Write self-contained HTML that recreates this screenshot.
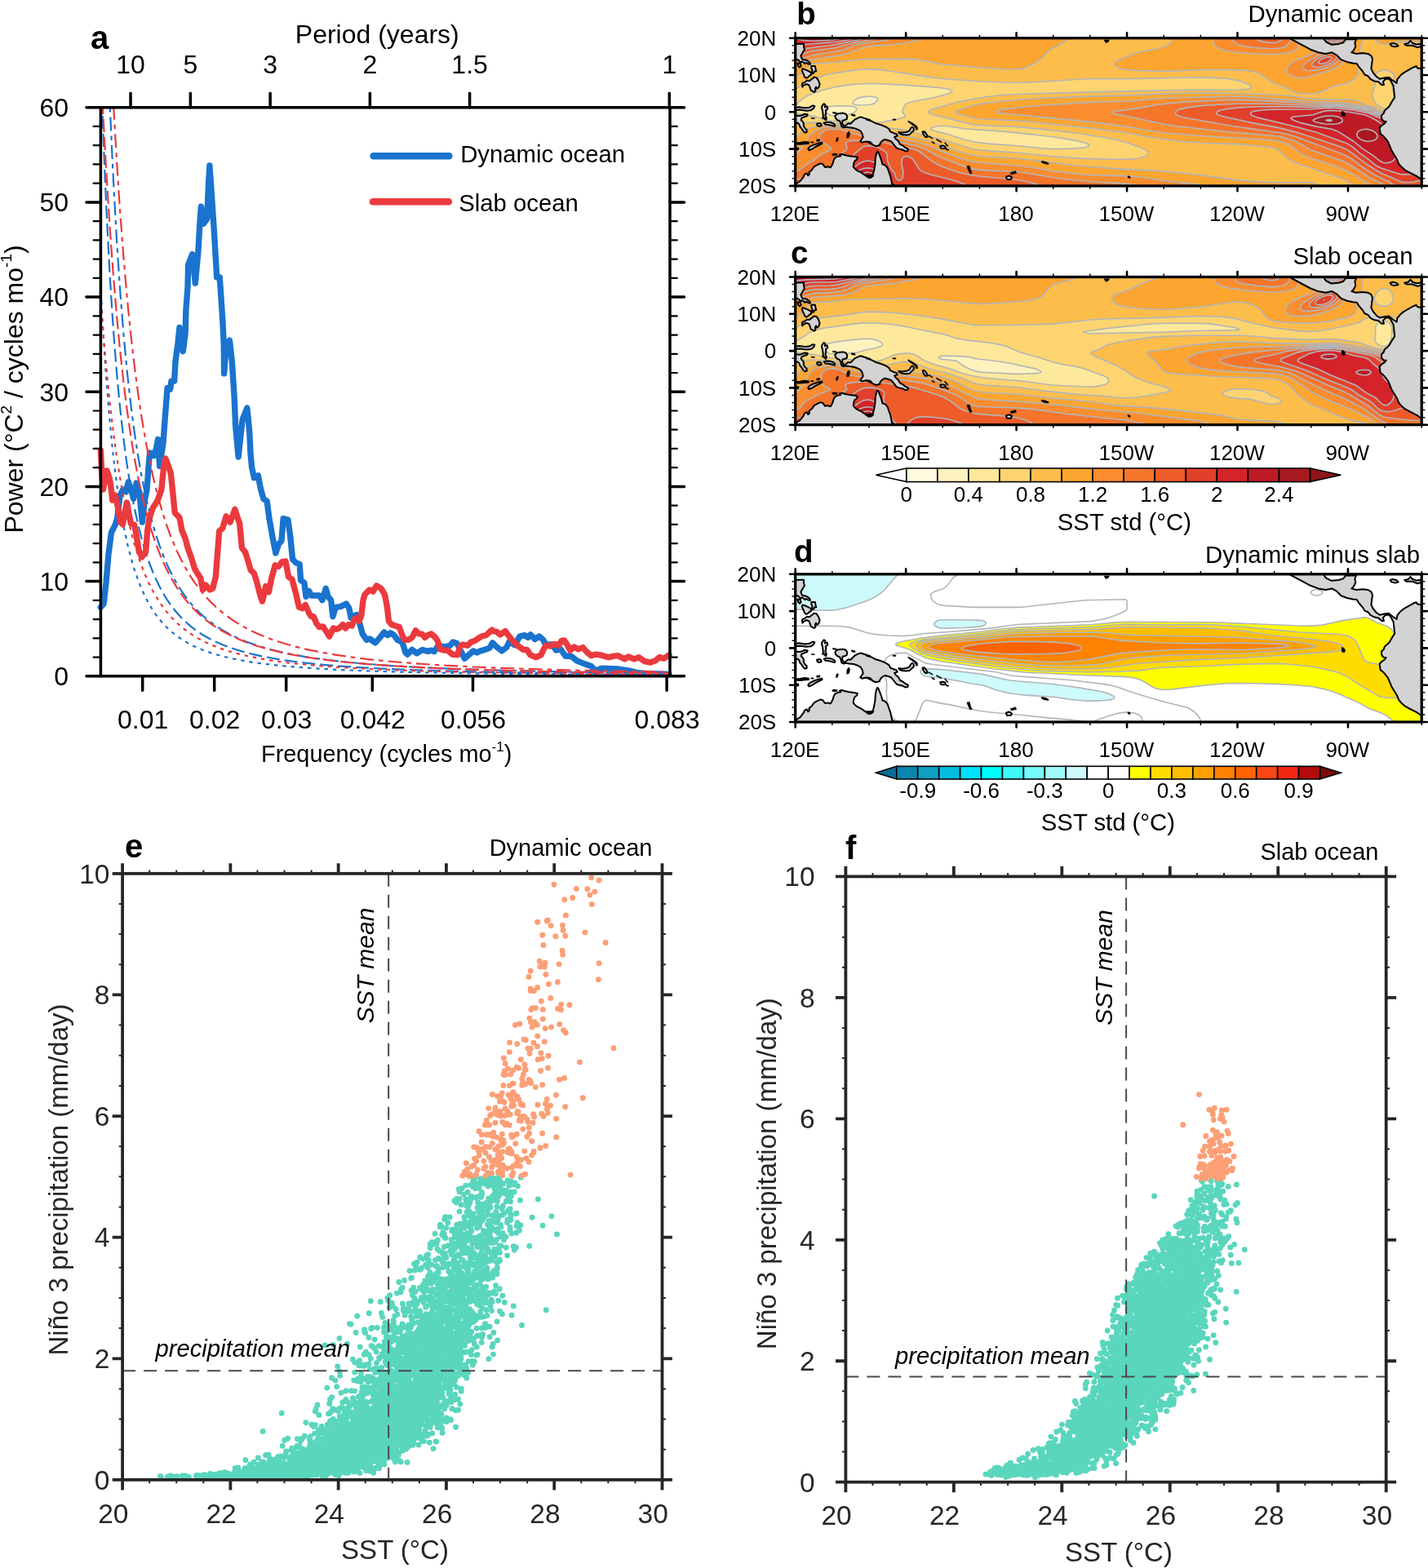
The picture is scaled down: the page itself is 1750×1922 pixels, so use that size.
<!DOCTYPE html>
<html lang="en"><head><meta charset="utf-8"><title>Figure</title>
<style>
html,body{margin:0;padding:0;background:#fff;overflow:hidden}
svg{display:block}
text{font-family:"Liberation Sans",sans-serif;white-space:pre}
</style></head><body>
<svg width="1750" height="1922" viewBox="0 0 1750 1922">
<rect width="1750" height="1922" fill="#fff"/>
<g id="pa">
<clipPath id="clipa"><rect x="123.4" y="131.7" width="697.6" height="700.1"/></clipPath>
<g clip-path="url(#clipa)" fill="none" stroke-width="2.2">
<path d="M113.1,81 114.9,139 116.6,191.5 118.4,239.2 120.1,282.4 121.9,321.6 123.7,357.1 125.4,389.4 127.2,418.8 128.9,445.6 130.7,470 132.5,492.3 134.2,512.7 136,531.5 137.7,548.7 139.5,564.5 141.3,579.1 143,592.6 144.8,605 146.5,616.5 148.3,627.2 150.1,637.2 151.8,646.4 153.6,655 155.3,663.1 157.1,670.6 158.9,677.6 160.6,684.2 162.4,690.3 164.1,696.1 165.9,701.6 167.7,706.7 169.4,711.5 171.2,716.1 172.9,720.4 174.7,724.4 176.5,728.3 178.2,731.9 180,735.4 181.7,738.6 183.5,741.7 185.3,744.7 187,747.5 188.8,750.1 190.5,752.7 192.3,755.1 194.1,757.4 195.8,759.6 197.6,761.7 199.3,763.7 201.1,765.6 202.9,767.5 204.6,769.2 206.4,770.9 208.1,772.5 209.9,774.1 211.7,775.6 213.4,777 215.2,778.4 216.9,779.7 218.7,781 220.5,782.2 222.2,783.4 224,784.5 225.7,785.6 227.5,786.6 229.3,787.6 231,788.6 232.8,789.6 234.5,790.5 236.3,791.4 238.1,792.2 239.8,793 241.6,793.8 243.3,794.6 245.1,795.3 246.9,796 248.6,796.7 250.4,797.4 252.1,798.1 253.9,798.7 255.7,799.3 257.4,799.9 259.2,800.5 260.9,801.1 262.7,801.6 264.5,802.1 273.3,804.6 282.1,806.7 290.9,808.5 299.7,810.1 308.5,811.6 317.3,812.9 326.1,814 334.9,815 343.7,815.9 352.5,816.8 361.3,817.5 370.1,818.2 378.9,818.8 387.7,819.4 396.5,819.9 405.3,820.4 414.1,820.9 422.9,821.3 431.7,821.6 440.5,822 449.3,822.3 458.1,822.6 466.9,822.9 475.7,823.2 484.5,823.4 493.3,823.6 502.1,823.9 510.9,824.1 519.7,824.3 528.5,824.4 537.3,824.6 546.1,824.8 554.9,824.9 563.7,825.1 572.5,825.2 581.3,825.3 590.1,825.4 598.9,825.5 607.7,825.7 616.5,825.8 625.3,825.9 634.1,826 642.9,826 651.7,826.1 660.5,826.2 669.3,826.3 678.1,826.4 686.9,826.4 695.7,826.5 704.5,826.6 713.3,826.6 722.1,826.7 730.9,826.7 739.7,826.8 748.5,826.9 757.3,826.9 766.1,826.9 774.9,827 783.7,827 792.5,827.1 801.3,827.1 810.1,827.2 818.9,827.2" stroke="#1a73ce" stroke-dasharray="4.5 5.8"/>
<path d="M120.1,-33.9 121.9,27.9 123.7,84 125.4,135 127.2,181.4 128.9,223.7 130.7,262.2 132.5,297.5 134.2,329.7 136,359.3 137.7,386.5 139.5,411.5 141.3,434.5 143,455.8 144.8,475.4 146.5,493.7 148.3,510.5 150.1,526.2 151.8,540.8 153.6,554.4 155.3,567.1 157.1,579 158.9,590.1 160.6,600.5 162.4,610.2 164.1,619.3 165.9,627.9 167.7,636 169.4,643.6 171.2,650.8 172.9,657.6 174.7,664 176.5,670.1 178.2,675.8 180,681.3 181.7,686.4 183.5,691.3 185.3,696 187,700.4 188.8,704.6 190.5,708.6 192.3,712.4 194.1,716.1 195.8,719.6 197.6,722.9 199.3,726 201.1,729.1 202.9,732 204.6,734.8 206.4,737.4 208.1,740 209.9,742.4 211.7,744.8 213.4,747 215.2,749.2 216.9,751.3 218.7,753.3 220.5,755.2 222.2,757.1 224,758.8 225.7,760.6 227.5,762.2 229.3,763.8 231,765.4 232.8,766.9 234.5,768.3 236.3,769.7 238.1,771 239.8,772.3 241.6,773.6 243.3,774.8 245.1,776 246.9,777.1 248.6,778.2 250.4,779.3 252.1,780.3 253.9,781.3 255.7,782.3 257.4,783.2 259.2,784.1 260.9,785 262.7,785.8 264.5,786.7 273.3,790.5 282.1,793.8 290.9,796.8 299.7,799.3 308.5,801.6 317.3,803.6 326.1,805.4 334.9,807 343.7,808.5 352.5,809.8 361.3,811 370.1,812.1 378.9,813.1 387.7,814 396.5,814.8 405.3,815.6 414.1,816.3 422.9,816.9 431.7,817.5 440.5,818.1 449.3,818.6 458.1,819 466.9,819.5 475.7,819.9 484.5,820.3 493.3,820.7 502.1,821 510.9,821.3 519.7,821.6 528.5,821.9 537.3,822.2 546.1,822.4 554.9,822.7 563.7,822.9 572.5,823.1 581.3,823.3 590.1,823.5 598.9,823.7 607.7,823.8 616.5,824 625.3,824.2 634.1,824.3 642.9,824.4 651.7,824.6 660.5,824.7 669.3,824.8 678.1,824.9 686.9,825.1 695.7,825.2 704.5,825.3 713.3,825.4 722.1,825.5 730.9,825.6 739.7,825.6 748.5,825.7 757.3,825.8 766.1,825.9 774.9,826 783.7,826 792.5,826.1 801.3,826.2 810.1,826.2 818.9,826.3" stroke="#1a73ce" stroke-dasharray="16 6"/>
<path d="M128.9,-28.9 130.7,24 132.5,72.6 134.2,117.2 136,158.3 137.7,196.1 139.5,231 141.3,263.3 143,293.2 144.8,320.8 146.5,346.5 148.3,370.4 150.1,392.6 151.8,413.3 153.6,432.6 155.3,450.7 157.1,467.6 158.9,483.4 160.6,498.2 162.4,512.1 164.1,525.2 165.9,537.5 167.7,549.1 169.4,560.1 171.2,570.4 172.9,580.2 174.7,589.4 176.5,598.1 178.2,606.4 180,614.2 181.7,621.7 183.5,628.7 185.3,635.5 187,641.8 188.8,647.9 190.5,653.7 192.3,659.3 194.1,664.5 195.8,669.6 197.6,674.4 199.3,679 201.1,683.4 202.9,687.6 204.6,691.6 206.4,695.5 208.1,699.2 209.9,702.7 211.7,706.1 213.4,709.4 215.2,712.6 216.9,715.6 218.7,718.5 220.5,721.3 222.2,724 224,726.6 225.7,729.1 227.5,731.5 229.3,733.9 231,736.1 232.8,738.3 234.5,740.4 236.3,742.4 238.1,744.3 239.8,746.2 241.6,748 243.3,749.8 245.1,751.5 246.9,753.2 248.6,754.8 250.4,756.3 252.1,757.8 253.9,759.3 255.7,760.7 257.4,762.1 259.2,763.4 260.9,764.7 262.7,766 264.5,767.2 273.3,772.8 282.1,777.6 290.9,781.9 299.7,785.7 308.5,789 317.3,791.9 326.1,794.6 334.9,796.9 343.7,799.1 352.5,801 361.3,802.7 370.1,804.3 378.9,805.8 387.7,807.1 396.5,808.3 405.3,809.4 414.1,810.4 422.9,811.4 431.7,812.2 440.5,813 449.3,813.8 458.1,814.5 466.9,815.2 475.7,815.8 484.5,816.3 493.3,816.9 502.1,817.4 510.9,817.8 519.7,818.3 528.5,818.7 537.3,819.1 546.1,819.4 554.9,819.8 563.7,820.1 572.5,820.4 581.3,820.7 590.1,821 598.9,821.3 607.7,821.5 616.5,821.8 625.3,822 634.1,822.2 642.9,822.4 651.7,822.6 660.5,822.8 669.3,823 678.1,823.1 686.9,823.3 695.7,823.5 704.5,823.6 713.3,823.8 722.1,823.9 730.9,824 739.7,824.2 748.5,824.3 757.3,824.4 766.1,824.5 774.9,824.6 783.7,824.7 792.5,824.8 801.3,824.9 810.1,825 818.9,825.1" stroke="#1a73ce" stroke-dasharray="17 6 5.5 6"/>
</g>
<path d="M123.4,744.3 127.1,740 130,714.3 132.9,680 136.4,652.9 141.4,642.9 143.6,635.7 147.1,607.1 150.7,600 154.3,602.9 157.4,590.7 160.7,600 163.6,611.4 167.1,592.1 170.7,602.9 174.3,640 177.1,614.3 180,600 182.1,571.4 183.6,555 188.6,558.6 191.4,550 193.6,538.6 195.7,571.4 200,542.9 202.1,514.3 204.3,485.7 205,475.7 208.6,477.1 210,467.1 213.6,467.1 215,442.9 217.9,421.4 220,401.4 224.3,430.7 227.1,408.6 227.9,380 230,351.4 230.7,324.3 235.7,311.7 239.3,347.1 242.9,308.6 245,271.4 246.4,253.1 249.3,274.3 253.6,268.6 255.7,222.9 256.9,202.9 259.3,237.1 262.6,287.1 265.7,340 269.3,340 272.9,394.3 274.3,422.9 274.6,457.9 277.1,425.7 281.4,417.1 284.3,442.9 287.1,485.7 288.6,521.4 292.1,560 297.1,514.3 302.9,500 305.7,528.6 307.1,557.1 308.6,572.9 311.4,585.7 316.4,582.9 319.3,598.6 322.9,611.4 327.1,614.3 330,635.7 334.3,660 337.9,677.9 341.4,667.1 345,662.9 347.1,635.7 352.9,637.1 355.7,657.1 358.6,685.7 362.9,690 367.1,691.4 368.6,711.4 372.9,714.3 375,731.4 378.6,724.3 381.4,730 391.4,730 395,735.7 399.3,721.4 402.1,731.4 405.7,735.7 407.9,755.7 411.4,744.3 417.1,743.6 424.3,740 427.9,745.7 430,757.1 437.1,753.6 440.7,764.3 444.3,777.1 449.3,784.3 452.9,782.9 460,787.9 465.7,781.4 470.7,775 475,778.6 478.6,775.7 482.9,778.6 487.1,784.3 492.9,787.1 497.1,800 499.3,802.1 505,796.4 510.7,800.7 517.9,796.4 524.3,798.6 528.6,797.1 532.1,798.6 537.1,791.4 545.7,792.9 551.4,791.4 555,787.1 560,788.6 565.7,800 569.3,807.1 574.3,802.9 580,797.9 584.3,800 588.6,797.9 594.3,796.4 600,794.3 603.6,787.9 607.1,791.4 608.6,792.9 615,797.9 620.7,793.6 624.3,786.4 630.7,790.7 637.1,780 642.9,778.6 647.1,781.4 650,777.9 655.7,783.6 660.7,780 665.7,784.3 668.6,790 677.1,790 681.4,797.1 687.1,795.7 692.9,804.3 700,804.3 707.1,810 714.3,812.9 724.3,816.4 730,822.1 737.1,819.3 757.1,820 771.4,822.1 782.9,825 800,825.7 820,826.4" stroke="#1a73ce" fill="none" stroke-width="7.4" stroke-linejoin="round" stroke-linecap="round"/>
<g clip-path="url(#clipa)" fill="none" stroke-width="2.2">
<path d="M113.1,215.4 114.9,244.3 116.6,272.3 118.4,299.2 120.1,325 121.9,349.5 123.7,372.9 125.4,395.1 127.2,416.1 128.9,436 130.7,454.7 132.5,472.5 134.2,489.2 136,505 137.7,519.9 139.5,533.9 141.3,547.1 143,559.6 144.8,571.3 146.5,582.4 148.3,592.9 150.1,602.7 151.8,612.1 153.6,620.9 155.3,629.2 157.1,637.1 158.9,644.6 160.6,651.6 162.4,658.3 164.1,664.7 165.9,670.7 167.7,676.4 169.4,681.8 171.2,687 172.9,691.9 174.7,696.6 176.5,701 178.2,705.3 180,709.3 181.7,713.2 183.5,716.9 185.3,720.4 187,723.7 188.8,726.9 190.5,730 192.3,732.9 194.1,735.8 195.8,738.5 197.6,741 199.3,743.5 201.1,745.9 202.9,748.2 204.6,750.4 206.4,752.5 208.1,754.5 209.9,756.5 211.7,758.3 213.4,760.1 215.2,761.9 216.9,763.6 218.7,765.2 220.5,766.7 222.2,768.2 224,769.7 225.7,771.1 227.5,772.4 229.3,773.7 231,775 232.8,776.2 234.5,777.4 236.3,778.5 238.1,779.6 239.8,780.7 241.6,781.7 243.3,782.7 245.1,783.7 246.9,784.6 248.6,785.5 250.4,786.4 252.1,787.3 253.9,788.1 255.7,788.9 257.4,789.7 259.2,790.5 260.9,791.2 262.7,791.9 264.5,792.6 273.3,795.9 282.1,798.7 290.9,801.1 299.7,803.3 308.5,805.2 317.3,807 326.1,808.5 334.9,809.9 343.7,811.1 352.5,812.3 361.3,813.3 370.1,814.2 378.9,815.1 387.7,815.9 396.5,816.6 405.3,817.2 414.1,817.8 422.9,818.4 431.7,818.9 440.5,819.4 449.3,819.8 458.1,820.3 466.9,820.7 475.7,821 484.5,821.4 493.3,821.7 502.1,822 510.9,822.2 519.7,822.5 528.5,822.8 537.3,823 546.1,823.2 554.9,823.4 563.7,823.6 572.5,823.8 581.3,824 590.1,824.1 598.9,824.3 607.7,824.4 616.5,824.6 625.3,824.7 634.1,824.9 642.9,825 651.7,825.1 660.5,825.2 669.3,825.3 678.1,825.4 686.9,825.5 695.7,825.6 704.5,825.7 713.3,825.8 722.1,825.9 730.9,825.9 739.7,826 748.5,826.1 757.3,826.2 766.1,826.2 774.9,826.3 783.7,826.4 792.5,826.4 801.3,826.5 810.1,826.5 818.9,826.6" stroke="#eb3a3e" stroke-dasharray="4.5 5.8"/>
<path d="M118.4,-29.8 120.1,10.9 121.9,49.8 123.7,86.8 125.4,122.1 127.2,155.6 128.9,187.4 130.7,217.5 132.5,245.9 134.2,272.8 136,298.2 137.7,322.2 139.5,344.8 141.3,366.2 143,386.4 144.8,405.4 146.5,423.4 148.3,440.4 150.1,456.5 151.8,471.7 153.6,486 155.3,499.6 157.1,512.5 158.9,524.7 160.6,536.2 162.4,547.2 164.1,557.6 165.9,567.5 167.7,576.8 169.4,585.8 171.2,594.2 172.9,602.3 174.7,610 176.5,617.3 178.2,624.3 180,630.9 181.7,637.3 183.5,643.3 185.3,649.1 187,654.6 188.8,659.9 190.5,665 192.3,669.9 194.1,674.5 195.8,678.9 197.6,683.2 199.3,687.3 201.1,691.2 202.9,695 204.6,698.6 206.4,702.1 208.1,705.5 209.9,708.7 211.7,711.8 213.4,714.8 215.2,717.7 216.9,720.4 218.7,723.1 220.5,725.7 222.2,728.2 224,730.6 225.7,732.9 227.5,735.1 229.3,737.3 231,739.4 232.8,741.4 234.5,743.3 236.3,745.2 238.1,747 239.8,748.8 241.6,750.5 243.3,752.2 245.1,753.8 246.9,755.4 248.6,756.9 250.4,758.3 252.1,759.8 253.9,761.1 255.7,762.5 257.4,763.8 259.2,765.1 260.9,766.3 262.7,767.5 264.5,768.6 273.3,774 282.1,778.6 290.9,782.7 299.7,786.4 308.5,789.6 317.3,792.5 326.1,795 334.9,797.3 343.7,799.4 352.5,801.3 361.3,803 370.1,804.5 378.9,806 387.7,807.3 396.5,808.4 405.3,809.5 414.1,810.6 422.9,811.5 431.7,812.3 440.5,813.1 449.3,813.9 458.1,814.6 466.9,815.2 475.7,815.8 484.5,816.4 493.3,816.9 502.1,817.4 510.9,817.9 519.7,818.3 528.5,818.7 537.3,819.1 546.1,819.5 554.9,819.8 563.7,820.1 572.5,820.5 581.3,820.8 590.1,821 598.9,821.3 607.7,821.5 616.5,821.8 625.3,822 634.1,822.2 642.9,822.4 651.7,822.6 660.5,822.8 669.3,823 678.1,823.2 686.9,823.3 695.7,823.5 704.5,823.6 713.3,823.8 722.1,823.9 730.9,824 739.7,824.2 748.5,824.3 757.3,824.4 766.1,824.5 774.9,824.6 783.7,824.7 792.5,824.8 801.3,824.9 810.1,825 818.9,825.1" stroke="#eb3a3e" stroke-dasharray="16 6"/>
<path d="M132.5,-8 134.2,31.3 136,68.3 137.7,103.2 139.5,136.2 141.3,167.2 143,196.5 144.8,224.1 146.5,250.1 148.3,274.7 150.1,297.9 151.8,319.8 153.6,340.5 155.3,360.1 157.1,378.6 158.9,396.1 160.6,412.7 162.4,428.4 164.1,443.3 165.9,457.5 167.7,470.9 169.4,483.7 171.2,495.8 172.9,507.3 174.7,518.3 176.5,528.8 178.2,538.7 180,548.2 181.7,557.3 183.5,565.9 185.3,574.2 187,582 188.8,589.6 190.5,596.8 192.3,603.7 194.1,610.3 195.8,616.6 197.6,622.7 199.3,628.5 201.1,634.1 202.9,639.5 204.6,644.6 206.4,649.6 208.1,654.3 209.9,658.9 211.7,663.3 213.4,667.5 215.2,671.6 216.9,675.6 218.7,679.4 220.5,683 222.2,686.5 224,689.9 225.7,693.2 227.5,696.4 229.3,699.4 231,702.4 232.8,705.3 234.5,708 236.3,710.7 238.1,713.3 239.8,715.8 241.6,718.2 243.3,720.6 245.1,722.9 246.9,725.1 248.6,727.2 250.4,729.3 252.1,731.3 253.9,733.3 255.7,735.2 257.4,737 259.2,738.8 260.9,740.5 262.7,742.2 264.5,743.9 273.3,751.4 282.1,758 290.9,763.8 299.7,768.9 308.5,773.5 317.3,777.5 326.1,781.1 334.9,784.4 343.7,787.3 352.5,790 361.3,792.4 370.1,794.6 378.9,796.6 387.7,798.4 396.5,800.1 405.3,801.6 414.1,803.1 422.9,804.4 431.7,805.6 440.5,806.7 449.3,807.8 458.1,808.8 466.9,809.7 475.7,810.5 484.5,811.3 493.3,812.1 502.1,812.7 510.9,813.4 519.7,814 528.5,814.6 537.3,815.1 546.1,815.7 554.9,816.1 563.7,816.6 572.5,817 581.3,817.5 590.1,817.8 598.9,818.2 607.7,818.6 616.5,818.9 625.3,819.2 634.1,819.5 642.9,819.8 651.7,820.1 660.5,820.4 669.3,820.6 678.1,820.9 686.9,821.1 695.7,821.3 704.5,821.5 713.3,821.7 722.1,821.9 730.9,822.1 739.7,822.3 748.5,822.4 757.3,822.6 766.1,822.8 774.9,822.9 783.7,823.1 792.5,823.2 801.3,823.4 810.1,823.5 818.9,823.6" stroke="#eb3a3e" stroke-dasharray="17 6 5.5 6"/>
</g>
<path d="M123.4,552 124.5,575 126.3,600 128.5,590 131,577 133.5,584 135.5,593 137.8,613 141,607 144.5,622 147.5,640 150.5,643 153,628 155.5,616 158,630 160.5,642 164.5,643 167,655 170,674 173.6,683 178.6,677 180.7,650 182.9,636 187.1,623 192.9,614 197.9,600 200.7,571.4 202.9,562.1 206.4,571.4 209.3,580 211.4,600 214.3,628.6 220,634.3 222.9,650 227.1,660 230,671.4 234.3,682.9 238.6,697.1 242.9,704.3 245.7,708.6 248.6,722.9 252.1,717.1 257.1,722.9 260.7,721.4 264.3,707.1 267.1,671.4 268.6,651.4 272.9,647.1 277.1,632.9 282.1,640 287.9,624.3 291.4,635.7 293.6,641.4 296.4,671.4 300.7,677.1 304.3,688.6 307.1,698.6 311.4,702.9 315,714.3 318.6,728.6 321.4,737.1 325.7,718.6 329.3,725.7 332.9,708.6 337.1,692.9 341.4,694.3 345.7,688.6 350,687.9 353.6,707.1 357.9,710 362.9,728.6 366.4,744.3 370.7,745.7 374.3,741.4 378.6,751.4 381.4,755.7 384.3,755.7 387.9,764.3 391.4,768.6 395.7,767.9 400,774.3 403.6,780 408.6,770 412.1,771.4 415.7,770 420,765.7 423.6,770 427.1,765.7 431.4,767.1 434.3,758.6 437.9,757.1 440,761.4 442.9,754.3 445,735.7 447.1,728.6 452.9,722.9 457.1,725 461.4,717.9 467.1,721.4 471.4,728.6 474.3,742.9 476.4,761.4 480,765.7 484.3,767.1 489.3,768.6 492.9,778.6 495.7,784.3 500.7,784.3 505,781.4 509.3,772.9 513.6,777.1 517.1,777.1 520.7,781.4 524.3,778.6 528.6,777.1 533.6,781.4 536.4,785.7 539.3,795.7 544.3,797.1 548.6,797.1 554.3,802.1 560.7,802.9 563.6,792.9 567.1,790 572.9,791.4 577.1,787.1 581.4,785.7 585.7,782.9 590,780 595.7,778.6 602.9,772.1 604.3,773.6 608.6,774.3 612.9,777.9 619.3,773.6 622.9,778.6 628.6,785.7 634.3,791.4 641.4,796.4 645.7,796.4 650,802.9 657.1,805.7 662.9,802.9 667.1,794.3 670,790.7 674.3,792.1 680,789.3 684.3,791.4 687.9,785.7 691.4,785 695,790 698.6,797.1 703.6,792.9 708.6,795.7 714.3,793.6 718.6,798.6 724.3,803.6 730,802.1 735.7,802.9 745.7,805.7 751.4,804.3 757.1,803.6 765.7,807.9 770,805 777.1,807.9 782.9,805.7 790,810.7 797.1,812.1 802.9,810 807.9,805.7 813.6,807.1 820,802.9" stroke="#eb3a3e" fill="none" stroke-width="7.4" stroke-linejoin="round" stroke-linecap="round"/>
<g stroke="#000" stroke-linecap="round" fill="none">
<rect x="123.4" y="131.7" width="697.6" height="697.1" stroke-width="3.5" stroke-linejoin="round"/>
<path d="M123.4 828.8H105.9 M821 828.8H838.5" stroke-width="3.5"/>
<path d="M123.4 805.56H114.6 M821 805.56H829.8" stroke-width="2.2"/>
<path d="M123.4 782.33H114.6 M821 782.33H829.8" stroke-width="2.2"/>
<path d="M123.4 759.09H114.6 M821 759.09H829.8" stroke-width="2.2"/>
<path d="M123.4 735.85H114.6 M821 735.85H829.8" stroke-width="2.2"/>
<path d="M123.4 712.62H105.9 M821 712.62H838.5" stroke-width="3.5"/>
<path d="M123.4 689.38H114.6 M821 689.38H829.8" stroke-width="2.2"/>
<path d="M123.4 666.14H114.6 M821 666.14H829.8" stroke-width="2.2"/>
<path d="M123.4 642.91H114.6 M821 642.91H829.8" stroke-width="2.2"/>
<path d="M123.4 619.67H114.6 M821 619.67H829.8" stroke-width="2.2"/>
<path d="M123.4 596.43H105.9 M821 596.43H838.5" stroke-width="3.5"/>
<path d="M123.4 573.2H114.6 M821 573.2H829.8" stroke-width="2.2"/>
<path d="M123.4 549.96H114.6 M821 549.96H829.8" stroke-width="2.2"/>
<path d="M123.4 526.72H114.6 M821 526.72H829.8" stroke-width="2.2"/>
<path d="M123.4 503.49H114.6 M821 503.49H829.8" stroke-width="2.2"/>
<path d="M123.4 480.25H105.9 M821 480.25H838.5" stroke-width="3.5"/>
<path d="M123.4 457.01H114.6 M821 457.01H829.8" stroke-width="2.2"/>
<path d="M123.4 433.78H114.6 M821 433.78H829.8" stroke-width="2.2"/>
<path d="M123.4 410.54H114.6 M821 410.54H829.8" stroke-width="2.2"/>
<path d="M123.4 387.3H114.6 M821 387.3H829.8" stroke-width="2.2"/>
<path d="M123.4 364.07H105.9 M821 364.07H838.5" stroke-width="3.5"/>
<path d="M123.4 340.83H114.6 M821 340.83H829.8" stroke-width="2.2"/>
<path d="M123.4 317.59H114.6 M821 317.59H829.8" stroke-width="2.2"/>
<path d="M123.4 294.36H114.6 M821 294.36H829.8" stroke-width="2.2"/>
<path d="M123.4 271.12H114.6 M821 271.12H829.8" stroke-width="2.2"/>
<path d="M123.4 247.88H105.9 M821 247.88H838.5" stroke-width="3.5"/>
<path d="M123.4 224.65H114.6 M821 224.65H829.8" stroke-width="2.2"/>
<path d="M123.4 201.41H114.6 M821 201.41H829.8" stroke-width="2.2"/>
<path d="M123.4 178.17H114.6 M821 178.17H829.8" stroke-width="2.2"/>
<path d="M123.4 154.94H114.6 M821 154.94H829.8" stroke-width="2.2"/>
<path d="M123.4 131.7H105.9 M821 131.7H838.5" stroke-width="3.5"/>
<path d="M174.7 828.8V846.3" stroke-width="3.5"/>
<path d="M262.7 828.8V846.3" stroke-width="3.5"/>
<path d="M350.7 828.8V846.3" stroke-width="3.5"/>
<path d="M456.3 828.8V846.3" stroke-width="3.5"/>
<path d="M579.5 828.8V846.3" stroke-width="3.5"/>
<path d="M817.1 828.8V846.3" stroke-width="3.5"/>
<path d="M160.03 131.7V114.2" stroke-width="3.5"/>
<path d="M233.37 131.7V114.2" stroke-width="3.5"/>
<path d="M331.14 131.7V114.2" stroke-width="3.5"/>
<path d="M453.37 131.7V114.2" stroke-width="3.5"/>
<path d="M575.59 131.7V114.2" stroke-width="3.5"/>
<path d="M820.3 131.7V114.2" stroke-width="3.5"/>
</g>
<text x="84" y="840.2" font-size="32" text-anchor="end" fill="#000">0</text>
<text x="84" y="724.02" font-size="32" text-anchor="end" fill="#000">10</text>
<text x="84" y="607.83" font-size="32" text-anchor="end" fill="#000">20</text>
<text x="84" y="491.65" font-size="32" text-anchor="end" fill="#000">30</text>
<text x="84" y="375.47" font-size="32" text-anchor="end" fill="#000">40</text>
<text x="84" y="259.28" font-size="32" text-anchor="end" fill="#000">50</text>
<text x="84" y="143.1" font-size="32" text-anchor="end" fill="#000">60</text>
<text x="175.2" y="892.8" font-size="32" text-anchor="middle" fill="#000">0.01</text>
<text x="263.2" y="892.8" font-size="32" text-anchor="middle" fill="#000">0.02</text>
<text x="351.2" y="892.8" font-size="32" text-anchor="middle" fill="#000">0.03</text>
<text x="456.8" y="892.8" font-size="32" text-anchor="middle" fill="#000">0.042</text>
<text x="580" y="892.8" font-size="32" text-anchor="middle" fill="#000">0.056</text>
<text x="817.6" y="892.8" font-size="32" text-anchor="middle" fill="#000">0.083</text>
<text x="160.03" y="89.5" font-size="32" text-anchor="middle" fill="#000">10</text>
<text x="233.37" y="89.5" font-size="32" text-anchor="middle" fill="#000">5</text>
<text x="331.14" y="89.5" font-size="32" text-anchor="middle" fill="#000">3</text>
<text x="453.37" y="89.5" font-size="32" text-anchor="middle" fill="#000">2</text>
<text x="575.59" y="89.5" font-size="32" text-anchor="middle" fill="#000">1.5</text>
<text x="820.5" y="89.5" font-size="32" text-anchor="middle" fill="#000">1</text>
<text x="462.3" y="53.3" font-size="32" text-anchor="middle" fill="#000">Period (years)</text>
<text x="320" y="934.3" font-size="28.9" text-anchor="start">Frequency (cycles mo<tspan font-size="17" dy="-13">-1</tspan><tspan dy="13">)</tspan></text>
<text transform="translate(27.7 477) rotate(-90)" font-size="32" text-anchor="middle">Power (°C<tspan font-size="19" dy="-13.5">2</tspan><tspan dy="13.5"> / cycles mo</tspan><tspan font-size="19" dy="-13.5">-1</tspan><tspan dy="13.5">)</tspan></text>
<text x="111" y="59.5" font-size="40" text-anchor="start" fill="#000" font-weight="bold">a</text>
<path d="M457.6 191.3H550.3" stroke="#1a73ce" stroke-width="8.6" stroke-linecap="round"/>
<path d="M457 247.3H549.8" stroke="#eb3a3e" stroke-width="8.6" stroke-linecap="round"/>
<text x="564.2" y="198.8" font-size="29.3" text-anchor="start" fill="#000">Dynamic ocean</text>
<text x="562.2" y="258.5" font-size="29.3" text-anchor="start" fill="#000">Slab ocean</text>
</g>
<g id="maps">
<defs><clipPath id="mclip"><rect x="0" y="0" width="767.55" height="181.2"/></clipPath>
<g id="land">
<path d="M-1,7.3 4.7,7 10.4,7 10.2,10.7 11.3,13.9 9.6,16.5 8.2,19.3 6.7,21.6 7.6,24.5 8.7,26.2 11.6,26.5 14.4,27.6 17.3,29.6 18.4,31.9 16.2,31.9 13.3,30.2 11.6,31.3 9.6,29.3 7.9,28.7 6.4,29.9 4.2,27.3 1.9,26.2 -1,25ZM2.7,30.7 5.9,31.3 7,34.2 5.3,35.9 3.6,34.2ZM19.6,34.2 24.2,34.2 24.7,37.6 25.6,40.5 23,41 22.4,43.3 20.2,42.7 20.7,39.3 19.6,37ZM8.7,37.6 12.2,38.7 16.2,40.5 19,42.2 19.6,45 17.3,46.2 15.6,47.9 13.3,49 11.6,47.9 10.4,45 9.3,42.7 8.2,39.9ZM8.7,55.3 11.6,54.2 14.4,51.9 17.3,52.5 23,47.9 25.9,48.5 28.2,51.9 29.9,56.5 28.7,60.5 26.4,62.2 25.3,59.9 24.2,62.2 24.7,65 23,66.2 19,63.9 17.9,60.5 16.7,57.6 14.4,56.5 12.2,57 9.9,58.2 8.7,59.9 8.2,57ZM-1,85.6 4.2,84.5 11.6,85.6 17.3,85 21.3,82.7 23.6,83.3 22.4,86.2 19,88.5 13.3,89 5.9,87.9 -1,88.5ZM-1,94.7 5.9,95.3 11.6,93 15,93.6 14.4,95.3 11,96.5 7.6,98.2 7,100.5 9.3,102.7 10.4,105.6 9.9,107.3 11.6,110.2 13.9,112.5 13.9,115.3 11.6,115.9 9.3,113.6 7.6,110.7 5.9,109 4.7,105.6 3,103.9 -1,104.5ZM32.7,83.3 35,80.5 36.7,81.6 36.2,84.5 39,83.9 39.6,86.7 37.3,88.5 37.6,91.9 36.7,94.7 38.2,98.2 37.3,100.5 34.4,97.6 33.3,89 32.2,85.6ZM26.4,105 29.3,104.2 31.6,105.3 31.9,107.3 29.3,108.2 27,107.3ZM35,103.9 38.4,103 43,103.3 47,105 48.7,106.7 48.2,108.2 44.7,107.3 40.7,106.2 36.7,105.9ZM15.6,135.9 17.9,133 23,130.7 28.2,129 32.7,127.9 32.7,129.3 24.7,133.3 20.2,136.2 16.7,137.6ZM-1,128.5 5.9,128.2 11.6,127.3 16.2,127.9 16.2,129.1 11.6,129.5 5.9,130.1 -1,129.8ZM-1,134.5 3.6,135 3.3,136.6 -1,136.3ZM48.7,95.3 51,93 54.4,92.2 58.4,91.9 61.9,93 63.6,95.9 63,99.3 60.2,100.5 57.9,101 57.3,103.9 58.7,107 60.4,108.2 64.7,104.5 67.6,105 72.7,99.9 77.3,97.6 80.2,96.7 84.7,98.2 91.6,100.5 87.3,99.9 93,101.6 98.7,104.5 104.4,106.2 110.2,108.5 114.7,111.3 116.4,114.7 120.4,116.5 123.9,117.6 125,119.9 121.6,121 122.7,123.3 126.2,126.2 128.4,130.2 131.9,131.9 134.7,134.2 138.2,135.9 137.6,138.2 134.7,138.7 131.9,137 127.3,135.9 123.9,134.7 120.4,130.2 117.6,126.7 113,125 109.6,124.2 106.2,126.2 103.9,129 103.3,131.3 98.7,132.5 94.7,130.7 90.7,127.3 87.3,127 94.4,130.2 91.6,127.3 86.4,126.7 81.9,127.9 79.6,126.7 83,121.6 81.9,117 79.6,113.6 76.2,111.9 71.6,110.2 65.9,109.6 61.9,109 59,109.6 56.7,108.5 55.6,104.5 54.4,101.6 51.6,100.5 49.3,98.2ZM-1,179.9 5.9,175.3 10.4,169.6 11,167.3 13.9,165.6 15.6,168.5 17.3,166.7 16.7,164.5 20.2,161.6 23,157.6 27,155.3 31,153.6 33.9,154.7 36.2,158.2 39.6,157.6 43,158.7 44.2,157 45.9,153.6 47,149.6 48.7,146.7 52.2,145 55.6,144.5 54.4,142.7 57.3,142.2 60.2,143.3 65.9,144.5 70.4,145 73.9,145.6 76.2,146.2 75.6,148.5 72.7,150.7 71.6,153.6 71,157.6 73.3,160.5 76.2,162.7 80.2,164.5 84.2,167.3 87.6,169.6 89.9,171.3 93.3,170.7 95.6,168.5 87.3,168.5 90.7,170.7 93.6,170.2 95.9,164.5 97.6,155.9 98.2,147.3 99.3,141.6 100.7,139 102.2,141 105.6,150.2 106.7,154.7 110.2,155.9 113,159.3 114.7,164.5 116.4,169 117.6,174.2 118.4,178.7 121.6,181 125,183.9 -1,183.9ZM126.7,115.3 130.7,115.9 135.9,115.3 139.9,113.6 141.6,110.2 143.3,109 145,110.2 145,113.6 142.2,115.9 139.9,118.2 135.9,118.7 130.7,118.2 127.3,116.7ZM155.9,114.7 158.2,114.5 161,118.2 161.9,121 159.3,121.3 157,118.2ZM177.6,132.2 181,131.9 183.9,133 183.9,135 180.4,135.6 177.9,134.5ZM258.2,170 262.1,168.7 265.3,170.7 264,173.3 259.5,173.3ZM600,-3 648,-3 648.1,1.6 650.5,4.8 656.9,8 665.7,7.2 671.3,5.6 674.5,1.6 687.3,1.6 685.7,5.6 686.5,10.4 684.1,15.2 681.7,17.6 687.3,19.2 695.3,18.4 701.7,19.2 705.7,21.6 707.3,25.6 706.5,31.2 705.7,37.6 708.1,42.4 712.1,47.2 716.1,50 721.7,48.8 727.3,48 732.1,52 736.9,55.2 737.7,50.4 741.7,45.6 745.7,42.4 756.9,36 760.9,34.4 762.5,36.8 767.3,37.6 768,36 768,172.5 766.2,172.7 761.6,169.3 752.4,164.7 747.3,161.9 742.7,157.9 739.3,153.9 737.6,149.3 730.7,137.9 728.4,132.2 726.2,127 722.7,122.5 719.9,119.6 717,117.3 715.9,109.9 718.7,107 722.2,104.7 723.9,102.2 721,101.9 718.7,99.6 718.2,95 721,92.2 722.2,88.7 725.6,85.9 727.9,83.6 731.3,77.6 734.5,72.8 732.9,58.4 728.9,51.2 725.7,49.6 722.5,50.8 720.1,53.6 721.3,57.2 718.5,57.2 714.5,53.6 709.7,52.8 704.9,50.4 701.7,46.4 697.7,44.8 695.3,40.8 690.5,35.2 688.1,31.2 683.3,30.8 676.1,29.2 668.9,26.4 663.3,20.8 657.7,17.6 649.7,19.2 640.9,17.6 631.3,14 607,1ZM728.9,7.2 732.1,6.2 736.9,7.4 738.9,9.6 734.5,10.6 730.5,9.6ZM746.5,7.2 751.3,6.2 753.7,3.2 756.1,6 760.9,7.8 767.3,7 767.3,10 762.5,11.4 756.1,9 748.9,9Z" fill="#d3d3d3" stroke="#000" stroke-width="2" stroke-linejoin="round"/>
<path d="M19.6,97.6 23.6,97.9 23.6,99 19.6,98.7ZM32.7,96.7 36.7,97.6 36.7,98.7 32.7,98.5ZM45.9,90.5 50.4,91.3 50.4,92.7 45.9,92.2ZM68.7,93 73.3,93.9 73.3,95.9 68.7,95ZM25.9,124.5 29.9,123.9 30.2,126.2 26.2,126.7ZM19,127 22.4,127.3 22.4,128.5 19,128.2ZM64.2,115.3 65.9,114.5 67,117 65.6,121.9 63,122.5 63,118.7ZM50.4,122.7 52.4,121.6 52.7,123.9 51.3,127 49.6,126.5ZM44.7,142.2 47.6,141.3 51.6,141.9 51,143.6 46.4,144.2ZM138.4,101.3 144.4,104.5 149.3,108.2 150.2,111.9 147.9,112.7 146.7,109 137.9,102.5ZM119.3,99.2 123.3,99.3 123.3,100.6 119.3,100.5ZM163.3,119.6 168.4,122.5 168.2,123.6 163,120.7ZM167.3,126.5 171,128.5 170.4,129.6 167,127.6ZM173,123.6 179.3,127 179,128.2 172.7,124.7ZM183.3,127.6 187.3,131.9 186.7,133 182.7,128.7ZM184.4,135.3 187.9,136.5 187.6,137.9 184.4,136.7ZM210.2,157.1 213.4,156.5 215.3,162.9 216.6,165.5 214,166.2 211.5,161ZM263.4,164.9 269.9,162.9 271.1,165.5 264.7,167.4ZM301.5,150.7 306,151.3 310.5,153.2 309.9,154.8 304.7,153.9 301.5,152.3ZM407.4,168.7 410.6,170 410,172.2 407.4,170.9ZM378.3,2.2 384.8,2.2 383.5,4.8 380.3,5.8ZM669.7,89.6 672.1,90.4 674.1,93.2 672.9,96 670.1,95.6 669.3,92.4Z" fill="#000" stroke="#000" stroke-width="0.5" stroke-linejoin="round"/>
</g>
<g id="mframe" stroke="#000" fill="none">
<rect x="0" y="0" width="767.55" height="181.2" stroke-width="3.3"/>
<path d="M0,0v-6.4M0,181.2v6.4M135.45,0v-6.4M135.45,181.2v6.4M270.9,0v-6.4M270.9,181.2v6.4M406.35,0v-6.4M406.35,181.2v6.4M541.8,0v-6.4M541.8,181.2v6.4M677.25,0v-6.4M677.25,181.2v6.4M0,181.2h-6.6M767.55,181.2h6.6M0,135.9h-6.6M767.55,135.9h6.6M0,90.6h-6.6M767.55,90.6h6.6M0,45.3h-6.6M767.55,45.3h6.6M0,0h-6.6M767.55,0h6.6" stroke-width="2.6" stroke-linecap="round"/>
<path d="M45.15,0v-3.4M45.15,181.2v3.4M90.3,0v-3.4M90.3,181.2v3.4M180.6,0v-3.4M180.6,181.2v3.4M225.75,0v-3.4M225.75,181.2v3.4M316.05,0v-3.4M316.05,181.2v3.4M361.2,0v-3.4M361.2,181.2v3.4M451.5,0v-3.4M451.5,181.2v3.4M496.65,0v-3.4M496.65,181.2v3.4M586.95,0v-3.4M586.95,181.2v3.4M632.1,0v-3.4M632.1,181.2v3.4M722.4,0v-3.4M722.4,181.2v3.4M767.55,0v-3.4M767.55,181.2v3.4M0,172.14h-3.6M767.55,172.14h3.6M0,163.08h-3.6M767.55,163.08h3.6M0,154.02h-3.6M767.55,154.02h3.6M0,144.96h-3.6M767.55,144.96h3.6M0,126.84h-3.6M767.55,126.84h3.6M0,117.78h-3.6M767.55,117.78h3.6M0,108.72h-3.6M767.55,108.72h3.6M0,99.66h-3.6M767.55,99.66h3.6M0,81.54h-3.6M767.55,81.54h3.6M0,72.48h-3.6M767.55,72.48h3.6M0,63.42h-3.6M767.55,63.42h3.6M0,54.36h-3.6M767.55,54.36h3.6M0,36.24h-3.6M767.55,36.24h3.6M0,27.18h-3.6M767.55,27.18h3.6M0,18.12h-3.6M767.55,18.12h3.6M0,9.06h-3.6M767.55,9.06h3.6" stroke-width="1.5" stroke-linecap="round"/>
</g>
</defs>
<g transform="translate(974.7 46.7)">
<g clip-path="url(#mclip)">
<rect x="0" y="0" width="767.55" height="181.2" fill="#ffffff"/>
<path d="M0,181.2 767.5,181.2 767.5,0 0,0 0,180.1Z" fill="#fff9df" fill-rule="evenodd"/>
<path d="M0,181.2 767.5,181.2 767.5,0 0,0 0,180.1Z" fill="#fef2bf" fill-rule="evenodd"/>
<path d="M0,181.2 767.5,181.2 767.5,0 0,0 0,180.1ZM42.9,94.6 38.3,92.9 35.6,90.6 34.6,88.3 34.7,87.2 35.4,86.1 37.1,84.9 40.6,83.9 47.4,83.3 63.2,83.2 70,83.7 73.9,84.9 74.9,86.1 75.1,87.2 74.1,89.5 71.2,91.7 67.7,93 61,94.3 51.9,95 45.1,94.9ZM74.5,81.8 72.2,81.3 70.5,80.4 70.4,79.3 71.9,77 74.7,74.7 77.1,73.6 81.3,72.4 88,71.4 92.6,71.5 98.6,72.5 100.6,73.6 101.1,74.7 100.8,75.9 99.3,77.8 97.1,79.6 94.8,80.8 90.3,81.8 76.8,82Z" fill="#fee89b" fill-rule="evenodd"/>
<path d="M0,181.2 767.5,181.2 767.5,0 0,0 0,84.1 1.3,81.5 3.1,79.3 8.2,74.7 13.5,71.3 22.6,67.2 31.6,64.3 47.4,60.3 58.7,58.2 72.2,56.6 85.8,55.8 99.3,55.8 140,57.9 169.3,60.2 182.9,61.6 190.2,63.4 192,64.6 192,65.7 190.5,66.8 187.7,68 176.3,71.3 166.5,73.6 144.5,77.6 138.5,79.3 136.3,80.4 135,81.5 132.9,84.9 131.6,88.3 131.4,90.6 134.6,95.1 133.9,96.3 131.6,97.4 124,99.7 106.1,103.2 97.1,104.1 88,104.3 42.9,101.4 36.1,100 24.8,96.4 5.5,92.9 0,91.4 0,180.1ZM300.2,134.9 273.2,132 237,129.4 221.2,127.5 207.3,124.6 185.1,117.4 167.9,113.2 166.1,112.1 165.9,111 167.3,109.9 173.8,108 180.6,107.5 187.4,108 203.2,110.6 212.2,111.6 256.1,114.4 318.3,121.3 344.5,125.7 356.7,129.1 359.1,130.2 360.2,131.4 359.5,132.5 356.5,133.6 349.9,134.6 338.6,135.4 322.8,135.8 311.5,135.7 302.5,135.1Z" fill="#fdd470" fill-rule="evenodd"/>
<path d="M0,181.2 767.5,181.2 767.5,0 0,0 0,62.4 9,57.7 21.6,52.1 30.4,47.6 36.5,45.3 45.1,43.5 70,39.7 81.3,38.5 90.3,38.1 99.3,38.4 108.4,39.3 169.3,48.4 180.6,49.8 225.7,53 259.6,54.6 285,54.4 358.9,49.8 408.6,49.9 489.9,48.1 510.2,48.4 528.8,49.8 543.2,52.1 548.6,53.8 555,56.6 558.2,58.9 558.8,60 558,61.2 555,62.3 543.7,63.4 476.3,63.7 361.2,66.2 277.7,68.5 257.4,69.5 234.8,71.8 205.4,76.9 195.4,79.3 169.3,86.8 165.3,88.3 163.7,89.5 163.3,90.6 164.2,91.7 169.3,94 216.7,105.8 228,106.9 270.9,108.7 298,111.2 345.7,116.6 381.5,122.3 395.1,125 405.6,128 421.4,133.6 428.7,137 431.6,139.3 432.3,140.4 432.4,141.6 431.8,142.7 428.3,145 422.2,146.8 413.1,148.2 392.8,148.5 352.2,147.7 311.5,144.6 273.2,140.6 230.3,137.7 221.2,136.5 214.5,135 178.3,123.5 152.5,117.8 133.2,112.6 126.4,111.4 115.1,110.4 88,109.1 67.7,106 58.7,105 24.8,103.4 11.3,103.8 0,105.8 0,180.1ZM722.4,86.6 720.1,86 712.6,81.5 710.9,79.3 708.5,74.7 707.6,72.5 707.3,70.2 707.7,66.8 710.8,56.6 709.2,48.7 709.8,45.3 711.5,43 715.6,40.5 720.1,39.3 722.4,39.2 726.9,40.1 731.4,42.5 733.7,45.1 734.3,47.6 734,49.8 731.4,56.6 731.6,60 733.2,68 733,72.5 731.4,77 728.1,83.8 726.9,85.4 724.7,86.5Z" fill="#fdbd4b" fill-rule="evenodd"/>
<path d="M0,181.2 640.7,181.2 638.9,179.6 636.6,178.3 632.1,177 625.3,176.8 584.7,177 541.8,174.2 498.9,168.2 469.6,165.1 435.7,162.2 395.1,160.2 374.7,158.8 340.9,155.8 273.2,147.5 234.8,145.6 223.5,144.6 214.5,143 205.4,140.5 169.7,128 152.9,123.4 119.6,117.1 85.8,112.6 63.2,107.9 54.2,106.9 45.1,106.5 36.1,106.8 29.3,107.6 20.3,109.5 13.5,111.6 10.1,113.2 5.8,116.6 3.8,118.9 0,124.5 0,180.1ZM683.1,180.1 684.4,181.2 767.5,181.2 767.5,78.8 751.7,79 745,79.8 742.7,80.6 740.5,82.1 736.7,86.1 733.6,88.3 729.2,89.7 722.4,90.1 717.9,89 710.1,84.9 699.1,81.5 690.8,77.9 686.3,76.6 679.5,75.6 654.7,75.6 637.1,74.7 625.1,73.6 605,70.5 564.4,68.5 503.4,67.3 474.1,67.6 444.7,68.4 406.3,70.3 358.5,71.3 329.4,72.5 291.2,74.3 269.4,75.9 237,79.3 221.2,81.6 212.2,84 199.8,88.3 197.7,89.5 196.8,90.6 197.5,91.7 199.5,92.9 206.4,95.1 216.7,97.6 223.5,98.7 234.8,99.6 277.7,101.5 358.8,109.9 402.8,115.5 428.9,120.4 467.3,125.9 498.9,128.5 548.1,130.2 582.4,133.7 587.5,134.8 591.5,136.8 604.5,148.4 610.2,151.8 616.3,154.2 630.1,158.6 642.4,163.1 667.8,171 675.2,174.4 681.8,179.1ZM619.5,68 632.1,68.2 636.6,67.8 641.1,66.9 647.7,64.6 659.2,58.9 677.8,54.4 681.8,52.6 686.3,49.6 688.5,47.1 689.7,44.2 689.8,41.9 688.6,31.7 688.7,26 689.4,22.7 691.8,15.9 693.1,9.1 695.9,0 463.9,0 462.8,2.9 460.5,5.5 457.1,7.9 452.7,10.2 445.4,12.5 426.7,16.1 417.6,18.3 397.3,26.5 392,29.4 391,30.6 390.7,31.7 391.1,32.8 392,34 395.1,35.9 401.8,38.1 413.1,39.3 433.4,40.3 451.5,40.6 492.1,38.8 539.5,38.8 548.6,39.2 557.6,40.3 564.4,42 568.9,43.8 573.4,46.4 584.6,54.4 599.9,60 609.5,65.7 614,67.2 618.6,67.9ZM0,46.4 0,47.5 4.5,45.3 7.1,43 13.5,36 18,32.8 20.9,31.7 27.1,30.8 47.4,29.8 76.8,26.6 90.3,25.8 128.7,25.4 142.2,25.7 153.5,27.1 177.5,31.7 213.2,35.1 257.4,38 268.6,38.3 275.4,37.9 279.9,36.9 284.4,35.3 293.9,30.6 300,26 311.6,14.7 315.1,12.5 329.6,4.7 333.1,2.3 335.4,0 0,0 0,45.3ZM718.7,6.8 722.4,7.4 724.7,7.4 738.9,4.5 745,3.9 756.3,3.9 767.5,4.4 767.5,0 708.6,0 711.9,3.4 715.6,5.7 717.9,6.6Z" fill="#fca530" fill-rule="evenodd"/>
<path d="M0,181.2 502.4,181.2 494.4,179.7 462.8,176 419.9,170 404.1,168.9 368,168.2 354.4,167.5 316,163 293.5,159 279.9,157.1 237,153.8 223.5,152.3 212.2,150.1 203.2,147.4 180.6,139.4 162.5,131.6 149,127.6 115.1,120.6 83.5,115.8 59.6,109.9 51.9,108.9 45.1,108.6 38.4,109.1 31.6,110.6 25.6,113.2 20.5,116.6 17.8,118.9 16,121.2 14.1,126.8 12.3,130.2 6.9,135.9 2.4,141.6 0,143.4 0,180.1ZM706.7,180.1 708.9,181.2 767.5,181.2 767.5,90.6 747.2,90.7 733.7,92.1 722.4,92 716.1,90.6 708.9,86.7 704.3,85.1 679.5,79.9 668.2,79.1 629.8,77.7 562.1,72.4 539.5,71.6 514.7,71.9 456,73.6 440.2,74.6 408.6,77.3 363.5,78.7 340.9,79.9 304.8,82.3 286.7,83.8 255.3,87.2 248.7,88.3 246.1,89.5 246.7,90.6 250.7,91.7 255.1,92.3 345.4,100.9 388.3,105.9 424.4,111.5 444.7,115.3 453.8,116.5 510.2,120.5 571.1,124 582.4,125 591.5,126.4 600.5,128.9 606.4,131.4 609.7,133.6 614,137.7 618.6,141.1 627.6,145.9 668.2,159.4 675,162.1 686.3,168.4 696.8,175.5 706.6,180ZM617.4,48.7 620.8,49 625.3,48.4 645.6,42.7 657.7,38.5 662.5,36.2 666,34.1 669,31.7 673.4,27.2 680.3,18.1 681.8,15.4 683.7,9.1 687.7,0 637.5,0 637.6,2.3 638.3,5.7 641.5,13.6 641.5,14.7 640.9,15.9 638.9,17.3 634.4,19.4 618.6,25.3 611.8,28.3 606.6,31.7 604.5,34 603.1,36.2 602.4,38.5 602.4,40.8 603.4,43 604.5,44.2 609.5,46.9 616.3,48.6ZM0,35.1 0,35.4 2.3,34.3 10.1,29.4 15.8,27.4 27.1,25 51.9,21.3 62.3,19.3 70,16.9 83.5,11.3 88,10.2 121.9,7.6 133.2,6.3 148.2,3.4 153.5,1.7 156.8,0 0,0 0,34ZM566,19.3 582.4,19.7 591.5,19.6 600.5,18.6 609.5,16.3 612.7,14.7 614.1,13.6 615.6,11.3 616.7,6.8 616.4,0 512.1,0 512.6,4.5 514.3,9.1 516.7,11.3 521.5,13.6 528.3,15.6 537.3,17.3 550.8,18.5 564.4,19.2Z" fill="#fa8d2e" fill-rule="evenodd"/>
<path d="M0,181.2 419,181.2 415.4,180 406.4,178.7 365.7,176.3 331.9,173.1 313.8,170.5 273.2,163.8 230.3,161.9 219,160.7 207.7,157.6 182.9,148.1 173,143.8 160.3,136.5 149,132.3 110.5,123.4 81.3,119.4 74.5,118 56.4,112.7 49.7,111.6 45.1,111.4 39.7,112.1 34.4,114.4 30.7,117.8 29.4,121.2 29.9,123.4 32.5,126.8 36.1,129.8 42.7,133.6 43.8,134.8 44,135.9 43,137 33.6,141.6 22.7,149.5 13.4,155.2 6.5,160.8 2.3,163 0,163.5 0,180.1ZM724.4,181.2 767.5,181.2 767.5,101.9 760.8,101.3 751.7,99.8 745,98.3 734.4,95.1 717.9,92.8 713.4,91.3 706.6,87.7 702.1,86.2 677.2,81.9 663.7,80.8 627.6,80 591.5,77.7 548.6,75.8 521.5,76.2 478.6,78.4 458.3,79.9 442.5,81.9 413.1,87.1 392.8,89.5 388.7,90.6 388.4,91.7 391.3,92.9 410.9,96.5 442.5,103.7 463.6,107.6 525.7,114.4 584.7,119.5 591.5,120.3 598.2,121.7 607.2,124.6 615.5,128 620,130.2 629.4,135.9 634.4,138.1 663.7,148.1 675,152.6 681.8,156.5 705.7,172.1 722.6,180.1ZM628,39.6 636.6,39.5 645.6,37.9 654.7,34.8 662.2,30.6 667.1,26 669.3,22.7 670,19.3 668.6,14.7 668.7,13.6 670.6,11.3 679.5,3.6 681.7,0 641.1,0 641.9,3.4 644.3,6.8 647.9,9.9 654.5,13.6 654.5,14.7 650.8,17 642.7,20.4 636,23.8 628.6,28.3 624.3,31.7 622.3,34 621.7,36.2 622.2,37.4 623.7,38.5 627.6,39.6ZM0,28.3 0,29.2 13.5,23.3 22.6,20.5 51.9,16 58.7,14.2 72.3,9.1 76.8,7.7 85.8,6 108.4,3.1 115.1,1.6 118.9,0 0,0 0,27.2ZM571.3,12.5 586.9,13 592.9,12.5 597.4,11.3 602.1,9.1 604.6,6.8 606.4,3.4 607.2,0 535.2,0 535.8,2.3 537.5,4.5 540.4,6.8 542.8,7.9 553.1,10.3 571.1,12.4Z" fill="#f5752b" fill-rule="evenodd"/>
<path d="M0,181.2 27.6,181.2 19.5,176.7 14.2,174.4 6.8,172.8 0,172.3 0,180.1ZM38.5,181.2 300.2,181.2 298,180.1 290.9,177.8 275.4,174.3 261.9,172.6 225.7,169.5 212.2,167.3 200.9,164.8 188.8,160.8 173.8,154.7 167.1,150.7 152.5,139.3 147.5,137 140,134.9 121.9,131.6 103.8,126.5 97.1,125.4 88,124.9 76.8,125.1 68.3,125.7 63.6,126.8 62.1,128 61.8,129.1 63.2,133.6 63,135.9 61.1,138.2 56.2,141.6 54.4,143.8 50.7,152.9 44.7,172.1 42.9,176.7 40.6,179.7 39.9,180.1ZM735.3,181.2 767.5,181.2 767.5,112.9 758.5,110.3 745,104.9 734.6,98.5 731.4,97.2 715.6,93.6 711.1,92 704.3,88.8 699.8,87.3 670.5,83 654.7,82 625.3,82.3 586.9,80.6 532.8,80.7 512.5,81.7 494.4,83.2 482,84.9 471.3,87.2 468.5,88.3 466.2,90.6 465.8,91.7 466,92.9 467,94 472.2,96.3 483.1,98.7 534.5,107.6 593.7,116 602.9,117.8 611,120 641.1,131.4 660.7,138.2 675,144 681.8,148 692.4,156.3 710,167.6 715.6,170.6 726.5,175.5 734,180.1ZM635.6,35.1 641.1,35.5 645.6,34.8 651.9,32.8 656.5,30.6 661.1,27.2 663.4,23.8 663.4,21.5 661.4,19.8 659.2,19.2 656.9,19.1 652.4,19.8 647.9,21.2 642.2,23.8 637,27.2 633.6,30.6 632.9,32.8 633.5,34 634.4,34.6ZM0,22.7 0,23.6 12.6,18.1 20.3,15.9 47.4,12.2 72,5.7 94.8,1.8 101.3,0 0,0 0,21.5ZM654.6,7.9 661.4,7.8 668.2,6.1 673.6,3.4 675.9,1.1 676.4,0 643.9,0 644.6,2.3 646.5,4.5 650.2,6.8 652.4,7.6ZM584.6,5.7 589.2,5.3 591.8,4.5 595.4,2.3 597,0 563.3,0 564.5,1.1 566.5,2.3 569.5,3.4 575.7,4.8 582.4,5.6Z" fill="#ee5c2a" fill-rule="evenodd"/>
<path d="M58.7,181.2 210.1,181.2 206.6,178.9 197.3,175.5 185.1,172 164.8,167.1 156.7,164.2 154.7,163.1 152,160.8 150.3,158.6 146.7,152.2 144.5,149.3 142.2,147.2 140,145.9 137.7,145 135.4,144.8 133.2,145.4 132.3,146.1 130.9,147.9 130.3,150.6 130.4,155.2 132.2,163.1 131.8,169.9 130.9,172.1 129.9,173.3 128.7,174.3 126.4,174.4 124.2,172.9 122.6,169.9 121.4,165.3 117.4,160.5 115.1,156.4 113,150.6 112.4,142.7 111.4,140.4 107,137 101.6,134.3 95.9,132.5 90.3,131.9 85.8,132.4 82.6,133.6 72.8,141.6 70,145 64.5,154 59.2,164.2 58.5,167.6 58.7,180.1ZM745.2,176.7 749.5,176.8 756.3,176.4 767.5,174 767.5,125.6 756.3,120 747.2,114.6 740.5,109.4 731.3,100.8 727.3,98.5 713.4,94.6 702.1,89.9 697.6,88.6 688.5,87 661.4,83.8 650.2,83.6 629.8,84.7 580.2,83.9 546.9,84.9 534.1,86.1 521.5,88.3 518.4,89.5 516.9,90.6 516.3,91.7 516.5,92.9 517.8,94 525.3,96.3 561.4,104.2 591.5,109.7 611.8,114.7 620.8,117.4 666.1,132.5 672.7,135.2 679.5,138.9 699.2,154 715.6,164.3 738.2,174.6 742.7,176.3 745,176.7ZM641.4,30.6 643.4,31.5 645.6,31.5 650.2,30.4 654.7,28.1 656.8,26 657.2,24.9 656.9,23.7 654.7,22.8 650.2,23.4 644.4,26 642.9,27.2 641.2,29.4ZM0,17 9,13.8 13.5,12.7 47.4,8.2 77.2,2.3 84.8,0 0,0 0,15.9ZM651.1,4.5 654.7,5.4 656.9,5.6 663.7,4.9 668.2,3.4 670.2,2.3 671.9,0 646.6,0 647.6,2.3 650.2,4.2Z" fill="#e2402a" fill-rule="evenodd"/>
<path d="M66,181.2 114.3,181.2 112.4,174.4 111.3,166.5 109.3,163.1 102.6,156.3 99.3,153.7 94.8,151.5 90.3,150.5 85.8,150.7 83.5,151.3 79,153.4 74.5,156.7 67.8,163.1 66.4,165.3 65.8,167.6 66,180.1ZM740,166.5 745,167.2 751.7,167.2 758.5,166.1 763,164.4 767.5,161.5 767.5,153.8 763,149.3 758.8,143.8 757.2,140.4 755.2,134.8 753.9,132.5 750.7,129.1 742.7,122.7 738.2,118.4 730.9,107.6 726.9,103.1 724.7,101.4 721.5,99.7 713.4,96.9 704.3,92.9 699.8,91.4 684,88.3 663.7,86 654.7,85.4 629.8,87.3 586.9,87.5 573.4,88.1 562.1,89.7 559.4,90.6 558.1,91.7 557.9,92.9 558.6,94 560.1,95.1 566.4,97.4 605,106.6 638.9,115.5 675,128.8 678,130.2 681.8,132.7 690.9,140.4 702.1,148.4 710.3,155.2 713.4,157.2 717.9,159.2 738.2,166ZM0,7.9 0,8.8 47.4,4.9 64.7,2.3 68.8,1.1 71.2,0 0,0 0,6.8ZM653.9,3.4 656.9,3.8 662,3.4 665.6,2.3 667.2,1.1 667.8,0 649.4,0 650.2,1.5 652.4,3Z" fill="#d4242a" fill-rule="evenodd"/>
<path d="M73,181.2 106.7,181.2 105.5,174.4 104.9,167.6 103.9,165.3 101.6,163.1 99.3,161.8 94.8,160.1 90.3,159.2 85.8,159.4 81.3,160.6 76.8,162.8 73.8,165.3 73.2,166.5 72.8,168.7 73,180.1ZM722,152.9 724.7,153.1 729.2,152.2 732.3,150.6 734.5,148.4 736.3,145 737,141.6 737.1,135.9 736.4,132.5 735.1,130.2 728.9,122.3 724,112.1 722.4,109.5 720.1,106.9 716.9,104.2 711.9,100.8 702.1,95.7 697.6,94 678,90.6 663.7,89.1 654.7,88.7 647.9,89.5 634.4,94 611.8,96.3 607.8,97.4 607.4,98.5 610.7,100.8 620.5,104.2 638.9,108.4 656.9,111.6 663.7,113.9 668.2,116.4 684.5,126.8 695.3,135.7 706.6,142.9 715.6,150 720.1,152.5ZM17.7,3.4 29.3,3.3 46.7,2.3 53.7,1.1 56.5,0 0,0 2.5,1.1 6.7,2.3 15.8,3.3ZM654.2,1.1 656.9,1.9 659.2,1.9 662,1.1 663.2,0 653.2,0Z" fill="#be1a25" fill-rule="evenodd"/>
<path d="M81.5,181.2 98,181.2 96.6,167.6 94.8,165.7 90.3,164.5 88,164.4 84.2,165.3 82.5,166.5 81.7,167.6 81.5,180.1ZM696.6,125.7 699.8,126.5 702.1,126.6 706.6,126.1 710.5,124.6 712.9,122.3 713.4,120 713.1,118.9 711.7,116.6 708.9,114.4 704.3,112.4 699.8,111.6 695.3,112.1 690.8,113.8 688.9,115.5 688.1,117.8 688.5,120 689.1,121.2 691.7,123.4 695.3,125.3ZM649.7,105.3 654.7,105.6 661.4,105.3 666,104.5 669.3,103.1 670.4,101.9 670.6,100.8 669.4,98.5 666,96.7 659.2,95.3 652.4,95.3 647.9,95.9 641.1,97.5 635.3,99.7 634.5,100.8 635.5,101.9 638,103.1 647.9,105.1Z" fill="#a8181f" fill-rule="evenodd"/>
<path d="M650.2,100.8 652.4,101.6 654.7,101.7 656.9,101.2 657.7,100.8 656.9,100.3 654.7,99.8 652.4,100Z" fill="#8e1519" fill-rule="evenodd"/>
<path d="M42.9,94.6 38.3,92.9 35.6,90.6 34.6,88.3 34.7,87.2 35.4,86.1 37.1,84.9 40.6,83.9 47.4,83.3 63.2,83.2 70,83.7 73.9,84.9 74.9,86.1 75.1,87.2 74.1,89.5 71.2,91.7 67.7,93 61,94.3 51.9,95 45.1,94.9ZM74.5,81.8 72.2,81.3 70.5,80.4 70.4,79.3 71.9,77 74.7,74.7 77.1,73.6 81.3,72.4 88,71.4 92.6,71.5 98.6,72.5 100.6,73.6 101.1,74.7 100.8,75.9 99.3,77.8 97.1,79.6 94.8,80.8 90.3,81.8 76.8,82ZM300.2,134.9 273.2,132 237,129.4 221.2,127.5 207.3,124.6 185.1,117.4 167.9,113.2 166.1,112.1 165.9,111 167.3,109.9 173.8,108 180.6,107.5 187.4,108 203.2,110.6 212.2,111.6 256.1,114.4 318.3,121.3 344.5,125.7 356.7,129.1 359.1,130.2 360.2,131.4 359.5,132.5 356.5,133.6 349.9,134.6 338.6,135.4 322.8,135.8 311.5,135.7 302.5,135.1ZM0,84.1 1.3,81.5 3.1,79.3 8.2,74.7 13.5,71.3 22.6,67.2 31.6,64.3 47.4,60.3 58.7,58.2 72.2,56.6 85.8,55.8 99.3,55.8 140,57.9 169.3,60.2 182.9,61.6 190.2,63.4 192,64.6 192,65.7 190.5,66.8 187.7,68 176.3,71.3 166.5,73.6 144.5,77.6 138.5,79.3 136.3,80.4 135,81.5 132.9,84.9 131.6,88.3 131.4,90.6 134.6,95.1 133.9,96.3 131.6,97.4 124,99.7 106.1,103.2 97.1,104.1 88,104.3 42.9,101.4 36.1,100 24.8,96.4 5.5,92.9 0,91.4M722.4,86.6 720.1,86 712.6,81.5 710.9,79.3 708.5,74.7 707.6,72.5 707.3,70.2 707.7,66.8 710.8,56.6 709.2,48.7 709.8,45.3 711.5,43 715.6,40.5 720.1,39.3 722.4,39.2 726.9,40.1 731.4,42.5 733.7,45.1 734.3,47.6 734,49.8 731.4,56.6 731.6,60 733.2,68 733,72.5 731.4,77 728.1,83.8 726.9,85.4 724.7,86.5ZM0,62.4 9,57.7 21.6,52.1 30.4,47.6 36.5,45.3 45.1,43.5 70,39.7 81.3,38.5 90.3,38.1 99.3,38.4 108.4,39.3 169.3,48.4 180.6,49.8 225.7,53 259.6,54.6 285,54.4 358.9,49.8 408.6,49.9 489.9,48.1 510.2,48.4 528.8,49.8 543.2,52.1 548.6,53.8 555,56.6 558.2,58.9 558.8,60 558,61.2 555,62.3 543.7,63.4 476.3,63.7 361.2,66.2 277.7,68.5 257.4,69.5 234.8,71.8 205.4,76.9 195.4,79.3 169.3,86.8 165.3,88.3 163.7,89.5 163.3,90.6 164.2,91.7 169.3,94 216.7,105.8 228,106.9 270.9,108.7 298,111.2 345.7,116.6 381.5,122.3 395.1,125 405.6,128 421.4,133.6 428.7,137 431.6,139.3 432.3,140.4 432.4,141.6 431.8,142.7 428.3,145 422.2,146.8 413.1,148.2 392.8,148.5 352.2,147.7 311.5,144.6 273.2,140.6 230.3,137.7 221.2,136.5 214.5,135 178.3,123.5 152.5,117.8 133.2,112.6 126.4,111.4 115.1,110.4 88,109.1 67.7,106 58.7,105 24.8,103.4 11.3,103.8 0,105.8M640.7,181.2 638.9,179.6 636.6,178.3 632.1,177 625.3,176.8 584.7,177 541.8,174.2 498.9,168.2 469.6,165.1 435.7,162.2 395.1,160.2 374.7,158.8 340.9,155.8 273.2,147.5 234.8,145.6 223.5,144.6 214.5,143 205.4,140.5 169.7,128 155.8,124.1 121.9,117.4 85.8,112.6 67.7,108.7 56.4,107.1 45.1,106.5 33.9,107 24.8,108.4 15.8,110.8 10.1,113.2 7,115.5 3.8,118.9 0,124.5M767.5,78.8 751.7,79 745,79.8 742.7,80.6 740.5,82.1 736.7,86.1 733.6,88.3 729.2,89.7 722.4,90.1 717.9,89 710.1,84.9 699.1,81.5 690.8,77.9 686.3,76.6 679.5,75.6 654.7,75.6 637.1,74.7 625.1,73.6 605,70.5 566.6,68.6 505.7,67.3 480.8,67.5 444.7,68.4 404.1,70.4 349.9,71.7 304.5,73.6 273.2,75.6 237.1,79.3 223.5,81.2 209.9,84.7 202.7,87.2 197.7,89.5 196.8,90.6 197.5,91.7 202.6,94 214.5,97.1 225.7,99 277.7,101.5 358.8,109.9 402.8,115.5 431.2,120.8 458.3,124.8 471.8,126.4 498.9,128.5 548.1,130.2 572.2,132.5 584.7,134.1 587.5,134.8 591.5,136.8 604.5,148.4 610.2,151.8 616.3,154.2 630.1,158.6 642.4,163.1 668.2,171.2 675.2,174.4 684.4,181.2M0,47.5 2.7,46.4 5.9,44.2 12.2,37.4 15.8,34.2 18.1,32.8 20.9,31.7 27.1,30.8 49.7,29.6 74.5,26.8 88,25.9 128.7,25.4 142.2,25.7 153.5,27.1 177.5,31.7 213.2,35.1 257.4,38 268.6,38.3 275.4,37.9 279.9,36.9 284.4,35.3 293.9,30.6 300,26 311.6,14.7 315.1,12.5 329.6,4.7 333.1,2.3 335.4,0M463.9,0 462.8,2.9 460.5,5.5 457.1,7.9 452.7,10.2 445.4,12.5 426.7,16.1 417.6,18.3 411.9,20.4 395.1,27.6 392,29.4 391,30.6 390.7,31.7 391.1,32.8 392,34 395.9,36.2 399.6,37.5 406.3,38.8 418.8,39.6 440.2,40.4 458.3,40.4 496.6,38.8 541.8,38.9 555.3,40 562.1,41.3 568.9,43.8 573.4,46.4 584.6,54.4 599.9,60 609.5,65.7 616.3,67.6 627.6,68.3 636.6,67.8 643.4,66.2 647.9,64.4 659.2,58.9 674.2,55.5 679.5,53.7 684,51.3 687.2,48.7 688.9,46.4 689.8,43 688.6,30.6 688.9,24.9 691.5,17 693.1,9.1 695.9,0M708.6,0 711.1,2.8 715.6,5.7 717.9,6.6 722.4,7.4 726.9,7.1 738.2,4.7 745,3.9 756.3,3.9 767.5,4.4M502.4,181.2 494.4,179.7 462.8,176 419.9,170 404.1,168.9 368,168.2 354.4,167.5 316,163 293.5,159 279.9,157.1 234.8,153.6 221.2,152 212.2,150.1 200.9,146.7 180.6,139.4 162.5,131.6 149,127.6 115.1,120.6 83.5,115.8 63.2,110.6 51.9,108.9 42.9,108.7 36.1,109.4 30.4,111 23.8,114.4 19.1,117.8 16.7,120 15.5,122.3 13.7,128 12.3,130.2 6.9,135.9 2.4,141.6 0,143.4M767.5,90.6 747.2,90.7 733.7,92.1 722.4,92 716.1,90.6 708.9,86.7 704.3,85.1 679.5,79.9 668.2,79.1 629.8,77.7 562.1,72.4 539.5,71.6 514.7,71.9 456,73.6 440.2,74.6 408.6,77.3 363.5,78.7 340.9,79.9 304.8,82.3 286.7,83.8 255.3,87.2 248.7,88.3 246.1,89.5 246.7,90.6 250.7,91.7 255.1,92.3 345.4,100.9 388.3,105.9 424.4,111.5 444.7,115.3 453.8,116.5 510.2,120.5 571.1,124 582.4,125 591.5,126.4 600.5,128.9 606.4,131.4 609.7,133.6 614,137.7 618.6,141.1 627.6,145.9 668.2,159.4 675,162.1 684,167 697.6,176 708.9,181.2M0,35.4 2.3,34.3 10.1,29.4 15.8,27.4 27.1,25 51.9,21.3 62.3,19.3 70,16.9 83.5,11.3 88,10.2 121.9,7.6 133.2,6.3 148.2,3.4 153.5,1.7 156.8,0M512.1,0 512.4,3.4 513.2,6.8 515.2,10.2 519.2,12.7 526,15 532.8,16.5 544.1,18 562.1,19.1 584.7,19.7 591.5,19.6 600.5,18.6 607.3,17.1 612.7,14.7 615,12.5 616.4,9.1 616.8,5.7 616.4,0M637.5,0 637.6,2.3 638.3,5.7 641.5,13.6 641.5,14.7 640.9,15.9 638.9,17.3 634.4,19.4 618.6,25.3 611.8,28.3 608,30.6 605.5,32.8 603.7,35.1 602.7,37.4 602.3,39.6 602.7,41.9 604.5,44.2 606.1,45.3 609.5,46.9 614,48.2 620.8,49 627.6,47.9 650.2,41.3 659.2,37.9 666.1,34 669,31.7 673.4,27.2 680.3,18.1 681.8,15.4 683.7,9.1 687.7,0M419,181.2 415.4,180 406.4,178.7 365.7,176.3 331.9,173.1 313.8,170.5 273.2,163.8 230.3,161.9 219,160.7 207.7,157.6 182.9,148.1 173,143.8 160.3,136.5 149,132.3 110.5,123.4 79,119 72.2,117.3 58.7,113.2 53.8,112.1 47.4,111.4 40.6,111.9 36.1,113.4 31.6,116.6 29.6,120 29.5,122.3 29.9,123.4 32.5,126.8 35.1,129.1 42.7,133.6 43.8,134.8 44,135.9 43,137 33.6,141.6 22.7,149.5 13.4,155.2 6.5,160.8 2.3,163 0,163.5M767.5,101.9 760.8,101.3 751.7,99.8 745,98.3 734.4,95.1 717.9,92.8 713.4,91.3 706.6,87.7 702.1,86.2 677.2,81.9 663.7,80.8 627.6,80 591.5,77.7 550.8,75.9 537.3,75.7 523.7,76.1 480.8,78.2 462.8,79.5 444.7,81.6 415.4,86.7 392.8,89.5 388.7,90.6 388.4,91.7 391.3,92.9 410.9,96.5 447,104.6 463.6,107.6 525.7,114.4 584.7,119.5 591.5,120.3 598.2,121.7 607.2,124.6 615.5,128 620,130.2 629.4,135.9 634.4,138.1 663.7,148.1 675,152.6 681.8,156.5 704.3,171.4 724.4,181.2M0,29.2 13.5,23.3 22.6,20.5 51.9,16 58.7,14.2 72.3,9.1 76.8,7.7 85.8,6 108.4,3.1 115.1,1.6 118.9,0M535.2,0 536.5,3.4 538.8,5.7 542.8,7.9 546.6,9.1 553.1,10.3 564.4,11.8 584.7,13 593.7,12.3 597.4,11.3 600.5,10 602.8,8.6 605,6.2 606.4,3.4 607.2,0M641.1,0 641.9,3.4 644.3,6.8 647.9,9.9 654.5,13.6 654.5,14.7 650.8,17 641.1,21.1 634,24.9 627.1,29.4 623.2,32.8 621.8,35.1 621.7,36.2 622.2,37.4 623.1,38.1 627.6,39.6 632.1,39.8 641.1,38.9 650.2,36.5 656.9,33.7 663.6,29.4 667.1,26 668.7,23.8 669.7,21.5 670,19.3 668.6,14.7 668.7,13.6 670.6,11.3 679.5,3.6 681.7,0M27.6,181.2 19.5,176.7 14.2,174.4 6.8,172.8 0,172.3M300.2,181.2 298,180.1 290.9,177.8 275.4,174.3 261.9,172.6 225.7,169.5 212.2,167.3 200.9,164.8 188.8,160.8 173.8,154.7 167.1,150.7 152.5,139.3 146.7,136.8 140,134.9 121.9,131.6 101.6,126.1 94.8,125.2 85.8,124.9 68.3,125.7 63.6,126.8 62.1,128 61.8,129.1 63.2,133.6 63,135.9 61.1,138.2 56.2,141.6 54.4,143.8 51.1,151.8 46.6,165.3 45.1,171.1 42.9,176.7 40.6,179.7 38.5,181.2M767.5,112.9 758.5,110.3 745,104.9 734.6,98.5 731.9,97.4 715.6,93.6 711.1,92 702.1,87.9 693,86.1 675,83.5 663.7,82.4 652.4,82 625.3,82.3 584.7,80.6 544.1,80.6 526,81 499.8,82.7 482,84.9 471.3,87.2 468.5,88.3 466.2,90.6 465.8,91.7 466,92.9 467,94 472.2,96.3 478.6,97.8 534.5,107.6 593.7,116 602.9,117.8 611,120 641.1,131.4 660.7,138.2 675,144 681.8,148 692.4,156.3 710,167.6 715.6,170.6 726.9,175.8 735.3,181.2M635.6,35.1 641.1,35.5 645.6,34.8 651.9,32.8 656.5,30.6 661.1,27.2 663.4,23.8 663.4,21.5 661.4,19.8 659.2,19.2 656.9,19.1 652.4,19.8 647.9,21.2 642.2,23.8 637,27.2 633.6,30.6 632.9,32.8 633.5,34 634.4,34.6ZM0,23.6 11.3,18.6 18.1,16.4 24.8,15.2 47.4,12.2 72,5.7 94.8,1.8 101.3,0M563.3,0 564.5,1.1 566.5,2.3 571.1,3.9 577.9,5.2 584.7,5.7 589.2,5.3 591.8,4.5 595.4,2.3 597,0M643.9,0 644.6,2.3 645.4,3.4 647.9,5.6 652.4,7.6 656.9,8.1 663.7,7.4 670.5,5.1 674.9,2.3 676.4,0M210.1,181.2 206.6,178.9 197.3,175.5 185.1,172 164.8,167.1 156.7,164.2 154.7,163.1 152,160.8 150.3,158.6 146.7,152.2 144.5,149.3 142.2,147.2 140,145.9 137.7,145 135.4,144.8 133.2,145.4 132.3,146.1 130.9,147.9 130.3,150.6 130.4,155.2 132.2,163.1 131.8,169.9 130.9,172.1 129.9,173.3 128.7,174.3 126.4,174.4 124.2,172.9 122.6,169.9 121.4,165.3 117.4,160.5 115.1,156.4 113,150.6 112.4,142.7 111.4,140.4 107,137 101.6,134.3 95.9,132.5 90.3,131.9 85.8,132.4 82.6,133.6 72.8,141.6 70,145 64.5,154 59.2,164.2 58.5,167.6 58.7,181.2M767.5,125.6 756.3,120 747.2,114.6 740.5,109.4 732.6,101.9 729.2,99.4 724.7,97.7 713.4,94.6 699.8,89.2 688.5,87 666,84.2 656.9,83.6 629.8,84.7 589.2,83.8 566.6,84.1 546.9,84.9 530.5,86.6 521.5,88.3 518.4,89.5 516.9,90.6 516.3,91.7 516.5,92.9 517.8,94 525.3,96.3 561.4,104.2 591.5,109.7 614,115.4 646.1,125.7 668.2,133.3 675,136.2 679.5,138.9 699.2,154 713.4,163 720,166.5 730.9,171 740.5,175.6 745,176.7 751.7,176.8 758.5,176 767.5,174M641.4,30.6 643.4,31.5 645.6,31.5 650.2,30.4 654.7,28.1 656.8,26 657.2,24.9 656.9,23.7 654.7,22.8 650.2,23.4 644.4,26 642.9,27.2 641.2,29.4ZM0,17.2 6.8,14.5 13.5,12.7 47.4,8.2 77.2,2.3 84.8,0M646.6,0 647.6,2.3 650.2,4.2 652.4,5 656.9,5.6 661.4,5.3 666,4.3 670.2,2.3 671.9,0M114.3,181.2 112.4,174.4 111.3,166.5 109.3,163.1 102.6,156.3 99.3,153.7 94.8,151.5 90.3,150.5 88,150.4 83.5,151.3 78.1,154 72.2,158.8 67,164.2 65.8,167.6 66,181.2M767.5,153.8 763,149.3 758.8,143.8 757.2,140.4 755.2,134.8 753.9,132.5 750.7,129.1 742.7,122.7 738.2,118.4 730.9,107.6 726.9,103.1 724.7,101.4 721.5,99.7 713.4,96.9 704.3,92.9 699.8,91.4 684,88.3 663.7,86 654.7,85.4 629.8,87.3 586.9,87.5 573.4,88.1 562.1,89.7 559.4,90.6 558.1,91.7 557.9,92.9 558.6,94 560.1,95.1 566.4,97.4 605,106.6 638.9,115.5 675,128.8 678,130.2 681.8,132.7 690.9,140.4 702.1,148.4 710.3,155.2 713.4,157.2 717.9,159.2 735.9,165.3 740.5,166.6 745,167.2 754,166.9 761,165.3 763.5,164.2 767.5,161.5M0,8.8 49.7,4.6 64.7,2.3 68.8,1.1 71.2,0M649.4,0 650.2,1.5 652.4,3 656.9,3.8 661.4,3.5 663.7,3 666,2.1 667.2,1.1 667.8,0M106.7,181.2 105.5,174.4 104.9,167.6 103.8,165.2 101.5,163.1 97.1,160.8 92.6,159.5 88,159.2 83.5,159.9 79,161.6 76.3,163.1 73.8,165.3 73.2,166.5 72.8,168.7 73,181.2M722,152.9 724.7,153.1 729.2,152.2 732.3,150.6 734.5,148.4 736.3,145 737,141.6 737.1,135.9 736.4,132.5 735.1,130.2 728.9,122.3 724,112.1 722.4,109.5 720.1,106.9 716.9,104.2 711.9,100.8 702.1,95.7 697.6,94 678,90.6 663.7,89.1 654.7,88.7 647.9,89.5 634.4,94 611.8,96.3 607.8,97.4 607.4,98.5 610.7,100.8 620.5,104.2 638.9,108.4 656.9,111.6 663.7,113.9 668.2,116.4 684.5,126.8 695.3,135.7 706.6,142.9 715.6,150 720.1,152.5ZM0,0.2 9,2.7 22.6,3.5 46.7,2.3 53.7,1.1 56.5,0M653.2,0 654.2,1.1 656.9,1.9 661.4,1.4 663.2,0M98,181.2 96.6,167.6 95.9,166.5 94.1,165.3 90.3,164.5 88,164.4 84.2,165.3 82.5,166.5 81.7,167.6 81.5,181.2M696.6,125.7 699.8,126.5 702.1,126.6 706.6,126.1 710.5,124.6 712.9,122.3 713.4,120 713.1,118.9 711.7,116.6 708.9,114.4 704.3,112.4 699.8,111.6 695.3,112.1 690.8,113.8 688.9,115.5 688.1,117.8 688.5,120 689.1,121.2 691.7,123.4 695.3,125.3ZM649.7,105.3 654.7,105.6 661.4,105.3 666,104.5 669.3,103.1 670.4,101.9 670.6,100.8 669.4,98.5 666,96.7 659.2,95.3 652.4,95.3 647.9,95.9 641.1,97.5 635.3,99.7 634.5,100.8 635.5,101.9 638,103.1 647.9,105.1ZM650.2,100.8 652.4,101.6 654.7,101.7 656.9,101.2 657.7,100.8 656.9,100.3 654.7,99.8 652.4,100Z" fill="none" stroke="#b2b5b9" stroke-width="1.6" stroke-linejoin="round"/>
<use href="#land"/>
</g>
<use href="#mframe"/>
</g>
<text x="951.2" y="56" font-size="26" text-anchor="end" fill="#000">20N</text>
<text x="951.2" y="101.3" font-size="26" text-anchor="end" fill="#000">10N</text>
<text x="951.2" y="146.6" font-size="26" text-anchor="end" fill="#000">0</text>
<text x="951.2" y="191.9" font-size="26" text-anchor="end" fill="#000">10S</text>
<text x="951.2" y="237.2" font-size="26" text-anchor="end" fill="#000">20S</text>
<text x="974.1" y="271.1" font-size="26" text-anchor="middle" fill="#000">120E</text>
<text x="1109.55" y="271.1" font-size="26" text-anchor="middle" fill="#000">150E</text>
<text x="1245" y="271.1" font-size="26" text-anchor="middle" fill="#000">180</text>
<text x="1380.45" y="271.1" font-size="26" text-anchor="middle" fill="#000">150W</text>
<text x="1515.9" y="271.1" font-size="26" text-anchor="middle" fill="#000">120W</text>
<text x="1651.35" y="271.1" font-size="26" text-anchor="middle" fill="#000">90W</text>
<text x="976.3" y="29.9" font-size="38.5" text-anchor="start" fill="#000" font-weight="bold">b</text>
<text x="1732" y="26.7" font-size="29.4" text-anchor="end" fill="#000">Dynamic ocean</text>
<g transform="translate(974.7 339.5)">
<g clip-path="url(#mclip)">
<rect x="0" y="0" width="767.55" height="181.2" fill="#ffffff"/>
<path d="M0,181.2 767.5,181.2 767.5,0 0,0 0,180.1Z" fill="#fff9df" fill-rule="evenodd"/>
<path d="M0,181.2 767.5,181.2 767.5,0 0,0 0,180.1Z" fill="#fef2bf" fill-rule="evenodd"/>
<path d="M0,181.2 767.5,181.2 767.5,0 0,0 0,180.1ZM42.9,94.1 38.4,93 36.1,92 34.3,90.6 33.8,89.5 33.8,87.2 35,84.9 37.9,82.7 40.6,81.5 47.4,79.9 70,77 83.5,75.9 92.6,75.9 99.3,77.3 103.8,79.2 105.5,80.4 106.5,81.5 106.8,82.7 106.3,83.8 104.6,84.9 99.3,86.7 86.6,89.5 74.2,92.9 63.2,94 45.1,94.3ZM268.6,118.9 228,116.7 221.2,115.6 214.5,113.3 209.6,111 203.9,107.6 198.7,103.6 196.4,102.6 180.6,101 176.2,99.7 175.7,98.5 177.5,97.4 180.6,96.9 187.4,96.7 203.2,97.1 212.2,98 221.2,100.2 241.6,102.5 260.2,105.3 292.4,112.1 299,114.4 300.8,115.5 301.1,116.6 300.2,117 297.7,117.8 291.2,118.4 270.9,119Z" fill="#fee89b" fill-rule="evenodd"/>
<path d="M0,181.2 767.5,181.2 767.5,0 0,0 0,79.7 15.8,69.4 20.3,66.9 26.6,64.6 33.9,62.9 67.7,58 83.5,56.4 99.3,56.5 117.4,58 131.5,60 153.5,64.7 177.1,69.1 182.9,70.5 196.4,74.9 203.2,76.5 212.2,77.9 239.3,80.8 252.8,83.4 259.6,85.6 271.3,90.6 277.7,92.9 300.2,99.3 316,104.5 324.4,106.5 345.4,110.2 356.4,113.2 377.9,121.2 381.8,123.4 383,124.6 384.1,126.8 384,128 383.4,129.1 380.2,131.4 374.7,133.1 368,134.1 361.2,134.5 349.9,134.3 313.8,132.5 277.7,127.5 234.8,124 225.7,122.8 214.5,120.7 205.4,118.3 189.6,112.5 173.8,108.2 164.8,105.3 157.2,101.9 149,96.3 146.6,95.1 142.2,94 135.4,93.5 126.4,94.2 119.6,96 108.6,100.8 103.8,102.4 97.1,103.7 90.3,104.2 85.8,103.9 67.7,101.4 40.6,98.9 24.8,95.5 5.8,92.9 0,91.3 0,180.1ZM720.1,85 715.9,83.8 713.9,82.7 712.5,81.5 710.7,79.3 710.1,77 711.1,69.1 710.6,62.3 711.9,58.9 714.1,56.6 717.9,54.7 722.4,54.2 724.7,54.5 726.9,55.5 729.3,57.8 730.9,61.2 731.3,66.8 730.8,72.5 729.2,79.3 726.9,82.7 724.7,84.4 722.4,85ZM358.9,69.2 353.1,68 355.1,66.8 358.9,66.2 379.3,63.4 433.4,57.7 451.5,56.7 501.2,56.9 514.7,58.3 538.9,62.3 543.3,63.4 544,64.6 539.5,65.1 492.1,66 453.8,67.6 361.2,69.3Z" fill="#fdd470" fill-rule="evenodd"/>
<path d="M0,181.2 767.5,181.2 767.5,0 0,0 0,62.6 18.1,53.6 22.6,51.8 27.1,50.5 58.7,46.9 83.5,43.1 92.6,42.6 115.1,43.5 149,46.7 180.6,51.6 214.5,58.2 221.2,59.1 228,59.3 277.7,58.7 313.8,57.6 322.8,56.9 358.9,52.7 379.3,51.5 456,49.6 492.1,48 512.5,48.3 528.3,49.4 539.5,51.1 566.6,58 586.9,62.3 616.3,66.1 629.8,67 638.9,66.5 654.7,64.3 684,57.7 688.5,56.4 693.1,54.7 699.8,50.2 702.1,49.5 708.9,48.8 724.7,48.6 733.7,49.4 738.2,50.6 740.7,52.1 741.8,53.2 743.9,57.8 745.6,63.4 746.1,66.8 745.8,69.1 745.2,70.2 740.5,76.1 734.2,84.9 733,86.1 730.9,87.2 724.7,88.4 717.9,88.2 712,87.2 703.8,84.9 693.1,81 688.5,79.9 666,76.6 654.7,76 632.1,76.8 616.3,76.4 584.7,74.9 560.9,72.5 546.3,71.8 489.9,71.8 449.2,72.9 439.8,73.6 406.3,78 392.8,80.5 384.8,82.7 379.3,84.6 369.9,89.5 363.7,91.7 362.1,92.9 362.4,94 363.7,95.1 369.8,98.5 388.3,106.3 395.6,109.9 403.5,114.4 413.3,121.2 419.9,124.5 435.7,130.3 456,135.7 458.7,137 459.4,138.2 458.9,139.3 457,140.4 451.5,142 424.4,146.8 410.9,148.3 401.8,148.3 374.7,145.8 343.1,143.6 307,139.9 273.2,135.3 237,132.9 225.7,131.7 219,130 203.3,123.4 189.6,118.9 182.9,117 167.1,113.5 146.7,106.1 137.7,104.1 133.2,104 128.7,104.5 106.1,109 97.1,109.8 90.3,109.9 83.5,109.1 65.5,104.8 56.4,103.5 24.8,101.7 18.1,101.8 13.5,102.2 0,105.7 0,180.1ZM580.2,155.5 573.1,154 557.6,149.9 539.5,148.4 532.8,147.4 528,146.1 525.5,145 524.1,143.8 523.6,142.7 524,141.6 525.4,140.4 530.5,138.6 535,137.8 548.6,137.4 557.6,137.8 566.6,138.8 573.4,140.1 577.4,141.6 579.2,142.7 582.9,146.1 591.5,148.8 594.6,150.6 595.3,151.8 595.1,152.9 594.1,154 591.8,155.2 586.9,156 582.4,155.8ZM717.9,35.5 713.4,33.8 710.9,31.7 709.5,28.3 710.1,23.8 712.3,19.3 715.6,16 717.9,14.9 720.1,14.3 724.7,14.5 727.5,15.9 729.2,17.2 730.6,19.3 732.4,23.8 732.6,28.3 731.4,31.2 728.7,34 724.7,35.6 720.1,35.9Z" fill="#fdbd4b" fill-rule="evenodd"/>
<path d="M0,181.2 601.8,181.2 596,178.9 586.9,176.9 544.1,174.6 539.5,173.8 529.3,171 521.5,169.4 471.8,163.6 438,160.4 395.1,157.6 361.2,152.7 309.3,147.9 273.2,143.8 237,141.8 225.8,140.8 219.2,139.3 214.5,137.6 196.4,128.2 190.4,125.7 182.9,123.4 172.9,121.2 160.3,119.2 133.2,116 92.6,114.6 85.8,114 79,112.6 70,109.7 61,107.5 51.9,106.1 45.2,105.8 38.4,106 31.6,106.7 13.5,110.7 9.4,112.1 7.4,113.3 5.2,115.5 3.7,117.8 0,124.4 0,180.1ZM702.1,181.2 767.5,181.2 767.5,83.8 756.3,84.1 747.2,84.9 745,85.5 739,88.3 735.2,89.5 729.2,90.4 722.4,90.6 713.4,89.5 679.5,82.7 663.7,81.1 652.4,80.8 632.1,81.7 609.5,81.6 580.2,80.9 548.6,79.4 535,79.4 517,80.4 478.6,84.2 456,88.4 435.7,91.2 433,91.7 430.8,92.9 430.8,94 431.8,95.1 440.8,103.1 450.4,114.4 453.8,116.4 458.3,117.6 469.6,118.9 512.5,121.7 582.4,124.4 589.2,125.2 593.7,126.4 598.2,128.3 603.2,131.4 607.1,134.8 615.4,143.8 627.6,153.4 632.2,156.3 637.1,158.6 649.4,163.1 661.4,168.4 679.5,175.2 684,176.4 697.6,178.9 700.5,180.1ZM598.5,55.5 609.5,56.3 623.1,56.6 634.4,56.3 643.4,55.6 654,54.4 661.4,53 675.6,49.8 681.8,47.5 684.6,45.3 686.7,41.9 689.6,27.2 693.6,15.9 694.8,4.5 696,0 448.9,0 438,2.8 432.6,4.5 413.1,14 397.3,19.5 392.5,21.5 389.1,23.8 388.2,24.9 387.5,27.2 387.9,28.3 389.6,30.6 395,34 399.6,35.6 406.3,37 428.9,39 447,39.7 462.8,39.3 501.2,36.1 532.8,31 541.8,30.5 550.8,31.4 559.7,34 566.6,37.6 571.1,41.5 577.5,49.8 580.8,52.1 586.9,53.9 598.2,55.5ZM0,49.8 0,50.4 1.1,49.8 4.5,47.5 7.4,44.2 11.3,38.5 15.8,33.9 20.3,31.4 24.8,30.6 42.9,30.6 45.2,30.4 47.9,29.4 57.9,28.3 81.2,27.2 128.7,26.3 144.5,26.4 159.5,27.2 189.6,29.8 214.5,32.4 223.5,33 241.6,32.4 284.4,29 294,27.2 298,25.8 301.7,23.8 305.4,20.4 311.5,12.7 316,9.5 320.3,7.9 338.6,3 343,1.1 344.4,0 0,0 0,48.7ZM715,1.1 720.1,1.8 726.9,1.8 734.1,1.1 740.7,0 712.1,0 713.4,0.6Z" fill="#fca530" fill-rule="evenodd"/>
<path d="M0,181.2 507.5,181.2 503.4,178.8 494.4,176.4 416.6,166.5 365.7,162.2 331.9,157.9 304.8,155.2 270.9,152.6 239.3,150.8 225.7,149.4 221.2,148.4 214.5,145.9 185.1,131.3 178.8,129.1 169.9,126.8 155.8,124.1 140,121.9 85.8,118.3 74.5,115.9 61.8,111 58.7,110.2 51.9,109.1 45.1,108.7 38.4,109.2 31.6,110.4 25.8,112.1 23,113.2 20.3,114.9 17.2,117.8 15.6,120 13.8,128 12.1,131.4 0,143.2 0,180.1ZM712.8,180.1 713.6,181.2 767.5,181.2 767.5,96.8 747.2,95.8 720.1,92.8 702.1,89.2 670.5,83.9 661.4,83 650.2,82.9 591.5,85.4 544.1,86.4 532.8,87.2 512,89.5 498.9,91.8 492.1,93.8 485.4,96.5 482.1,98.5 480.2,100.8 480,103.1 481.4,105.3 484.6,107.6 489.9,109.9 498.2,112.1 505.2,113.2 539.5,116.3 584.7,118.2 591.5,118.9 598.2,120.5 603.4,122.3 608,124.6 615.4,129.1 629.8,139.1 641.1,145.4 652.4,150.8 672.1,158.6 697.6,170 704.3,173.6 711.7,178.9ZM609,47.6 614,48.2 620.8,48.3 627.6,47.8 636.6,46.4 643.4,44.8 652.4,41.8 659.2,39.1 664.6,36.2 667.8,34 671.5,30.6 675.9,24.9 680.6,18.1 682.3,14.7 684.5,7.9 687.7,0 637.3,0 637.9,4.5 641.4,13.6 641.1,15 639,17 636.8,18.1 612,28.3 607.9,30.6 605,32.8 602.9,35.1 601.5,37.4 600.7,39.6 600.6,41.9 601.7,44.2 602.9,45.3 607.3,47.2ZM0,37.4 9.7,29.4 13.5,27.5 20.3,25.4 27.1,24.5 51.9,22.9 61,21.6 70,19.1 74.8,17 83.5,12.2 88,10.7 124.2,7.1 149,2.6 154.6,1.1 157.3,0 0,0 0,36.2ZM570.5,18.1 582.4,18.8 591.5,18.7 600.5,17.6 609.5,15.3 612.7,13.6 614,12.3 615.3,10.2 616.3,5.7 615.7,0 513.5,0 514.9,5.7 516.2,7.9 519.2,9.9 522.8,11.3 530.5,13.3 541.8,15.1 568.9,18Z" fill="#fa8d2e" fill-rule="evenodd"/>
<path d="M0,181.2 429,181.2 426,180.1 416.8,177.8 404.1,175.5 334.1,168 291.2,162.1 270.9,160.4 232.5,159.3 223.2,158.6 218.4,157.4 213.1,155.2 199.1,146.1 192.5,142.7 171,134.8 160.5,131.4 149,128.9 135.4,127 111.6,124.6 83.5,122.7 74.5,121.6 70,120.7 65.5,119.3 52.7,113.2 49.7,112.5 45.1,112.1 40.6,112.6 36.1,114.4 33.9,116.2 32.6,117.8 31.6,120 31.2,122.3 31.6,126.4 32.7,130.2 33.9,132.4 36.1,134 42.6,137 43.1,138.2 40.9,139.3 31.6,142.4 13.5,151.6 10.8,154 7.5,158.6 5.3,160.8 2.3,162.7 0,163.4 0,180.1ZM726.9,181.2 767.5,181.2 767.5,107.3 758.5,106.5 745,103.8 740.5,102.3 728.7,97.4 704.3,91.5 668.2,85.4 656.9,84.4 645.6,84.6 608.6,87.2 557.6,92.6 544.1,94.7 531.9,97.4 523.8,99.7 521.3,100.8 519.9,101.9 519.9,103.1 521.1,104.2 523.3,105.3 530.6,107.6 541.2,109.9 550.8,111.1 589.2,114 598.2,115.5 607.3,118.1 614.4,121.2 625.3,127.1 645.6,137.3 677.2,151 699.8,163.4 713.4,173.6 717.9,176.4 725.2,180.1ZM628.1,41.9 636.6,41.4 645.6,39.4 654.7,36.2 662.4,31.7 667.2,27.2 669.7,22.7 669.8,19.3 667.5,14.7 667.6,13.6 670,11.3 678.8,4.5 680.8,2.3 681.9,0 640.8,0 641.7,3.4 644.2,6.8 647.9,9.9 654.4,13.6 654.4,14.7 652.9,15.9 641.1,20.8 633.2,24.9 624.4,30.6 620.4,34 618.8,36.2 618.4,37.4 618.5,38.5 619.2,39.6 621.1,40.8 623.1,41.4 627.6,41.9ZM0,28.3 0,29.4 11.3,23.2 18.1,20.8 24.8,19.9 45.1,19 54.2,17.9 63.2,15.5 73.6,10.2 79,8.4 87.2,6.8 112.9,3.4 119.6,1.8 123.7,0 0,0 0,27.2ZM571.1,11.3 586.9,12.1 591.5,11.7 596,10.8 600.5,9 603.5,6.8 605,4.4 605.9,0 538.9,0 539.3,2.3 540.5,4.5 541.5,5.7 543.5,6.8 547.2,7.9 553.2,9.1 568.9,11.1Z" fill="#f5752b" fill-rule="evenodd"/>
<path d="M0,181.2 28.6,181.2 27.1,180.8 20.9,176.7 16.3,174.4 11.3,173.1 2.3,172.3 0,172.2 0,180.1ZM37.9,181.2 291.5,181.2 289.5,178.9 285.2,176.7 277.7,174 270.9,172.3 259.6,170.7 225.7,168.1 219,167 209.9,164.6 205.4,163 200.9,160.7 189.6,151.9 181.9,147.2 175.7,145 146.7,136.1 137.7,134.1 103.8,129.2 88,128.3 70.9,129.1 65.5,130.1 62,131.4 61.1,132.5 61.2,133.6 63,137 62.7,138.2 61.4,139.3 55.5,142.7 54.5,143.8 42.9,175.8 40.6,179.1 38.4,181.1ZM753.8,175.5 767.5,176 767.5,119 758.5,117.6 747.2,114.1 740.5,110.7 724.6,100.8 717,97.4 710.2,95.1 702.1,93 695.5,91.7 659.2,86 652.4,85.8 645.6,86.2 620.7,88.3 607.3,90.1 566.6,99.7 563.7,100.8 562.5,101.9 562.9,103.1 565.1,104.2 569,105.3 600.5,111.6 611.8,114.8 619.8,117.8 654.7,133.6 677.2,142.9 699.8,156.5 704.3,159.7 715.3,168.7 720.1,171.2 726.9,172.5 751.7,175.4ZM633.4,37.4 638.9,37.6 645.6,36.5 652.4,34.2 657.1,31.7 661.4,28.3 663.8,24.9 664.1,22.6 663.7,21.5 661.4,19.8 656.9,19.1 652.4,19.6 645.6,21.7 639.1,24.9 632.8,29.4 630.1,32.8 629.8,35.1 630.6,36.2 632.1,37ZM0,22.7 0,23.2 2.3,22.3 11.3,18 18.1,16.1 24.8,15.4 42.9,14.9 49.7,14.4 56.4,12.7 65.9,9.1 74.5,6.6 84.7,4.5 102.8,2.3 107.6,1.1 109.8,0 0,0 0,21.5ZM654.1,7.9 656.9,8.2 661.4,7.9 668.2,6.2 674.1,3.4 675.4,2.3 676.8,0 643.6,0 644.2,2.3 646.2,4.5 650.2,6.9 652.4,7.6ZM577.8,3.4 584.7,4.2 589.2,3.6 591.9,2.3 593.7,0 570.6,0 571.8,1.1 575.7,2.8Z" fill="#ee5c2a" fill-rule="evenodd"/>
<path d="M58.7,181.2 124.8,181.2 121.9,178.5 119.4,175.5 117.4,171.7 115.3,165.3 111.3,159.7 110.2,157.4 108.3,150.6 108.2,147.2 108.9,142.7 108,140.4 104.5,138.2 101.1,137 95,135.9 90.3,135.6 85.8,135.9 81.3,137.2 73.2,141.6 70.7,143.8 59.4,164.2 58.7,167.6 58.7,180.1ZM135.8,181.2 206.5,181.2 204.6,180.1 198.7,177.9 185.1,174 173.8,172.4 158,171.3 151.3,171.6 146.7,172.7 142.2,175.4 136.8,180.1ZM719.3,164.2 724.7,165.1 729.2,164.8 735.9,163.2 742.7,160.7 747.2,159.5 760.5,158.6 767.5,157.6 767.5,134.3 759,130.2 742.7,123.7 738.2,121.3 733.4,117.8 724.5,108.7 712.5,99.7 708.3,97.4 700.8,95.1 683.7,91.7 661.4,88.1 656.9,87.7 650.2,87.7 629.8,89.7 617.4,91.7 597,99.7 594.9,100.8 594.2,101.9 594.8,103.1 599.3,105.3 631.5,116.6 645.6,123.3 679.5,137 684,139.7 691,145 703.5,151.8 706.6,154.2 713.3,160.8 717.9,163.7ZM639.7,34 643.4,34.1 647.9,33.2 651.8,31.7 654.7,30.1 656.9,28.3 658.5,26 658.8,24.9 658.5,23.8 656.9,22.6 654.7,22.2 650.2,22.8 645.6,24.4 642.4,26 639.3,28.3 637.5,30.6 637.2,31.7 637.6,32.8 638.9,33.8ZM0,17 0,17.4 2.3,16.6 11.3,13 18.1,11.4 24.8,10.8 42.9,10.5 49.7,9.9 71.5,4.5 93.4,1.1 96.7,0 0,0 0,15.9ZM655.2,5.7 661.4,5.5 666.2,4.5 671.1,2.3 672.6,0 646.1,0 647,2.3 648.3,3.4 650.3,4.5 654.7,5.6Z" fill="#e2402a" fill-rule="evenodd"/>
<path d="M66,181.2 113.2,181.2 110.9,174.4 109.3,166.5 107.1,163.1 99.3,154.9 97.1,153.2 92.6,151 88,150.5 83.5,151.4 79,153.6 74.5,157 67.7,163.5 66.6,165.3 66,167.6 66,180.1ZM719.9,156.3 722.4,157.3 724.7,157.1 728.2,155.2 731.2,151.8 733,148.4 734.2,143.8 734.4,139.3 733.7,135.9 731.3,132.5 724,126.8 721.7,124.6 720.1,122.1 718.3,116.6 716.1,113.2 713.9,111 708,106.5 702.3,100.8 697.6,98.8 684,96.2 673.9,92.9 661.4,90.5 652.4,90 645.1,90.6 637.9,91.7 629.8,93.9 616.4,100.8 615.6,101.9 615.8,103.1 619.4,105.3 641.1,113.3 655.2,120 686.3,132.6 690,134.8 699.8,142.1 709.7,147.2 712.6,149.5 718.4,155.2ZM647.8,28.3 648.2,28.3 647.9,28.2ZM0,11.3 0,11.7 2.3,11 10.8,7.9 15.8,7 22.6,6.5 42.9,6.4 49.7,6 76.7,1.1 80.4,0 0,0 0,10.2ZM652.3,3.4 656.9,4.2 663.7,3.5 667,2.3 668.4,1.1 668.9,0 648.7,0 649.1,1.1 650.2,2.3Z" fill="#d4242a" fill-rule="evenodd"/>
<path d="M73,181.2 106.1,181.2 104.7,174.4 103.8,167.6 102.7,165.3 100.3,163.1 97.1,161.2 94.8,160.3 90.3,159.3 85.8,159.5 81.3,160.7 76.8,162.9 74,165.3 73.3,166.5 72.9,168.7 73,180.1ZM694.3,120 699.8,120.2 702.1,119.7 705.1,117.8 705.3,116.6 704.3,115.3 702.1,114.2 699.8,113.7 693.1,114 688.4,115.5 687.3,116.6 687.6,117.8 689.5,118.9 693.1,119.8ZM646.9,99.7 652.4,100.6 659.2,100 662.6,98.5 663.3,97.4 662.5,96.3 661.4,95.7 659.2,95 654.7,94.5 649,95.1 645.6,96.3 644.3,97.4 644.6,98.5 645.6,99.2ZM0,4.5 13.5,3.4 47.4,2.5 58.5,1.1 62.9,0 0,0 0,3.4ZM654.5,2.3 656.9,2.7 661.4,2.4 664.3,1.1 665.1,0 651.7,0 652.4,1.2Z" fill="#be1a25" fill-rule="evenodd"/>
<path d="M81.5,181.2 97.7,181.2 96.1,167.6 95.4,166.5 93.6,165.3 90.3,164.5 88,164.5 84.3,165.3 82.5,166.5 81.8,167.6 81.5,180.1Z" fill="#a8181f" fill-rule="evenodd"/>
<path d="M268.6,118.9 228,116.7 221.2,115.6 214.5,113.3 209.6,111 203.9,107.6 198.7,103.6 196.4,102.6 180.6,101 176.2,99.7 175.7,98.5 177.5,97.4 180.6,96.9 187.4,96.7 203.2,97.1 212.2,98 221.2,100.2 241.6,102.5 260.2,105.3 292.4,112.1 299,114.4 300.8,115.5 301.1,116.6 300.2,117 297.7,117.8 291.2,118.4 270.9,119ZM42.9,94.1 38.4,93 36.1,92 34.3,90.6 33.8,89.5 33.8,87.2 35,84.9 37.9,82.7 40.6,81.5 47.4,79.9 70,77 83.5,75.9 92.6,75.9 99.3,77.3 103.8,79.2 105.5,80.4 106.5,81.5 106.8,82.7 106.3,83.8 104.6,84.9 99.3,86.7 86.6,89.5 74.2,92.9 63.2,94 45.1,94.3ZM720.1,85 715.9,83.8 713.9,82.7 712.5,81.5 710.7,79.3 710.1,77 711.1,69.1 710.6,62.3 711.9,58.9 714.1,56.6 717.9,54.7 722.4,54.2 724.7,54.5 726.9,55.5 729.3,57.8 730.9,61.2 731.3,66.8 730.8,72.5 729.2,79.3 726.9,82.7 724.7,84.4 722.4,85ZM0,79.7 15.8,69.4 20.3,66.9 26.6,64.6 33.9,62.9 67.7,58 83.5,56.4 99.3,56.5 117.4,58 131.5,60 153.5,64.7 177.1,69.1 182.9,70.5 196.4,74.9 203.2,76.5 212.2,77.9 239.3,80.8 252.8,83.4 259.6,85.6 271.3,90.6 277.7,92.9 300.2,99.3 316,104.5 324.4,106.5 345.4,110.2 356.4,113.2 377.9,121.2 381.8,123.4 383,124.6 384.1,126.8 384,128 383.4,129.1 380.2,131.4 374.7,133.1 368,134.1 361.2,134.5 349.9,134.3 313.8,132.5 277.7,127.5 234.8,124 225.7,122.8 214.5,120.7 205.4,118.3 189.6,112.5 173.8,108.2 164.8,105.3 157.2,101.9 149,96.3 146.6,95.1 142.2,94 135.4,93.5 126.4,94.2 119.6,96 108.6,100.8 103.8,102.4 97.1,103.7 90.3,104.2 85.8,103.9 67.7,101.4 40.6,98.9 24.8,95.5 5.8,92.9 0,91.3M358.9,69.2 353.1,68 355.1,66.8 358.9,66.2 379.3,63.4 433.4,57.7 451.5,56.7 501.2,56.9 514.7,58.3 538.9,62.3 543.3,63.4 544,64.6 539.5,65.1 492.1,66 453.8,67.6 361.2,69.3ZM580.2,155.5 573.1,154 557.6,149.9 539.5,148.4 532.8,147.4 528,146.1 525.5,145 524.1,143.8 523.6,142.7 524,141.6 525.4,140.4 530.5,138.6 535,137.8 548.6,137.4 557.6,137.8 566.6,138.8 573.4,140.1 577.4,141.6 579.2,142.7 582.9,146.1 591.5,148.8 594.6,150.6 595.3,151.8 595.1,152.9 594.1,154 591.8,155.2 586.9,156 582.4,155.8ZM0,62.6 18.1,53.6 22.6,51.8 27.1,50.5 58.7,46.9 83.5,43.1 92.6,42.6 115.1,43.5 149,46.7 180.6,51.6 214.5,58.2 221.2,59.1 228,59.3 277.7,58.7 313.8,57.6 322.8,56.9 358.9,52.7 379.3,51.5 456,49.6 492.1,48 512.5,48.3 528.3,49.4 539.5,51.1 566.6,58 586.9,62.3 616.3,66.1 629.8,67 638.9,66.5 654.7,64.3 684,57.7 688.5,56.4 693.1,54.7 699.8,50.2 702.1,49.5 708.9,48.8 724.7,48.6 733.7,49.4 738.2,50.6 740.7,52.1 741.8,53.2 743.9,57.8 745.6,63.4 746.1,66.8 745.8,69.1 745.2,70.2 740.5,76.1 734.2,84.9 733,86.1 730.9,87.2 724.7,88.4 717.9,88.2 712,87.2 703.8,84.9 693.1,81 688.5,79.9 666,76.6 654.7,76 632.1,76.8 616.3,76.4 584.7,74.9 560.9,72.5 546.3,71.8 489.9,71.8 449.2,72.9 439.8,73.6 406.3,78 392.8,80.5 384.8,82.7 379.3,84.6 369.9,89.5 363.7,91.7 362.1,92.9 362.4,94 363.7,95.1 369.8,98.5 388.3,106.3 395.6,109.9 403.5,114.4 413.3,121.2 419.9,124.5 435.7,130.3 456,135.7 458.7,137 459.4,138.2 458.9,139.3 457,140.4 451.5,142 424.4,146.8 410.9,148.3 401.8,148.3 374.7,145.8 343.1,143.6 307,139.9 273.2,135.3 237,132.9 225.7,131.7 219,130 203.3,123.4 189.6,118.9 182.9,117 167.1,113.5 146.7,106.1 137.7,104.1 133.2,104 128.7,104.5 106.1,109 92.6,109.9 83.5,109.1 67.7,105.3 58.7,103.8 24.8,101.7 18.1,101.8 13.5,102.2 0,105.7M717.9,35.5 713.4,33.8 710.9,31.7 709.5,28.3 710.1,23.8 712.3,19.3 715.6,16 717.9,14.9 720.1,14.3 724.7,14.5 727.5,15.9 729.2,17.2 730.6,19.3 732.4,23.8 732.6,28.3 731.4,31.2 728.7,34 724.7,35.6 720.1,35.9ZM601.8,181.2 596,178.9 586.9,176.9 544.1,174.6 539.5,173.8 529.3,171 521.5,169.4 471.8,163.6 438,160.4 395.1,157.6 361.2,152.7 309.3,147.9 273.2,143.8 237,141.8 225.8,140.8 219.2,139.3 214.5,137.6 196.4,128.2 190.4,125.7 182.9,123.4 173.8,121.4 160.3,119.2 133.2,116 92.6,114.6 85.8,114 79,112.6 63.2,108 51.9,106.1 42.9,105.8 33.4,106.5 24.8,108 11.3,111.4 9,112.3 6.1,114.4 3.7,117.8 0,124.4M767.5,83.8 756.3,84.1 747.2,84.9 745,85.5 739,88.3 735.2,89.5 729.2,90.4 722.4,90.6 713.4,89.5 679.5,82.7 663.7,81.1 652.4,80.8 632.1,81.7 609.5,81.6 580.2,80.9 548.6,79.4 535,79.4 517,80.4 478.6,84.2 456,88.4 435.7,91.2 433,91.7 430.8,92.9 430.8,94 431.8,95.1 440.8,103.1 450.4,114.4 453.8,116.4 458.3,117.6 469.6,118.9 512.5,121.7 582.4,124.4 589.2,125.2 593.7,126.4 598.2,128.3 603.2,131.4 607.1,134.8 615.4,143.8 627.6,153.4 632.2,156.3 637.1,158.6 649.4,163.1 661.4,168.4 677.2,174.4 684,176.4 697.6,178.9 699.8,179.7 702.1,181.2M0,50.4 2.3,49.2 5.5,46.4 11.3,38.5 15.8,33.9 20.3,31.4 24.8,30.6 42.9,30.6 45.2,30.4 47.9,29.4 57.9,28.3 81.3,27.2 137.7,26.3 160.3,27.2 189.6,29.8 214.5,32.4 228,33 241.6,32.4 270.9,30.3 286.7,28.7 295.7,26.6 301.7,23.8 305.4,20.4 311.5,12.7 316,9.5 320.3,7.9 338.6,3 343,1.1 344.4,0M448.9,0 438,2.8 432.6,4.5 413.1,14 397.3,19.5 390.6,22.6 388.2,24.9 387.6,26 387.9,28.3 389.6,30.6 391,31.7 395,34 398,35.1 406.3,37 422,38.5 440.2,39.5 456,39.7 500.3,36.2 532.8,31 539.5,30.5 546.3,30.7 555.3,32.4 559.9,34 564.4,36.2 567.9,38.5 570.5,40.8 577.5,49.8 580.8,52.1 583.8,53.2 589.2,54.4 600.5,55.7 623.1,56.6 638.9,56 656.9,53.9 677.2,49.4 679.5,48.6 683.3,46.4 685.6,44.2 687,40.8 689.6,27.2 693.6,15.9 694.8,4.5 696,0M712.1,0 715.6,1.3 722.4,1.9 731.4,1.4 740.7,0M507.5,181.2 503.4,178.8 494.4,176.4 416.6,166.5 365.7,162.2 331.9,157.9 304.8,155.2 270.9,152.6 239.3,150.8 225.7,149.4 221.2,148.4 214.5,145.9 185.1,131.3 178.8,129.1 169.9,126.8 155.8,124.1 140,121.9 94.8,119.1 83.5,117.9 74.5,115.9 61,110.8 56.4,109.7 49.7,108.9 42.9,108.8 34.2,109.9 25.8,112.1 21,114.4 18.1,116.9 15.6,120 13.8,128 12.1,131.4 0,143.2M767.5,96.8 747.2,95.8 720.1,92.8 702.1,89.2 672.7,84.3 663.7,83.2 652.4,82.8 591.5,85.4 546.3,86.3 526,87.9 507.9,90.1 496.6,92.4 489.9,94.6 485.4,96.5 482.1,98.5 480.2,100.8 479.9,101.9 480.5,104.2 482.8,106.5 484.6,107.6 492.1,110.6 501.2,112.6 515.5,114.4 537.3,116.1 586.9,118.4 593.7,119.3 600.5,121.2 605,123 609.5,125.5 617.1,130.2 629.8,139.1 643.4,146.5 654.7,151.8 672.7,158.8 702.1,172.3 709,176.7 711.7,178.9 713.6,181.2M0,37.4 9.7,29.4 13.5,27.5 20.3,25.4 27.1,24.5 51.9,22.9 61,21.6 70,19.1 74.8,17 83.5,12.2 88,10.7 124.2,7.1 149,2.6 154.6,1.1 157.3,0M513.5,0 514.9,5.7 516.2,7.9 519.8,10.2 526,12.2 535,14.1 553.1,16.6 573.4,18.3 586.9,18.8 593.7,18.5 602.8,17.2 609.5,15.3 612.7,13.6 614.8,11.3 616.1,7.9 616.3,4.5 615.7,0M637.3,0 637.9,4.5 641.4,13.6 641.3,14.7 640.5,15.9 636.6,18.2 617.1,26 609.8,29.4 606.3,31.7 603.8,34 602.1,36.2 601,38.5 600.6,41.9 601.7,44.2 602.9,45.3 605,46.4 609,47.6 618.6,48.3 632.1,47.3 643.4,44.8 656.9,40.1 662.7,37.4 666.3,35.1 669.2,32.8 673.4,28.3 681.3,17 687.7,0M429,181.2 426,180.1 416.8,177.8 404.1,175.5 334.1,168 291.2,162.1 270.9,160.4 232.5,159.3 223.2,158.6 218.4,157.4 213.1,155.2 199.1,146.1 192.5,142.7 171,134.8 160.5,131.4 149,128.9 135.4,127 111.6,124.6 83.5,122.7 74.5,121.6 70,120.7 65.5,119.3 52.7,113.2 47.1,112.1 40.6,112.6 36.1,114.4 33.9,116.2 32.6,117.8 31.4,121.2 31.4,125.7 33.2,131.4 35.4,133.6 42.6,137 43.1,138.2 40.9,139.3 31.6,142.4 13.5,151.6 10.8,154 7.5,158.6 5.3,160.8 2.3,162.7 0,163.4M767.5,107.3 758.5,106.5 745,103.8 740.5,102.3 728.7,97.4 704.3,91.5 668.2,85.4 656.9,84.4 645.6,84.6 608.6,87.2 557.6,92.6 544.1,94.7 531.9,97.4 523.8,99.7 521.3,100.8 519.9,101.9 519.9,103.1 521.1,104.2 523.3,105.3 530.6,107.6 541.2,109.9 550.8,111.1 589.2,114 598.2,115.5 607.3,118.1 614.4,121.2 625.3,127.1 645.6,137.3 672.7,148.9 679.5,152.2 699.8,163.4 713.4,173.6 726.9,181.2M0,29.4 11.3,23.2 18.1,20.8 24.8,19.9 45.1,19 54.2,17.9 63.2,15.5 73.6,10.2 79,8.4 87.2,6.8 112.9,3.4 119.6,1.8 123.7,0M538.9,0 539.8,3.4 541.5,5.7 543.5,6.8 547.2,7.9 566.6,10.9 584.7,12.1 593.7,11.4 597.9,10.2 600.5,9 602.8,7.5 604.4,5.7 605.4,3.4 605.9,0M640.8,0 641.7,3.4 644.2,6.8 647.9,9.9 654.4,13.6 654.4,14.7 652.9,15.9 641.1,20.8 633.2,24.9 624.4,30.6 620.4,34 618.8,36.2 618.4,37.4 618.5,38.5 619.2,39.6 621.1,40.8 623.1,41.4 629.8,41.9 638.9,41 647.9,38.8 656.9,35.1 662.4,31.7 667.2,27.2 669.7,22.7 669.8,19.3 667.5,14.7 667.6,13.6 670,11.3 678.8,4.5 680.8,2.3 681.9,0M28.6,181.2 27.1,180.8 20.9,176.7 16.3,174.4 9,172.8 0,172.2M291.5,181.2 289.5,178.9 285.2,176.7 277.7,174 270.9,172.3 259.6,170.7 225.7,168.1 219,167 209.9,164.6 205.4,163 200.9,160.7 189.6,151.9 181.9,147.2 175.7,145 146.7,136.1 137.7,134.1 103.8,129.2 88,128.3 70.9,129.1 65.5,130.1 62,131.4 61.1,132.5 61.2,133.6 63,137 62.7,138.2 61.4,139.3 55.5,142.7 54.5,143.8 42.9,175.8 40.6,179.1 37.9,181.2M767.5,119 758.5,117.6 747.2,114.1 740.5,110.7 724.6,100.8 717,97.4 710.2,95.1 702.1,93 695.5,91.7 659.2,86 647.3,86.1 611,89.5 604.6,90.6 589.2,94.6 570.7,98.5 563.7,100.8 562.5,101.9 562.9,103.1 564.4,103.8 569,105.3 596,110.5 614,115.6 619.8,117.8 654.7,133.6 674.5,141.6 679.5,144.2 699.8,156.5 704.3,159.7 715.3,168.7 720.1,171.2 724.7,172.2 747.2,175 756.3,175.7 767.5,176M633.4,37.4 638.9,37.6 645.6,36.5 652.4,34.2 657.1,31.7 661.4,28.3 663.8,24.9 664.1,22.6 663.7,21.5 661.4,19.8 656.9,19.1 652.4,19.6 645.6,21.7 639.1,24.9 632.8,29.4 630.1,32.8 629.8,35.1 630.6,36.2 632.1,37ZM0,23.2 11.3,18 18.1,16.1 24.8,15.4 42.9,14.9 49.7,14.4 56.4,12.7 65.9,9.1 74.5,6.6 84.7,4.5 102.8,2.3 107.6,1.1 109.8,0M570.6,0 571.8,1.1 575.7,2.8 580.2,3.8 584.7,4.2 589.8,3.4 591.9,2.3 593.7,0M643.6,0 644.2,2.3 645,3.4 647.9,5.8 652.4,7.6 656.9,8.2 663.7,7.5 670.5,5.4 675,2.7 676.3,1.1 676.8,0M124.8,181.2 121.9,178.5 119.4,175.5 117.4,171.7 115.3,165.3 111.3,159.7 110.2,157.4 108.3,150.6 108.2,147.2 108.9,142.7 108,140.4 104.5,138.2 101.1,137 95,135.9 90.3,135.6 85.8,135.9 81.3,137.2 73.2,141.6 70.7,143.8 60.5,161.9 59.1,165.3 58.7,168.7 58.7,181.2M206.5,181.2 204.6,180.1 198.5,177.8 189.6,175.1 182.9,173.5 169.3,172 155.8,171.3 151.3,171.6 146.7,172.7 142.2,175.4 135.8,181.2M767.5,134.3 759,130.2 742.7,123.7 738.2,121.3 733.4,117.8 724.5,108.7 710.7,98.5 706.6,96.8 702.1,95.4 683.7,91.7 663.2,88.3 656.9,87.7 647.9,87.9 631.6,89.5 622.9,90.6 613.8,92.9 597,99.7 594.9,100.8 594.2,101.9 594.8,103.1 599.3,105.3 631.5,116.6 645.6,123.3 679.5,137 684,139.7 691,145 703.5,151.8 706.6,154.2 713.4,160.9 716.7,163.1 720.1,164.5 724.7,165.1 729.2,164.8 735.9,163.2 742.7,160.7 747.2,159.5 760.5,158.6 767.5,157.6M639.7,34 643.4,34.1 647.9,33.2 651.8,31.7 654.7,30.1 656.9,28.3 658.5,26 658.8,24.9 658.5,23.8 656.9,22.6 654.7,22.2 650.2,22.8 645.6,24.4 642.4,26 639.3,28.3 637.5,30.6 637.2,31.7 637.6,32.8 638.9,33.8ZM0,17.4 11.3,13 18.1,11.4 24.8,10.8 42.9,10.5 49.7,9.9 71.5,4.5 93.4,1.1 96.7,0M646.1,0 647,2.3 650.2,4.5 652.4,5.2 656.9,5.8 663.7,5.2 668.2,3.8 671.1,2.3 672.6,0M113.2,181.2 110.9,174.4 109.3,166.5 107.1,163.1 99.3,154.9 97.1,153.2 92.6,151 88,150.5 83.5,151.4 79,153.6 74.5,157 69.1,161.9 67.2,164.2 66,167.6 66,181.2M719.9,156.3 722.4,157.3 724.7,157.1 728.2,155.2 731.2,151.8 733,148.4 734.2,143.8 734.4,139.3 733.7,135.9 731.3,132.5 724,126.8 721.7,124.6 720.1,122.1 718.3,116.6 716.1,113.2 713.9,111 708,106.5 702.3,100.8 697.6,98.8 684,96.2 673.9,92.9 661.4,90.5 652.4,90 645.1,90.6 637.9,91.7 629.8,93.9 616.4,100.8 615.6,101.9 615.8,103.1 619.4,105.3 641.1,113.3 655.2,120 686.3,132.6 690,134.8 699.8,142.1 709.7,147.2 712.6,149.5 718.4,155.2ZM647.8,28.3 648.2,28.3 647.9,28.2ZM0,11.7 9,8.4 15.8,7 22.6,6.5 42.9,6.4 49.7,6 76.7,1.1 80.4,0M648.7,0 649.1,1.1 650.2,2.3 652.4,3.5 656.9,4.2 661.4,3.9 666,2.7 668.4,1.1 668.9,0M106.1,181.2 104.7,174.4 103.8,167.6 102.7,165.3 100.3,163.1 97.1,161.2 92.6,159.7 88,159.2 83.5,160 79,161.7 76.5,163.1 74,165.3 73.3,166.5 72.9,168.7 73,181.2M694.3,120 699.8,120.2 702.1,119.7 705.1,117.8 705.3,116.6 704.3,115.3 702.1,114.2 699.8,113.7 693.1,114 688.4,115.5 687.3,116.6 687.6,117.8 689.5,118.9 693.1,119.8ZM646.9,99.7 652.4,100.6 659.2,100 662.6,98.5 663.3,97.4 662.5,96.3 661.4,95.7 659.2,95 654.7,94.5 649,95.1 645.6,96.3 644.3,97.4 644.6,98.5 645.6,99.2ZM0,4.6 13.2,3.4 47.4,2.5 58.5,1.1 62.9,0M651.7,0 652.3,1.1 654.5,2.3 656.9,2.7 661.8,2.3 664.3,1.1 665.1,0M97.7,181.2 96.1,167.6 95.4,166.5 93.6,165.3 90.3,164.5 88,164.5 84.3,165.3 82.5,166.5 81.8,167.6 81.5,181.2" fill="none" stroke="#b2b5b9" stroke-width="1.6" stroke-linejoin="round"/>
<use href="#land"/>
</g>
<use href="#mframe"/>
</g>
<text x="951.2" y="348.8" font-size="26" text-anchor="end" fill="#000">20N</text>
<text x="951.2" y="394.1" font-size="26" text-anchor="end" fill="#000">10N</text>
<text x="951.2" y="439.4" font-size="26" text-anchor="end" fill="#000">0</text>
<text x="951.2" y="484.7" font-size="26" text-anchor="end" fill="#000">10S</text>
<text x="951.2" y="530" font-size="26" text-anchor="end" fill="#000">20S</text>
<text x="974.1" y="563.9" font-size="26" text-anchor="middle" fill="#000">120E</text>
<text x="1109.55" y="563.9" font-size="26" text-anchor="middle" fill="#000">150E</text>
<text x="1245" y="563.9" font-size="26" text-anchor="middle" fill="#000">180</text>
<text x="1380.45" y="563.9" font-size="26" text-anchor="middle" fill="#000">150W</text>
<text x="1515.9" y="563.9" font-size="26" text-anchor="middle" fill="#000">120W</text>
<text x="1651.35" y="563.9" font-size="26" text-anchor="middle" fill="#000">90W</text>
<text x="969" y="323.4" font-size="38.5" text-anchor="start" fill="#000" font-weight="bold">c</text>
<text x="1731.5" y="323.6" font-size="29.4" text-anchor="end" fill="#000">Slab ocean</text>
<g transform="translate(974.7 703.8)">
<g clip-path="url(#mclip)">
<rect x="0" y="0" width="767.55" height="181.2" fill="#fff"/>
<path d="M733.5,181.2 767.5,181.2 767.5,90.6 747.2,90.6 745,90.3 742.7,89.6 740.5,87.9 738.2,84.8 733.1,71.3 731.4,68.7 729.2,66.4 724.7,63.6 713.4,59.7 709.3,57.8 702.1,53.4 699.8,52.9 695.3,53.1 672.7,56.4 647.9,61.9 634.4,63.3 611.8,63 512.5,59 406.3,58.4 392.8,59.1 361.2,62 273.2,65.3 255.1,66.9 229.4,70.2 178.3,75.3 153.5,78.5 130.2,82.7 124.2,84.8 122.9,86.1 123.8,87.2 126.3,88.3 135.4,90.8 140,92.4 150.8,98.5 160.3,102.8 167.1,104.7 180.6,107.2 243.8,116.2 282.2,120.3 354.4,124 399.6,125.6 410.9,126.5 417.6,127.8 421.7,129.1 426.6,131.4 438,138.5 443,140.4 449.2,141.6 460.5,141.3 496.6,136.8 521.5,134.5 537.3,133.7 564.4,133.9 593.7,134.8 616.3,136.2 634.4,138 643.4,139.8 652.4,142.1 661.2,145 668.2,147.8 688.5,156.7 704.3,165.3 720.1,171.1 726.9,175.3 732.7,180.1Z" fill="#ffff00" fill-rule="evenodd"/>
<path d="M754,163.1 767.5,163.1 767.5,138.2 754,138.2 751.7,137.4 751.7,137 749.5,136.6 749.2,135.9 747.2,135.1 745,133.1 740.8,128 736.1,123.4 729.2,118 722.4,113.3 717.9,111.4 704.3,108.5 701,107.6 698.8,106.5 697.4,105.3 695.3,102.1 689.8,87.2 687.8,83.8 686,81.5 683.6,79.3 679.5,76.6 675,75.1 668.2,73.9 618.6,71.2 550.8,64.6 512.5,62.1 496.6,61.7 451.5,62.1 404.1,61.6 395.1,62 363.5,64.7 291.2,67 261.9,68.6 230.3,72.5 158,79.9 145.8,82.7 141,84.9 140.2,86.1 140.4,87.2 143.9,90.6 153.5,96.6 160.3,99 171.6,101.7 196.4,106.1 250.6,113.9 264.1,115.4 302.5,118.6 356.7,120 397.3,119.4 419.9,118.3 444.7,114.9 451.5,114.3 496.6,112.9 535,110.8 573.4,109.8 589.2,109.7 600.5,110 627.6,112.7 636.6,114 654.5,117.8 662.9,120 670.5,122.8 677.2,126.1 686.5,132.5 708.6,146.1 713.4,148.6 717.9,150.4 724.7,151.3 754,151.8 754,161.9Z" fill="#ffdc00" fill-rule="evenodd"/>
<path d="M300.3,115.5 318.3,116.2 358.9,116 372.5,115.6 388.3,114.2 417.6,110 435.7,108.4 487.6,105.1 550.8,102.4 654.7,95.3 665.3,94 668.8,92.9 670.5,91.7 671.2,90.6 671.4,89.5 671,88.3 668.2,86.3 665.1,84.9 656,82.7 625.3,79 582.4,74.7 548.6,69.5 510.2,66.4 492.7,65.7 406.3,64.9 368,67.3 275.4,70 261.9,71 228,75 162.5,81.2 155.8,82.3 151.2,83.8 149.3,84.9 148.1,86.1 147.7,87.2 148,88.3 149.8,90.6 154.1,94 156.1,95.1 160.3,96.5 182.1,100.8 219,106.5 264.1,112.5 300.2,115.5Z" fill="#ffbe00" fill-rule="evenodd"/>
<path d="M305.6,112.1 336.4,112.2 365.7,111.1 374.8,109.9 404.1,104 424.4,101.8 444.7,100.1 474.1,98.9 548.6,97.2 614,92.6 627.6,91.3 636.7,89.5 638.4,88.3 636.3,87.2 632.1,86.1 623.1,84.3 607.3,82.5 544.1,77.5 417.6,74.7 404.1,74.1 383.8,72 370.2,71.3 325.1,71.5 293.5,72.2 266.4,73.2 230.3,77.3 162.5,83.4 159.7,83.8 156.6,84.9 155,86.1 154.2,87.2 154,88.3 155.4,90.6 158,92.7 160.8,94 164.8,95.1 180.1,97.4 196.4,100.3 225.7,104.2 270.9,109.4 304.8,112.1Z" fill="#ffa000" fill-rule="evenodd"/>
<path d="M304.9,107.6 322.8,107.8 343.1,106.5 363.5,103.8 388.3,98.6 399.6,96.8 410.9,95.8 451.5,93.2 469.6,92.4 492.1,92 546.3,92.8 586.3,90.6 598.1,89.5 604,88.3 603.7,87.2 602.8,87 597.8,86.1 589.2,85.3 546.3,84.2 494.4,85.1 449.2,84.2 401.8,81.6 388.3,80 370.2,76.9 361.2,76.2 302.5,76.2 262.9,77 198.7,83 174,84.9 168.6,86.1 165.5,87.2 164.2,88.3 164.3,89.5 165.6,90.6 170.8,92.9 175.2,94 207,98.5 263,104.2 304.8,107.6Z" fill="#ff8200" fill-rule="evenodd"/>
<path d="M251.7,97.4 270.9,98.1 311.5,97.6 327.3,96.7 343.1,94.5 349.1,92.9 350.7,91.7 351.2,90.6 350.6,89.5 349,88.3 346.1,87.2 338.6,85.5 320.6,83.6 291.2,82.6 264.1,82.6 228,85.2 213.6,87.2 205.4,89.5 203.5,90.6 204.1,91.7 207.3,92.9 221.2,95.3 250.6,97.3Z" fill="#ff6400" fill-rule="evenodd"/>
<path d="M353.7,155.2 363.5,155.4 374.7,155 385,154 389.8,152.9 391.1,151.8 390.8,150.6 387.8,148.4 382.8,146.1 372.5,143.5 348.9,139.3 318.3,134.9 270.9,131 261.9,129.9 250.6,127.6 228,122.3 185.1,117.4 174.7,116.6 160.3,116.1 155.4,116.6 153.7,117.8 153.2,118.9 153.6,121.2 155.8,123.5 158,124.8 160.3,125.5 180.6,127.4 202.7,131.4 214.5,133.9 228.1,135.9 234.8,137.7 241.5,140.4 248.6,142.7 259.6,145.3 268.6,146.9 282.2,148.3 316,150.5 338.6,153.7 352.2,155.1ZM175.7,65.7 180.6,66.3 185.1,66.3 206.5,65.7 223.5,64.5 229.6,63.4 231.8,62.3 233,61.2 233.4,60 233.3,58.9 232.3,57.8 227.9,56.6 214.5,56.1 178.3,56.1 173.8,57.2 171.6,58.6 170.4,60 170,61.2 170.3,62.3 171.6,63.7 173.8,65ZM21.2,44.2 45.1,44.3 51.9,43.7 65.5,40.1 90.2,31.7 99.3,27 106.9,21.5 126.2,0 0,0 0,43.1 20.3,44.1Z" fill="#cdfafa" fill-rule="evenodd"/>
<path d="M354.4,155.2 338.6,153.7 316,150.5 282.2,148.3 268.6,146.9 259.6,145.3 248.6,142.7 241.5,140.4 234.8,137.7 228.1,135.9 214.5,133.9 202.7,131.4 180.6,127.4 160.3,125.5 158,124.8 155.8,123.5 153.6,121.2 153.2,118.9 153.7,117.8 155.4,116.6 160.3,116.1 174.7,116.6 185.1,117.4 228,122.3 250.6,127.6 261.9,129.9 270.9,131 318.3,134.9 348.9,139.3 372.5,143.5 379.3,145 385.6,147.2 389.6,149.5 390.8,150.6 391.1,151.8 390.5,152.3 389.8,152.9 386,153.8 379.3,154.7 368,155.3 356.7,155.3ZM176.1,65.8 171.6,63.7 170.3,62.3 170,61.2 170.4,60 171.6,58.6 173.8,57.2 176.1,56.5 182.9,55.9 203.2,55.9 228,56.6 232.3,57.8 233.3,58.9 233.4,60 233,61.2 231.8,62.3 229.6,63.4 228,63.8 223.2,64.6 206.5,65.7 185.1,66.3 178.3,66.1ZM126.2,0 120.8,5.7 109.2,19.3 105.5,22.7 100.9,26 95.1,29.4 84.2,34 61,41.5 49.7,44 42.9,44.3 22.6,44.2 0,43.1M126.3,181.2 125.2,180.1 121.9,178.4 117.8,174.4 115.8,171 113.9,165.3 112.6,157.4 111.6,146.1 112,133.6 110.1,124.6 110.6,113.3 108.7,107.6 109.8,105.3 111.5,103.1 114.2,100.8 117.4,99 124.2,97.1 133.2,96.3 135.4,96.6 137.7,97.5 143,100.8 149,103.6 158,108.6 167.1,110.5 245.6,120 261.9,123.7 268.6,124.7 338.6,130 374.7,134.3 388.3,136.6 395.1,138.4 409.7,143.8 433.4,151.2 453.8,156.9 476.3,162.4 482,164.2 488.8,168.7 493.4,173.3 496.1,177.8 496.7,181.2M358.7,181.2 338.6,178.6 309.3,176.1 279.9,172.9 246.1,170 230.3,168.2 219.3,166.5 189.6,160.1 176.1,157.8 162.5,154.7 160.3,154.5 158,155.4 155.8,158.6 149,175.8 146.7,179.3 145.3,180.1 144.5,181.1 143.8,181.2M425.8,181.2 425.6,178.9 424.4,175.9 422.2,173.3 420.5,172.1 417.6,170.9 413.7,169.9 406.4,169.3 399.6,169.8 392.8,171.1 382,174.4 363.5,180.9 361.4,181.2M634.4,25.3 632.2,23.8 631.5,22.7 632.8,20.4 636.6,18.9 638.9,18.6 641.1,18.9 644.8,20.4 646.1,22.7 645.5,23.8 644.1,24.9 641.1,25.9 636.6,25.9ZM202.3,0 198.7,0.9 194.1,3.7 191.9,6.1 186.4,13.6 182.9,16.7 180.3,18.1 170.2,21.5 166.7,23.8 166,24.9 165.9,27.2 166.5,29.4 167.8,31.7 171.6,35.3 176.1,37.5 182.9,38.6 219,40.6 273.2,40.6 282.2,39.9 354.4,32 404.1,31 405.8,31.7 406.3,32.8 406.4,41.9 406.3,43 405.5,44.2 401.6,46.4 385,53.2 375.8,55.5 361.6,57.8 275.4,61.5 264.1,62.7 241.6,66.1 189.6,70.6 155.8,73 144.3,74.7 133.2,75.8 112.9,75.2 97.1,73.6 88,71.9 70,66.1 63.2,64.8 56.4,64 45.1,63.5 0,63.5M767.5,90.6 747.2,90.6 745,90.3 742.7,89.6 740.5,87.9 738.2,84.8 733.1,71.3 731.4,68.7 729.2,66.4 724.7,63.6 711.1,58.7 702.1,53.4 697.6,52.9 670.5,56.8 645.8,62.3 634.4,63.3 611.8,63 512.5,59 406.3,58.4 392.8,59.1 361.2,62 273.2,65.3 255.1,66.9 229.4,70.2 178.3,75.3 153.5,78.5 130.2,82.7 124.2,84.8 122.9,86.1 123.8,87.2 126.3,88.3 135.4,90.8 140,92.4 150.8,98.5 160.3,102.8 167.1,104.7 180.6,107.2 243.8,116.2 282.2,120.3 354.4,124 399.6,125.6 410.9,126.5 417.6,127.8 421.7,129.1 426.6,131.4 438,138.5 443,140.4 449.2,141.6 460.5,141.3 496.6,136.8 521.5,134.5 537.3,133.7 564.4,133.9 593.7,134.8 616.3,136.2 634.4,138 645.6,140.3 656.9,143.5 666,146.8 684,154.6 692.3,158.6 702.1,164.2 717.3,169.9 722.1,172.1 730.2,177.8 733.5,181.2M767.5,138.2 754,138.2 751.7,137.4 751.7,137 749.5,136.6 749.2,135.9 747.2,135.1 745,133.1 740.8,128 736.1,123.4 729.2,118 722.4,113.3 716.6,111 704.3,108.5 699.8,107.1 697.6,105.5 695.8,103.1 689.8,87.2 687.8,83.8 684.9,80.4 681.8,77.9 677.2,75.7 670.5,74.2 663.7,73.5 618.6,71.2 550.8,64.6 512.5,62.1 496.6,61.7 451.5,62.1 404.1,61.6 395.1,62 363.5,64.7 291.2,67 261.9,68.6 230.3,72.5 158,79.9 145.8,82.7 141,84.9 140.2,86.1 140.4,87.2 143.9,90.6 153.5,96.6 160.3,99 171.6,101.7 196.4,106.1 250.6,113.9 264.1,115.4 302.5,118.6 356.7,120 397.3,119.4 419.9,118.3 444.7,114.9 451.5,114.3 496.6,112.9 535,110.8 573.4,109.8 589.2,109.7 600.5,110 627.6,112.7 636.6,114 654.5,117.8 662.9,120 670.5,122.8 677.2,126.1 686.5,132.5 708.6,146.1 713.4,148.6 717.9,150.4 724.7,151.3 754,151.8 754,163.1 767.5,163.1M300.3,115.5 318.3,116.2 358.9,116 372.5,115.6 388.3,114.2 417.6,110 435.7,108.4 487.6,105.1 550.8,102.4 654.7,95.3 665.3,94 668.8,92.9 670.5,91.7 671.2,90.6 671.4,89.5 671,88.3 668.2,86.3 665.1,84.9 656,82.7 625.3,79 582.4,74.7 548.6,69.5 510.2,66.4 492.7,65.7 406.3,64.9 368,67.3 275.4,70 261.9,71 228,75 162.5,81.2 155.8,82.3 151.2,83.8 149.3,84.9 148.1,86.1 147.7,87.2 148,88.3 149.8,90.6 154.1,94 156.1,95.1 160.3,96.5 182.1,100.8 219,106.5 264.1,112.5 300.2,115.5ZM305.6,112.1 336.4,112.2 365.7,111.1 374.8,109.9 404.1,104 424.4,101.8 444.7,100.1 474.1,98.9 548.6,97.2 614,92.6 627.6,91.3 636.7,89.5 638.4,88.3 636.3,87.2 632.1,86.1 623.1,84.3 607.3,82.5 544.1,77.5 417.6,74.7 404.1,74.1 383.8,72 370.2,71.3 325.1,71.5 293.5,72.2 266.4,73.2 230.3,77.3 162.5,83.4 159.7,83.8 156.6,84.9 155,86.1 154.2,87.2 154,88.3 155.4,90.6 158,92.7 160.8,94 164.8,95.1 180.1,97.4 196.4,100.3 225.7,104.2 270.9,109.4 304.8,112.1ZM304.9,107.6 322.8,107.8 343.1,106.5 363.5,103.8 388.3,98.6 399.6,96.8 410.9,95.8 451.5,93.2 469.6,92.4 492.1,92 546.3,92.8 586.3,90.6 598.1,89.5 604,88.3 603.7,87.2 602.8,87 597.8,86.1 589.2,85.3 546.3,84.2 494.4,85.1 449.2,84.2 401.8,81.6 388.3,80 370.2,76.9 361.2,76.2 302.5,76.2 262.9,77 198.7,83 174,84.9 168.6,86.1 165.5,87.2 164.2,88.3 164.3,89.5 165.6,90.6 170.8,92.9 175.2,94 207,98.5 263,104.2 304.8,107.6ZM251.7,97.4 270.9,98.1 311.5,97.6 327.3,96.7 343.1,94.5 349.1,92.9 350.7,91.7 351.2,90.6 350.6,89.5 349,88.3 346.1,87.2 338.6,85.5 320.6,83.6 291.2,82.6 264.1,82.6 228,85.2 213.6,87.2 205.4,89.5 203.5,90.6 204.1,91.7 207.3,92.9 221.2,95.3 250.6,97.3Z" fill="none" stroke="#b2b5b9" stroke-width="1.6" stroke-linejoin="round"/>
<use href="#land"/>
</g>
<use href="#mframe"/>
</g>
<text x="951.2" y="713.1" font-size="26" text-anchor="end" fill="#000">20N</text>
<text x="951.2" y="758.4" font-size="26" text-anchor="end" fill="#000">10N</text>
<text x="951.2" y="803.7" font-size="26" text-anchor="end" fill="#000">0</text>
<text x="951.2" y="849" font-size="26" text-anchor="end" fill="#000">10S</text>
<text x="951.2" y="894.3" font-size="26" text-anchor="end" fill="#000">20S</text>
<text x="974.1" y="928.2" font-size="26" text-anchor="middle" fill="#000">120E</text>
<text x="1109.55" y="928.2" font-size="26" text-anchor="middle" fill="#000">150E</text>
<text x="1245" y="928.2" font-size="26" text-anchor="middle" fill="#000">180</text>
<text x="1380.45" y="928.2" font-size="26" text-anchor="middle" fill="#000">150W</text>
<text x="1515.9" y="928.2" font-size="26" text-anchor="middle" fill="#000">120W</text>
<text x="1651.35" y="928.2" font-size="26" text-anchor="middle" fill="#000">90W</text>
<text x="973" y="688.7" font-size="38.5" text-anchor="start" fill="#000" font-weight="bold">d</text>
<text x="1740" y="689.6" font-size="29.4" text-anchor="end" fill="#000">Dynamic minus slab</text>
<g stroke="#000" stroke-width="1.6" stroke-linejoin="miter">
<path d="M1110.8,574L1073.5,582.3L1110.8,590.6Z" fill="#ffffff"/>
<path d="M1605.5,574L1643.2,582.3L1605.5,590.6Z" fill="#8e1519"/>
<rect x="1110.8" y="574" width="38.05" height="16.6" fill="#fff9df"/>
<rect x="1148.85" y="574" width="38.05" height="16.6" fill="#fef2bf"/>
<rect x="1186.91" y="574" width="38.05" height="16.6" fill="#fee89b"/>
<rect x="1224.96" y="574" width="38.05" height="16.6" fill="#fdd470"/>
<rect x="1263.02" y="574" width="38.05" height="16.6" fill="#fdbd4b"/>
<rect x="1301.07" y="574" width="38.05" height="16.6" fill="#fca530"/>
<rect x="1339.12" y="574" width="38.05" height="16.6" fill="#fa8d2e"/>
<rect x="1377.18" y="574" width="38.05" height="16.6" fill="#f5752b"/>
<rect x="1415.23" y="574" width="38.05" height="16.6" fill="#ee5c2a"/>
<rect x="1453.28" y="574" width="38.05" height="16.6" fill="#e2402a"/>
<rect x="1491.34" y="574" width="38.05" height="16.6" fill="#d4242a"/>
<rect x="1529.39" y="574" width="38.05" height="16.6" fill="#be1a25"/>
<rect x="1567.45" y="574" width="38.05" height="16.6" fill="#a8181f"/>
</g>
<text x="1110.8" y="614.6" font-size="26" text-anchor="middle" fill="#000">0</text>
<text x="1186.91" y="614.6" font-size="26" text-anchor="middle" fill="#000">0.4</text>
<text x="1263.02" y="614.6" font-size="26" text-anchor="middle" fill="#000">0.8</text>
<text x="1339.12" y="614.6" font-size="26" text-anchor="middle" fill="#000">1.2</text>
<text x="1415.23" y="614.6" font-size="26" text-anchor="middle" fill="#000">1.6</text>
<text x="1491.34" y="614.6" font-size="26" text-anchor="middle" fill="#000">2</text>
<text x="1567.45" y="614.6" font-size="26" text-anchor="middle" fill="#000">2.4</text>
<text x="1295.8" y="650.2" font-size="29.3" text-anchor="start" fill="#000">SST std (°C)</text>
<g stroke="#000" stroke-width="1.6" stroke-linejoin="miter">
<path d="M1098.8,939.3L1073.5,947.15L1098.8,955Z" fill="#0a6a94"/>
<path d="M1617.5,939.3L1643.2,947.15L1617.5,955Z" fill="#780a0a"/>
<rect x="1098.8" y="939.3" width="25.94" height="15.7" fill="#0a85ad"/>
<rect x="1124.73" y="939.3" width="25.94" height="15.7" fill="#0f9fc2"/>
<rect x="1150.67" y="939.3" width="25.94" height="15.7" fill="#05bdde"/>
<rect x="1176.61" y="939.3" width="25.94" height="15.7" fill="#00e0ff"/>
<rect x="1202.54" y="939.3" width="25.94" height="15.7" fill="#00ffff"/>
<rect x="1228.47" y="939.3" width="25.94" height="15.7" fill="#3dfafa"/>
<rect x="1254.41" y="939.3" width="25.94" height="15.7" fill="#74fafa"/>
<rect x="1280.35" y="939.3" width="25.94" height="15.7" fill="#a0fafa"/>
<rect x="1306.28" y="939.3" width="25.94" height="15.7" fill="#cdfafa"/>
<rect x="1332.21" y="939.3" width="25.94" height="15.7" fill="#ffffff"/>
<rect x="1358.15" y="939.3" width="25.94" height="15.7" fill="#ffffff"/>
<rect x="1384.09" y="939.3" width="25.94" height="15.7" fill="#ffff00"/>
<rect x="1410.02" y="939.3" width="25.94" height="15.7" fill="#ffdc00"/>
<rect x="1435.95" y="939.3" width="25.94" height="15.7" fill="#ffbe00"/>
<rect x="1461.89" y="939.3" width="25.94" height="15.7" fill="#ffa000"/>
<rect x="1487.83" y="939.3" width="25.94" height="15.7" fill="#ff8200"/>
<rect x="1513.76" y="939.3" width="25.94" height="15.7" fill="#ff6400"/>
<rect x="1539.69" y="939.3" width="25.94" height="15.7" fill="#fa4614"/>
<rect x="1565.63" y="939.3" width="25.94" height="15.7" fill="#f02814"/>
<rect x="1591.57" y="939.3" width="25.94" height="15.7" fill="#b40a0a"/>
</g>
<text x="1124.73" y="977.8" font-size="26" text-anchor="middle" fill="#000">-0.9</text>
<text x="1202.54" y="977.8" font-size="26" text-anchor="middle" fill="#000">-0.6</text>
<text x="1280.35" y="977.8" font-size="26" text-anchor="middle" fill="#000">-0.3</text>
<text x="1358.15" y="977.8" font-size="26" text-anchor="middle" fill="#000">0</text>
<text x="1435.95" y="977.8" font-size="26" text-anchor="middle" fill="#000">0.3</text>
<text x="1513.76" y="977.8" font-size="26" text-anchor="middle" fill="#000">0.6</text>
<text x="1591.57" y="977.8" font-size="26" text-anchor="middle" fill="#000">0.9</text>
<text x="1275.8" y="1017.6" font-size="29.3" text-anchor="start" fill="#000">SST std (°C)</text>
</g>
<g id="scatter">
<path d="M460.2,1691.4h0m-17.8,106.5h0m-215.7,13.1h0m257.7-19.1h0m-27.2-26.6h0m-19.5,9.2h0m74.1-53.1h0m8.7,3.3h0m-131.9,72.2h0m16.9-4.9h0m37.7,4.6h0m99.2-127.8h0m-10.4-71.6h0m-166.5,207.1h0m18-27.6h0m162.6-259.2h0m63.7-21.2h0m-127.4,216.1h0m-58.1,44.8h0m149.8-242.1h0m-116,239.1h0m87.1-99.5h0m62.8-156.2h0m-70.4,88.3h0m-46.2,205.1h0m54.4-116.1h0m-117.7,59.4h0m41.5,3.3h0m-35.3-2.7h0m33-15.3h0m-25,14.6h0m26.7-18.8h0m-17.2,20.4h0m40.9-11.8h0m-2.1-32h0m19.6-31.2h0m87.1-118.6h0m-255.5,256.9h0m247.5-254h0m-124.8,230.4h0m-91.9,19.6h0m97.5-20.5h0m22.9-137.8h0m79-89h0m-183,245.6h0m114.6-186.8h0m-8.4,74.9h0m-167.1,124.4h0m49-1h0m158-180.6h0m7.7-56.9h0m30.7,75.5h0m-43.7,62.6h0m-11.4,27.2h0m-22.8-23.9h0m87.2-115.3h0m-173.2,133.6h0m63.2,15.3h0m44.8-46.9h0m-178.8,110.1h0m251.6-275.6h0m-176.2,264h0m64.7-155.1h0m-68.1,154.2h0m27.6-36.1h0m170.5-222.4h0m-221.7,261.6h0m59.9-123h0m81.2,24.8h0m-4.9,2.5h0m11.2-43.4h0m-18.2-10h0m76.6-56h0m-25-59.1h0m-33.2,160.8h0m-110.4,66.9h0m-2.8,40.1h0m-116.2,2.1h0m236.8-162.1h0m-228.1,164.4h0m243.3-288.5h0m71.8,11.2h0m-240.2,278.4h0m35.2-31.9h0m19-6.6h0m110.3-201.1h0m-145.8,160.1h0m66.1,0.8h0m-34.9,15.1h0m24.3,7.5h0m125.8-273.5h0m-190.8,317.9h0m93-32.5h0m16.9-114.8h0m47.7-115h0m-186.3,267.7h0m206.1-229h0m-53.9,3.6h0m35.3,18h0m-65.8,146h0m-158.6,68.5h0m95-6.5h0m124.9-218h0m-64.2,152.1h0m-7.4-76h0m1,55.8h0m-185.3,91.6h0m-5.7,2.2h0m265.5-111.9h0m-94.1,62.1h0m71.1-22.7h0m-5-29.2h0m-51,51.6h0m64.3-244.6h0m-43.7,206.1h0m-154.7,88.7h0m160.4-65.4h0m-2.8,28.1h0m-118.3,26.7h0m104-86.4h0m-38.8,20h0m25.8,41.5h0m43.4-43.7h0m-72.8,31.2h0m54-17.7h0m50.3-106h0m-153.1,170.5h0m66.7-58.3h0m145.4-287.3h0m-51.9,227.9h0m-74.4,90.2h0m-38.1-33.3h0m28.7-124.6h0m-130.4,187.5h0m221-351.5h0m-48.5,260.9h0m-17-77.3h0m-130.6,155.4h0m55.1-24.1h0m106.8-50.9h0m-21.2-45.4h0m-65.7,67.9h0m86.1-154.9h0m34.6,68.4h0m-136.9,80.5h0m13.1-13h0m-31.1,59.8h0m-27.1-15.8h0m170.9-62.3h0m-23.1-51.3h0m-14.1,60.9h0m-135.3,71.5h0m12.1,8.4h0m88.8-64.4h0m-30.5,13.2h0m46.6-12.8h0m-72.5,72.9h0m116.6-210.1h0m68.3-109.8h0m-116.6,262.8h0m69.5-123.8h0m-108.6,149.2h0m108.5-87.4h0m-108.7-46.8h0m-9.9,54.5h0m-14.1,106.2h0m115.2-86.9h0m-34.6-33.4h0m-7.5,25h0m-119.5,93.3h0m115.7-34.3h0m-144.9,43.8h0m121.4-62.8h0m28-23.1h0m-25.7,30.6h0m-137.9,57h0m21-33.5h0m123.6-30.2h0m-98.8,51.7h0m38.4-2.8h0m58.7-16.4h0m-153.2,26.5h0m-1-1.8h0m122.2-58.8h0m32.2-33.8h0m-30.4,38.5h0m20.1-25h0m44.6,35h0m-177.9,45.9h0m114.5-37h0m127.1-127.1h0m-220.8,135.9h0m43.6,27.6h0m-35.7-4.4h0m-6.3,4.9h0m22-17.5h0m118.2-104.6h0m87.1-94h0m19.1-48.2h0m-120.3,160.2h0m-187.1,109.4h0m181.2-76.7h0m-24.8,3.1h0m59.5-34.4h0m-40.9,69.8h0m-157.2,23.7h0m203.1-90.1h0m-231,97.9h0m134.8-16.4h0m87.8-230.6h0m3.2,204.5h0m94.9-117.6h0m-351.6,164.5h0m255.8-53.9h0m28.5-180.7h0m-85.8,154.6h0m81.7-4.3h0m-153.1,57.9h0m154.6-79.6h0m-9.6-66.6h0m-133.5,174.8h0m29.3-43.8h0m42.7-40.4h0m-41.8,48h0m143.4-159h0m-70.2,122.9h0m90.7-273.6h0m-10.5,23.8h0m-89.9,204.4h0m-22,81.6h0m-68.4,4.9h0m13.2,18.6h0m0.4,1.3h0m101-50.1h0m-108.7,51h0m86-42h0m9.7-40.2h0m-60.1,53.3h0m27.5-3.9h0m131.5-254.8h0m12.1,33.8h0m-197.3,221.5h0m53,8.4h0m-15.7-1.8h0m8.6-81.2h0m81,64h0m44.5-170.7h0m-140.2,191.7h0m22.5-38.3h0m19.7-68.7h0m80.2-178.8h0m-91.6,204.1h0m61.6-92h0m40.9-156.4h0m-0.4,225.9h0m-56.7-40.3h0m-108,159.6h0m-73.5,4.9h0m235-250.6h0m-52.6,76.8h0m-122.8,142.6h0m39.9-5.2h0m5-10.9h0m-116.6,53.6h0m177.5-92.5h0m-91.7,92.8h0m44.6-18.2h0m86.9-190.8h0m-69.5,144.7h0m53.7-2.4h0m-9.9-55.6h0m-32.8,28h0m1.5-41.4h0m141-207.3h0m-160,289.8h0m-67.4,43.3h0m142.6-99.9h0m-45.8,59.4h0m-79.6,18h0m-192.8,37.4h0m384-342.8h0m-231.3,332.5h0m18.3-0.2h0m97.9-24.1h0m-6.2-116.9h0m18.7,86.7h0m-45.7,37.7h0m-116.5,19.9h0m209.9-226.8h0m-152.6,222.9h0m100.3-92.2h0m29-193.5h0m47.6,73.4h0m-114.5,137.2h0m-7.8,1.5h0m6.4-58.8h0m-153.3,142.1h0m106.2-24.5h0m-23.3,19.8h0m-13.9-12.4h0m118.9-93.8h0m-41.5,37h0m145.7-193.5h0m-295.6,263.8h0m187.6-234.5h0m-100.9,221h0m136.9-103.4h0m-33,63.2h0m62.8-101.6h0m-50,86h0m36.7-108.1h0m-89.1,110h0m-216.6,73.3h0m134.8-30.1h0m31.2-3.7h0m33.5-10.5h0m-48.2,10.8h0m220.4-249.3h0m-143.6,105.6h0m118.8-37.4h0m-133.8,184.6h0m-79.8,30.9h0m159.4-76.9h0m-172,66h0m159.2-257.6h0m-189.2,264.6h0m73.8-16.5h0m99-64.3h0m-36.9-31.8h0m-109.7,110.7h0m219.5-265.9h0m-89.2,104.8h0m99.5-192.6h0m-77,258.2h0m-131.9,92.6h0m62.5-7.4h0m153-217.3h0m-238,226h0m86.4-26.9h0m91.1-32.7h0m32.7-191.4h0m-14.6,75.7h0m-204.3,171.8h0m121.8-43.4h0m15.4-6.5h0m-1.4-77.1h0m-19.9,46.5h0m-67,82.4h0m58.6,0.1h0m134.8-325.9h0m-231.3,299.6h0m-109.5,32.1h0m279.4-187.2h0m-16.3,142.2h0m31.8-45.5h0m-124.9,72.4h0m79.7-73.3h0m27-186.6h0m57.3,29.8h0m-174.9,236.4h0m-51.1-12.1h0m102.8-28.6h0m-126.1,50.6h0m240-174.2h0m-124.7,148.3h0m3.4,16.6h0m-48.7-1.8h0m200.9-212.1h0m-96.6,18.1h0m-60.6,120.5h0m87.2-125.6h0m-58.4,154.9h0m56.9-58.1h0m56.4-208.7h0m-129,280.5h0m66-33.9h0m-2.8-92.6h0m51.9-167.9h0m-42.4,117.6h0m-46.8,85.3h0m-59.9,97.2h0m82.1-82.1h0m-119.7,92.1h0m149.1-187.3h0m-49.3,177h0m40.8-93.6h0m-91.8,116.6h0m-25.8,14.5h0m-10.4-35.9h0m172-156.6h0m-108.9,121.2h0m-1,36.2h0m-147.6,31.3h0m162.7-206.2h0m114,16.5h0m-130.1,115.5h0m22.8-14.5h0m-133.4,95h0m32.2-12.7h0m149.8-245.1h0m-68.5,216.9h0m54.2-93.1h0m19-38.7h0m-233.9,171.6h0m90-56.3h0m-14.4,32h0m21.4,11.3h0m-115.7,8.7h0m3,3.6h0m128.2-44.6h0m13.3,26.9h0m96.2-178.5h0m-71.6,77.3h0m141.9-243.2h0m-284.9,359.4h0m43.4-3h0m149.2-68.2h0m-45.1-76.8h0m-65.4,130.3h0m152.8-172.6h0m24.9,67.8h0m-123.5,42.5h0m34.3,16.5h0m20-27.3h0m-14.5,36h0m78.4-187h0m-126.6,224h0m74.6-73.9h0m-242.4,97.2h0m273.6-88.1h0m-64.8-97.8h0m86.9-122.9h0m-239.4,294.3h0m125.7-48h0m-113.7,56.1h0m169.8-120.9h0m16.8,27.3h0m-169.7,92.4h0m50-20.3h0m24.1-6.1h0m45.5-8.7h0m16.6-124h0m20.2,30.7h0m-5.2,78.8h0m-46-26.4h0m-101.3,77.3h0m61.7-40.7h0m189.4-259.9h0m-107.3,175.8h0m-54.3,95.3h0m-91.7,26.7h0m119.4-58.9h0m7.6,7.7h0m-60.7,10.8h0m131.3-126.9h0m-125.5,156h0m37.6-71.8h0m84-52.2h0m-50.3,75.7h0m72-104.2h0m-111.1,117.4h0m-18-65h0m77.3,26.2h0m-21-116.9h0m77.6-101.5h0m-61.7,224.1h0m-36.4-29.1h0m40-91.8h0m16.8,137.4h0m-156.3,45.6h0m89.4-67.4h0m-16.8,29h0m126.2-185.4h0m-139.7,212.9h0m129.3-169.6h0m-202.2,193.3h0m110.8-109.4h0m91.7-166.7h0m-109.6,106.6h0m116.1-11.7h0m-285.4,192.1h0m194.3-81.9h0m11.5-24.4h0m-24.7,24h0m-128.6,83.3h0m194.9-157.6h0m-279.1,157.9h0m301.4-151.6h0m-53-105.4h0m56,23.5h0m-102.8,199.6h0m-78.7,21.2h0m55.3-45.7h0m4.7,24h0m90.7-146.6h0m-77.1,141.8h0m62.2-118.6h0m5.7,48.5h0m72.9-251h0m-301.3,361.6h0m152.6-39.2h0m92.6-217.6h0m0.2,84.1h0m-106.6,121.4h0m26.6,2h0m15.1-32.5h0m19.3-17.6h0m-60.8,61.5h0m-7.1,27.3h0m-44.4,0.3h0m68.2-32.9h0m144.1-212.8h0m-196,248.4h0m164-97.5h0m-61.1-5.1h0m-29.1,10h0m143.3-113.8h0m-134.9,107.6h0m-106,88h0m139.6-58.1h0m117.1-235.3h0m-198,301h0m92.1-249.5h0m-129.5,240.1h0m10.5,13.2h0m117.3-137.5h0m-54,83.4h0m63.1-54.1h0m55-67.3h0m-208.7,118.4h0m46.1,31.6h0m64.8-49h0m-31.8,70.3h0m-13.9-13.4h0m79-96.3h0m-87.3,107.5h0m24.8-103.7h0m30.3,43.2h0m58.7-24.3h0m-174.9,89.7h0m-40.5,3.1h0m167.2-63.9h0m31.3-79.9h0m-255.9,147.2h0m157.9-8.4h0m132.1-180.8h0m-123.9,149.8h0m86.5-32.5h0m-25.4-8.2h0m39.1-65.5h0m-17.4-63.4h0m-14,119h0m77.6-129.5h0m-148.5,184.3h0m59.8-95h0m80.3-181.4h0m-139.6,273.2h0m17-54.8h0m-34.2,66.8h0m-17.1,5.4h0m122.9-169.5h0m21.1-85.3h0m-53.4,168.4h0m-30.8-14.4h0m46.5-41.6h0m-25.9,93.9h0m77.7-133.6h0m-151.4,80.9h0m91.7,26.7h0m24.2-37h0m-58.3,66.9h0m-0.1-40h0m65.4-61.4h0m0.8-3.7h0m-55.1,88.9h0m7.6-10.8h0m-47.5-14.1h0m94.5-10.6h0m-56.3,63.8h0m-133.6,50.2h0m116.8-106.2h0m77.3-78.6h0m-27.2,87.1h0m-102.7,39.1h0m138.9-227h0m-10.5,94.4h0m0.1,37.8h0m69.5-107.7h0m-148.9,217.2h0m78.4-132.9h0m-72.2,30.6h0m101.9-40.9h0m13.1-112.8h0m-52.7,203.1h0m20.3-14.6h0m-133.3,100.4h0m123.3-92.6h0m-159.3,102.2h0m199.9-335.9h0m-233.8,334.6h0m-117.5,8h0m361.5-270.7h0m-180.6,202.5h0m121.3-8.8h0m-163.9,60.3h0m124.2-35.8h0m-63.4-27.3h0m106.6-61h0m-79,72.3h0m146.9-108.5h0m-185.4,129.1h0m170-193.4h0m-104.2,208.1h0m44.8-136h0m-191.1,163.4h0m-16.2,3.1h0m248.9-129.8h0m-197.3,124.6h0m82.1-51h0m1.6,21.3h0m-53-41.9h0m98-11.5h0m-146.8,81.3h0m21.4-3.5h0m183.6-157.5h0m-147.4,150.9h0m133.1-222.3h0m-6.4,108.5h0m65.3-213h0m-82.2,242.2h0m-210,104.3h0m114.1-46.4h0m21.5,16.1h0m135.1-262.1h0m-70,91.9h0m-72.1,176.8h0m79.5-148.9h0m-67.9,112.6h0m77.1-38.6h0m-32.9-65h0m77-84.6h0m-61.7,122.3h0m53-51.9h0m-82.3,149.7h0m59.9-114h0m-72.1-46.5h0m66.7-21.6h0m-34.6,117.8h0m-29.7,50.9h0m-26.1,15.7h0m12.9-46.4h0m63.7-189.9h0m-259.4,259.1h0m319.7-313.5h0m-327.8,313.9h0m211.2-35h0m-12.3,12.1h0m90-164.8h0m-41.2,94.6h0m-23.7-5.5h0m10.9-36.9h0m70.3-132.6h0m-45.7,95.5h0m-227.1,169.3h0m158.5-147.2h0m72.1-67.8h0m-103.6,205.9h0m35.7-61h0m79.3-75.1h0m-19.4,59.7h0m-148.7,83h0m199-167.1h0m-198.2,146.8h0m97.4-72.7h0m129.6-128.6h0m-227.3,215h0m90.8-40.1h0m161.7-296h0m-154.3,252.6h0m-72.2,46.6h0m43.4,39.8h0m120.4-291h0m-214.4,297.5h0m89.3-6.7h0m-78.4-1.6h0m29.2-7.7h0m209-180.4h0m-110.9,106.5h0m-31.4,13.1h0m74.5-158.1h0m-99.5,205.1h0m-46.2,26.7h0m202.9-147h0m-20.8-140.8h0m-148.2,276.9h0m134.4-138.3h0m58-144.2h0m-75.2,260.1h0m0.7-174.3h0m-155.6,202.5h0m102-25.7h0m-164.7,32.4h0m266.9-232.2h0m-105.7,122.8h0m121.6-58.4h0m-175.9,165.1h0m141.6-231.6h0m-220,238.5h0m112-52.6h0m81.6-14.1h0m-15.7-160.6h0m-35.3,189.5h0m-149.1,20.5h0m261-225.1h0m-51.6,102.1h0m37.8-81.1h0m-1-5h0m-125.1,156.5h0m66.4-109.5h0m-108.9,115.7h0m110.2-25.9h0m-84.5,72.2h0m64.9-43.9h0m-109.9,51.3h0m40.8,0.3h0m-76.8,2.3h0m-89.8,10h0m-47.2-0.4h0m202.3-57.9h0m-38.3,37.9h0m116.7-39.7h0m-87.8,54.6h0m94.2-159.6h0m121-136.9h0m-248.8,294.2h0m-3.4-8.5h0m193.2-268.1h0m-160.7,278.1h0m-80.3-2.6h0m134-159.1h0m-10.3,128.6h0m95.6-80.7h0m-157.1,37h0m74.2,46.6h0m-4.3,13.9h0m-120.9,19h0m0.7-17.3h0m185.7-248.1h0m8.3,234.7h0m-118.5,21.9h0m197.8-286.6h0m-47.9,55.7h0m-38.2,176.4h0m12.1-11h0m-21.6-191.2h0m30.7,64.9h0m11.5-134h0m-66.2,266.9h0m-203.9,71.1h0m183.6-19.3h0m-61.7,12.5h0m-34.3-19.4h0m160.7-259.2h0m-220.6,286.8h0m239.6-84.5h0m-127.4,37.6h0m-56.5,38.5h0m34.6-24.8h0m198.9-212h0m-144.5,131.5h0m113.6-161.8h0m53.4-45.7h0m-221.7,271.8h0m54.3-35.9h0m102.3-52.7h0m-42.3,22h0m-67.8,90.7h0m164.2-304.1h0m-87.4,128.7h0m23.2,74.6h0m-24.7-48.9h0m-15.4,115.5h0m-40.7,29.8h0m25.5-53.4h0m62-44.4h0m-17.5,0.7h0m-23.6-49.2h0m-172.6,149.8h0m39.4,19.2h0m77.2-78.1h0m85.4-113.6h0m56-19.3h0m-354.8,218.2h0m223.8-40.5h0m-28.3,3.5h0m31.6-21.2h0m27.9-9.1h0m-96.7,54.2h0m-46.1-3.3h0m208.9-210.1h0m-20.9,57.3h0m-101.2,78.4h0m26.8,25.2h0m-52.4-5h0m-69.9,38.2h0m188.2-128.5h0m-116.1,111.5h0m-43.5,21.4h0m49.6-16.6h0m92.8-216.5h0m-17.6,31.3h0m-12.6,187.7h0m64.6-214.1h0m-10.5-63.4h0m-184.6,315.7h0m101-48.2h0m-37.7-27.9h0m77.7,9.6h0m-24.3,45.1h0m-188.5,22.2h0m289.2-271.5h0m-72.7,234.4h0m-189.2,39.2h0m261.1-267.9h0m-84.2,132.9h0m29.7,4.6h0m-38.1,19.8h0m11.4-12.5h0m-60,74h0m-113.7,45.3h0m102.8-159.4h0m71.8,26.3h0m-12.5,64.2h0m52-6.5h0m-64.2-15.4h0m-212.2,94.6h0m282.6-194.9h0m-136.7,176.4h0m-52.5,13.9h0m97.6-52.8h0m-100.2,54.3h0m159.7-59.2h0m-116.7,37.9h0m62.8-76h0m-28.3,92.2h0m-9.3-40.6h0m-151.8,49.6h0m131.2-16.8h0m10.5-30.8h0m39.8,21.8h0m-188.3,26.1h0m221.5-102.3h0m102.8-151.2h0m-144.7,228.9h0m34-56.8h0m41.7-30.9h0m-110.1,84.4h0m34-1.9h0m119.7-218h0m-63.1,119.2h0m-131.2,127.1h0m-56.2,0.3h0m210-136.4h0m-188.8,132.3h0m164.5-131.7h0m44.3,57.5h0m-47,23.4h0m-190.7,55.6h0m232-152.8h0m-68.2,118.7h0m75.4-126.5h0m-77.5,119.2h0m-9.8-18.5h0m104.6-162h0m-265.7,220.3h0m274.8-288.6h0m-49,208.8h0m30-114.2h0m12.5,4.6h0m49.5-165.2h0m-8.3,62.8h0m-42.8,145.7h0m-108.2,27.8h0m92.9-45.9h0m-100.9,92h0m-44.5,48.7h0m126.8-105.5h0m-8-33.9h0m67.2,4.6h0m-305,158.5h0m258.2-254.1h0m6.2,110h0m-46.7,61.9h0m110-204.4h0m-199.1,248.2h0m108.7-89.6h0m-61.9-52.9h0m31.9,91.5h0m-87.3,81h0m76.6-206.4h0m68.9-100.4h0m-46.2,223.4h0m19.2-10.2h0m-98.8,92h0m196.4-188.9h0m-189.9,116.8h0m64.7-63.3h0m47.9-28h0m-65.6,146.4h0m79.4-171.1h0m-46.6,43.3h0m118.7-202.9h0m-88.8,170.3h0m-12.7,79.3h0m-107,90.3h0m112.4-155h0m43.5-164.1h0m-47.5,234.5h0m-120.1,66.1h0m35.8-8.2h0m28.3-59.8h0m22,50.1h0m-130.5,46.5h0m119.8-47.6h0m18.5-36.8h0m-49.1,85h0m35.4-76.2h0m-82.8,64.4h0m39.9-15.5h0m-48.4-23.5h0m45.3-3.6h0m-7.4,41.7h0m15.8-18.3h0m-130.8,37.1h0m139.4-45.9h0m51.2-22.3h0m-62.9,33.2h0m8.2-40.2h0m101.7-81.1h0m-21.9-29.7h0m-53.5,111.4h0m-61.5,1.9h0m-69.7,61.7h0m273.4-338.4h0m-277.5,341.2h0m198.4-165.2h0m-71.3,79.6h0m-48.5,70.4h0m138.9-112.2h0m-139.5,76.6h0m168.5-252h0m-195.6,299h0m135.2-85h0m61.6-66h0m-190.8,142.8h0m158.4-96.3h0m-282.8,119h0m323.7-288.2h0m-134.4,126.9h0m6,85.9h0m48.3-105.1h0m-211.1,178.2h0m192.9-35.5h0m63.5-52.2h0m-125.6,60h0m-137.2,25.4h0m15.6-1.3h0m107.1-89.8h0m116-91h0m-20.5,113.2h0m-115.3,63.7h0m-20.7,3.2h0m38-5.2h0m-20.8-3.1h0m34.7-27.8h0m130-240.7h0m-102,236.2h0m-66.5-0.4h0m204.8-197.5h0m-86.2,83.3h0m-89.7,136.3h0m27.7-98.2h0m110.5-5.3h0m-108.5,61.5h0m54.2,8.9h0m51.4-204.6h0m8.5,20.2h0m-254.8,238.4h0m130.3-73.5h0m13.9,45.6h0m38.2-52.2h0m55.2-93.7h0m31-14.9h0m-134.5,168.2h0m-60.5,14.8h0m117.2-70.9h0m-69.3,32.6h0m189-275.5h0m-105.4,214.4h0m-25.5,42h0m76.6-193.4h0m-139.5,225.3h0m28.4-64.6h0m14.8,25.9h0m69.5-67.1h0m50.3-72.4h0m-39.3-32.4h0m-2.5,147.2h0m-82,67.2h0m51-166.7h0m-51.6,167h0m113.7-240.2h0m-149.2,221h0m49.4-126.8h0m26.6,32.6h0m44.3-39.6h0m-129.3,148.3h0m44.6-12.6h0m-53.5,20.8h0m-49.6,21.6h0m211.2-193.3h0m-49.7,46h0m-177.1,146.7h0m50.6-25.2h0m134.2-87h0m-100.2,48h0m-41.5,59.1h0m195.7-347.8h0m-143.3,289.5h0m10.1,29.7h0m79.4-104.8h0m-110.4,108.3h0m65-9.3h0m11.9-97.8h0m47.7,42.3h0m-127.6,54.7h0m153.9-295.7h0m-59.3,176.3h0m-10.1,103.3h0m-65.9,46.6h0m-0.2,3.1h0m-55.7,5h0m102.1-71.5h0m-5.3-15h0m78.9-165.4h0m-66.4,141.4h0m-82.9,112.9h0m159.2-147.4h0m-121.8,102.4h0m60.6-35.5h0m93.6-257.9h0m-13.9,126.3h0m-168.1,187.1h0m55.3-57.6h0m117.6-199.1h0m-27.2,69.4h0m-35.2,94.2h0m27.4-107.8h0m-279.6,227.6h0m180.4-51.8h0m-107.6,8.7h0m76.1,13.7h0m22.8-47.4h0m73.4,10.2h0m55.2-146.1h0m-30.5,42.6h0m-42.2,32.7h0m-54.9,95.9h0m53.3-120.5h0m-189.9,154.3h0m161-104.1h0m47.6-156.8h0m-130.1,248.5h0m106.3-145.2h0m102.3-45.3h0m-144.3,154.7h0m17.7-57h0m0.7,56.2h0m-85.4,54.9h0m46.3-111.6h0m-50.2,106.6h0m66.1-30.2h0m-47.4,2.1h0m152.5-258.1h0m-90,202.4h0m80.9-112.6h0m-188.1,188.7h0m115.2-189h0m50.5,81.7h0m9.7-142h0m-114.5,241h0m46.7-67.8h0m18.6-4.7h0m-40.1,58.4h0m-6.6-42.5h0m81.7-108.9h0m-154.3,175.9h0m-63,12.5h0m129-16.4h0m68.5-38.4h0m-247.1,59.5h0m332.8-274.1h0m-101.7,212.7h0m41-138.4h0m-125.5,160.9h0m72.8-125.3h0m148.3-193.7h0m3,58.8h0m-94.3,55.2h0m-77.4,176.8h0m15,7.6h0m117.3-226.8h0m-172.1,267.4h0m-20.9-4.9h0m73-28.6h0m87.7-105.7h0m-174.7,127.5h0m129.1-93.2h0m1.3,9.7h0m-20.6,50.9h0m-25.2-13.6h0m90.9-128.9h0m-28.7,48.1h0m-186.3,155.7h0m175.8-92.8h0m-12.2-150.1h0m-59.3,200h0m5.4,16.1h0m-223.3,26.7h0m228.2-50h0m70.8-108.5h0m1.7,60.7h0m-114.2,87.2h0m-170.6,10.2h0m126.8-15.9h0m77.1-21.4h0m133.2-235.8h0m-259.2,266.5h0m155.3-46.8h0m48.9-210.3h0m2.6,109.8h0m-61.1,129.8h0m-270.4,24.9h0m330.1-176.3h0m-40.2,30.1h0m35-87.1h0m-133.1,231.7h0m44-23.8h0m165.8-330.1h0m-130,252.9h0m7.7-12.3h0m-64.4,113.1h0m168.8-163.9h0m-259.4,164.8h0m109.4-12.3h0m84.2-183.3h0m-40.2,103h0m77.6-55.5h0m-37.3-82h0m81.2-69.1h0m-136.9,275.4h0m8.6-101.2h0m36,37h0m-193.8,86.5h0m87.1-19.7h0m177.3-162.2h0m23.6-142h0m-32.6,182h0m-66.6,86.1h0m-74.1,46h0m-149.2,7.7h0m254.4-71.4h0m-68.7-56.1h0m-4.9,28.1h0m79.4-24.4h0m-89.1,43.1h0m72.8,35.8h0m-67.7,15.7h0m16.1-166.3h0m-165.2,195.8h0m115.5-4.3h0m51.3-47.6h0m117.7-188.5h0m-80.8,119.2h0m-137.1,93h0m144.1-143.3h0m61.8-24.4h0m-175.1,171.5h0m13,25.3h0m-24.5-5.3h0m117.3-184.8h0m-168.4,183.3h0m64,0.6h0m-46.5-13.5h0m139.9-106.9h0m-96.6,75.9h0m197.1-158.6h0m-45.5,74.6h0m4.4-162.7h0m-89.3,287.9h0m39.6-43.2h0m52-110.7h0m-149.4,70h0m179.2-186.2h0m-108.5,212.4h0m110.2-260.1h0m22.7-33.3h0m-225.3,346.4h0m199.2-236h0m-127.7,209.9h0m-9.8-38.4h0m17,60.3h0m-88.3,15.2h0m130-68.9h0m-85.5,59.1h0m156.6-136.7h0m-64.2,42.5h0m-283.9,111.7h0m167.6-34.5h0m-4.7,11.4h0m30.4-10h0m2.4-0.5h0m77.7-118.9h0m-31.9,107.9h0m-86.7,18h0m138-30.8h0m38.5-251.8h0m-74.9,255.6h0m35.9-184.6h0m-86.9,119.4h0m15,59.8h0m35.6,6.5h0m44.8-27.8h0m-30.3-19h0m66.3-9.3h0m13.6-177.8h0m-187.2,267.2h0m-14.5-7.3h0m97.8-193.3h0m47.8,76.5h0m36.9-103h0m-21,31.3h0m-2.4-21.6h0m-136.7,214.4h0m116.7-123.2h0m-89.9,140.2h0m93.3-119.3h0m39.2-77.6h0m-134.8,158h0m39-73.2h0m-46.9,101.7h0m23.2-83.1h0m-55.2,86.5h0m-33.8-3.6h0m216.1-282.1h0m-143,274.2h0m5.2-2.8h0m-16.8,6.6h0m-206.5,19.5h0m341.5-268.9h0m-112.1,140.7h0m44.8,72.2h0m115.3-196.4h0m-123.4,207.3h0m23.6-3.7h0m4.1,30.9h0m88.9-267.1h0m-229.1,284.2h0m74.7-5.5h0m-159.4,5.7h0m212.3-65.9h0m51.8-68.6h0m-91.5,81.7h0m119.3-300.1h0m-66.1,260.8h0m-59.3-50h0m81.3,52.9h0m-24-11.2h0m-48,62.1h0m-22.8-18.4h0m119.5-124.4h0m-48.8,139.1h0m5.5-141.6h0m37.3,58.1h0m-94.5,105.4h0m60.8-120h0m9.4,53.9h0m-79.2,18.6h0m8.9-81.8h0m116.2-55.3h0m-68.5,155.3h0m-68.7-1.8h0m91.2-32.2h0m-219.6,84.3h0m133.1-44.6h0m-23.5,26h0m11.2,13h0m-137.3,3.1h0m228.6-208.3h0m-10.6,131.8h0m-85.9,68.5h0m66.2-80.6h0m83.2-33.3h0m-199.9,115h0m250.2-272.3h0m-289.3,278.7h0m87.5-9.7h0m39.7-45.9h0m158.6-286.7h0m-72.9,198.1h0m-1.6,10h0m75.5-201.1h0m-105.5,227.6h0m-59.3,72.6h0m157.9-248.7h0m-137.2,240.6h0m-98.2,43.6h0m-46.2-1.8h0m177.3-97.1h0m48.6-204h0m-58.1,246h0m-143.5,52.2h0m176-100.2h0m-84.6,36.3h0m159.3-192.2h0m-187.3,248.3h0m142.8-151.4h0m-49.6,59.5h0m-15.8,49.3h0m56.8-106.7h0m-69.6,134.2h0m127.2-236.9h0m-134,161.5h0m-191.6,104.3h0m326.2-309.9h0m-8.4,29.4h0m-65.1,217.4h0m69.6-232.3h0m-54.5,88.1h0m-133.3,173.4h0m-121.1,32.6h0m100.9-5.9h0m70.2-49.3h0m69.3-72.9h0m-176.5,125.9h0m50.1-46.3h0m203.9-301.7h0m-184.6,296h0m-3.1,37.4h0m-20.7-14.8h0m152.5-200.8h0m8.1-62h0m5.6,145.6h0m29.1-146.7h0m-77.3,164.5h0m41.1-25.4h0m-19.5-91.5h0m5.8,30.8h0m-166.1,218.6h0m88.5-76h0m-13.4,0.6h0m-26.1,49.2h0m54.6-99.7h0m81.6-122.2h0m-69.8,197.7h0m20.3-24.6h0m84.7-233.6h0m-225.2,300.3h0m144.7-120.4h0m98.9-191.4h0m-57.5,107.6h0m-28,76.9h0m-218,125.5h0m107.2-14.3h0m60.1-93.9h0m35.9,22.9h0m2.7-28.2h0m-256.6,121.5h0m173.6-72.3h0m71.5-113.3h0m-92.9,170.7h0m49.4-47h0m62.8-59.4h0m-17,66.2h0m-11.1-78.4h0m46.4-145.4h0m30.7,37.3h0m-117.8,85.8h0m-70.3,119.5h0m33.5-1.9h0m18.8-24.4h0m39.9,6.2h0m-136.5,57.2h0m71.9-22.7h0m46.4-44.8h0m131.7-201.8h0m-65.4,210.6h0m-57-86.6h0m86.2-122.2h0m-57.4,170.8h0m4.5-97.7h0m67.4,14.2h0m-58.6,125h0m-15.4,13.6h0m47-163.2h0m-108.4,138.1h0m52.6,10.8h0m-204.4,55.7h0m163.7-60.1h0m5.4,19.7h0m31.6-66h0m-37.1-28.9h0m-55.9,125.2h0m134.2-169h0m-42.9,100.7h0m90.9-176.8h0m-168.8,244.6h0m83.2-69.5h0m-33,14.7h0m-22.4,38.3h0m140.4-146.5h0m-153.5,109h0m1,59.4h0m58.3-71.1h0m-11.6,2.3h0m56.8,7.2h0m-129.8,46h0m120.7-63.8h0m-137.2,81.5h0m65.7-13.8h0m-8.9-86h0m159-221.9h0m-55.5,201.6h0m-113.6,104.2h0m105.2-151.6h0m-82.3,129.3h0m-18.1,7.1h0m153.1-193.6h0m17.8,46.1h0m-103.7,116h0m17.5,4.9h0m-3.7-77.4h0m2.6,41h0m2.4-6.5h0m-121.1,88.4h0m142.5-150.7h0m-112.3,142.5h0m-47.3,22.6h0m96.2-39.7h0m35.1-21h0m46.4-220.8h0m-37.3,87.4h0m-7.2,101.6h0m-84.1,4.1h0m92.8,11.1h0m-15.6-102.6h0m6.6,64.3h0m-91.3,89.1h0m129.1-131.2h0m-6.1,101.3h0m-48.5-18.2h0m-32.9,31.8h0m101.2-132.6h0m-198,170.4h0m80.9-75.6h0m15,10.9h0m73.3-41.9h0m-75,109.7h0m140.7-288.7h0m-278.4,280.7h0m289-318.3h0m-97.4,265.5h0m50.2-217.4h0m-122.6,267.1h0m16.8-22.3h0m50.3-7.4h0m-159.1,20.2h0m183-112.7h0m-35.1,24.8h0m-188.5,98.3h0m169-131.7h0m-19.1,86.1h0m95.8-83.2h0m-128.3,127.1h0m76.8-77.9h0m87.6-114.3h0m-182.7,149.9h0m225.5-300.9h0m-126,224.1h0m-40.8,82.3h0m-106.1,32.5h0m-41.1,16h0m245.6-150.4h0m-119.5,97.7h0m-14.6,0.2h0m142.5-185.9h0m-30.5,73.5h0m-45.9,122.3h0m-146.8,47.1h0m-49.1-0.2h0m263.1-174.4h0m-81.7,7.5h0m-18.9,147h0m-14.1-6.6h0m67.7-158.9h0m21,25.1h0m-100.2,147.6h0m-27-4.6h0m-37.4,6h0m182.7-224.4h0m59.5-125h0m-136.8,286.3h0m76.9-59.2h0m-62,57.9h0m107.6-284.1h0m-90.2,208.6h0m-85.8,100.7h0m93-41.4h0m-17.7-72.6h0m-67.4,137h0m34.1-36.9h0m-89.7,42.9h0m34.8,5.8h0m129.2-141h0m-227.9,147.8h0m197.8-93.8h0m-22.5,21.7h0m-53.5,32.2h0m165.2-291.3h0m-55.2,77.4h0m-110.4,241.1h0m70.2-70.5h0m58.1-133.4h0m-222,212.9h0m164.9-162.3h0m-40,94.4h0m55-145.3h0m-91.4,172.5h0m28-106h0m-79.8,153.9h0m128.4-179.9h0m33.3,73.5h0m-290.6,112.7h0m365.5-320h0m-388.4,320.7h0m120.9-9.1h0m180.7-97.1h0m-31.7,17.9h0m87.5-223.3h0m-119.9,238.7h0m129.2-249.1h0m-230,312.5h0m161.1-122.5h0m-72.9,28.4h0m-3.2,69.9h0m-124.7,24.8h0m130.5-73.5h0m146.1-197.9h0m-167.8,224.5h0m37.7-25.1h0m31.6-122.8h0m-98.7,180.3h0m110.1-95.1h0m24.5-45.7h0m-67.7,29.6h0m-154.2,128.8h0m179.7-102.2h0m-6.1,43.8h0m-16.5-119.4h0m-34,176.4h0m-102.8-10.5h0m151.1-31h0m17-136.8h0m68-0.8h0m-145.5,115.3h0m192.1-279.1h0m-119.7,232.5h0m41.5-78.1h0m-140.9,186.4h0m121.3-43.5h0m-113.9,40.8h0m140.8-194.3h0m-170.5,173.2h0m118-41.6h0m-40.3,42.2h0m67-136h0m-8.5,81.5h0m-7.7,22.2h0m-58-1.8h0m115.7-234.7h0m-23.3,183.2h0m-117.4,93.4h0m131.7-129.8h0m-118.8,129.2h0m64.8-80h0m-15.8-85.3h0m0.5,125.2h0m73.7-121.8h0m-234.3,187.5h0m271.2-319.6h0m-267.7,315.2h0m265.7-228.5h0m-52.6,114.5h0m-184.1,115.8h0m167.6-80.5h0m-57.4-5.2h0m-79.7,72.9h0m205.1-257.7h0m-6.7-43.3h0m-58.1,149h0m99.9-170.9h0m-118.7,264.3h0m-36.5-0.1h0m129.3-150.9h0m-170.8,192.3h0m131.7-155.9h0m24.6-94.1h0m-71.1,135.3h0m-9.6,59.9h0m31.7-60.8h0m-19.7-11.7h0m-82.5,140.4h0m16.8-50.8h0m-89.9,65.4h0m214.7-293h0m-119.5,244.9h0m60.3-167.6h0m41.9-25.1h0m21.3-14.3h0m-166.8,148.6h0m158.8-127.1h0m-21.8,48.5h0m-135.2,172.3h0m136.7-301.5h0m35.8-16.3h0m-116.5,307.1h0m17.2-99.3h0m-87.2,109.5h0m167.3-193.1h0m-18-41.4h0m3.2,68.8h0m-120.6,111.7h0m30.5,11.4h0m110.1-289.1h0m7.7,74.9h0m-92,156.8h0m-18.7,64.5h0m-23.6,41.7h0m153.2-351.4h0m-121.1,274.3h0m-36.1,24.7h0m-132.4,54h0m11.3,7.2h0m64.8-0.1h0m-92.7-0.6h0m158-60.9h0m8.9,6.6h0m-65.1,32.4h0m53.3-14.8h0m29.3-66.9h0m-159.7,105.3h0m226.7-192.3h0m-333.5,194.1h0m135.7-7h0m140.5-127.1h0m-34.5,84h0m64-15.6h0m-100.4,27.5h0m113.7-103.1h0m-193.2,130.2h0m211.4-97.7h0m-89,24.4h0m57.4-23.7h0m52.3-72.4h0m-194.6,166h0m56.7-28.6h0m-14.8,28.6h0m59.5-75.1h0m22.9-115.6h0m46.5,31.2h0m-42.1,4.6h0m-32.6,100h0m60-94.4h0m39,2.6h0m-4.8-10.5h0m-136.8,160.3h0m76.7-54.9h0m-144.7,60.7h0m62.7-10.1h0m114.4-152.6h0m50.3-127.3h0m-146.5,254.4h0m83.8-124.7h0m-32.7,78.8h0m36.3-74.5h0m-24.3,46.8h0m-61.2,79.6h0m-175,33.2h0m77.2,1.1h0m172.9-132.2h0m-40.3-89.9h0m11.7,168.7h0m71.7-197.8h0m-184.5,224.3h0m-20.9,18.4h0m147-143.7h0m17.2,62.1h0m-62.5,15.1h0m62.5-43.4h0m17.4-29h0m-13.7,36.5h0m-36.1,4.9h0m-98.5,18.2h0m-8.1,72.2h0m58.7-120.8h0m34.4,105.3h0m-110.1,27.6h0m248.5-199.1h0m-76.8,31.7h0m-97.1,146.3h0m110.5-118.3h0m-42.6-0.3h0m-1.7,7.6h0m65.3,5.7h0m-209.9,123.1h0m75.2-14.6h0m-18.7-35.1h0m132.9-142.5h0m-221.8,183.1h0m185.4-136.7h0m-70.2,67.1h0m17.7-16.7h0m-24.5-74.1h0m167.1-128.8h0m-195.3,278.2h0m-31.7,15.4h0m135.6-63.1h0m-77.8,52.2h0m94.4-99.5h0m-48,77.9h0m8.1-59.1h0m1.5,2.4h0m-163.5,85.2h0m-33.4,12.5h0m84.6-10.2h0m151-205.2h0m-146.2,187.8h0m94.6-48.4h0m-15.4,12.9h0m139.4-263.8h0m-134.2,270.1h0m-125.1,49.7h0m11.4,5.4h0m157.2-102.4h0m46.3-106.6h0m-203.3,209h0m121.1-46.6h0m-101.6,26.6h0m135.7-191.3h0m42.7,33.2h0m-239,182.6h0m243.2-146.6h0m-10.7-20.1h0m-82.2,86.4h0m-31.2,20.8h0m184.8-238.4h0m-144.4,231h0m-86.2,50.1h0m108.8-80h0m75.3-39.6h0m-27.5-159.1h0m-243.1,294.1h0m60.3-5.4h0m89.1-22.9h0m48.9-69.2h0m-0.1,51.7h0m-128.1,28.6h0m191-170h0m-35.8,16.8h0m-186.6,172.7h0m59.8-7.9h0m77.2-118.9h0m-131.6,121.2h0m143.9-93.3h0m12.2-7.3h0m-53.2,81.8h0m87.1-263.6h0m-107,242.6h0m98.8-109.6h0m-79.8,134.2h0m162.1-318.5h0m-20.9,13.4h0m-101.3,249.1h0m-54.7,38.8h0m119.6-166.6h0m-70.3,60.4h0m-106.9,135.2h0m21.4-20h0m76.8-91.3h0m103.3-21.4h0m22.1-123h0m-33.6,69.6h0m-178.2,177.8h0m151.8-157.5h0m1.6,35.6h0m-10.9-146.1h0m-6.3,126.5h0m-280.3,158h0m260.5-118.4h0m-140.6,103.9h0m203.4-208.3h0m-124.3,191h0m21.7-51.9h0m19.1-70.8h0m-189.6,151.9h0m179.2-33.4h0m-101.2,32.1h0m194.7-238.8h0m-125.5,218.5h0m-56.8,5.3h0m203.9-310.4h0m-126.3,216.4h0m-61.9,77.9h0m78.7-65h0m-8,5.5h0m37.1-97.2h0m-110.9,184.6h0m178.2-324.4h0m-59.8,190.3h0m101.3-167h0m-81.6,184.9h0m-135.6,104.5h0m66.3-44.4h0m31.4-19.4h0m-246.8,83.2h0m123.3-3.4h0m-49.9-3.8h0m192.9-171.3h0m1.1,77.1h0m71.6-94.2h0m-199.7,131.9h0m-63.8,59.3h0m189.2-64h0m-85.1,32.3h0m6.6,6.3h0m-28.4,10.9h0m181-240.9h0m-177.6,247.3h0m156.5-184.4h0m-27.4-7h0m-109.8,175.5h0m138.5-136.8h0m22.2-71.1h0m-71.7,102.8h0m-50.4,61.1h0m82.9-112.9h0m-129.3,93.9h0m108.2-48.6h0m80.3-181.1h0m-245.3,297.5h0m-45.9,18.1h0m229.8-153.2h0m-139.8,149.5h0m39.2-59.4h0m52.9-40.4h0m-67.8,60.6h0m65.6-19.2h0m-99.5,54.6h0m41.8-15.3h0m39.4-151.7h0m53.8-16.3h0m-82.9,138.4h0m65.5-45.9h0m21.7-60.8h0m-8.2,36.6h0m-52.1,53.6h0m114.8-240.1h0m-174,307h0m154.6-113.6h0m-4.1-40.5h0m-8,27.2h0m-118.4,100h0m124.1-143.6h0m-38.5,18.3h0m-141.9,149h0m74.8,0.3h0m-93.2,7.4h0m152.2-184.1h0m79.6-145.1h0m-35.7,200.1h0m-165.6,122.3h0m-0.5-10.7h0m74.1-133.9h0m3.3,97.2h0m74.5-112.5h0m-89.4,142.8h0m119.2-211.6h0m-137.6,188.6h0m131-181.8h0m-217.5,229.9h0m84.7-11.1h0m52.1-151.2h0m64.8-100.4h0m-24.2,180.3h0m-121.2,30.3h0m-41.3,44.5h0m116.8-121.7h0m-5.5,72.6h0m-26.6,20.3h0m32.3-91.6h0m-119.4,122.5h0m163.9-167.9h0m38.2-129.8h0m-160.3,299.1h0m3.4-41.9h0m174.9-306.3h0m-12,28.6h0m-157.4,307.9h0m10.4-3.7h0m-102.5,15.3h0m203.7-182.2h0m-24.1,56.6h0m-14.5,34.3h0m-18-15.5h0m5.6-24.2h0m31.7,10h0m-37.9-25.3h0m105.9-149.3h0m-103.8,193h0m25.2,54.7h0m160.1-286.4h0m-221.5,296.7h0m-57.6,26.6h0m122-60.1h0m-67.8,29.3h0m-1.6,25.9h0m74.6-60.7h0m51-59h0m-211,134.8h0m123.9-35.3h0m-180.6,43.2h0m272.4-326.4h0m-168.4,307.8h0m146.2-130.7h0m53.6-181.5h0m-72.5,178h0m-222.9,143.9h0m150.8-35.8h0m101.9-105.4h0m-110.1,128.2h0m23.4-111.9h0m-133.6,133.1h0m41.7-10h0m87-67.4h0m111.5-103.2h0m-328,180.5h0m343.2-344.1h0m-137.6,315.2h0m93.9-244.3h0m-14.8,177.6h0m46.5-142.6h0m21.1-50.1h0m-136.3,160h0m38.4,38.6h0m-26.9,26.8h0m33.1,14.9h0m-44.7,26.2h0m-19.6-21.9h0m-7.7-3h0m116.6-192.2h0m-185.4,231.5h0m131.1-108.8h0m101-166.6h0m-237.7,272.8h0m-36.8-8.4h0m220.6-129.8h0m-127.8,120.1h0m6.3,6.3h0m118.4-146.8h0m-27,26.1h0m-86.8,119.8h0m31.6-12.9h0m-107.9,29.4h0m85-40.9h0m44.9-161.6h0m52.9,97.5h0m3.2-80.2h0m87.4-153.9h0m-142.6,221.3h0m29.2,66.1h0m-111.9,47.5h0m115.8-95.7h0m2.8,24.7h0m26.4-85.3h0m-14.5-84.2h0m-30.2,192.6h0m-91.6,47h0m53.5-10.2h0m51.1-82.1h0m29.6-205.8h0m13.1,85.4h0m-36.6,86.1h0m22.5-38.4h0m-35.5,95.3h0m-64.9,19.2h0m-83.5,54.9h0m133.7-82.5h0m48.7-13.9h0m-84.6,20.6h0m150.5-230.5h0m-195.7,279.3h0m45.1-74h0m28.9,16.1h0m-110,86.5h0m195.6-203.7h0m-149.7,161h0m-41,16.2h0m-64.4,28.2h0m247.5-218.4h0m27.1-106.3h0m-195.1,318.8h0m-40.1,0.7h0m91.7-20.6h0m38.5-24.8h0m-46.6,11.4h0m88.1-146.9h0m-137.1,150.6h0m127.2-129.2h0m52.8-81.8h0m-118.4,224.4h0m114.7-150.1h0m-143.1,156.8h0m76.1-48.2h0m70.8-162h0m-46.8,44.5h0m-110.5,165h0m34.6-10.6h0m90.1-108.8h0m-20.7,32.7h0m-86.8,90.3h0m86.9-76.6h0m-240.7,92.2h0m218.9-119.7h0m72.3-63.2h0m-2-73.7h0m-114.5,221.9h0m59.2-57.2h0m-2,9.5h0m-29.8,59.9h0m-63-95.5h0m-60.7,89.5h0m77.2-0.1h0m-60.7,8.9h0m-91.3,18.1h0m298.9-241.6h0m-237.3,231h0m75.6-18.9h0m-1.5,17.3h0m-110.1,5.2h0m193.3-194.7h0m-193.5,199.7h0m304.8-362h0m-275.7,352.6h0m58,7.2h0m57.7-114h0m2.7,40.4h0m12,60.4h0m94.8-267.1h0m21.1-24.4h0m-203.6,289.6h0m199.3-271.4h0m-27.7,20.6h0m-81.6,155.9h0m-93.4,112.1h0m219.3-243.2h0m-264.6,242.7h0m207.2-80.9h0m-19-42.4h0m45.4,26.5h0m-119.6,13.3h0m42.1,13.3h0m89.8-130.3h0m-184.3,188.3h0m-20.9,3.8h0m-32.1,1.3h0m220.6-261h0m-159.4,226.5h0m64.8-1h0m-13.8,10.8h0m93.6-99.5h0m-19.4,29.9h0m-103.9,79.8h0m186-183.5h0m-76.5,50h0m-7,47h0m-68,45.9h0m8.4,6.4h0m7.4,7.3h0m23.9,3h0m34.4-0.4h0m0.2-134.5h0m-59,99.8h0m11.5-78.1h0m69.6-30.4h0m38.5-18.4h0m4.1-12.3h0m-103.6,174.1h0m-114.5,37.8h0m130.5-96h0m0.5-63.1h0m-7.3,129.6h0m36.3-45.9h0m-87.7-35h0m54.2-0.4h0m-233.7,121.1h0m363.6-359.9h0m-137.3,239.3h0m-30.9,100h0m71.8-207.3h0m-65.7,133.9h0m-43.7,68.9h0m134.5-201.9h0m-64,178.6h0m-66.2-26.1h0m118.4-143.7h0m-20.1,143.7h0m-5.5-190.7h0m-58.6,198.1h0m114.5-128.7h0m-169.7,186h0m151.1-180.5h0m51.8-32.1h0m-204.1,212.7h0m102.1-82.4h0m-189,86.1h0m172-154.5h0m-163.7,154.1h0m37.1-3.1h0m140.5-81.5h0m71.3-184.3h0m-46,139h0m-61.8,68.3h0m-51.5,42.9h0m72.1-46.3h0m112.6-71.1h0m-237.6,127.6h0m59.3,5.6h0m-69.5,8.5h0m180.6-145.2h0m-72.8,102.8h0m-118.3,20.7h0m128.4-4h0m-27.9,7.9h0m-53.9,9.1h0m65.7-13.7h0m103.4-195.3h0m-156.6,215.5h0m52.8-22.5h0m-100.9,20.6h0m96.1-169.7h0m147.2-6.1h0m-64.3-26.7h0m-110.1,164.9h0m10.3,19.1h0m156-190.1h0m-113.2,159.7h0m-33.9,17h0m139.5-232.6h0m-128.7,263.5h0m-28.4-70.6h0m99.9-26.7h0m-153.9,96.3h0m82-62.8h0m-31.5,17.9h0m82.8-101.8h0m-21.6,94.2h0m153.3-261.6h0m-85.4,82.7h0m-54.6,200h0m45.8-83.7h0m-66.5,47.1h0m41.4-91.7h0m27,27.3h0m-9.7-49.6h0m73.6-148.6h0m-65.6,171.8h0m-109.4,160.2h0m85.5-58.9h0m-125,30.6h0m-73.8,12.5h0m164.9-40.2h0m53-160.1h0m-126.4,200.5h0m46.3,1.4h0m120.8-313.4h0m-194.9,320.8h0m186.4-147.8h0m-95.8,98.1h0m-11.5-10.1h0m95.7-79.4h0m-31.4,32.5h0m-54.9,6.3h0m37.4,71.2h0m-30-16.6h0m31.9-19.4h0m-82.4,41.3h0m21.1-142.4h0m78.6,128.5h0m-134.1,39.8h0m32.4-20.9h0m-81.9,18.3h0m-72.2,12.1h0m203.4-120.8h0m157.6-154.4h0m-91.1-28.4h0m-22.5,162.8h0m-124.5,117.5h0m96.7-57.9h0m17.9,1.2h0m-95.2,62.1h0m140-190h0m40.3-19.4h0m-59.4,136.3h0m-21.3-119h0m-177.5,206.3h0m221.7-218.6h0m-169.2,144.8h0m2.3,65.5h0m44.9-37.2h0m-30,26.2h0m93-118.6h0m-80.6-25.4h0m87.9,86.9h0m-50.5,56.1h0m16.3-32.3h0m-84.7,46.3h0m123.1-240.4h0m7.2-0.9h0m-95.4,224.7h0m-81.5,23.4h0m159-128.4h0m-174.1,128.5h0m97.4-28.3h0m109.7-69.2h0m62.2-198.4h0m-126.3,227.5h0m52.9-44.2h0m75.4-152.7h0m-199.6,248.5h0m57.2,6.2h0m62.5-88.3h0m82-231.3h0m-215.2,306.6h0m-2.7,20.4h0m190.3-253.2h0m18.1,89h0m-153.8,146.5h0m61.1-118.4h0m73.8-200.8h0m-98.5,233.2h0m-162,109.1h0m198.4-100.1h0m60-174.2h0m-195,271.5h0m221.8-212.3h0m-133.6,102.2h0m-142.3,116.8h0m188.1-147.7h0m-160.8,146h0m252.9-365h0m-69.5,216h0m-199.1,143.5h0m169-27h0m105.5-125.2h0m-18.7-13.5h0m-44.3-52.8h0m-21.7,99.1h0m22.5-57.1h0m29.2-18.6h0m-250.2,202.8h0m73.7-27.8h0m40.9-22.7h0m69.4-46.9h0m15.6-133h0m-64.5,208.4h0m24.8-73.2h0m70.6-107.6h0m33.9,7.2h0m-170.2,152.9h0m48.8,3.5h0m28.2-188.1h0m-64.8,188.2h0m86-75.4h0m-22.2-25.6h0m-42,111.8h0m115.2-282.4h0m-84.8,227.1h0m-36.9,25.8h0m49.5-5.3h0m17-47.2h0m-80.5,55.7h0m-9.7,35.3h0m158.7-255.3h0m-145,253.4h0m128.8-266.4h0m-91.2,220.2h0m-63,55.1h0m-28.3-3.3h0m-57,7.3h0m218.4-233.5h0m-3.5,78.8h0m-92.6,117.8h0m-62.8,37.9h0m49.7-10.2h0m61.5-213.4h0m90.1-38.6h0m-162.6,229.8h0m-101.5,32.2h0m179-93.2h0m-52,1h0m-44.7,76.4h0m-103.1,19.8h0m228-170.8h0m66.2-33.1h0m-210.3,195.6h0m-47.5,9.1h0m91.2-4.3h0m22.3-171.7h0m71.8,26.2h0m-37.2-57.6h0m-172,198.1h0m186.6-82.3h0m1.4,32.1h0m-74.1-1.3h0m73.9-35.2h0m-154.6,89.6h0m96.9-130.6h0m-97.5,128.3h0m127.9-40h0m65.7-39.3h0m-255.6,87.3h0m193.4-53.3h0m59.8-67.7h0m-40.6,5.7h0m109.7-147.2h0m-136.3,199.8h0m15-3h0m-121.8,64.5h0m101.4-49.3h0m-48.8,22.6h0m161.8-217.4h0m32.4-31h0m6.4-4.3h0m-71.4,206.7h0m-76.5,19.6h0m-40.4,1.1h0m-52.1,23.7h0m162.3-88.8h0m-174.5,114.3h0m94.4-26.7h0m42.6-27.6h0m18.5-43.5h0m-168.9,98.6h0m14.5-9.9h0m7,10.4h0m181.2-278.3h0m-177.4,276.6h0m22-0.9h0m134.9-76.6h0m27.1-30.4h0m-78,16.2h0m79.6-42.3h0m-247.1,135.8h0m223.2-86h0m19.5-135.1h0m8.9-59h0m-122.5,251.6h0m45.4-109.6h0m4.2,51.5h0m-34.6,20.2h0m3.4-9.2h0m26.2-16.8h0m-118.6,88.9h0m-8.8,3.6h0m102.7-70.8h0m-22.8,62.1h0m126.2-186.4h0m-98.6,174.8h0m-69,2.7h0m-81.6,23.1h0m139.5-7.5h0m-68.7-8.2h0m-72.5,16.1h0m-13-2.5h0m317.3-220.3h0m-121.7,140.1h0m-48.9,40h0m96.6-100h0m-138.3,124.6h0m98.6-68.8h0m47.5-89.2h0m-180.3,158.9h0m240.4-246.9h0m-117,214.5h0m18.5-6.4h0m82.3-206.1h0m-237.6,250.5h0m14.3,2h0m141.3-153.9h0m7,16.5h0m-53.2,91.6h0m11.5,17.9h0m-12.3-13.7h0m-66-1.9h0m-34.3,5.9h0m54.6,9.8h0m77.3-72.4h0m26.4-122.2h0m-153.4,218.9h0m253.5-327.9h0m-119.8,177.6h0m-90.5,103.6h0m56.8-48.4h0m81.8-47.1h0m-74.5,61.8h0m-16.8,39.8h0m103.3-89.1h0m-38.3-7.5h0m-4.3,30h0m5.4,21.3h0m-117.6,27.5h0m54.7,3.3h0m-99.9,52.3h0m127.7-86.5h0m-22.4,27.4h0m20.6-164.5h0m31.1,105h0m13.3-4.5h0m-214.9,135h0m271.8-221.1h0m-97.8,186.7h0m-10.6-23.1h0m28-140.7h0m-94.4,175.1h0m-6.8-0.4h0m143.3-179.3h0m-59.8,151.9h0m6.7-28h0m-131,77.9h0m133.3-124.3h0m-74.4,89.3h0m-12.6,35.7h0m97.1-77h0m-49.5,26h0m106.9-70.1h0m65.9-231.7h0m-289.6,349.7h0m219.8-237.8h0m-56.1,40.5h0m-28.7,158.3h0m77.5-233.6h0m-110.8,199.7h0m143-216.4h0m-119.4,241.7h0m15.7-39.9h0m-121.2,72.3h0m125.6-119.6h0m46.9,45.2h0m-79.4,65.2h0m31.6-85.4h0m101.1-79.3h0m-116.8,124.4h0m-43.7,43.3h0m-7.6-34.9h0m-169.2,61.2h0m113.7-37.3h0m96.4-8.6h0m-89.3,21.2h0m6.3,1.9h0m61.3-18h0m28.2,5.6h0m-6.4,6.5h0m21.4-21.7h0m98.7-145.1h0m-40.8,76h0m-117.3,86.3h0m69.4-42.6h0m-105.1,58.7h0m95.1-125h0m-98.5,131.1h0m189.3-192.9h0m-9.2-21.1h0m-182.1,207.8h0m175.8-167.2h0m-83,124.4h0m25.1-34.5h0m-113.4,50.4h0m93.5,10.5h0m-3.9-59.2h0m-54.6,26.9h0m156.6-122.4h0m-30.1,31.3h0m34.2-85.6h0m-144.6,207.1h0m-12,22.6h0m-48.4-14.1h0m176.9-229.4h0m10.9-20.9h0m-82.9,173.1h0m-61.8,92.8h0m72.3-170.3h0m33.6,22.3h0m3.2,46.2h0m-67.1,104.4h0m114.4-230.2h0m13.3-6.2h0m-185.9,222.4h0m107.8-97.2h0m-20.1,32.8h0m-126.4,86.7h0m69.4-81.8h0m72.6,30.4h0m-86.3,10.9h0m30.1-4.4h0m15.5-62.4h0m-19.1,80.5h0m-96.5,24.6h0m203.6-139.7h0m-89.6,54.3h0m58.1-130.1h0m19.1,5.4h0m-96,173.5h0m-50.5,1.9h0m26.3-1.7h0m17.1,11.8h0m-29.6,18.5h0m47.8-44.7h0m-105.6,51.4h0m92.3-72.9h0m-13.5,45.8h0m75-188.3h0m21,111.5h0m100.4-101.5h0m-44.9-83.8h0m-39,61.5h0m-56.3,129.3h0m5.6,48.7h0m26-36.8h0m-50.7,60.9h0m23.2-68.4h0m-80,87.1h0m108.8-88.3h0m-113.5,89.3h0m40.1-12.8h0m-6.5-24.2h0m58.9-165.6h0m69.4-25.6h0m-193.5,226.4h0m162-202.4h0m-73.5,145.7h0m101.7-197h0m-110.4,225.4h0m-69.9,5.7h0m167.2-250.7h0m-59.3,224.7h0m-124.3,56.5h0m112.1-102.1h0m-76.8,94.6h0m142.9-196.7h0m-50.4,165.7h0m23.3-64.6h0m-115.8,79.6h0m192.8-309h0m-158.2,303.6h0m76.6-35.1h0m-46.2,17.4h0m27.5-75.7h0m-118.1,123.8h0m118.1-171.6h0m26.7,41.6h0m-150,65.7h0m200.7-175.8h0m-173.5,179.9h0m40.3,5.6h0m-7.1-19.2h0m150.1-186.2h0m-139.3,126.4h0m7.6,91.6h0m65.5-169.5h0m-14.9,125h0m79.9-135.3h0m-129.7,201.2h0m-16.8-8.6h0m-17.1-39.6h0m-0.3,60.2h0m129.7-250.6h0m-16.6,94.9h0m-72.2,99.8h0m17.9-50.5h0m-199.6,118h0m279.6-256.9h0m-30.4,150.9h0m-239.1,104.8h0m151.7-158.9h0m41.1,105.5h0m122.9-198.8h0m-92.6,162.8h0m78.5-137.6h0m-39.9,41h0m-145.6,173.4h0m-36.7-31.9h0m96.7,30.1h0m89.3-219.2h0m-27.3,92.4h0m-155.1,129.9h0m178.8-181.3h0m-140.4,167.1h0m46.7-52.4h0m116.5-253.9h0m-71.7,163.6h0m-57.4,119.3h0m-21.3,1.2h0m73.8,1.6h0m17.4-17h0m-36.1-93.7h0m-56,133.1h0m108.1-191.4h0m30.3,21.9h0m-171.1,136.2h0m155.3-120.9h0m-107.5,137.2h0m31.9-37.1h0m-89.9,71.1h0m101.4-57.8h0m143.7-241.3h0m-17,29.4h0m-165.2,210.6h0m-47.9,40.7h0m199.2-161.5h0m-80.9,17.4h0m2.9,67.2h0m-165.4,90.5h0m150.7-94.6h0m-150.3,102.9h0m118.2-45.4h0m148.4-274h0m-120.2,253.8h0m27.8-158.9h0m-66.5,97.3h0m-11.3,93.9h0m-85,35.4h0m89.5-12h0m126.4-216h0m-132.4,138.1h0m62.7-45.2h0m-148.5,118.5h0m73-13.5h0m-62.7,24.1h0m17.4-8.2h0m79.8-14.6h0m70.5-30.4h0m-1.5-125.9h0m-146.6,174.2h0m-1.5,7.4h0m-41.7-9.9h0m131.3-85.6h0m-78.6,93.7h0m68.1-54.4h0m-83.9,53.2h0m228.2-348.7h0m-151.1,301h0m88.6-127.2h0m-86.9,67.5h0m-106.1,111h0m178.7-135.2h0m67-76.3h0m-112.2,155.8h0m82.3-142.9h0m-81.9,24.2h0m3.2,51.7h0m139.5-180.4h0m-280.5,308.1h0m208.9-273.3h0m-107.1,242.3h0m7-109.1h0m84.5-34.6h0m-103.5,75.2h0m-3.7,67.3h0m107.4-127.9h0m-149.8,117.7h0m79.5-31.5h0m105.7-292.6h0m-158,338.1h0m171.3-187.3h0m-195.9,170.7h0m118.4-144.5h0m-14.3,116.3h0m-136.8,55.8h0m193.1-279.2h0m-196.5,292.4h0m242.9-357.3h0m-169,280.3h0m62.9-53.5h0m-22.7,14.9h0m-117.9,112.5h0m57.5-15h0m70-19.2h0m5-125.7h0m101.6-76.5h0m-142.7,228h0m-7.5-88.6h0m105.8-207.9h0m8.3,143.7h0m-85.2,66.8h0m39.4-162h0m-69.9,126.9h0m37.7,68h0m-189.4,67h0m36.6-4h0m237.6-231.8h0m-128.5,202.6h0m-43-2.8h0m142.9-212.4h0m42.6-94.2h0m-48.2,290.4h0m-34.7-81.9h0m137.4-146.1h0m-114.9,135h0m-49.5,121h0m39.8-84.4h0m35.5-119.9h0m-57.7,104h0m-31.9,94.9h0m-9.5-2.7h0m-82.1,15.4h0m110.9-54.7h0m46.6-101.7h0m-146.4,158.7h0m42.4-67.8h0m3.2-1.5h0m105.1-153.8h0m-133.9,231.8h0m-84.9,5.5h0m215.1-177.9h0m20.3,101.8h0m-32.7-133.7h0m-24.7,118.4h0m120.8-251.1h0m-143.5,261.1h0m-45.6,63.5h0m93.1-54.2h0m64.5-224.8h0m-57.7,210.4h0m56.1-252.3h0m38.3,91.9h0m-193.5,223.7h0m59-67.3h0m-11.7,32.1h0m71.9-114.4h0m-199.8,159.4h0m229.6-195.6h0m-207.9,189.2h0m160.5-149h0m-61.2,129.6h0m-11.4-48h0m86.2-196.1h0m-160.2,237.5h0m162.7-22h0m-78.3,33.8h0m-97.5,23.6h0m207.7-175.8h0m-194,153.8h0m163.4-105.3h0m-86.6,128.1h0m2.7,2h0m143.2-208.2h0m-85.3,100h0m-44.9,55.6h0m92.4-98.4h0m-113.5,88.8h0m166.7-185.4h0m-180.5,203.2h0m99.2-124.1h0m-95.1,136.5h0m108.8-59.4h0m-137.3,32.3h0m70.8-40.5h0m67.2-88.4h0m-179,183.2h0m102.3-1.1h0m50.7-181.3h0m-78.2,177.9h0m12.4-9.3h0m87.8-130.5h0m14,88.7h0m-217.9,58.1h0m65.6-23.7h0m-176.3,34.6h0m250.5-145.2h0m55,14.3h0m-130.8,95.8h0m-32.6,26.6h0m147.8-80.5h0m-84.1,59.4h0m206.9-271.8h0m-336.2,301.4h0m233.2-265.1h0m-1.7,143.4h0m4.3,15.5h0m-62.5,60h0m-133.1,39.6h0m145-99.9h0m-57-80.6h0m96.6,98.2h0m54.1-52.4h0m-199.1,130.3h0m95.7-51.7h0m-20.6-29.3h0m-61,30.8h0m38.8,31.4h0m-104.6,29.9h0m154.4-79.3h0m-93.6,66.2h0m92.9-99.1h0m21.1,68.6h0m-56.4-16h0m-42.4,43.6h0m133.2-60.5h0m-2,12.4h0m-111.1,26.6h0m130.5-130.9h0m-346,167.9h0m273.2-54.1h0m27.4-101.2h0m-42.9,83.8h0m-154.3,63.2h0m156.9-86h0m79.9-164.1h0m-53,61.1h0m-146.9,189.2h0m128.2-148.9h0m133.9-140.2h0m-34.3-4.9h0m17.9,12.7h0m-124.7,181.7h0m69.4-77.6h0m-64.5,23.9h0m-4.9,56.7h0m-89.6,96.2h0m99.9-92.7h0m82.8-56.8h0m-72.7,29.5h0m-184.8,118.6h0m222.8-59.2h0m-149.3,24.4h0m144.9-184h0m-116,221.8h0m196.6-335.5h0m-142.1,304.4h0m103.5-226.4h0m-216.8,258.8h0m115.2-28.4h0m27.2-31.2h0m-141.3,61.3h0m78.9-27.3h0m2.8-111.9h0m55.9,114.5h0m-2.7-151h0m-160.7,177.8h0m250.3-167.9h0m-42.7,31.4h0m-106.2,122.8h0m133.4-93.4h0m-100,30.4h0m-31.2-8h0m-71.6,77.5h0m-133.3,8.7h0m281.4-53.3h0m67.4-114h0m-39.7,93.2h0m-0.1-60.8h0m100.1-162.9h0m-288.2,293h0m196.5-151.3h0m96.9-151.2h0m-166.1,269h0m-13.9-36.2h0m-22.7,52.5h0m-129,23.5h0m228.7-214.2h0m20.7,89.1h0m-18.9-51.2h0m-29.1,102.6h0m42.4-73h0m-76.2,61.9h0m-143,62.2h0m183.4-100h0m22-121.8h0m-84.7,215.6h0m50-43.2h0m-175.4,64.2h0m-2.8-8.1h0m60.9,4h0m221-308.3h0m-105.3,279h0m-5.6-117h0m-52,131.4h0m65.8-20.4h0m51.5-176.3h0m-22.4,30.5h0m-55.7,86.7h0m21.6-6.6h0m17.5,31.3h0m24.9-79.9h0m-26,117.6h0m-56-8.1h0m-104.2,40.4h0m138.5-42.4h0m-9.6-128.7h0m-10.5,111.2h0m-29.2,47.9h0m-67.3,20.8h0m189.8-208.5h0m-145.5,183.9h0m52.4-70.3h0m-36.6,56.4h0m-76.4,21.5h0m174.4-192.8h0m-201.7,198.8h0m142.2-40.9h0m-36.1-40h0m38.3,65.8h0m-93,5.1h0m174.8-118h0m21.4-8.3h0m-46.3,38.4h0m-102,38.3h0m-79.7,40.4h0m281.2-334.3h0m-344.4,365.1h0m75-2.7h0m140.9-99.6h0m13.6-2.3h0m-150.7,91.2h0m147.3-69h0m-169.5,81.7h0m189.7-190.9h0m-24.7,95.2h0m-34.7,56.9h0m89.4-269.6h0m-59.7,133.8h0m-253,173.4h0m291.3-178.1h0m-41.6,12.4h0m56-2.2h0m-98.4,125.3h0m83.4-71.5h0m-92.3,8.6h0m66.8-55h0m37.7-52.5h0m-122,165.8h0m-7.3,43.8h0m60.7-114.5h0m61.1-106.5h0m-34,51.6h0m-16.8,80.5h0m42.7-197.4h0m-25,190.6h0m-123.7,76.7h0m199.5-302.6h0m-4.9,1.2h0m-16,155.5h0m-243.6,156.3h0m256.6-304.8h0m-197.2,304.6h0m97.9-10.9h0m-16.2-36.6h0m95.1-137.1h0m-79.9,68.9h0m40.6-105.1h0m-93,199.7h0m-43.4,29.6h0m150.8-100.3h0m9.3-77.2h0m-59.5,108.8h0m-40.1,43.6h0m61.2-27.3h0m19.6-27.2h0m-218,85.5h0m270.1-250.2h0m-12.3,2.9h0m-46.6,33.2h0m-34.2,120h0m-29.9,48.2h0m141.2-273.1h0m-162.7,283.9h0m87.8-55.4h0m-40.5,32h0m109.6-186.7h0m13.1-69.6h0m-104,244.3h0m-10.6-46.9h0m-110.1,105.2h0m14.9-16h0m122.6-152.9h0m6.1,15.1h0m-34.2,27.1h0m-111.2,122.3h0m22.2,0.4h0m-197.5,17.4h0m264.8-171.3h0m-232.7,169.9h0m60.4-0.2h0m89.7-11.4h0m167.7-239.8h0m-190.7,239.2h0m160.2-129.8h0m98.4-200.2h0m-92.4,162.5h0m-11.1,85.2h0m-159.1,58.8h0m79.9,11.5h0m-127.7,26.2h0m209.3-115.9h0m-6-31.3h0m68.6-165.8h0m-109.3,263.7h0m23.7-32.2h0m-105.7,53.7h0m113.9-68.6h0m63.9-229.9h0m-56.5,249.2h0m26.1-118.9h0m-58,26.2h0m33.1,43.2h0m-29,36.8h0m-87.3,77.4h0m71.1-89.1h0m68.7-35h0m-32.2,67.5h0m-38.8-15.5h0m-67.8,6.7h0m121.8-29.6h0m-89.8,21.6h0m28.4,39.8h0m71.2-92.4h0m34.1-140h0m-136.6,184.2h0m15,18.1h0m96.8-68.4h0m-86.6,113.6h0m104.5-176h0m-71.8,161.1h0m-105.5,7.7h0m166.1-72.5h0m-51.9-12.5h0m-154.7,115.5h0m57.9-50.9h0m64.2,15.2h0m70.6-179h0m-242.6,220.7h0m174.8-157.1h0m21.9,89.8h0m10,9.2h0m-4.3-39.5h0m-21.4,24h0m31.3-70.7h0m21.7,34.7h0m-69.6,78.9h0m59.7-186.3h0m-61.9,192.8h0m74-99.4h0m-119.2,96.4h0m65.7-45h0m-54.9,41.1h0m127.3-70.9h0m20.4-111.3h0m-52.5,113.6h0m-39.8,63.7h0m-4.3-133.1h0m22.8,83.5h0m75.5-160h0m-58,148.5h0m123.3-240.4h0m-178.7,206.4h0m157.2-166.3h0m-25.8,48.3h0m-110.1,171h0m-216.6,80.7h0m133.2-13.1h0m148.5-169.4h0m-235.4,176.4h0m279.8-309.7h0m-183.5,300.9h0m98.1-110.3h0m-81.1,102.8h0m21.7-26.3h0m54.9-18.2h0m-128.5,55.3h0m86.6-39.7h0m-25.9,9.5h0m109.6-62.3h0m-152.8,95.7h0m226.8-322.6h0m-247.1,305.7h0m-5,21.6h0m70.1-62.9h0m75.3-42.8h0m21.3-68.2h0m5.2-22h0m15,34.8h0m-75.2,18.9h0m-100.6,120.5h0m22.3,15.3h0m50.1-19.7h0m-36.5,14h0m33-47.1h0m138-101.1h0m-36.7,79.3h0m-136.6,57.8h0m-48.1,24.9h0m94.7-117.1h0m54.4,2.9h0m-55.8-16.8h0m117.8-2.6h0m-144.2,83.5h0m-0.8,15.8h0m80.5-66.6h0m44.2-26.9h0m-103.5,94.3h0m127.4-285.4h0m-48,170h0m-70.2,56.5h0m53.4-40.8h0m-93.1,113h0m-27.9-2.1h0m165.5-99h0m-16.5-6.3h0m-129.4,65.9h0m164.3-214.9h0m-85.5,229.6h0m11.7-91h0m64-210.6h0m26.7,91.6h0m31.8-53.8h0m-91.3,227.7h0m-51.2,46h0m-107.4,31.2h0m58.4-180.3h0m5.3,167.6h0m-1.5-13.4h0m46.3,6h0m6.2-36.5h0m39.6-27h0m29.6-170.1h0m-48.8,202.7h0m31.1-148.2h0m-154.9,203.6h0m131.6-128.8h0m-79.3,112.2h0m67.5-42h0m33.2-71.1h0m-37.6-15.3h0m107.4-191.5h0m-53.8,268.3h0m-110.5,32.9h0m66.5-39h0m-85.7,34.6h0m119.5-27h0m-101.7,53.3h0m4.5-12.1h0m-56.4-2.9h0m11.8,5.7h0m142.3-156.8h0m-297.7,181.4h0m289.1-107.6h0m18.8-108h0m-10.4,57.2h0m-63.7,112.9h0m-104.7,20.8h0m104.7-51.3h0m56.5-97.9h0m54.2-92.7h0m-99,168.7h0m-192.9,96.2h0m116.3-79.1h0m-34.2,55.7h0m151.6-92.4h0m-22.3,25.5h0m-21.4,18.5h0m-31.9,54.5h0m-152.2,20.5h0m145.5-61.5h0m110.3-151.1h0m-178.6,206.5h0m11.8-24.5h0m-48.9,25.4h0m88.8-21h0m66-48.4h0m-201.5,71.8h0m205.9-152.4h0m-123.8,148.3h0m61.3-10.8h0m63.5-67.8h0m-196.3,84.6h0m245.3-119.8h0m-71,67.1h0m-42.6,31.7h0m154.2-269.3h0m-127.4,233.8h0m-24.5,27h0m151.7-199.4h0m-156.7,166.6h0m93.8-140.2h0m-108.9,162.7h0m-42.2,24.1h0m223.3-259.3h0m-91.2,173.4h0m53.4-149.3h0m-6.3,14.8h0m-69.8,139.7h0m33.9-36.8h0m-82.7,80.4h0m-1.3-5.7h0m74.9,19.1h0m-228,36h0m189.8-84.6h0m-84.9,50h0m88.3-112.6h0m-97.7,100.8h0m203.3-99.5h0m-49.1,27.6h0m-114.8,111.2h0m116.1-104.3h0m-241.1,114.1h0m49.9-0.9h0m184-144.1h0m-51.1,107.7h0m67.8-90.9h0m-44.9-57.4h0m111.9-44.1h0m-175.5,164.4h0m-101.2,58.2h0m77.7-33.4h0m77.1-9.8h0m40.5-89.6h0m-106.3,107.3h0m149.7-264.6h0m-232.8,291.9h0m160.1-50.9h0m-111.6,38h0m55.4,3.2h0m-14-50.5h0m139.5-167.1h0m38.1,42.9h0m-336.7,190.6h0m178.4-104.1h0m58.8,21.2h0m-107.4,76.1h0m68.1-107.7h0m5,55.4h0m72.5-70h0m-135.2,112.2h0m135.7-76.2h0m-82.1,11h0m22.6-6.7h0m-62,65.9h0m48-102h0m17.8,31.3h0m72.6-118.3h0m-45.5,133.2h0m-21.8-73.5h0m-79.7,140.3h0m157.7-324.9h0m-195.7,322.3h0m41.5-60.6h0m135.8-121.2h0m-122.5,163.5h0m-33.7,11.2h0m-5.6-3h0m60.4-56.4h0m-92.2,73.1h0m135.8-115.9h0m71.6-46.8h0m20.8-83.7h0m-56.9,76h0m-47.3,91.8h0m96-199.6h0m-99.4,223.9h0m57.2-170.2h0m-178.7,227.9h0m175.3-273h0m-169.8,268.1h0m93.5-26.7h0m-137.7,30.6h0m53.5-6.7h0m232.2-354.8h0m-94.6,149.8h0m-112.6,198.3h0m185.5-228.4h0m-291.5,247.7h0m185.7-55.2h0m-108.4,38.2h0m164.1-68.5h0m21.4-98.8h0m-97.7,116.9h0m-7.2,37.1h0m-25.8-8.6h0m141.9-319h0m-61.7,193.6h0m7.8,54.5h0m-12.6,41h0m-105.6,51.9h0m-3.5-2.7h0m151.4-223.3h0m-82.3,144h0m110.1-91.2h0m-33.2-47.8h0m-102.4,213.5h0m15.6-27.4h0m123.2-241.4h0m-12.4,159.3h0m-1.6-156.6h0m-149.1,253h0m93.9-96.4h0m-85.7,99.8h0m43.2-20h0m27.3-104.6h0m-23.6,63.9h0m-53.4,88.5h0m121.7-132.5h0m-95.1,85.6h0m58.4-121h0m33.9,4.4h0m-40,60.8h0m-35.7,46.2h0m87.9-161.2h0m-54.1-8.8h0m-112.9,215.3h0m-106.1,11.8h0m99.9-12.3h0m118.3-80.8h0m93.9-122.9h0m-162.3,160h0m68.4-29.5h0m-109.6,74.6h0m163.6-211h0m73.8-110.9h0m-219.3,323.9h0m83.2-58.5h0m-42.4,1.3h0m-35,56.2h0m77.3-133.6h0m27.9,43.1h0m-48.3-13.9h0m16.4-46.5h0m95-3.8h0m-173.2,127.2h0m176.3-237.2h0m-147.8,238.4h0m131.9-138.6h0m24-87.1h0m-92.1,127h0m-49.9,112.1h0m-61.5,5.3h0m-26.6,19.4h0m186.7-296.4h0m-219.5,292.4h0m158.8-81.9h0m-35.3,53.6h0m116.8-259h0m-129,282h0m154-353.3h0m-117.7,249h0m-18.9-21.6h0m-4,45.9h0m-54.7,75h0m186.1-211.8h0m-133.9,198.4h0m118.3-176.6h0m-116.5,127.2h0m-90.5,75h0m223.2-194.9h0m-130.9,145h0m111.6-68.7h0m-255.9,111.8h0m241.8-150.9h0m-90.2,143h0m49.7-46.4h0m-44.1,39.6h0m36.2-16.6h0m-34.1-8h0m-24.6,24.9h0m34-31.7h0m27.5-19.3h0m54.2-98.2h0m-53.5,91.4h0m-73.3,67.5h0m40.1-79.2h0m-14.5,19.3h0m-84.5,66.4h0m130.8-195.8h0m-119.6,183.9h0m147.6-140.2h0m-94.5,123.1h0m51.8,13.3h0m-54.1,13.3h0m122.3-80.2h0m28.9-260.7h0m-47.4,254h0m17.7,7.8h0m-35.9-3.5h0m-129.2,91.8h0m119.9-43.7h0m-63.1-24.9h0m-97.1,54.7h0m-56.2,16.7h0m126.6-102.5h0m-16.9,65.6h0m176.5-207.6h0m-164.2,222.7h0m135.1-94.3h0m-26.7,54.7h0m-123.1,26.7h0m16.3,0.9h0m6,15.6h0m108.5-142.4h0m-193.9,155.4h0m138.9-41.5h0m-52.1,10.4h0m192.1-257.7h0m-248.5,281.7h0m144.4-153.7h0m-13.7,108.5h0m98.3-174.1h0m-31,25.9h0m-226.8,199.4h0m279.4-352.4h0m-169.8,337.8h0m74.9-136.2h0m-270.9,157.4h0m349.2-367.1h0m-110.4,215.7h0m1.2,27.8h0m-46.7,99.5h0m135.5-197.9h0m-382,222.9h0m266.3-29.5h0m-69.6,17.4h0m71.6-79.7h0m-76.3,76.6h0m70.7-31.6h0m-99.2,39.1h0m179.5-175.8h0m-71.5,69.7h0m103.8-114.5h0m49.2-135.6h0m-363,364.3h0m37.1-1.2h0m119.7-16h0m71.3-68.8h0m-84.3,79.2h0m128.4-100.9h0m-58.6-21.6h0m-123.7,124.3h0m126.5-62.6h0m-87.2,58.3h0m-28.8,6.4h0m99.2-24.8h0m-8.9-12.4h0m86.6-251.1h0m-198.9,282.9h0m-16.7,4h0m210.9-237.5h0m-78.5,217.1h0m12-24h0m-7.7-55.1h0m-127.3,94.1h0m32.2-7.5h0m142.3-66.9h0m-15.6,63.1h0m-29.7-22.9h0m87.3-106.4h0m53.1-156.6h0m-132.2,241.8h0m68.9-166.6h0m29.5,14.1h0m-92.3,132h0m-7.1,59.7h0m-87.8-10.9h0m191.6-203.5h0m-52.2,144.7h0m-25.2-11.1h0m-68.8,32.7h0m144.1-155.9h0m-235.9,207.4h0m208.6-285h0m34.2-0.3h0m-99.8,213h0m-86.7,77.7h0m-1.6,3.4h0m163.5-125.2h0m-81.5,54h0m74.9-91.4h0m-126.4,130.6h0m-46.1,22.2h0m25.6,11.5h0m150.5-180.3h0m27.3-49.2h0m-89.1,130.8h0m25.1-104.6h0m9.8,84.2h0m-32.5,49.6h0m49.8-70.2h0m-132.9,138.8h0m-18.6,7.6h0m120.6-66.5h0m-26.6-2.3h0m96.9-76.6h0m-8.5-134.6h0m-68.7,183.4h0m59.4-46.1h0m-75.7,105.4h0m113.1-183.7h0m-101.1,154.7h0m25.9-54.4h0m56-189.7h0m-143.6,222.4h0m-25,39.4h0m64.2,9.4h0m-50.4,17.2h0m18.1,14.3h0m132.5-204.7h0m-108.6,127.9h0m-43.3,46.3h0m-163.8,42.1h0m173.3-9.5h0m88.8-87.5h0m-63,47.7h0m-11.9-11.1h0m104.8-103.3h0m-93.8,124.5h0m88.4-164.1h0m-129.8,187.8h0m135.9-201.3h0m-69.5,172.4h0m121.2-229h0m-140.3,161.1h0m-81.9,86.6h0m93-69.7h0m7.2,37.4h0m87-220.4h0m-59.7,17.8h0m-71.7,219.1h0m23.2-73h0m34.6-10.2h0m42.7,64.7h0m-134.9,9.7h0m34.4,39.1h0m49.5-124.7h0m-77.5,125.9h0m172.2-278.1h0m-86.8,101.1h0m-102.4,166.1h0m26.3-49.5h0m163.7-202.5h0m-133.3,225.7h0m-44.4,34.2h0m141.4-148.8h0m32.8-109.3h0m-240.3,263.8h0m169.7-152.8h0m68-69.6h0m-31-27.1h0m-162.7,237.6h0m168.1-204.3h0m-104.8,187.7h0m15.7-48.4h0m86.9,12.3h0m-122.5,24.2h0m27.6-101.4h0m94.5-1.9h0m-211,144.8h0m84.8-36.1h0m-41.2,23.9h0m130.5-119.2h0m-122.2,97.3h0m87.5,7.7h0m15-102h0m37-53.1h0m-30.4,68.7h0m7.9,31.1h0m-22.4,15.6h0m-73.6-89.1h0m151.2,11.4h0m-69.7,37.3h0m-71.9,68.6h0m-52.1,40.6h0m129.4-107.6h0m71.5-73.9h0m-64.1,119.8h0m-133.3,38h0m74.8,6.8h0m-55.1-1.3h0m63.7-3.8h0m95.1-176.3h0m-53.1,132.6h0m-21.3,31.8h0m-41.5,24.2h0m10-69.7h0m48.2,24.4h0m-189.4,38.3h0m138.7-40.6h0m-148.2,61h0m267.9-336.1h0m-180.7,319.6h0m170.6-151h0m-217.5,165.8h0m277.3-289.3h0m-69.5,160.9h0m-43.6,88.2h0m-45.2-24.9h0m2.7-1.8h0m-3.1-0.8h0m103-180.7h0m-26.1,172.3h0m27.7-60.5h0m-116.3,112.5h0m17.4-33.7h0m-126.9,32.5h0m-28.9,16.5h0m192.2-118.3h0m-70.2,87.7h0m65.2-127.5h0m-23.9,143.6h0m-13.3-34.4h0m21.2-26h0m-185.4,85.2h0m164.6-109.2h0m48,67.7h0m-28.8,16.6h0m29.5-104.1h0m-223.5,123.8h0m260.5-171h0m-15.6-5.7h0m-0.8,56.5h0m-25.5-26.9h0m21.6-79.1h0m35.2-4.9h0m-110.2,232h0m27-36.5h0m51.4-86.7h0m-164.6,110.3h0m169.3-238.9h0m-112.9,244.4h0m21.3-84.4h0m-17.3,95h0m80.7-68h0m-128.6,70.4h0m210-271.3h0m-150.1,260.8h0m-20.3,2.9h0m188-180.9h0m-120.2,86.1h0m-144.1,97.4h0m152.8-49.9h0m61.6-123.8h0m11.8-102.1h0m-80.6,139.1h0m-4.4,98.4h0m-143,37.7h0m231.1-336.2h0m0.5,165.4h0m-72.7,106.6h0m33.1-69.9h0m-103.8,93.5h0m108.2-72.1h0m-106.4,64h0m-9.5,37.6h0m-59.9,13h0m134.4-101.5h0m51-51.3h0m-90.7,46h0m-118.6,83.1h0m70.6-4.2h0m72-119.6h0m-14.8,108.3h0m-22.8,23.9h0m-58.5,2.1h0m237.7-287.8h0m-123.7,220.7h0m23.6,2.4h0m-19-49.7h0m-111.3,101h0m204.7-257h0m-150.8,259.3h0m28.3-10.6h0m-37.7-67.6h0m-56.3,102.5h0m118.6-164.6h0m-86,151.4h0m77.9-21.1h0m28.5-130.8h0m-156.9,158h0m249.7-297h0m13.2-53.7h0m-172.7,327.2h0m60.2-73h0m72.6-187.6h0m-179.3,270.1h0m217.3-276.5h0m-261.3,289.9h0m180.9-90.3h0m-39-27h0m-85.9,86.3h0m10.9,6.6h0m62.4-85h0m-30.9,85.8h0m10.8-14.6h0m-13.7,25.2h0m96.2-107.5h0m-39,55.1h0m-9.2-44.7h0m17.2,39.4h0m1.2-14.2h0m73.8-209.7h0m-95.1,212.7h0m10.4,39.2h0m-70.3-0.1h0m-63.1,39.5h0m53.1-18.6h0m44.3-54h0m-98,68h0m203.8-169h0m-174.3,172.9h0m98-146.3h0m-70.9,125.2h0m76.1-97h0m45.6-35.6h0m43.1-141.7h0m-211.6,297.1h0m188.1-124.5h0m-136.6,87.7h0m167.7-285.3h0m-237.5,328.5h0m67.4-6.5h0m50.2-150.5h0m104.4-191.9h0m-91.5,262.5h0m79.9-181.5h0m-56,84.9h0m34.7,121.8h0m-76.2,19h0m-13.5,5h0m30.4-27.3h0m-6.5,35.1h0m-36.7,3h0m4.3-11h0m-142.1,37.6h0m25.8-0.7h0m71.2-16.8h0m27.7-4.5h0m-66.1,10.6h0m266.9-304.9h0m-245.1,300.7h0m122.3-51.9h0m39.2-97.6h0m-144.5,154.5h0m118.2-58.1h0m-52.9,11.9h0m-74.7,52.3h0m153.2-151.8h0m17.4-171.1h0m7.3-1.6h0m-183.9,331.3h0m183.8-272.4h0m-242,272.6h0m120.3-52.7h0m-204.7,56h0m297-236.6h0m-57.9,31.5h0m136.7-109.8h0m-64.4,141.6h0m-107.7,123.8h0m80.2-167.9h0m19.4,27.5h0m-139.2,172.6h0m13.2-65.9h0m63.3-57.3h0m-202.6,140h0m7-5.5h0m198.5-59.8h0m-27.9,28.3h0m-26.9-1.3h0m65.2-141.3h0m78.6-177.8h0m-71.7,126.1h0m-24.9,197.2h0m-39-34.1h0m-96.7,31.2h0m136.8-18.2h0m-45.1,26.5h0m105.3-125.1h0m-127,25.7h0m-1.3,107.5h0m73.1-75h0m-154.7,95.2h0m75.2-34.1h0m71.3-12.7h0m-23.1,23.7h0m-1.7-136.3h0m37.6,15.9h0m9.7,65.3h0m-27.6,21.1h0m-61.8,13.1h0m154.6-176.7h0m-49.3,40.9h0m-49.5-14.8h0m137.9-78.7h0m-282.5,268.4h0m190.4-81.3h0m-62.3,45h0m61.2-33.8h0m-1-23.6h0m1.2,29.1h0m32.5-75.6h0m-122,141h0m12.9-72.6h0m126-192.4h0m-76.7,162.6h0m-32.4,63.2h0m-55.1,24.1h0m85.9-28.1h0m-103.8,40.9h0m223.6-142.5h0m-65.9-29.1h0m-115.9,161.3h0m149-213.9h0m-221.1,226.2h0m190.6-118.6h0m-63.8,38h0m89-144.9h0m-123.6,206.9h0m64.7-105.9h0m68.6-84.6h0m-103.5,26.2h0m-8.7,120.1h0m18.4-104.1h0m-19.6,120h0m29.5,3h0m-57.9,5.8h0m-18.1,37.6h0m177.3-223.5h0m-73.2,11.6h0m-124.8,193.6h0m49.5-17.2h0m45.9-63.2h0m73.6-63.8h0m-21.4-8.8h0m-15.3,4.4h0m-140.7,149.2h0m57.8-31.4h0m52.9-105.3h0m-37.2,130.2h0m47.7-18.5h0m31.8-25.1h0m-62.2-38.6h0m-19.4,3.5h0m46.2-3.6h0m27.3-23h0m19.7-0.5h0m-2.8-83.9h0m8-45.9h0m-259.9,264.4h0m201.6-81.8h0m25.7-53.5h0m40.9-81.5h0m-127.7,186.4h0m-67.6,25.8h0m-25.1-0.2h0m63.3-14.6h0m-65.2,20h0m131.8-143.3h0m91.7-97.1h0m-174.8,233.4h0m28.1-5.5h0m8.3-2.1h0m-43-23.6h0m187.1-285.7h0m-184,312.1h0m164.6-181.8h0m-103.2,176.6h0m-94.3,9.5h0m91.7-101.7h0m-5.6,33.4h0m-91,73.4h0m56.3-30.3h0m131.8-142.1h0m-60.4,114.8h0m-270.2,60h0m333.4-274.6h0m-19.9,130.6h0m-10.9,75.2h0m-205,67.8h0m190.3-133.4h0m48.1-138.7h0m-250,272.4h0m247-178.9h0m-88.4,97.7h0m-78.8,77h0m162.8-183.2h0m-152,183.8h0m93.1-131h0m-124.5,129.9h0m6.3,3.8h0m137.8-76.1h0m-46.8-44.1h0m151.5-143.2h0m-92.7,123.1h0m4.3,16.7h0m36.4-41.5h0m-73.2,91h0m82,15.6h0m66.7-288h0m-356,344.4h0m231.1-67.3h0m60.8-118.3h0m-43.7,28h0m79.5-35.6h0m-109.7,113.9h0m84.8-170.6h0m-184.9,239.2h0m-6.2,5.5h0m-49.1,4.3h0m207.9-197h0m-11,65.9h0m77.9-219.6h0m-99.1,240.7h0m24.4-28h0m-99,115.5h0m165.6-236.4h0m-83.5,153.2h0m-8.2,1.7h0m-132.5,98.3h0m142.9-95.2h0m-23.9,74.2h0m33.9-45.6h0m-4.4-95h0m28,11.8h0m-203,137.3h0m139.7-153.7h0m-80.7,164.1h0m79.9-85.1h0m-131.8,92.3h0m177.5-68.1h0m-15.6-117.7h0m93.8-24h0m-289,205.8h0m55.1-22h0m85.3-53.6h0m6.8-35.7h0m-162.1,120h0m66.6-48.6h0m57.3,23.7h0m95.8-91.5h0m-13.3-63.2h0m-40.4,76.8h0m112.8-161.3h0m-50.7,222.4h0m-32.2-2.8h0m49.1-146.8h0m-52.9,30.9h0m-130.1,153.2h0m96.4-82.4h0m9,14.4h0m33.9-25.7h0m-84.4,88.3h0m-106.2,8.8h0m146.8-22.1h0m139.5-222.2h0m-164.2,214.1h0m94.5-139.8h0m8.4,86.4h0m-42.1,33h0m-51.7-13h0m28.2-24h0m128.9-179.8h0m-83.1,103.4h0m-17.6,103.9h0m-36.9,4.7h0m29.7-5.7h0m94.5-183h0m-5.3-17.2h0m-75.3,129.6h0m-0.1,10.2h0m94.5-192.1h0m-69.2,143.8h0m-113.9,159.6h0m-156.3,13.3h0m106.9-5.9h0m98.4-53.3h0m42.9,10.4h0m-52.6-35h0m-38.3,11.9h0m145.4-239.4h0m-94.9,213.8h0m-57,73h0m-31.9,5.9h0m157.2-240.7h0m-98.8,197.2h0m77.8-57.6h0m-10.7,10.7h0m-10.7-22.4h0m-13.4,13.7h0m34.9-6.4h0m-144.1,96.5h0m149.4-118h0m-78.5,138h0m-10.1-58.8h0m43.4,34.5h0m-29.4,7.2h0m41.1-54.1h0m-60.3,62.2h0m215.2-264.3h0m-305.9,278.5h0m151.9-71.2h0m-65.5,64.9h0m-69.9,10.7h0m146.1-42.3h0m86.2-288.3h0m-155.9,288.1h0m152.7-248.7h0m-239.7,246.6h0m141.4-4.6h0m-99.2-26.5h0m-35.8,57h0m51.2,4.7h0m-3.6-0.8h0m100.4-117.7h0m105.2-130.5h0m-63.1,119.1h0m62-157.9h0m-142.4,248.6h0m-39.1,32.6h0m172.2-276.9h0m2,84.8h0m-188.3,205.8h0m62.7-67.4h0m66.9-129h0m-55,181.8h0m-101.2,14.1h0m139.4-165.5h0m-198.1,167.3h0m198.9-232.7h0m-139.5,197.2h0m187.6-151.3h0m21.4-166.8h0m-6.6,65.3h0m-85.4,186.3h0m-132.3,102h0m39.7,2.3h0m217-194.6h0m-163.4,176.6h0m-50.9-6.8h0m34.6-0.4h0m-114.9,29.3h0m110.3-38.4h0m59.9-101.2h0m-74.4,131.8h0m191.7-286.9h0m-223.6,276.1h0m181.5-272.3h0m-53.3,167.3h0m88.8-229.7h0m-99.9,200.7h0m-207.7,149.5h0m64.2-6.3h0m128.7-98.5h0m-95.1,102.7h0m-75.8,1.7h0m217.5-271h0m-95.5,171.7h0m72.2,23.7h0m33.4-208.1h0m-263,279.3h0m134.3-14.6h0m91.5-68.7h0m-27.9,40.7h0m-134.5,35.5h0m78.5-58.1h0m37.8-68.3h0m-27.6,87.9h0m85.9-120.1h0m78.9-81.5h0m-81,118.1h0m-164.4,127.8h0m30.7-4.3h0m144-207.5h0m25.8,47.9h0m-144,122.3h0m12.7-3.1h0m-166.5,50.6h0m316.2-258.7h0m-105.3,76.3h0m-40.4,154.5h0m104.3-78h0m-21.6-9.8h0m72-244.7h0m-189.6,315.8h0m97-30.7h0m-110.1,58.3h0m94.1-117.8h0m-45.4,110.5h0m-87.4,22.8h0m42.6-13.5h0m135.7-164.3h0m-114,101.1h0m62.8-26.4h0m-218.1,105.5h0m252.1-126h0m-270.3,125.9h0m197.3-35.3h0m56.5-119.7h0m10,100.3h0m-104,27.6h0m37.8-91.6h0m71.3,32.6h0m6-29.2h0m-63,41.2h0m103.2-82.8h0m-18,61.8h0m-124.9,33.4h0m86.1-7.5h0m28.7-64h0m-161.8,128.5h0m36.1-70.8h0m99.1-74.6h0m-40.6,62.1h0m87.9-151.5h0m-14.7,138.6h0m-93.3,36.4h0m126.4-96.8h0m-78,64.4h0m56.4-128.4h0m-124.8,217.1h0m-85.2-4.5h0m224.9-228.7h0m-132.2,156.7h0m-3.4,49.1h0m146.8-187.3h0m-121.2,176.8h0m-191.5,47h0m330.4-213h0m-132,167.6h0m-53.2,6.6h0m105.8-15h0m-18-58.1h0m-81.8,107h0m140.8-136.5h0m-180.9,127.4h0m132.4-128.2h0m-53,101.2h0m83.9-68.1h0m-7.6-15.6h0m-121.6,83h0m28.1,21.1h0m119.4-196.2h0m1.3,86.5h0m10.8-119.7h0m-54.6,150.4h0m-163.4,99.3h0m100.3-33.6h0m18.6,6.7h0m27.7-99.6h0m-212.9,124.7h0m146.1-60.9h0m120.2-64.4h0m-275.5,127.6h0m243.6-55.8h0m-106.8,43.7h0m170.7-189.9h0m-163.5,180.1h0m168.6-270.3h0m-1,77.5h0m-198.1,209.6h0m11.4-13.8h0m22.7,0.4h0m62-60.5h0m26.1,32.5h0m-110.4,12.8h0m46.7-87.8h0m29,73.3h0m57.8-178h0m-124.2,174.1h0m102.1-50.4h0m17-72h0m38.2-122.1h0m-143.1,278.6h0m165.5-210.1h0m15.6-107.2h0m-85.8,152.8h0m-26.7,105.5h0m42.4-149.9h0m-80.3,201.2h0m31.4-88.4h0m81.4-138.9h0m-101.4,219h0m4.9-179.7h0m8.6,31.3h0m25.6,76.2h0m68.8-184.5h0m-2.8,117.2h0m-198.9,150.3h0m122.2-44.3h0m-10.4-18.6h0m76-80.2h0m20.9-128.6h0m-119.4,176.5h0m-7,27.9h0m-146.9,87h0m232.5-144.6h0m-10.4,7.8h0m-41.1-56.1h0m-113.5,165.6h0m107.5-136.3h0m-29.4,92.5h0m-31.8,22.1h0m51.2,4.2h0m-128.6,46.1h0m74.9-6.5h0m-201.1,9.6h0m288.4-125.4h0m-190.3,107.2h0m210.4-190h0m-45.8,36.6h0m-38.4,113.6h0m111.6-86.9h0m-194.9,134.2h0m152.8-30.8h0m-72.2-99h0m27.9,86.3h0m-143,46.9h0m141.8-53.4h0m58-35.9h0m-38.1,0.8h0m-176.9,96.3h0m261.3-307.8h0m-56.7,197.6h0m-4.3-45.9h0m35.2-18.8h0m-110,122.9h0m133.4-157.9h0m-52.7,118.5h0m-59.6,66.4h0m23.1-51.6h0m77.8-66.2h0m-120.9,122.8h0m-222.1,18.1h0m297.5-164.1h0m-104.7,151h0m53.5-52.1h0m-20.3,11.8h0m87.8-216.7h0m-34.2,220.5h0m-84.3-2.3h0m43.9,37.4h0m-39.7-32.5h0m45.2-26.2h0m10.1-11.1h0m84.8-26.1h0m-199.8,101.6h0m231.6-158.9h0m-197.9,141.5h0m139.4-138.2h0m-51.8,5.6h0m119-63.5h0m-81.4,67h0m-66.1,59.8h0m149-74.3h0m-240.3,160.8h0m186.3-178.1h0m-71.5,131h0m88.3-188.8h0m6.1,82.1h0m-31.6,9.1h0m-45.9-36.8h0m92.8,5.8h0m-201.4,179.8h0m192.9-162.8h0m17.5-101.8h0m-143.8,249.5h0m66.5-28h0m23.7-17.2h0m65.9-138.1h0m-90.3-9.1h0m-34.6,198.5h0m-12.7-45.9h0m-52.7,46.6h0m-83.1,8h0m263.1-330h0m-25.8,98.2h0m-102.7,217h0m117.1-229.3h0m26.1,24.9h0m-112.8,150h0m40.8-92.9h0m-153,158.3h0m139.9-144.2h0m65.8-119.7h0m-7.1,19.7h0m-32,126.3h0m-96,65.2h0m-50,54.6h0m29.7-10.3h0m55.6-64.8h0m-18.6-18.6h0m87.7-16.9h0m-184,102.9h0m177.8-123.5h0m-189,121.9h0m122.4-109.8h0m-5.3,83.3h0m89.3-37.8h0m-103.4,37.2h0m14.1-61h0m38.1-91h0m-79,150.3h0m149.9-94.9h0m-123.8,133.7h0m28.3-55.3h0m86.2-211.6h0m-68.3,31.1h0m-32.2,140.1h0m97.3-202.7h0m-26.1,91.9h0m-80.4,189.3h0m149-335.9h0m-169,234.3h0m161.3-99h0m-25.9,47.7h0m-78.8,37.5h0m-33.2,26.2h0m81.5-35.7h0m-241.7,147.2h0m55.5-14.1h0m231.6-245.4h0m-162.3,235.1h0m106.6-101.1h0m19.6-132.7h0m-144.4,216.3h0m163.5-143.4h0m-213.2,173.7h0m118.7-42.1h0m-9.5-100h0m-182.5,153.5h0m56.1-6.6h0m30.9,4.6h0m173.4-183.2h0m-181.6,183.5h0m129.8-37.8h0m-63.5,26.9h0m-1.9-34.5h0m-39-4.2h0m47.1-36.8h0m38.8,3.6h0m30.9-84.3h0m-102.3,156.2h0m150.4-170.6h0m-84.1,49h0m62,28.4h0m-112,92.8h0m-62.4,5.1h0m62.3-47.2h0m176.3-191.4h0m-60.2,37.8h0m-61.1,81.3h0m-37.8,81.4h0m2.8,36.2h0m132.9-345.1h0m-153.7,334.3h0m108.1-223.7h0m-76.9,192.7h0m0.7-53.2h0m-13.2,74.8h0m-64.5,25.5h0m171-132.9h0m16.9-45h0m-30.9,9.7h0m-128.4,152.5h0m20.6-32.8h0m-12.9-79.6h0m135.2-102.8h0m-105.2,200.1h0m-10.5-4.2h0m70.3-11.7h0m2-86.7h0m-16.7,13.2h0m51.9-109.9h0m-139.9,128.2h0m33.2,82.1h0m-36.9,2.4h0m184.8-209.1h0m-192.2,203.9h0m93.1-27.1h0m-88.1,43h0m202.2-287.2h0m-74.2,215.6h0m70.8-213.2h0m-118.2,248.9h0m-114.5,45.7h0m265.1-310.5h0m-146.6,287.6h0m33.5-170.7h0m-58.7,114.7h0m-123.1,82h0m106-26.5h0m-76.3,23.4h0m126.7-82h0m-11.2,50.2h0m70.8-99.2h0m4.1-52.7h0m-91.7,87.4h0m-37.6,84.1h0m-207.3,16.3h0m78.9,0h0m7.6,1.3h0m-22.3-4.8h0m196.6-46.7h0m119.5-240.4h0m-120.4,262.1h0m-186.2,17.9h0m198.2-214.5h0m-17.8,177.4h0m46.6-122h0m-104.1,150.5h0m28.4-6.5h0m121-146.3h0m-80.5,94.4h0m-71.8,64.6h0m106.6-130.6h0m27.3-36h0m32.5,9h0m21.6-104.5h0m-248.3,272.8h0m152.7-153h0m-151.4,149.3h0m137.2-35.7h0m19.1-53.8h0m-4.2,39.5h0m-92.5,48.1h0m38.6-37.2h0m81-49h0m22.7-149.8h0m-37.2,125.6h0m-187.1,109.4h0m227-202.7h0m-231.2,202.2h0m253.8-259.1h0m-87.3,166.8h0m-93.9,101.7h0m73.9-24.8h0m-60.1,12.8h0m103.5-150h0m-187.7,161.8h0m226.8-276.4h0m-11.4,61h0m-80.6,130h0m29.6-7.3h0m83.5-187.5h0m-58.6,201.7h0m7.6-110.8h0m-217.4,190.2h0m95.8-23.2h0m89.8-43.1h0m-48.5,45.4h0m-71.1,9.5h0m108.9-39.5h0m121-121.3h0m-15.1-188.1h0m-290.5,358h0m205.4-170.2h0m-89.1,147h0m144.1-140h0m-104.3,126.8h0m40.3-34.4h0m19.3-41.6h0m-79.9,77.2h0m-86.3,36.6h0m-25.3-3.2h0m213.3-173.3h0m-113.4,152.7h0m33.6-176.4h0m91.3,31.4h0m-44.8,103.4h0m73.2-213.3h0m-186.1,243.2h0m216.6-278.7h0m-85.7,58.1h0m28,76.9h0m-2.9,76.6h0m-60.2,51.1h0m46.2-67.1h0m-14-16.6h0m20.9-39.7h0m-73.1,96.2h0m84.2-87.7h0m58.2,3.9h0m-200.6,147.5h0m148.7-234h0m-77.3,135h0m76.4-124.2h0m-89.1,176.4h0m145.3-172.5h0m-82.9-11.6h0m-73.5,129.9h0m6.9,94.5h0m37.1-67.3h0m72.5-153h0m-28.3,51.5h0m-72.1,123.6h0m16.9-23.3h0m53.6-36h0m-36.9,1.6h0m79.2-165.2h0m18.9-24h0m-250.2,301.8h0m112.7-34.5h0m56.2-123h0m-29.6,75.4h0m67.1-34.7h0m-9.6-39.2h0m-157,147.4h0m14.6,6.5h0m17.8-45.7h0m-128.5,54.7h0m186.8-70.8h0m-36.6,7.2h0m-111.5,64.3h0m93.4-24.6h0m31.3-54.4h0m-26,53.6h0m148.5-231.8h0m-102,176.3h0m-228.1,83.5h0m297.2-112.7h0m32-109h0m32.4-95.4h0m-77.6,79.6h0m-38.9,27.1h0m43.1,72.7h0m-64.6-40.6h0m64.2-99h0m-124.7,269.6h0m103.9-166.4h0m-168,167.3h0m141.6-38.4h0m163.4-271h0m-237.8,301.6h0m25.1-19.8h0m22.7-91.9h0m61.9-100.6h0m-166.5,193.8h0m41.1,20.8h0m42-77.6h0m-13.3,76.4h0m-83.6,6.8h0m215.5-206h0m-3.6-57.7h0m56.1-8.7h0m-101.9,226.9h0m-120.1,14.3h0m-18.3,9.6h0m43.3,5.8h0m-92.2,22.1h0m100.9-15.3h0m103.5-226.2h0m-47.9,160.9h0m-24,46h0m-36.3-18.3h0m176.7-165.5h0m-103,139.2h0m51.3-48.2h0m-113.4,24.1h0m155.1-91.2h0m-28.3-25.2h0m-120.1,173.4h0m61-18.7h0m-52.4,9.8h0m-15.7,41.6h0m155.8-219.4h0m-133.4,200.1h0m-163.8,35h0m313-357.2h0m-82.1,130.9h0m-105.5,145.5h0m34.4,70.4h0m83.4-163.7h0m-82.6,109.6h0m54.8-7.6h0m80.1-109.8h0m-91.1-5.3h0m37.4,102.7h0m-14.8-0.4h0m-15.8-16.9h0m-92.3,92.8h0m14.1-8.5h0m71.9-105.5h0m-156.5,116.2h0m139.4-119.6h0m33.8,13.8h0m-99.6,93h0m14.1-53.8h0m200.5-254.9h0m-58.1,62.9h0m-141.7,200.8h0m137.3-218.2h0m-73,160.7h0m68.5,40.7h0m-121.1,51.5h0m88.5-79.8h0m8.4-76.2h0m-54.7,131.3h0m-35.7,39.6h0m17.1-32.8h0m3.4-61h0m-38.1,92.1h0m90.5-87.3h0m-188.4,94.3h0m113.6-127.5h0m84.8-57.7h0m-194,188.1h0m82.5-1.5h0m62.6-19.7h0m42.6-41.9h0m69-262h0m-18.5,136.6h0m-78,114.9h0m-197.8,78.3h0m213.7-131.5h0m-12.4,40.7h0m-31,18.9h0m40.8,17.4h0m-120.6,30.8h0m173.2-277h0m-64.2,95.9h0m-133.1,176.1h0m117.4-25.2h0m61.2-114.5h0m-54,22.2h0m-17.6,32.3h0m95.6-57.6h0m-72.7,36.7h0m-24.4,14.8h0m24.8,38.6h0m-22.4,19.2h0m-35.3,45.1h0m12.9-43.5h0m94.2-46.9h0m-1.1,45.2h0m-48.3-37.3h0m-124,86.6h0m122.5-77.6h0m55.5-49.2h0m12.5-20.2h0m-177.4,160.1h0m161.2-231h0m-2.3,36.9h0m0.7-69.8h0m-117,227.2h0m-17.3-2.5h0m213.1-306.1h0m-127.8,262.4h0m102.3-138h0m-119.1,160.5h0m23.9-51.4h0m-47,7.7h0m112.5-196.2h0m-128.5,263.3h0m60.3-52.6h0m59.6-130.1h0m-90,154.1h0m-119.4,59.1h0m-1.1-2.5h0m73.6-13.3h0m9.1,16.6h0m94.4-148.7h0m48.6-124.8h0m-132.6,263.9h0m76.5-83.4h0m-84.7,38.2h0m108-35.4h0m7.2-48.9h0m-163.5,103.9h0m120.8-65.8h0m-57.5,20.8h0m96.6-123.7h0m33.3-7h0m-87.4,158h0m-84.6,33.2h0m1.9-67.3h0m176.2-198h0m-29.4,187.1h0m-20.8-21.9h0m-51.7,70.4h0m-36.5,36h0m99.6-88.5h0m16.9-79.5h0m5.1,32.5h0m-63.9,106.6h0m-208.3,38.9h0m161.2-34.7h0m128.4-313h0m-87.7,204.9h0m-12.4,10.1h0m53,100.7h0m-51.1-9.4h0m-43,24.1h0m-23.3-19.7h0m-15.6-15.8h0m43.3,37.6h0m-104.7,22.7h0m171-112.2h0m49.1-19.7h0m-88.6,79.2h0m-70.9,50.7h0m59.8-60.2h0m41.4-98.3h0m-120.4,144.4h0m106.5-112.6h0m-7.7,12h0m-34.5,71.8h0m-39-72.6h0m183-221.6h0m-141.3,279.2h0m44.8,16.2h0m-25.3-12.7h0m76.5-237.8h0m-7.3,119.7h0m-92.9,126.8h0m-39.9,32.4h0m83.9-98.8h0m-31.7,39.4h0m22.6,3.8h0m-84.7,18.9h0m113.7-48.7h0m21.4-183h0m-76,270.8h0m3.5-54.4h0m-61.7,45.9h0m-10.6-36.5h0m34.7,14.2h0m153.3-145.7h0m-83.1,34.6h0m13.9,21.2h0m101.5-202.3h0m-30.5,28.1h0m-42.6,191.9h0m28-25.6h0m-113.8,81.6h0m2.5,16.2h0m174.2-278.5h0m-62.9,148.3h0m-58.1,88.6h0m4-123.6h0m-22.8,163.9h0m-129.6,24.9h0m1.1,20h0m128.7-43.5h0m-100,13.5h0m63.6,8.3h0m170.9-264.6h0m-124.5,229.1h0m-47.2,12.9h0m90.1-136.3h0m-35.5,77.2h0m-60.3,44.9h0m-81.7,51.4h0m186.5-111.1h0m-61,12.7h0m-56.2,91.1h0m-70.7,4.2h0m122.6-35.2h0m-62.9,21h0m-11.1,21.8h0m114.9-121.9h0m-86.3,65.3h0m104.8-165.2h0m27.1-52.4h0m-121.7,172.2h0m30.1,56.2h0m-1.4-124.4h0m-24.6,110.7h0m65.3-65.5h0m-80.7,71.3h0m-9.3-18h0m-50.7,76.3h0m122.7-42.4h0m30.5-93.7h0m27.8-148.2h0m-91,216.9h0m-18.8-21.9h0m-103.8,75.7h0m152.4-16.5h0m44.8-72.4h0m-21,21.6h0m-29.9-52.2h0m125.6-139.9h0m-139.5,200h0m-87.6,62.3h0m60.1-24h0m76.6-163h0m-34.2,107.9h0m-7.6,5.9h0m57.6-13.3h0m-116,77.7h0m-36.2-31.8h0m165.7-168h0m0.7,80.3h0m-231.1,133.6h0m207.6-234.1h0m7.7,118.6h0m-48.6-34.7h0m-56,116.1h0m29.6-24.9h0m80.5-92.6h0m-162.1,135h0m139.9-78.5h0m-42.2-26.3h0m-44.4,39.2h0m-57,73.2h0m94.6-81.1h0m95.3-56.2h0m-31.9-4h0m42.1-39.8h0m-252.9,179.1h0m200.4-143.5h0m-86.7,140.6h0m126.2-269.5h0m-65.5,172h0m-74.5,98h0m76.5-114.7h0m-289.9,134h0m180.9-14.1h0m8.6,2.7h0m114.2-167h0m110-182.6h0m-187.7,338.3h0m137.4-207.5h0m-182.6,221.8h0m200.7-255.8h0m-73.3,221.8h0m48.9-107.7h0m-22.8-68.3h0m-66.6,157.1h0m-18.6,26.4h0m96.6-84.9h0m0.6-23.9h0m34.5-203.8h0m-47.7,146.3h0m-58,129.9h0m20.7-150.2h0m-40.9,193.6h0m4.2-66.5h0m63.4,10.2h0m16.1-172.2h0m-39.4,141.1h0m-49.3,26.4h0m72.5,8h0m-163.9,69.1h0m181-186.1h0m-9.4,62.9h0m-115,109.9h0m34.1-131.1h0m115.6-89.3h0m-5.2-37.9h0m-87.4,175.3h0m48.3-97.1h0m-280.7,204.2h0m314.9-169.6h0m-142.7,151.9h0m-153.6,17.1h0m232.8-98.9h0m78.5-218.8h0m-125,237.8h0m138.6-166.8h0m-54.6,97.3h0m-45.8,12.7h0m53.6-59.4h0m37.1-44.6h0m-74.8,94.4h0m-134.3,137.8h0m-32.5-9h0m-31.4,20.1h0m37.5-12h0m241.5-248.3h0m-33.1,114.6h0m-170.9,121h0m191.8-278.2h0m-187.6,278.3h0m129.9-85.4h0m-14.5,50.6h0m-77.6,34.7h0m36.7,8.2h0m-42.9,1.5h0m51-168.2h0m87.7,31h0m-160.4,151.2h0m134-205.7h0m-152.2,187.5h0m235.2-312.7h0m-235.1,326.5h0m-24.4-1.2h0m95.9-32.8h0m-0.8,12.2h0m4.2-3.6h0m45.9-221.3h0m-165.2,250.6h0m265.8-288.2h0m-184.2,227.6h0m29.1,21.7h0m-30.5,26.5h0m36.6-18.4h0m123.3-275.2h0m-102.4,241.2h0m49.9-27.3h0m57.1-157.8h0m-47.8-6.7h0m-173.6,241.3h0m192.4-260.7h0m12.8,143.5h0m-82.4,112.7h0m-147.6,1h0m128.9,5.6h0m-56.8-19.9h0m172.8-283.8h0m-59.5,206.9h0m-11.7-93.4h0m-98.2,182h0m10-18.8h0m131.2-64.7h0m3.9-64.8h0m44.9-165.4h0m-91.8,109.9h0m-23.3,184.1h0m52.7-64.4h0m-139.6,69.5h0m68.5-5.6h0m-32.2-11.9h0m122.9-108.8h0m-191.6,146.8h0m60.3-66.7h0m53.7-83.9h0m40.1,81.2h0m-50.6,48.6h0m40.8-224.7h0m-52.7,238.4h0m-80.7,9h0m110.6-93h0m100-105.7h0m-110.6,67.3h0m1.7,46.4h0m24.2,8.8h0m16.7-98h0m-30.8,151.7h0m-145.8,24.3h0m220.5-215.2h0m57.9-42.5h0m-210.8,229.8h0m23.1,6.9h0m78.7-65.2h0m-56.2,37.1h0m-164.7,61.8h0m111.9-88.8h0m192.1-199.3h0m-140.8,271.6h0m-14.7-25.1h0m-75.5,30.9h0m114-117.4h0m24.3-27.2h0m94.9-165.3h0m-106.4,259.2h0m-16.5-25.1h0m17.3-42.8h0m-75,117.9h0m127.6-97h0m35.9-117.3h0m-89.9,71h0m30.2-23.4h0m-20.7,69.5h0m-58.3,70.8h0m-37.9-7.7h0m146.6-171.7h0m9.3,41.4h0m-163.3,140.5h0m155.3-75.5h0m-207.7,105h0m217-88.5h0m-222.5,78.9h0m248-302.1h0m-84.9,149.2h0m-188.2,165.6h0m52.9,1.4h0m41.5-5.5h0m15.7-22.4h0m-1,12.5h0m18.2-11.2h0m43.7-126.4h0m-108.4,139.3h0m76.2-43.2h0m24.2,29.6h0m25.8-52h0m-100.6,73h0m104.8-98.3h0m56.2-233.7h0m-105.6,306.6h0m105.6-146h0m-224.7,175.3h0m172.8-143.6h0m46.3-147.2h0m-117.6,248.4h0m168.7-231.5h0m-130.9,131.4h0m14.6,71.6h0m-103,48.2h0m94.8-13.2h0m18-39.6h0m12.5-123.1h0m-108.5,154.7h0m75-35.4h0m-5.9-32h0m53.7,15.5h0m-72.8-82.4h0m-9.7,125.2h0m167.8-290.1h0m-219.9,323.2h0m188.7-199.6h0m-170.2,207.1h0m84.3-69h0m-6.8,4.5h0m-14.6-6h0m2.5,55.4h0m-19.6-9.6h0m73.7-30.1h0m54.3-138.9h0m25.9-152.9h0m-399.9,364.6h0m407.6-282h0m-168.6,237.4h0m-120.9,38h0m143.8-147.9h0m190.5-154.4h0m-66.6,65.6h0m-176.7,229h0m207.4-344.8h0m-5.9,18.3h0m-40.4,104.9h0m-118.2,89h0m-42.7,63.6h0m3.6,58.2h0m65-45.5h0m1.9,9.8h0m-23.6,30.2h0m-35.9,7.9h0m-119.5,18.9h0m132.9-50.8h0m-36,3.3h0m128.4-192.7h0m49-63.9h0m-65.4,114h0m27.4-1.5h0m-31-41.3h0m-31.9,36.8h0m-91.2,189.7h0m18.6,0.2h0m69.1-93.8h0m-116,88.4h0m195.7-196.6h0m-91.8,45.4h0m25.1-35.2h0m-35.2,145.3h0m-46.5,40.6h0m33.1-2.3h0m89.7-199.7h0m0.9-5.4h0m-68.2,175.1h0m-20.9-19.1h0m44.7-98.7h0m-115.4,146.3h0m83.5-99.6h0m-95.8,81.9h0m57.5,16.7h0m134-75h0m-56.2,20.3h0m-121.4,58.6h0m33.9-12.3h0m81.8-64.9h0m-123.6,88.8h0m111.5-67.4h0m18,2.6h0m73.9-173.6h0m-90.8,122h0m117.8-83h0m-111.9,150.1h0m-6.2,12.1h0m94.3-195.7h0m-142.3,212.3h0m17.8-120h0m-12.4,92.1h0m54.5-27.2h0m-39.5,11.7h0m219-251.3h0m6.6,22.2h0m-13.2,92.9h0m-29.8,18.6h0m-185.2-29.7h0m-16.5,18.6h0m-39.7,35.6h0m-52.9,83.3h0m-23.1,22.3h0" fill="none" stroke="#5ad6bd" stroke-width="6.9" stroke-linecap="round"/>
<path d="M622.4,1309.9h0m28.1,17.9h0m-25.2,38.5h0m28.3-0.6h0m-18.4,55.5h0m-7-93h0m-12.3,47.3h0m10-28.5h0m-13.5,2.9h0m-9.7,80.9h0m1.1-37.7h0m3.1-32.2h0m4.6,62.3h0m7.6-105.6h0m-12.1,40.4h0m17.3-27.4h0m-10.6,65.8h0m-2.3,8.4h0m4.2,31.8h0m-4.9-17.1h0m35.1-26.1h0m-25-27.1h0m-52,73.6h0m18.6-28.2h0m2.9-20.8h0m24.1,21.7h0m53.7-232.4h0m-31.2,74.8h0m28.5-17.6h0m-1.2,60.1h0m-13.4-59.9h0m5.7-2h0m-8.2,146.6h0m-9.8-28.1h0m16.2,14.9h0m8.1-78.2h0m60.1-193.7h0m-39.3,139.4h0m-60.4,105.8h0m41.5-12.6h0m-0.1,59.5h0m4.1,15.4h0m16.8-81.2h0m-69.7,79.9h0m18-38.5h0m24.8-154.4h0m-31.8,201.1h0m8.4-48.7h0m2.7-10.4h0m-28.4-8.8h0m39.6-52.2h0m-13,82.1h0m-58.4,56.4h0m78.6-97.3h0m-35.4,44.6h0m8-37.8h0m-41.7,77.2h0m20,5h0m-12.4,19.9h0m24.2-62.7h0m-8.9,47h0m48.5-143h0m-77.8,123.2h0m90.5-41.8h0m-30.4,19.9h0m-2.4-10.1h0m-9.8-35.1h0m-9.5-35.1h0m-24.3,109.2h0m75.4-65.5h0m-15.2-94.9h0m-41.8,184.2h0m18.4-35h0m-48.1,21.4h0m30.3-25.7h0m2.2,30.8h0m10.9,12.4h0m-1.3-123.9h0m-18.7,59.4h0m68.2-241.6h0m-45.6,220.6h0m-12.1,46.1h0m1.6-42.4h0m-49.9,78h0m64.7-8.1h0m16.6-175.9h0m-67,186.8h0m65.1-50.2h0m-45.2-48h0m6.8,74.1h0m7.9-64.4h0m43.1-173h0m-9.5,237.7h0m-7.8-87.1h0m-30.3,14.4h0m36.7-57.9h0m-12,13.5h0m9.7,125.4h0m-0.9-138.9h0m-28.8,27.3h0m51.9-183.7h0m-28.8,239.2h0m-0.5-13.4h0m8-106.5h0m-22,107.7h0m25.3-96.8h0m-56,131.7h0m9.2,32.7h0m-34,2.3h0m23.8-20.1h0m-20.3,36.2h0m84.4-143.1h0m-31.9,95h0m5.9-3.5h0m-20-22.4h0m68.4,26h0m-114.8,47.3h0m32.9-62.5h0m42.3-104.7h0m-27.4,145.6h0m38.5-43.4h0m19.2-170h0m-60.2,158.2h0m56.3-11.5h0m-20.3-29.5h0m-4.6,115.8h0m-10.4-21.3h0m30.6-52.6h0m34.1-133.5h0m-70.6,109.4h0m1.7-2.4h0m46.5-79.7h0m-33,70h0m-14.6,23.7h0m-30.3,84.7h0m15.5-75.1h0m20.1,63.3h0m77.2-123.8h0m-45.6-155.7h0m-31.5,162.1h0m25.1-52.1h0m61.5-166.4h0m-91.2,222.2h0m-37.5,96.1h0m9.1-17.4h0m21.6-28.5h0m-46.2,76.9h0m149.7-330.6h0m-75.2,81.8h0m37.4,40.8h0m-102.8,175.7h0m96.6-64.6h0m-65.7,98.3h0m-45.4-4.9h0m65.4-88.1h0m-42.9,75.7h0m55.2-225.8h0m-8.7,243.5h0m22.7-34.1h0m-75.1-20h0m28.8-37.2h0m37-114.1h0m-14.7,133.9h0m-65.1,63.7h0m22-3h0m22.2-112.9h0m17.2,45.3h0m57.3-41h0m-74.8,8.9h0m-4.4,97.3h0m16.9-99.6h0m-11.9,102h0m32.7-218.1h0m-24.8,201.6h0m3.3-20.3h0m-26.6,29.5h0m37.8-100.6h0m22.2-137.1h0m-24.6,244.3h0m-10.1,1.9h0m44.7-137h0m-30.6,22.8h0m-23,50.4h0m17.2-58.3h0m-28.8,99.9h0m-0.5,13.7h0m33.5-92.5h0m-22.5-33.3h0m25.6,71.9h0m-29.5,48.3h0m61.1-62.1h0m13.1-117.3h0m-6.8-90h0m-40.1,179.5h0m25.3,40.9h0m-23.1-63.3h0m0.1,6.3h0m-48.7,67.8h0m35-29.5h0m-18.9,87.6h0m-14.2-63.9h0m93.9-232.7h0m-62.5,300.7h0m-0.9-50.1h0m63.9-128.3h0m2.7,3.2h0m-54.7,155.7h0m20.4-67.4h0m-36.2,54.7h0m1.4-1h0m29.8,4.7h0m-20.3-69.1h0m-43.6,56.4h0m78.8-205.6h0m-38.9,147.4h0m-37.1,90.4h0m69.1-24.9h0m-53.8,1h0m75.2-204.6h0m-29.5,74.4h0m17.6,30.9h0m10.2,62.3h0m-79.1-5.5h0m8.3,70.4h0m33.4-161.4h0m-57.9,135.9h0m106.3-53.9h0m-88,33h0m60.6-207.2h0m-20.4,237.1h0m-15.7,9.6h0m-17.4-16.6h0m11.4-2.2h0m-23.7,7.4h0m65.8-168.8h0m-84.6,179.3h0m69.6-214h0m43.1-92.5h0m-76.5,275.7h0m-14.3,40.4h0m18.8-5.7h0m32.7-21.1h0m16.3-51.9h0m-69.7,8.2h0m21.1,44.8h0m-36.4,21.7h0m81.9-157.1h0m-62.5,111.2h0m-1.5,13.3h0m21.1-111.8h0m-26.2,89.5h0m10.8,44.2h0m80.4-289h0m-30.7,135.7h0m-50.1,124.1h0m59.6-133.5h0m-58.8,105.8h0m75.6-184.5h0m-85,224.1h0m124.7-330.2h0m-143.1,344.5h0m52.2-140.7h0m-52.7,161.8h0m34.5-29.6h0m8.8-32.6h0m30-164.6h0m8.1,97.9h0m-31.1-56h0m20.2,142.3h0m-1.9-73.9h0m-2.8,50.3h0m-0.9-3.1h0m-47.3-13.5h0m76-135.2h0m-45.8,214.2h0m-13.5-47.5h0m47.9-162.8h0m-50.8,210.1h0m14.6-23.3h0m17.2-102.8h0m-29.1,28.6h0m70.5-84.4h0m-42.9,155.6h0m-29.3,21.1h0m79.3-284.9h0m-93.7,243.4h0m90.5-220.5h0m-80.9,257.4h0m15.9-149.7h0m-21.8,152h0m76.1-345.7h0m12.9,18.6h0m9.9-2.3h0m4.6-11.1h0m22.5,3.7h0m5.3-14.1h0m-62.8,49h0m-12.6,2.2h0m58.2,12.7h0m25.2,12.6h0m-53,9.7h0m-23.1-6.7h0m68.1,22.3h0m-66.8,4.4h0m66.2,15.6h0m18.5,84h0m-37.7,60.9h0m-15.2,94.4h0" fill="none" stroke="#fc9f76" stroke-width="6.9" stroke-linecap="round"/>
<path d="M476.17,1070.8V1813.9" stroke="#4a4a4a" stroke-width="2" stroke-dasharray="16 10" fill="none"/>
<path d="M150.1,1680.14H811.5" stroke="#4a4a4a" stroke-width="2" stroke-dasharray="16 10" fill="none"/>
<g stroke="#262626" fill="none">
<rect x="150.1" y="1070.8" width="661.4" height="743.1" stroke-width="3.8"/>
<path d="M150.1,1070.8v-12.6M150.1,1813.9v12.6M282.38,1070.8v-12.6M282.38,1813.9v12.6M414.66,1070.8v-12.6M414.66,1813.9v12.6M546.94,1070.8v-12.6M546.94,1813.9v12.6M679.22,1070.8v-12.6M679.22,1813.9v12.6M811.5,1070.8v-12.6M811.5,1813.9v12.6M150.1,1813.9h-12.4M811.5,1813.9h12.4M150.1,1665.28h-12.4M811.5,1665.28h12.4M150.1,1516.66h-12.4M811.5,1516.66h12.4M150.1,1368.04h-12.4M811.5,1368.04h12.4M150.1,1219.42h-12.4M811.5,1219.42h12.4M150.1,1070.8h-12.4M811.5,1070.8h12.4" stroke-width="3.8"/>
<path d="M183.17,1070.8v-4.4M183.17,1813.9v4.4M216.24,1070.8v-4.4M216.24,1813.9v4.4M249.31,1070.8v-4.4M249.31,1813.9v4.4M315.45,1070.8v-4.4M315.45,1813.9v4.4M348.52,1070.8v-4.4M348.52,1813.9v4.4M381.59,1070.8v-4.4M381.59,1813.9v4.4M447.73,1070.8v-4.4M447.73,1813.9v4.4M480.8,1070.8v-4.4M480.8,1813.9v4.4M513.87,1070.8v-4.4M513.87,1813.9v4.4M580.01,1070.8v-4.4M580.01,1813.9v4.4M613.08,1070.8v-4.4M613.08,1813.9v4.4M646.15,1070.8v-4.4M646.15,1813.9v4.4M712.29,1070.8v-4.4M712.29,1813.9v4.4M745.36,1070.8v-4.4M745.36,1813.9v4.4M778.43,1070.8v-4.4M778.43,1813.9v4.4M150.1,1776.75h-4.4M811.5,1776.75h4.4M150.1,1739.59h-4.4M811.5,1739.59h4.4M150.1,1702.44h-4.4M811.5,1702.44h4.4M150.1,1628.12h-4.4M811.5,1628.12h4.4M150.1,1590.97h-4.4M811.5,1590.97h4.4M150.1,1553.82h-4.4M811.5,1553.82h4.4M150.1,1479.51h-4.4M811.5,1479.51h4.4M150.1,1442.35h-4.4M811.5,1442.35h4.4M150.1,1405.2h-4.4M811.5,1405.2h4.4M150.1,1330.88h-4.4M811.5,1330.88h4.4M150.1,1293.73h-4.4M811.5,1293.73h4.4M150.1,1256.58h-4.4M811.5,1256.58h4.4M150.1,1182.26h-4.4M811.5,1182.26h4.4M150.1,1145.11h-4.4M811.5,1145.11h4.4M150.1,1107.95h-4.4M811.5,1107.95h4.4" stroke-width="2"/>
</g>
<text x="138.8" y="1866.5" font-size="33.5" text-anchor="middle" fill="#262626">20</text>
<text x="271.08" y="1866.5" font-size="33.5" text-anchor="middle" fill="#262626">22</text>
<text x="403.36" y="1866.5" font-size="33.5" text-anchor="middle" fill="#262626">24</text>
<text x="535.64" y="1866.5" font-size="33.5" text-anchor="middle" fill="#262626">26</text>
<text x="667.92" y="1866.5" font-size="33.5" text-anchor="middle" fill="#262626">28</text>
<text x="800.2" y="1866.5" font-size="33.5" text-anchor="middle" fill="#262626">30</text>
<text x="134.5" y="1825.7" font-size="33.5" text-anchor="end" fill="#262626">0</text>
<text x="134.5" y="1677.08" font-size="33.5" text-anchor="end" fill="#262626">2</text>
<text x="134.5" y="1528.46" font-size="33.5" text-anchor="end" fill="#262626">4</text>
<text x="134.5" y="1379.84" font-size="33.5" text-anchor="end" fill="#262626">6</text>
<text x="134.5" y="1231.22" font-size="33.5" text-anchor="end" fill="#262626">8</text>
<text x="134.5" y="1082.6" font-size="33.5" text-anchor="end" fill="#262626">10</text>
<text x="484" y="1911.2" font-size="33" text-anchor="middle" fill="#262626">SST (°C)</text>
<text transform="translate(83 1446) rotate(-90)" font-size="33" text-anchor="middle" fill="#262626">Niño 3 precipitation (mm/day)</text>
<text x="153" y="1051.3" font-size="40" text-anchor="start" fill="#000" font-weight="bold">e</text>
<text x="799.5" y="1049.3" font-size="29" text-anchor="end" fill="#000">Dynamic ocean</text>
<text transform="translate(457.5 1183.5) rotate(-90)" font-size="30" font-style="italic" text-anchor="middle">SST mean</text>
<text x="190.6" y="1663" font-size="29.2" text-anchor="start" fill="#000" font-style="italic">precipitation mean</text>
<path d="M1438.7,1715.8h0m-33.1-113.3h0m-49.4,144.2h0m95.2-235.1h0m-11.1,45.1h0m-102.8,201.7h0m45-96.9h0m-51.2,118.9h0m-13.4-28.7h0m164.8-198h0m-99,160.9h0m55.1-27.6h0m-17.3-18.3h0m-14,86.1h0m-69.5,24.8h0m2.4-12.4h0m87.3-78h0m31.4-160.9h0m-181.3,248.2h0m67.5-37.4h0m47.2-85.8h0m63.1,34.5h0m-23.2-33.9h0m13,28.3h0m-28.1-76.7h0m-72.9,146.3h0m51.9-38.4h0m68.3-239.6h0m-50.9,110.1h0m-88.6,192.7h0m145.2-310.8h0m-41.8,157.6h0m13.1-54.3h0m-70.4,74.8h0m-8.5,100.2h0m-142.1,56.5h0m191.6-180.8h0m23.6,10.8h0m-33,70.6h0m2.1-100.2h0m46,17.5h0m-24.3,61.6h0m-0.5-80h0m-26-27.1h0m1.4,72.3h0m53.9-117.7h0m-56.6,188.3h0m-19.6-69h0m-8.2,97.3h0m26.2-31.7h0m17.4-73.6h0m16.6-5.4h0m-19.8,24.6h0m-26.7-46.6h0m-90.5,179.5h0m142.2-159.1h0m-94.8,103.8h0m53.3-45.6h0m66.7-138.9h0m-43.8,61.5h0m-64,94.6h0m86.6-117.1h0m-51.9,90.6h0m-13.1-17.5h0m88.3-16.2h0m-24.6-107.5h0m75.8-45.4h0m-179.5,189h0m69.3-52.3h0m22.8-41.8h0m39.4,95.8h0m-77.4-14.6h0m87.1-115.4h0m-63.1,65.2h0m-52.7,72.3h0m35.7-92.4h0m6.6,84.2h0m-4.8,32.7h0m-28.1,54.3h0m23.6-127.7h0m60.3-86.6h0m-3.9,62.5h0m37.5-79.2h0m-132.6,161.4h0m-14.8,48.6h0m153.6-204.2h0m-67.1,87.9h0m0.8,50.9h0m-74,59.2h0m73.9-98.1h0m-17.8,24.2h0m-1.9,15.8h0m55.1-146.2h0m-106.1,120.2h0m57.9-76.1h0m-127.7,218.1h0m141.6-145.5h0m-93.6,115.1h0m149.3-184h0m-167.2,142.1h0m161.1-130.1h0m-125,83.2h0m-56.3,116.4h0m119.6-86.5h0m0.4-52h0m-72.2,111.3h0m-22.4-3h0m-91.3,39.4h0m153.6-108.3h0m38.1,22.6h0m-160.5,84.7h0m149.2-131.8h0m65.6-83h0m-193.2,213.3h0m150-114h0m-0.8,6h0m-66.1-47h0m54.7-88.7h0m-87.8,158.8h0m94.3-79.9h0m49.4,43.2h0m-93.5-96.3h0m-17.6,130.4h0m-103.1,84.6h0m222.5-316.3h0m0.1,47.6h0m-111.7,222.9h0m34.9-142.6h0m-10.3,65.1h0m69.4-134.5h0m-169.1,256.4h0m140-201.3h0m-196.4,207.7h0m195.3-277.2h0m-79.6,171.2h0m107.7-192.4h0m-33.1,85.3h0m-65.9,56.1h0m-8.1,102.1h0m-31.8,14.2h0m152.5-210.4h0m-23.3-69h0m-88.9,218.5h0m-50.5,87.4h0m113.4-200.7h0m-25.5-30.5h0m-29.7,178.9h0m35.3-21.1h0m28.1-71.2h0m-36,9.7h0m34-83.5h0m-32.7-7.7h0m15,53.5h0m-47.3,54.1h0m72.9-149.3h0m-31.8,58.1h0m-26.4,138.7h0m28.3-89.8h0m-23.9,111.8h0m2.4-62.5h0m38.7-144.2h0m16.3-37h0m-153.8,283.3h0m98.9-96.8h0m15.4-65.8h0m-76,131.4h0m94.8-80h0m-37.1,68.2h0m-18.4,21.3h0m-88.5,44.2h0m25.3-59.8h0m100.6-167.8h0m74-104.6h0m-103.8,279.8h0m-123.2,47.5h0m207.2-243.8h0m-49.9,84.4h0m47.2-67.9h0m-94.7,154.1h0m81.6-63.7h0m-24.7-24.2h0m-99.7,133.6h0m60.1-54.8h0m27.6-56.4h0m-61.5,94.8h0m112.2-201.3h0m-81.2,98.2h0m68.2-27.6h0m-58.5,97.8h0m47.7-102.9h0m-4-3.1h0m-161.4,156.6h0m117.5-109h0m51.9-39.6h0m-57.4-28.5h0m89.7,35.4h0m-8-49.5h0m-109.4,93.4h0m57.7-117.9h0m19.6-21.3h0m-69.6,200.7h0m115.5-245.9h0m-34.2,144.4h0m-35.6,17.7h0m-52.8,86.6h0m-5,27.4h0m7.5-61.8h0m85.4-104h0m-93.5,45.3h0m98.3-79h0m-132.4,216.9h0m48.8-92.2h0m92.9-50.2h0m-38.9,56.8h0m-69.2,75.2h0m50.2-73.9h0m1.2-79.3h0m40.1-14.2h0m-92.1,157.8h0m38.4-105.9h0m7.8-71.7h0m27,84.3h0m-32,14.2h0m-84.8,92.7h0m12-2.4h0m144.1-196h0m-87.2,133.1h0m34.6-18.6h0m-4.3-16.8h0m18.7-82.7h0m43.8-31.5h0m-61.7,79.3h0m38.3-26.8h0m-13.3-33.5h0m-12.8,110.6h0m-84.6,41h0m43.9-69.7h0m72.8-81.5h0m-64.6,65.9h0m-2.2,64.3h0m4.2,14h0m-61.3,18.8h0m26.5-75.6h0m61.7,22.5h0m-65.8,66.9h0m-27.6-5.6h0m119.3-149.3h0m4.5-15.2h0m-45.2,0.4h0m-59.3,192.6h0m111.8-140.9h0m-26.4,60.8h0m-127.9,67.2h0m45.6-26.8h0m-36.4,38.8h0m-49.5,24.5h0m205.5-267.2h0m5.9,68.9h0m-217.8,192.7h0m178.8-121.4h0m-38.8-20.7h0m23.4,58.5h0m27.3-173.5h0m1.1,45.8h0m-43.6-3.9h0m-34.5,170.2h0m67.5-82.4h0m46.7-123.3h0m-164.8,215.8h0m37.4-16.3h0m36.2-8.9h0m-43.8,13.9h0m30.2-42.5h0m70.3-92.7h0m-25.2,51.7h0m-31,5.1h0m8.6-18.8h0m-45.5,29h0m86-35.4h0m-70.7,81.8h0m-40,29.7h0m37.6-3.5h0m32.6-55.8h0m70.9-156.2h0m-73.1,58.8h0m-23.3,72.3h0m117.8-147.3h0m-93.7,135.2h0m65.5-68.1h0m-37.9-14.1h0m9.2,1h0m-108,170.6h0m92.7-132.1h0m-49.5,57.9h0m-43.9,110h0m93.1-114.1h0m-31.3-45.8h0m16.1-24.5h0m44.4-109.4h0m-213.1,296.8h0m177.6-123.2h0m-124.1,112.6h0m-11.4,6.3h0m116.5-192.9h0m-29.2,139.1h0m-139,65.6h0m161.3-44.7h0m16-69.3h0m52.1-114.5h0m-9.2,93.4h0m-55.9-18.1h0m-103.3,134.4h0m94.4-84.8h0m36.3-34h0m12.7,28.1h0m13.1-142.4h0m-39.3,149.1h0m13.9-39.8h0m-53.8,82.2h0m11.9-51.8h0m50.3,6.6h0m18.3-118.1h0m-125.3,185.9h0m51-110.2h0m15.1-66.5h0m47.7,29.5h0m-33.1,25.6h0m100.1-184h0m-90.1,227.6h0m-52.3,41.9h0m32.4-112.8h0m-20,134.7h0m23.7-17.8h0m24.8-161.4h0m52-84.2h0m-3,175h0m-35.8-119.7h0m-96,206.3h0m91.7-118.6h0m-74.3,127h0m42.6-89.7h0m31-63.2h0m-27.1,84.2h0m91.4-43.8h0m-87.7-4.1h0m-21.7,11.5h0m6.1,62.6h0m61.2-52.7h0m-157.1,128h0m80.9-49.3h0m-44.5,8.5h0m54.4-129.3h0m-104.3,174.7h0m102.1-138.4h0m63.4-113.4h0m-94.2,148.8h0m101.6-143.4h0m-98.1,138.2h0m32.9,72.8h0m-66.1,42.5h0m105.7-129.1h0m-2.9-56h0m-17.6,8.8h0m39,50.5h0m-75.9,90.3h0m111.6-261h0m-72.8,69.9h0m-59.9,182.3h0m33.3-55.4h0m14.2-140.9h0m-74.7,158.4h0m9.4,74.2h0m144.6-268.9h0m-48,145.4h0m23.5-89.2h0m48.2-95.2h0m-60.4,203.2h0m-83.9,75.9h0m92-170.7h0m-86,143.2h0m100.3-145.3h0m-22.6,45.1h0m22.7-64.7h0m-107.7,170.9h0m-67.1,40.1h0m136.8-121.9h0m21.1-2.3h0m-35.2,27.9h0m-25.7,72.2h0m1.2-56.1h0m-3.8-34.9h0m54.8,51.8h0m-122.1,43.4h0m75.1-142.6h0m48,81.9h0m-32.7,1.5h0m-29.4-19.8h0m4.6-29.5h0m47.4,2h0m16.2-13.8h0m-140.3,156.3h0m192.6-292.6h0m-71.3,147.1h0m-22.3-30.6h0m-68.7,132h0m23.6-77.9h0m85.6-16.7h0m-17.2-21.8h0m-152.1,159.1h0m70.1-55.7h0m47-153.6h0m-52.4,164.7h0m145.9-169.5h0m-26.3-13h0m-84.2,136.8h0m-78.8,65.7h0m112.8-89h0m-30.2,39.7h0m-4.8,15.8h0m-48.7-9.3h0m112.1-52.6h0m-38.3-98.5h0m59.4-2.9h0m-14.5,9.2h0m-67.8,167.6h0m33-94.7h0m-48.7,89.1h0m47.7-39.5h0m-69.6,55.2h0m98.2-186.1h0m-186.6,222.3h0m170.2-180.2h0m-20.6,2.9h0m40.5,26.7h0m-98.7,121.3h0m69.5-95.6h0m24.1-58.9h0m-38.2,25.9h0m13.4-49.6h0m-10-11.8h0m-23.3,145.2h0m-4.1-48h0m-67.9,109.5h0m110.5-99.7h0m-11.5-3.9h0m71.8-155.8h0m-122.7,251.6h0m123.1-310.8h0m-17.6,78h0m-216.4,261.2h0m158.5-116.6h0m66.8-152.8h0m-64.7,189.4h0m39.1-73.1h0m11.2-46.4h0m-94,130.2h0m68.7-90.4h0m-30.3-42.3h0m67.8-74.7h0m-235.1,267.8h0m153-168.9h0m-50.2,151.4h0m62.4-91.4h0m30.7-108.3h0m-8,90.2h0m-18.2-37.2h0m48.7-131.9h0m-91.8,230.7h0m92.7-200.9h0m-40.2,168.1h0m-84.6,99h0m92.7-151.4h0m6.2-11.9h0m-12.9-42.3h0m-83.4,195.9h0m77-158.8h0m88.8-147.9h0m-4.7,18.6h0m-139.8,242h0m45.4-41.7h0m-20.8,39.8h0m-64.3,26.6h0m-2.9,13.1h0m90.2-162.5h0m67.2-55.5h0m-13.2,80.4h0m13.8-72.7h0m25-124.9h0m-126,233h0m27.1-86.6h0m-92.1,198.4h0m84.9-163.4h0m39.7-49.3h0m36.1,38.8h0m-129.8,159h0m32.3-33.2h0m28.1-136.9h0m-2.6,44.9h0m-93.5,134.4h0m137.7-163.5h0m-52.7,69h0m-0.2,48h0m-19.4,35.4h0m32.9-68.6h0m-28.1,13.5h0m28.4-56.5h0m70-135.5h0m-64.7,130.9h0m26.8-25.6h0m-20.9,36.9h0m-97.5,114.3h0m-32.8,11.1h0m157.5-208.8h0m-75.2,88.3h0m33.4-22.3h0m-30.6,15.3h0m-41.5,124.2h0m150.8-171.3h0m1.1-18h0m-146.7,171.8h0m53.6-15.4h0m45.7-177.1h0m-92.3,221.1h0m61.9-133.9h0m28.6-17.1h0m66.7-197.8h0m-190.4,345.3h0m112.7-144.1h0m-79.7,111.5h0m-88.8,40.4h0m197.6-150.1h0m-167.8,136h0m113-67h0m60.6-132.6h0m-30.4-12.9h0m-27.2,144h0m71.3-81.6h0m-81.3,80.2h0m-13.6,48.5h0m105.6-150.9h0m-56.7-69.9h0m-54.9,208.6h0m-28.3-7.7h0m45.4-11.2h0m84.9-128.2h0m-85.6,109.9h0m40.1-34.9h0m60.9-49.2h0m-0.6-137h0m-157.9,268.4h0m150.3-194.1h0m-246.6,227.8h0m218.1-225.5h0m-121.3,210.9h0m45.7,1.6h0m10.4-51.2h0m-8.2-41.9h0m40-53.9h0m-25.4,4.4h0m108.3-192.6h0m-96.9,191.1h0m-50.9,126.6h0m75.1-198.2h0m-52.8,186.5h0m43.3-212.1h0m-29,168.2h0m31.7-4.5h0m17.2-2.6h0m26.1-78.6h0m19.6-135h0m-27.7,73.4h0m-43,46.7h0m-28.3,26.3h0m-36.6,120.8h0m139.5-179.3h0m-94.8,89h0m5.1,33.3h0m31.1-171.7h0m31.5,16.2h0m31.1-105.7h0m-43.1,211.4h0m-108.4,84h0m108-83.6h0m-41.3,2.1h0m-23.7-41.9h0m87-4.2h0m-60.5,115h0m7.5-49.7h0m42.7-7.1h0m-15.1-52h0m4.5-49.7h0m-15.5,145.7h0m-48.6-28.8h0m1.7,14.6h0m25-58.4h0m8-54h0m47.2,2.2h0m-137.2,207.7h0m95.9-250.9h0m-185.9,257.5h0m238.5-280.5h0m-19.6,176h0m-77.8,65.5h0m8.5-47.4h0m21.9,24.2h0m-48.5-39.6h0m64.8-79.2h0m33.3,41.1h0m-114.2,112.6h0m72.7-122.5h0m-58.6,82.6h0m-49.9,46.6h0m76.8-40h0m44.3-198.5h0m-7.3,139.6h0m-43.8,40.8h0m61-147.9h0m-47.3,194.7h0m58.5-157.8h0m-120.1,150.9h0m54.3-90.7h0m88.1-70.8h0m13.7-23.3h0m1.8,2h0m-130.1,166.6h0m68.7-172.6h0m87.4-90.2h0m-61.8,145.9h0m-105.3,139.6h0m101.5-152h0m-40.5,55.1h0m35-29.7h0m-55.8,106.1h0m46.5-186.9h0m-1.4,169.2h0m-63.9-0.6h0m76.9-95.9h0m-66.4,64.7h0m1,45.8h0m-37.9-22.3h0m103.9-49.1h0m-41.9-7h0m-103.7,121.7h0m55.2-84.2h0m77.8-107.3h0m-13.2,105h0m4-70.9h0m-45.1,77.6h0m43.5-76.3h0m-1.7,9.7h0m40.7-36h0m-47.1,95.7h0m77.9-95.1h0m-85.6,45.2h0m44.2-94.1h0m42.9,30.5h0m-157.4,153.6h0m64.8-162.1h0m82.7-51h0m-75.9,181.6h0m-10.9,30.9h0m101.4-265.3h0m-9.8,67.7h0m-48.1,25.6h0m-46.1,97.2h0m65.9-68.1h0m-69.9,118.5h0m106-198h0m-143.5,231h0m-2.2,6.4h0m-32.7,28.5h0m92.3-190.1h0m67.1-121.6h0m-62.8,167h0m59.2-109.9h0m-32.3,165.4h0m-1.3-39.8h0m2,11.7h0m-19.6-57.8h0m-32.2,101.4h0m67.4-94.9h0m-2.4,15.4h0m18.5,28.5h0m-40.8,2.9h0m25.7-3.8h0m-65.2-3.1h0m62.7-108.8h0m-106.4,198.6h0m-23.9,32.7h0m138.1-212.2h0m-57.4,53.4h0m27.8,29.4h0m-11.6,65.1h0m7.8-53.8h0m-161.2,121.7h0m125.5-113h0m27.8,18.9h0m-44.9,37.6h0m45.2-93.8h0m-42.5,54.7h0m38.7,56.9h0m19.2-20.3h0m-46.3,30.4h0m-100.2,26.9h0m150.5-215.3h0m-8.2,114.6h0m-29.2,31.3h0m7.2,3.5h0m-62.5,36.8h0m87.1-217.5h0m-4,5.4h0m19.4,18.9h0m-42.6,70.3h0m-108,136.2h0m29-34.4h0m74.1-59.1h0m93.3-112.4h0m-102,132.1h0m57.4-91.4h0m-40.4,72.5h0m26.6-28.9h0m-7.9-49.8h0m-74.6,111.2h0m69.5-50.4h0m58.4-69.9h0m-145.9,200.9h0m68.8-124.6h0m26.3,42.7h0m-8.4-117.2h0m17,53.9h0m-86,124.7h0m151.1-211.4h0m-47.4,105.3h0m5.9-16.4h0m13.1-18.4h0m-85.7-32.6h0m65-24.5h0m-66.8,125.2h0m24,17.3h0m40.8-96.1h0m18.1-51.9h0m-50.5,102.9h0m-29.1,27.5h0m13-17.7h0m81.9-132.8h0m-63.5,166.8h0m-156.4,95.3h0m203.7-232.8h0m-10.1,1.4h0m-110,185.8h0m-26,16.9h0m57-64.8h0m67.9-128.3h0m-72.1,139.1h0m-84.8,75.8h0m172.8-157.8h0m36.7-125.3h0m-133.9,245.4h0m58.3-88.9h0m-24.4-6.1h0m4.4-79.6h0m-36.4,164.6h0m45.6-142.9h0m47,70.2h0m-27.4-14.9h0m-176.4,141.5h0m66.3-33.1h0m56-36.6h0m57.5-101.7h0m14.8-6.5h0m35.9-149.3h0m-17.2,58.9h0m-194.2,260.9h0m101.6-25.1h0m78.2-235.4h0m-5.1,85.1h0m-87.8,148.7h0m84.2-78.8h0m-0.4-27.5h0m-52.7-80.2h0m-29.8,67.6h0m98.3-132.8h0m-117.5,256.9h0m56.7-125.7h0m75.6-86h0m-77.6,99.3h0m-104,128.7h0m112.4-116h0m-67.8,69.8h0m40.2-5.5h0m7.1-27.8h0m55.5-45.8h0m27.2-117.8h0m-122.4,222.9h0m-5.2,10.3h0m51.2-26.5h0m98.2-216h0m-34.8,103.8h0m-134.5,137.9h0m79.9-66.7h0m-18.3-75.9h0m33.9,20.5h0m3.7,29.7h0m4.4-37.7h0m21.7-39.3h0m65.2-120.4h0m-153.9,254.1h0m-17.3,24.9h0m102.8-186.9h0m-63.7,195.4h0m70.5-105.5h0m-118.9,123h0m2.8-57.3h0m27.3-26.6h0m-24.2,79.7h0m36.6-41.9h0m80.2-112.5h0m-119.5,124.1h0m29.6,23.2h0m88.6-226.9h0m-64.9,112.3h0m25.8-17.3h0m30.3-77.9h0m4.7,25.4h0m-41.4,39.5h0m-28.2-51.7h0m-94.1,215.5h0m134.3-180.8h0m28.4-45.5h0m-4.8,100.5h0m-157.5,113.1h0m128.4-170.1h0m15.7,19.6h0m-25.6,38.7h0m-117.6,115.1h0m51.2-17.1h0m-41-11.5h0m156.4-143h0m27.1-75.5h0m-96.9,120.4h0m-91.9,136.9h0m65.3-66h0m93.7-61h0m-41.6-76.1h0m53.6-21.1h0m-146.7,208.7h0m125.5-97.2h0m-63.2,48.3h0m43.8-76.3h0m37-52.2h0m-33-29.3h0m72.4-5.6h0m-82.6,145.6h0m0.9-1h0m-108.3,70.1h0m118.5-169.7h0m-110.2,178.3h0m130.3-135.4h0m-68.7,79.5h0m65.6-102.7h0m-34.9-9h0m-23.6,108.1h0m-26.8-11.2h0m39-79.2h0m99.2-173.7h0m-76.2,107.4h0m27.7-41.9h0m44.7,16.8h0m0-23.5h0m-73.9,152.5h0m-78.8,11h0m-49.1,98.8h0m185.4-190.7h0m-110.4,149.5h0m97.5-179.1h0m15.6-6h0m-25.7,75.6h0m53.4-150.7h0m-32.4,162h0m-100.8,88.6h0m21.2-70.9h0m-8.9-1.2h0m-111.9,128.5h0m182.9-131.5h0m-38-57.8h0m31.8-2.3h0m-73.9,59.9h0m4.4,33.9h0m-30.3,85h0m72.6-147.2h0m-79.8,79.9h0m96.6-69.7h0m38.1-42.1h0m-35.4-11.4h0m-62.7,57.6h0m37.5,15.6h0m-31.9,56.6h0m21.8-44.7h0m67.1-93.7h0m-77.2,114.8h0m-66.8,50.2h0m-2.7,27.2h0m134.5-169.6h0m-57.8,53.5h0m20.5-75.4h0m-82.1,161.5h0m32.5-77.6h0m-63.8,101.2h0m145.5-165.1h0m-94.8,161.7h0m117.3-144.1h0m-90,34.2h0m64.6-56.1h0m-58.6,113.9h0m-35.5,32.3h0m79.6-132.3h0m-27.6,71h0m-43.2,24.6h0m76.3-83.8h0m-2.4-82.5h0m-86.4,209.5h0m133.7-201.2h0m-64.1,82.6h0m-145.7,160.5h0m184.6-206.9h0m-50.2,74.9h0m-61.1,115.5h0m5.5-114.9h0m89.8-94.2h0m11.6-16.6h0m-134.8,178.8h0m74-80.5h0m-58.3,87.2h0m132.1-245.2h0m-146.4,268.6h0m13-7.8h0m78.9-69h0m51.6-158.6h0m-49.1,144.5h0m25-54h0m-43.9,9.5h0m-9.3,96h0m44.2-84.8h0m-36.5,96.2h0m27.1-94.3h0m-80.1,116.4h0m82.7-181.9h0m3.3,27.4h0m2.1-45.8h0m-23.7,119.9h0m-101.4,107.3h0m91.3-103h0m-34.1-4.5h0m41.5,29.2h0m10-97.7h0m-20.5,101.6h0m68.6-126h0m1.9-37.2h0m-70.9,110h0m14.6,71.9h0m-171.6,61.8h0m193.1-127.8h0m-54,70.3h0m-20-8.6h0m38.3-64.8h0m-42.6,98.3h0m1.2-6.7h0m110.5-150.6h0m-64.6,2.7h0m-19.5,145.5h0m33.5-136.9h0m48,66.1h0m-4.3-102.9h0m-192.2,198.6h0m161.8-258.5h0m-45.7,145.4h0m70.6-87.4h0m-53.3,97.4h0m29.1-34.1h0m-57.7,80.9h0m81.8-81.5h0m-152,128.4h0m140.4-174.8h0m-103.1,193.2h0m16.3-62.8h0m91.2-63.8h0m-134.6,115.8h0m45-68.9h0m6.3,16.7h0m19.6,20.7h0m75-149.7h0m54.7-144.8h0m-97.9,240.7h0m68-102.9h0m-169,202.7h0m86.4-185.3h0m-72.4,176.6h0m45.8-26.8h0m-24.6,5.3h0m115.8-181.6h0m31-53.7h0m-74.5,24.6h0m44.3,47.9h0m-63.6,71.4h0m11.9-92.1h0m55.4,44.3h0m-174.8,171.7h0m215.7-176.1h0m-99,61.8h0m-135.6,112.7h0m143.4-97.4h0m-46.6,12.4h0m-4.5-27h0m-11.7,57h0m32.3-35.4h0m-24.6-0.2h0m15.9-54.4h0m-16.8,41.1h0m-113.7,105.4h0m181.3-193.1h0m3-22.9h0m-60.8,132.3h0m-37,70.9h0m-22.7-4.5h0m144.1-156.5h0m-84,80.6h0m91.2-200.1h0m-22.6,71.8h0m-17.5,55.7h0m-45,16.3h0m-28.4,39.7h0m-88.6,108.3h0m144.7-161.3h0m-66.8,126.7h0m56.4-58.8h0m11.4,26h0m-132,69.9h0m118.2-43.6h0m29.8-101.9h0m-131.7,154.4h0m127.3-164.4h0m-28.8,36.6h0m-28.8,99.2h0m35-38.2h0m42.7-220.6h0m33.7,86.6h0m-173.3,186.7h0m133.4-256.3h0m82.4-53h0m-33.4,22.1h0m-49,61.7h0m-117.8,223.8h0m131-132h0m-40.7,53.1h0m-44.6,57.1h0m143.9-318.3h0m-72,137h0m-13.1,87.1h0m51.8-194.5h0m-123.2,318.8h0m21.7-144.9h0m38.5-18.9h0m45.4-34.5h0m-13.8,100.3h0m-152.7,91.9h0m114.1-142.2h0m28.3-64.3h0m-153.1,210h0m110.1-181.4h0m37.2-51h0m4,25.9h0m-132.7,208.8h0m23.5-14.8h0m95.1-219.1h0m-48.3,147.1h0m25.8-128.8h0m68.3,27.3h0m35-70.6h0m10.4-14.3h0m-138.8,210.7h0m-16.3,23.9h0m29.1-8.2h0m96.5-121.3h0m-181.7,170.3h0m68.3-82.9h0m18.4-3.3h0m-31.5,37.5h0m34.2-13.6h0m80.9-178h0m-25.6,93.2h0m-76.6,115.7h0m-121.6,37.6h0m182.5-213h0m-45.3,179.8h0m86.4-198.9h0m-24-36.4h0m-54.6,203.2h0m-126.1,64.9h0m151.9-256.7h0m19.1,79.4h0m-108.8,151.3h0m155.4-196.9h0m-106.1,79.4h0m-87.2,127.4h0m-54.4,7.8h0m253-353.3h0m-159.9,298.1h0m123.3-175.3h0m-161.6,239h0m190-339.1h0m14.1,131.1h0m-174.7,187.8h0m-10.6,11.9h0m138.3-106.7h0m-66.2,71h0m18.9-38h0m-96.8,70.7h0m101.1-139.5h0m-72.3,127.6h0m129.2-203.8h0m-153.5,227.6h0m45.7-62.9h0m123.1-175.8h0m-80.9,65.9h0m-43.3,120.7h0m49.9-99.7h0m-4.5,37.3h0m-1.3-85h0m62.4-15.5h0m-12.7,29.5h0m-39,116.8h0m-38.1,5.6h0m137.1-148.9h0m-52.2-72.7h0m-24.9,38.6h0m-13.8,53.7h0m19.6,23.7h0m-1.5-3.3h0m12.2,40.5h0m-8.2-11.8h0m-9.7-8.3h0m19.7-106.1h0m-39.9,177.6h0m4.4-109h0m38.1,36.2h0m-23,58.7h0m-52.8,36.9h0m92.3-173.7h0m-15.9,8.1h0m-72.5,174.4h0m53.7-65.8h0m9.1,5.2h0m-40,0.2h0m51.8-150.6h0m-222.6,257.1h0m162.1-59.5h0m-69.6,53.1h0m-14.4-44.2h0m148.5-82.6h0m64.3-187.4h0m-190.8,307.1h0m79.1-87.4h0m55.5-57.7h0m-193.9,151.2h0m163.5-218.8h0m32.4,51.6h0m-226.2,174.2h0m219.9-236.2h0m5.6,58.4h0m-37.7,32.5h0m-32.9,41.5h0m30.4-60h0m26.8-122.9h0m-16.8,22.6h0m24.3,82.6h0m-79.8,111.5h0m-3.7,33.4h0m-26.3-33.8h0m89.3-108.7h0m32.3,6h0m37-51.1h0m-8.3-33.9h0m-181,230.5h0m121.5-144.9h0m-95.4,158.7h0m122.1-137.5h0m-126,120.7h0m90.3-69.2h0m26.7-96.5h0m31.8-52.7h0m-56.5,71.2h0m-43.6,25.8h0m-104.2,141.1h0m28.5-48.2h0m161.8-81h0m-47.2-91.1h0m-13.1,16.4h0m36.3-37.6h0m13.2,11.7h0m50.9-46.1h0m-91.7,78.9h0m46.5,13.9h0m-29.6-72.3h0m-16.5,11.4h0m-80.6,178.7h0m91.6-74.8h0m-90,102.6h0m-12.3,30h0m141.4-183.2h0m-128.7,129.3h0m-42.5,73.5h0m56-27.2h0m33.9-202.2h0m-61.2,204.5h0m122.7-278h0m-14.9,96.3h0m3.3-1.7h0m14.6,41.2h0m-93.9,110.7h0m91.9-128.1h0m-67.3,13.7h0m-25.8,103.1h0m-42.4,32h0m74.8-108.2h0m-54.3,113.4h0m109.2-135.5h0m-8.5,48h0m-112.2,59.8h0m-7.2,21h0m113.9-105.5h0m-64.3,17.8h0m55.1-147.2h0m2.8,4.9h0m4.1,76.7h0m-18.3,79.7h0m-6.8-100.3h0m-5.7,122.7h0m-15.2-45.3h0m7.1-8.6h0m-22,75.6h0m37.7-1.4h0m66-222.9h0m-24.8,65.9h0m-112.4,187.8h0m56.6-127.9h0m14.1,44h0m-135.7,107.4h0m61.3-17.6h0m115.8-225.6h0m-42.8,66.6h0m80.9-82.1h0m-115.7,166h0m93.4-157.8h0m-66,207.1h0m-69.5,32.1h0m86-126h0m41.8-52.3h0m-36.6,87h0m-17.2-62.6h0m38.7-53.9h0m-103.3,193.5h0m47-33.4h0m-16.4-56.2h0m77.6-159.3h0m-122.8,261.4h0m100.5-131.9h0m-65.2,62.3h0m49.8-47.2h0m-73.4,131.9h0m72.1-187.5h0m32.1-77.9h0m37.1,79h0m-122.7,143.9h0m58.7-41.9h0m85.9-212.1h0m-39.7,24.9h0m-60.2,192h0m67.9-111.4h0m19.2-26.7h0m-25.7,11.7h0m-85.2,161.8h0m81.2-86h0m-36.1,0.8h0m-9.4-36.9h0m35.4,29.9h0m-8.5-68.4h0m-17.9-43.9h0m25.6,126h0m16.2-25.4h0m-134.7,108.1h0m22.6-50.5h0m128.1-67.6h0m-0.2-80.7h0m-41.3,166.3h0m-116.9,21.2h0m144.5-158.4h0m-42.5,119.9h0m31.3-100.7h0m-27.6-24.7h0m-34.8,0.5h0m96-76.4h0m-70,153.7h0m40.2,10.9h0m-146.1,118.4h0m115.6-250.4h0m71.2,100.6h0m-61.4-13.2h0m24.1-32.3h0m14.1-26.4h0m16.8,2.8h0m-66.6,67.3h0m-57.9,96.4h0m99.3-150.4h0m-113.1,204.4h0m11.2-84.7h0m123.8-74.7h0m-124.8,137.9h0m19.7-34.6h0m53.6-96.9h0m-115.9,161.2h0m47.1-67.8h0m69.6-54.9h0m-92.7,89h0m-23.3,26.1h0m28.5-5.1h0m109.1-242.4h0m-54.8,142.2h0m30.9-69.3h0m-4.3,3.4h0m-12.1,68h0m-22.8-81.5h0m18.8,47.9h0m-62.9,82.1h0m102.5-125.9h0m-9.7-30.7h0m-130.7,187.7h0m9.2,21.9h0m87.3-66h0m19.4-12.9h0m-67.2,67.9h0m41-43.8h0m44.8-118.1h0m29.3-79.8h0m-106.1,154h0m48.3-19.5h0m-58.1-20.5h0m48.1-2.3h0m-24.9-26.3h0m92.2-57.3h0m-98.4,75.2h0m7.9,72.5h0m-23.9,61h0m70.6-192.9h0m-25.6,135.9h0m-24.2,15.7h0m87-110.9h0m-62.1,40.3h0m98.3-206.3h0m-114.4,306.9h0m38.1-70.5h0m-11.7-116.6h0m-31.4,128.2h0m22.8-76.9h0m-7.7-26.4h0m1.9,27h0m28.1-10.5h0m0,29.4h0m-47.5,99.4h0m41.2-143h0m23.4-4.7h0m51.9-90.6h0m-39.7,57.5h0m-232.3,241h0m238.1-202.5h0m-51.7,84.5h0m-11.9-31.5h0m-64.5,123.5h0m-97,29.2h0m215.1-155.8h0m-21.7,3.5h0m27.4-60.4h0m-82,160.3h0m36.5-83.9h0m-30.1,53.8h0m-7.7-14.9h0m146.6-207.3h0m-148.5,169.6h0m64.6-1.6h0m-12.1,35.5h0m-92.2,59.2h0m45.9-20.1h0m63.4-176.9h0m-68.4,134.7h0m55.6-43.9h0m10.2,26.7h0m-10.4-33.3h0m-5.3-29.4h0m-9.1,101.6h0m-24.1,44.7h0m-64,33.2h0m110.7-123.6h0m23.9-32.5h0m-52.7-19.4h0m-1.9,32.5h0m18.3-114.6h0m-31.9,170.6h0m-126.8,95.1h0m73.4-63.6h0m-29.2,42.5h0m122.7-192.9h0m47.2-50.9h0m-74.4,135h0m82.4-90.7h0m-77.1,22.9h0m4.2-43h0m-19.4,114.6h0m-57.4,91.3h0m77.9-136.5h0m21.5-72h0m-41.3,2h0m-46.8,215.1h0m62-184.8h0m-52.3,165.6h0m22.8-72.2h0m-30.4,51.7h0m-24.9,22.2h0m39.9-64.9h0m24-73.4h0m-7.6,71.9h0m10.7-16.2h0m24.4,23.4h0m-156.2,83.9h0m200.5-131.4h0m-64.9-35h0m-155.9,186.3h0m110.3-55.2h0m-7.5-44.7h0m119.1-153.2h0m-7.2-56.1h0m-61.2,210.8h0m-53.9,46.3h0m18.4,7.9h0m-81.4,13.9h0m86.6-78.2h0m93.2-18.1h0m5-135.5h0m-89.6,170.5h0m60.3-197.8h0m-24.4,150.8h0m-8.4-10.5h0m-92.2,111.8h0m100.1-88.6h0m-88,114.8h0m55.3-45.5h0m112.3-170.1h0m-84.4,166.1h0m50-88.3h0m14.7-85.5h0m-96.9,149.1h0m38.1-22.4h0m1.3,27.5h0m60.2-261.5h0m-31.3,133.1h0m-19.6,152.7h0m42-185.9h0m-66.1,122.6h0m34.5-51.3h0m81.4-108.3h0m-141.3,143.5h0m40.5,36h0m43.4-79h0m12-37.9h0m-17.1-6.2h0m23.3,46.1h0m-42.2-108.6h0m-1.2,13.7h0m-3.6,58.6h0m-50.6,100.7h0m28.9-64.5h0m-39.5,70.7h0m58.6-49.3h0m-113.3,115.2h0m54.9-24.9h0m76.3-49.9h0m-28.8-41.7h0m55,21.8h0m7.1-101.6h0m-116.2,153.6h0m102.2-158.1h0m-131.7,173.4h0m45.1-101.3h0m91,4.8h0m-88.6,103.5h0m2.4-49.5h0m90.3-124.3h0m-36.7,71.6h0m-101.4,107.1h0m122.1-156.7h0m-12.7,66.6h0m35.3-90.7h0m-135.5,162.4h0m89.9-63.1h0m-43.6,19.1h0m53.7,2.8h0m-81.2,51.1h0m24.8-69.9h0m28.9,29.2h0m18-76.3h0m-35.4,86.3h0m89.1-245.7h0m-106.5,191h0m35,41.4h0m39-120.8h0m-36.9,167.4h0m-9.4-46.9h0m-90.1,69.3h0m151.8-214.1h0m-155.5,211.8h0m116.3-227.4h0m-63.8,153h0m-41.3,75.3h0m78.8-166.8h0m-17.6,16.1h0m-8.2,59.1h0m39.1-14.9h0m-57-13.8h0m24.7-5.2h0m64.2-5.6h0m19.7-116.4h0m-106.9,161.7h0m71.4-68.1h0m-2.8-4.7h0m-50.8,12.7h0m64-8.3h0m19.3-4.5h0m15.3-150.5h0m-96.1,220.9h0m65.4-142.4h0m-174.2,263h0m202.6-198.8h0m-78.3,50.5h0m-47.3,131.4h0m57.2-86.7h0m20.4-75h0m-38.5-41.4h0m70.9,112.1h0m-126.8,56.1h0m-15.1-4.5h0m-15.7,32.6h0m123.9-198.9h0m5.6,57.5h0m25.6-35.5h0m43.7-86.3h0m-29,75.8h0m-48.3,77.3h0m16.4-26.3h0m15.7-47.3h0m-118.1,173.2h0m98-36h0m-17.3-3.2h0m-5.5-135.4h0m23.7-27.1h0m-62.7,129.1h0m53.1-91.6h0m20.3-31.8h0m-55.3,176.2h0m-95.2,44h0m41.7-25.1h0m50.2-56.2h0m96-168.5h0m-21.7-9.1h0m-68,184.3h0m40.3-124.4h0m-76.2,127h0m93.4-79.9h0m-40.1,48.6h0m-44.4,22h0m70.1-149.6h0m-60.2,132.9h0m80.7-117.9h0m9.4,54.6h0m6.3-70.5h0m-98.5,99.1h0m-28,75.5h0m41.2-52.4h0m-43.9,61.3h0m129.5-188.3h0m-141.4,201.9h0m-110.4,47.7h0m131.2-76.8h0m-23.1,51.2h0m70.3-69.1h0m20.7-19.8h0m-16.6-53.4h0m-16.3,27.4h0m66.1-65.6h0m-53.9,68.6h0m68.5-22.1h0m-56.9-37.9h0m-58.7,124.5h0m121.7-132.7h0m-110.5,142h0m49.4-45.5h0m94.4-217.8h0m-99.9,166.8h0m-28.8,20.2h0m10.5,61.6h0m22.1-100.3h0m-30.9,44.8h0m-43.1,89.5h0m48.4-124.8h0m64.9-45h0m-30.4,25.2h0m6.2-13.9h0m63.9-20.3h0m-130.4,154.1h0m84.3-154.5h0m13.6,72.4h0m-35.4,11.4h0m-23.9,51.4h0m53.7-60.2h0m9.8-154.9h0m-106.7,166.3h0m92,13.4h0m37.8-140.8h0m-30.1,98.8h0m-14.3-40.9h0m-40.3-40.1h0m25,57.9h0m6.9,82.8h0m-80.3,67.9h0m115.5-99.5h0m-81.4,11.5h0m23.6-23h0m18.1-3.5h0m-70.5,87.6h0m20.9-48.5h0m97.5-95.9h0m-35.5,69.2h0m-110,84.9h0m21.4,21.6h0m57.1-182.4h0m-132.3,210.3h0m147-226.5h0m6.4,80.4h0m-60.7,68.3h0m35.7-40.9h0m-55.5,8.4h0m16.2,47.6h0m69.4-40.4h0m-63-28.3h0m-29.2,103.3h0m79.4-138h0m26.6-110h0m-72.6,194h0m28.4-52.3h0m52.4-114.6h0m-3.4,152.5h0m-16.1-96.2h0m40.2-156h0m-17.7,47.5h0m-62.9,97.9h0m74.2-25.6h0m-166,205.4h0m114.7-127.1h0m-11.3,44h0m35.8-71.8h0m-180,186.4h0m112.7-100h0m-4.9-105.6h0m72.6,25h0m-47.3,85.8h0m11.8-85.4h0m-23.3,27.8h0m30.3-4.4h0m46.4-52.8h0m-64.1,1h0m-25,60h0m-2.8,104.5h0m68.8-150.8h0m18.5,76.4h0m-77.7-49.9h0m40-70.2h0m-91.7,218.2h0m114.5-148.8h0m-13.3,68.3h0m-124.6,74.4h0m82-46.3h0m33-127.6h0m-104.8,180.6h0m167.4-212.7h0m-60.1,127.6h0m-119.9,100.3h0m-47.4-4.2h0m152.1-172.8h0m-25.5,81.4h0m31.1-47.2h0m-31.7-12.7h0m-108,159.5h0m177-221.6h0m3.9,71.7h0m49.7-178h0m-65.5,100h0m30.2,1.9h0m6.1-6.4h0m-51.9,79.5h0m-24.7,79.5h0m-16-60.5h0m59.2-103.8h0m-49.6,122h0m56-32.9h0m1.2-64.2h0m-29.8,87.4h0m22.3-108.2h0m-90.2,188.8h0m88.3-133.7h0m-57.3,111h0m38-184.4h0m-60.8,183h0m95.9-112.7h0m-53.3-4.3h0m61.2,20.9h0m-132.6,99.8h0m-2.9,43.6h0m52.6-137.6h0m-39.6,116.1h0m96.4-127.2h0m-66.2,121.2h0m-9.9,11.6h0m67.1-105.1h0m18.7-137.4h0m41.2-65.3h0m-112.2,264h0m-7.6-97.1h0m53.9,50.6h0m-55.8,96h0m86.9-249.8h0m-0.2,130.6h0m-6.9-27.7h0m-93,150.4h0m36.6-49.5h0m3.6-50.5h0m49-9.9h0m-44.9-13.7h0m0.7-57.5h0m28.6,62h0m-26.4,11.2h0m-12.8,18.4h0m78.2,0.3h0m-84.2,12h0m18.2-134.8h0m-2.6,77.7h0m88.8-126.2h0m-189,262.7h0m130.8-76.9h0m-3.9-5h0m-43.6-12.6h0m22.3-93.8h0m-3.8,86.9h0m48.3-1.5h0m-127.9,122.3h0m70.7-144h0m-143.6,151.3h0m66.2-3h0m145.3-196h0m18.8-49.9h0m-142.1,238.7h0m-61.8,16.1h0m54-25.1h0m73.3-180.2h0m92.7-99.6h0m-129.1,176.9h0m39.5-32.3h0m32.6-12.5h0m-5.3-3.6h0m-37.1,71.7h0m17.7,42.8h0m74.4-230.6h0m-69.6,80.1h0m-2.3,40.4h0m-33.1,57.7h0m23.2-27.6h0m-23.5,101.1h0m32.3-109.7h0m22.2,17.9h0m41.5-112.8h0m-96.1,125.4h0m100.6-134.7h0m-30.9,100.9h0m-89.6,59.2h0m39-5.1h0m-113.3,90.4h0m209.8-266h0m-191.7,217.4h0m110.8-163.7h0m35.7-32.3h0m9.2-1.5h0m-6.3,83.3h0m-19-55.4h0m-129.9,193.1h0m133-131.3h0m36.3-4.4h0m-13.5-110.5h0m5.7-9.8h0m-110.5,189.2h0m-83.7,78.3h0m61.9-19.1h0m-3.6-24.8h0m-34.6,50.2h0m95.6-99.2h0m48.6-27.2h0m7.1-116.2h0m-4.9,24.5h0m38.4-121.4h0m-195.9,339.7h0m181-151.9h0m-1.8-4h0m-172.5,162.1h0m152.6-125.7h0m-27.2-8.7h0m-82.9,108.3h0m122.3-206.6h0m-20.7-26.4h0m34.7,119.5h0m-83.4,16.6h0m74.1-97.3h0m-195.2,212.3h0m206-331.1h0m-92.6,156.3h0m79.3-116.4h0m-108.3,264.9h0m120.6-186.6h0m-64.6,97.3h0m-66.6,90.9h0m20.1-38.8h0m63.6-28.2h0m-112.6,80.6h0m21-57.6h0m28.8,48.8h0m5.9-40.7h0m33.6-81.3h0m-19.4,77.7h0m97.2-115.3h0m-68.4-31.7h0m-97.4,223.8h0m83-140.3h0m86.5-45.8h0m-23.3-54.8h0m-58.5,120.2h0m16.1-1.3h0m-144,110.8h0m93.2-75.5h0m-28.8,67.2h0m17.3-56.6h0m111.7-162.4h0m-8.2,79h0m-129.4,154.1h0m39.4-121.9h0m51.5,0.2h0m-11,15h0m-59.2,62.9h0m103.5-110.7h0m1.1-63.3h0m-43.9,76.5h0m-65.5,140.8h0m54.5-91.2h0m30.6-46.9h0m-148.9,119.7h0m162.6-190.7h0m-8.7,44.7h0m-53.1-8.6h0m88.5-49.4h0m-103.8,90.1h0m10.7,22.2h0m2.3,31.9h0m-14.1,38.2h0m98.6-167.5h0m2.5-82.3h0m30.5,64.6h0m-20.2-81.6h0m-83,183.5h0m77.1-56h0m18.9-117.6h0m-95.5,97.7h0m8.9,76.7h0m-24.8-3.6h0m60-40.7h0m34.6-139.1h0m5.4,49.5h0m-93.3,154.6h0m57.5-87.7h0m-20.9,75.8h0m-51.3,34.6h0m-39.1,41h0m90.2-174.5h0m-110.6,198.7h0m38.6-9.5h0m89.4-197.4h0m15.2,36.2h0m-38.2,51.1h0m41-80.5h0m-33.2-1.3h0m37.3-1h0m-81.9,120.1h0m-82.6,73.8h0m204.6-258.7h0m-39.9-4.6h0m54,34.8h0m-83.2,145.6h0m30.7-210.1h0m-31.9,142.4h0m14.3-56.6h0m-131,212.7h0m116.4-254.7h0m58.1,55.8h0m-125,146.7h0m90.2-77.1h0m-104,32.8h0m97.3-93.5h0m-60.3,67.4h0m-80.4,113.8h0m178.7-250.3h0m-123.4,152.3h0m44.2,40.3h0m-64.6,1.2h0m158.1-153.6h0m-76.2,67.8h0m-14.6,44.3h0m1.9-2.9h0m22-24.5h0m17.6,14.7h0m-43.3-26.5h0m8.4,89.3h0m-141.3,71.6h0m166.9-180.6h0m-105.4,98.4h0m29.9-9.3h0m0,43.3h0m63-150.3h0m-0.2,53.3h0m-141,140.3h0m212.9-294.1h0m-190.4,295h0m101.8-231.8h0m-13.5,88.6h0m-132.1,153.4h0m194.5-233.3h0m-64.7,106.8h0m-61.2,108.6h0m90.8-72.7h0m-40.4-120.1h0m27,23.6h0m6.8,8.4h0m40.6-5.5h0m-19.5,52.7h0m-166.7,128h0m153.6-163.1h0m-74.5,142.5h0m10-46.5h0m99.2-93.8h0m-0.7-72.4h0m25.3,5.6h0m-61,56.3h0m65.3-163.5h0m-100.3,160.9h0m45.3,65.8h0m-13.6-35.8h0m-25.9,7.9h0m-93.1,140h0m44.7-27.6h0m72.9-203.1h0m53.8,36.9h0m-107.5,176.8h0m14.9-47.2h0m29.6-74.5h0m8.6,11.4h0m-3.7,53.1h0m43.5-81h0m-129.8,142.1h0m136.5-159.4h0m-59.5,0.9h0m33,18.3h0m-100.6,66.9h0m82.3-64.7h0m28.6-62h0m-105.5,202.8h0m141.9-226.4h0m-114.8,163.7h0m62.5-106h0m-55.8,43.1h0m61,47.6h0m35.7-105.1h0m-180.7,160.2h0m65.2-27.9h0m90.6-206.7h0m-44.4,138.1h0m4.7,42.2h0m46.6-190.4h0m7.3,35.9h0m-29.1,82.7h0m-56.3,93.9h0m90.7-97.2h0m32.2-118.5h0m-105.8,78.3h0m7.6,70.5h0m64.7-58.8h0m-80.6,122.1h0m5.1-20.2h0m-48-29.9h0m35.2,6.5h0m61.1-49.3h0m-10.3-40.5h0m-17.7,26.3h0m20.8,69.5h0m-12.4-31.7h0m-38.7,46.3h0m82.6-79.1h0m-80,98.1h0m57.9-161.3h0m-95.8,169.8h0m23.2-22.3h0m25.7,4.1h0m-4.1-74.1h0m87.8-82.1h0m8.6,101.4h0m-167.9,101.4h0m110.2-182.4h0m56.3-77.8h0m-120.2,225.9h0m4.9-1.2h0m-48.2,66.3h0m184.5-194.4h0m-109,18.3h0m18.8,109.7h0m-67.4,5.8h0m43.9-95.7h0m-32.6,69.1h0m43,23.7h0m-60.4,43h0m30.9-77.6h0m45.9,14h0m-10.8-142.9h0m-17.3,184.9h0m51-237.1h0m-86,259.5h0m49.5-87.3h0m65.6-122.2h0m-86.9,158.8h0m50-117.2h0m10.4,53.3h0m-23.4-51.3h0m15.7-78.2h0m-29.3,118.7h0m-37.4,42.2h0m35.4-117.9h0m-4.2,141.7h0m115.1-194.2h0m-86.6,107.9h0m-104.1,119h0m0.9,44.5h0m-6.6-10.3h0m-15.8-3.8h0m85-110.5h0m26.4-46.8h0m-75.5,127.7h0m-22.4,32.2h0m81.2-181.4h0m104.1-86.1h0m-102.7,87.7h0m104.8-84.9h0m-92.7,65.5h0m3.8,22.1h0m-19.3,73.7h0m-22.3-50.8h0m52.9,78h0m-85.3,53.1h0m-27.7-0.6h0m110.8-175.8h0m-138.2,188h0m4.2,5.7h0m197.2-310.7h0m-125.8,291.7h0m-120.9,32.8h0m156.4-221.1h0m-83,228.7h0m82.9-99.8h0m-1.2-11h0m-74,81.1h0m-17.6,29.3h0m146.6-208h0m36.3-45h0m-107.2,159.7h0m-74.8,91.9h0m-9.4-6.9h0m166.1-309.3h0m-45.9,189.6h0m37.4-91.7h0m33.6-93.5h0m-57.3,233.2h0m4.8-56.8h0m-33-87h0m15.4,126.4h0m-32.1,51h0m53.4-166.4h0m42.4-116.5h0m-145.2,308.9h0m115.6-167.4h0m-68.9,61.2h0m-35.4,98.3h0m75.6-117.5h0m-68.9,12h0m50.9,0.3h0m43.4,0.2h0m-78.3,66.7h0m70.4-152.6h0m-136.3,209.5h0m151.6-293.3h0m-77.1,237.1h0m125.6-212.5h0m-40.4,122.6h0m-82.1,72h0m58.7-175.1h0m-16.3,64.2h0m-41-17.6h0m86.4,49.4h0m-66.7-80.9h0m-35.9,91.7h0m20.4,98.4h0m84.8-201.4h0m-166.7,248.6h0m16.9-21h0m102.2-87.7h0m-19.2-136.3h0m32.4,0.4h0m-102.2,208.9h0m99.4-110h0m-48.5-53h0m-34.5,117.9h0m90.4-49h0m-104.2,121.5h0m108.8-143.2h0m-61.2,30.3h0m38.8,18.8h0m-130.3,91.1h0m139.7-201.2h0m-36-24.5h0m-50.2,108.8h0m98.8,10.1h0m-141,114.3h0m2.4-16.5h0m70.2-57h0m-6.3-1.3h0m-29.2,10.1h0m71.5-59.6h0m20.1-17.2h0m-66.1,29.1h0m-127.7,125.4h0m211.6-199.8h0m-53,35.8h0m-46.3,116.6h0m73.1-104.6h0m-126.9,145.3h0m108.2-106.3h0m36.8-147.7h0m-54.3,157.4h0m38.6-103.3h0m-93.2,97.6h0m57.6-26.9h0m52.9-61.2h0m-46.9,28.1h0m-20.6,87.2h0m30.1-65.1h0m25.4,39.7h0m63.6-158.6h0m-70,20.6h0m-120.9,216h0m140.9-192.9h0m-107.4,184h0m-111,35.1h0m218-175.4h0m42.7-134h0m-128.7,255.1h0m44.7-50.9h0m-31.8,6.9h0m92.1-75h0m-78.7,70.1h0m-57.2,19.9h0m65.1-21.8h0m54.5-154.1h0m-62,173.2h0m-27,3.6h0m9.7,38.9h0m92.8-130.7h0m-78.8,33.6h0m60.3,23.9h0m-21.9-19.5h0m27.4-30.4h0m-10.8-92h0m-66.5,159.6h0m66.4-164.8h0m-99.1,223.4h0m82.7-59.8h0m36.2-153.5h0m-21.3,117.9h0m-138.8,128.1h0m104.1-142.1h0m4.7-99.8h0m52.2,43.5h0m-70.4,57.2h0m75.8-112.2h0m-60.8,35.4h0m62.6,61.4h0m-109.9,122.2h0m96.2-192.1h0m-215.8,239.7h0m260.4-304.8h0m-177.2,216.5h0m81.3-165.1h0m32.2,97.9h0m-58.7,88.7h0m-56.5,40.5h0m178.7-315.6h0m-60.9,204.2h0m-36.3-4h0m34.3,17.5h0m-16-58.6h0m-31.8,19.2h0m11-30.6h0m20.1-9.3h0m7.1,28.4h0m-30.1,45.6h0m56-127.4h0m4.4,30.8h0m-26.6,57.6h0m-9.1-46.3h0m31.6-47.1h0m-155.6,244.5h0m87.9-46h0m-39.1,13.8h0m21.4-9.7h0m-88.1,50h0m118.3-97.4h0m-18.8,53.4h0m28.8-139h0m111.2-136.3h0m-95.8,119.1h0m-11.5,87h0m2.8-56.5h0m-9.9-20.8h0m47.2-26.7h0m-23.2,76.6h0m-7.6,38.6h0m-23.8-50.2h0m72.7-113.4h0m-140.9,234.7h0m102.7-99.2h0m62-139.6h0m-55,101.5h0m-144.2,141.6h0m143.4-189.2h0m6.3,25.4h0m-74.6,118.2h0m105.9-196.9h0m-185.1,251.2h0m117.1-61.5h0m-31-2.1h0m93.2-156.4h0m-47,76.4h0m-179.1,158.9h0m203.4-137.5h0m2.9-74.2h0m2.8,96h0m-159.5,99.1h0m171.7-159.6h0m-46.6,31.2h0m-110.5,107.4h0m105.8-59.8h0m13.2-48.2h0m11.2-82.5h0m-46.7,86.3h0m49.2-42.2h0m-46.3,81.5h0m28.3-91.7h0m56.7-53.2h0m-142,235.7h0m-18.5-16.6h0m123.1-136.5h0m-46.1,105.3h0m-3.8-4.4h0m20.3-78.6h0m-11.4-31.4h0m66.9,84.6h0m-124.3,43.1h0m127.2-116.8h0m-69.7-6.7h0m-25.7,134h0m23-70.4h0m19.2-64h0m-178.9,178.5h0m136.4-77.5h0m89.5-216.3h0m4.5,123.2h0m-39.5,31h0m-15.2,4.6h0m-98.6,124.3h0m25.4-6.1h0m98.5-193.1h0m5.6-23h0m-29.1,41.1h0m-24.4,89.4h0m-97.4,100.1h0m46.2-43h0m111.6-170h0m-71.7,156.2h0m79.4-254.4h0m-85.7,275.5h0m79.5-120.8h0m-52.7-11.9h0m-9.3,105.2h0m-11.1-28.7h0m82.5-121.5h0m-202.5,211.1h0m101.8-166.6h0m28.6,74.8h0m-51.4,23h0m99.1-103.6h0m-122.2,163.1h0m29.4-17.7h0m-38.9,29.7h0m102.8-196.9h0m-76.4,128.1h0m22.4-0.4h0m-32,46.7h0m141.3-155.8h0m-68,120.6h0m80.3-171.5h0m-19.5,13h0m-8,57.3h0m-59.6-60.6h0m99.6-26.1h0m-72.2,120.4h0m36.4-42.6h0m-93.1,110.5h0m6.1-50.6h0m40.9-14.6h0m-38.9-35.8h0m87.6-106.1h0m4.1,17h0m-17.8,111.8h0m-35-33.9h0m0.8,108.8h0m14-93.9h0m-122.7,154.7h0m194.6-317h0m-35.4,29.5h0m-58.1,181h0m46.5-47.2h0m-3.4-127.7h0m-75.1,200.3h0m13.1-83.6h0m114.3-188.4h0m-55.4,249.5h0m-14.4-18.5h0m-24.1-34.3h0m-124.5,160.2h0m195.5-135.8h0m-61.2,22.5h0m-13.6-73.6h0m51.3-105.6h0m43.8,55.9h0m-5.9-35.2h0m-66.5,23.4h0m-112.3,216h0m-2.3,22.2h0m68.3-78h0m4.8,11.5h0m47.9-165.3h0m46-2.2h0m-57.5,65.6h0m-105.1,173.9h0m147.8-201.8h0m-178.3,203.9h0m130.8-173h0m8.8,20.8h0m-82.3,122.4h0m-50.7,24.2h0m183-191h0m-54.3-3h0m11.3-56.4h0m-39.6,112.3h0m67.5-81.9h0m1.5,20.9h0m-18.9,13.7h0m-82.8,98.2h0m-66.2,96h0m97.7-163.5h0m74.3,28.3h0m-49.5,15h0m16.9-45.5h0m-106.9,153.2h0m137.8-185.1h0m-9.1,53h0m26.2-114.3h0m-1.3-6.9h0m-62.3,36.7h0m-5.2-10.8h0m-72.6,190.5h0m163-305.2h0m-65.4,194.2h0m34.1-63.2h0m-8.9,45.8h0m7.9-42.9h0m-76.8,65.9h0m-56,90.2h0m86.3-3.4h0m-72.3,28.9h0m74.4-155.8h0m-21.4,90h0m-37,47.4h0m-4.5,2.5h0m-134.2,52.4h0m208-237.2h0m-19.2,124.6h0m10.1-149.1h0m-78.3,176h0m91.1-61.1h0m-77.6,65.7h0m74.9-135.7h0m-2.1,50.4h0m-22.4,83.6h0m-73,83.5h0m-1-73.5h0m90.9-175h0m2.2,73.3h0m-25.5,27.6h0m-102.3,127h0m77.8-94.5h0m-1.3,5.3h0m18.1-75.9h0m31,65.4h0m35.8-129.9h0m-31.7,43.6h0m-4.6,4.4h0m-94.3,173.9h0m55.7-68.6h0m-26,64.4h0m71-144.9h0m-65.9,105.3h0m90.9-111.9h0m-50.1,2h0m-27.6,144.5h0m43.1-95.6h0m-13.5,80.7h0m45.5-148.1h0m-113.2,182.8h0m-47.7,18.6h0m30.8-33.2h0m128.4-205.5h0m-28.3,37.3h0m-70,156h0m84.9-148.8h0m-43.9,126.9h0m63.4-199.2h0m-169.8,267.7h0m129.6-139.7h0m-151.1,136.4h0m18.7-9h0m124.7-114.2h0m-11-2.6h0m-31,54.2h0m16.4,15.2h0m25.6-203.7h0m55.1,76.1h0m-71.5,96.7h0m89.9-219h0m-63.4,133.3h0m-83.9,173.8h0m29.2-54.9h0m16.7-52.5h0m23.1-20.6h0m-91.1,107.3h0m25.5-16.8h0m20.9-77.5h0m78.9-108.1h0m29.4-39.8h0m-128.9,190h0m89.3-101.1h0m-70.6,64.7h0m62.3,17.1h0m-88.7,29.8h0m96-31.9h0m-143.3,84h0m99.9-92.8h0m26.1-51.7h0m-9.7-89.7h0m51.5,34.9h0m-157,205.1h0m153.8-178.9h0m-167.9,169.6h0m151.6-95.8h0m-83.5,34.8h0m22.5,35.7h0m99.8-241h0m-32.6,131.3h0m-13.9,8.4h0m5.7-90.3h0m-96.7,196.1h0m79.1-136.9h0m-18.8,74.3h0m75.8-176.7h0m-43.1,53.6h0m-52.4,185.3h0m7.3-145.4h0m23,93.7h0m-87.2,72.4h0m46.7-7.9h0m18.4-132.4h0m-39,64.2h0m44.8,21.9h0m67.7-69.2h0m-58.4-67.7h0m-11,151.6h0m-46.8-6.3h0m68.5-27h0m4.9-125.6h0m-10.9,43.7h0m43.8,75.5h0m30-242.1h0m-24.4,164.4h0m-120.1,122.9h0m136.5-154.7h0m-207.8,196h0m174.9-181.5h0m-63,169.3h0m-52.6-3.7h0m28.8-24.6h0m14.1-108.4h0m157.9-172.1h0m-101.4,256.4h0m-28-72.7h0m21.6-3.1h0m-8-31.7h0m56.7-27.8h0m-68.5,84.5h0m66.5-38.8h0m-104.1,138.5h0m65.5-134.2h0m5-33.3h0m-30.1,7.1h0m-22.9,68.7h0m48.8-78.8h0m21.2-82.2h0m41.1,1.2h0m-86.8,139.2h0m95.7-76.2h0m0.5-126.6h0m-42.1,85h0m-22.9,90.5h0m-96.7,145.2h0m51.9-155.5h0m-8.6,139.8h0m7.6-48.8h0m51.7-103.6h0m-35.8,46.9h0m13.5,42.6h0m-21.2-28.4h0m85.8-61.1h0m28.2-146.1h0m-45.4,85.6h0m-55.6-2.7h0m41.6,129.5h0m-91.6,84.7h0m49.4-111.1h0m37.9-85.8h0m-159.5,210.4h0m93.6-32.4h0m-61.6,50.8h0m156-291.2h0m-5.6,64.2h0m-130.4,229.2h0m8.5-90.2h0m54.3,2.6h0m79-127.1h0m14-28.6h0m-133.5,152.3h0m59-73.1h0m-39,58.3h0m34-120.6h0m-31.7,163.6h0m76.8-162h0m-75.1,165.8h0m-0.5-43.6h0m38.9-90.9h0m32.1,31.2h0m-153,152.6h0m81.7-44.3h0m3.3-23.8h0m-15.9-85.6h0m57.2,61.9h0m1.2-45.1h0m12.8-122.9h0m-16.5,30.8h0m-11.4,45.3h0m19.9,4.3h0m25.2-75.5h0m-132,239.3h0m143.5-269.3h0m-38.7,141.7h0m-83,121.5h0m8.6-27.2h0m-30.5,20.8h0m103.1-150.9h0m57.2-57.7h0m-132.4,161h0m-96.7,84h0m152.1-160.1h0m113.5-188.9h0m-239.4,352.2h0m150.6-261.4h0m-137.5,257.6h0m115.4-123.8h0m-36.1-47.7h0m94.3-87.8h0m-119.9,217.5h0m18.2-45.4h0m58.2-33.9h0m-19.3-63h0m-20-22.9h0m46.1-16.5h0m-65.5,127.1h0m66.9-29.5h0m-31.7-97.9h0m58.7,52.9h0m-118.9,150.9h0m48.8-141h0m80.9-60.2h0m-48.5,16h0m-70.1,180.9h0m16.2-8h0m-8-109h0m143.2-156.1h0m-151.6,177.4h0m-3.8,55.8h0m-58.2,65.8h0m113.4-114.2h0m43.7-169.4h0m-41.8,218.9h0m-116.4,55.5h0m133.7-203.7h0m-135.1,212.2h0m151.3-210.3h0m-119.2,187.4h0m3.1-23.7h0m94.4-43.4h0m-17.5,13.5h0m44.4-99.8h0m-29.3-6.4h0m52.6,0.8h0m-32.9,31.9h0m38.6-141.8h0m4.1,62.6h0m-230.6,228.8h0m32.4,7.4h0m84.8-68.2h0m47.2-79.9h0m-13.8,36.5h0m-23.6,0.2h0m48.6-53.6h0m-68.3,58.1h0m17.3-95.2h0m54.3,40h0m14.9,41.7h0m-9.3-54.8h0m-7.2-78.1h0m-92.1,185h0m9.4-27.6h0m81.4-116.6h0m-42.2,101.5h0m-157.3,107.1h0m204.1-191.2h0m39.3-31.3h0m-26.7,27.9h0m-82.3,126.2h0m104.9-109.7h0m-143.6,143.3h0m129-211.9h0m-67.5,131.8h0m-41,66.1h0m-32.4,28.6h0m149.5-278.1h0m-110.8,263.2h0m87.1-98.9h0m-62.2-7.1h0m-31,79.1h0m85.1-126.9h0m-88.6,81.2h0m81.7-71h0m15.3,77.7h0m-31.5-137.6h0m-70.8,219.1h0m-15.5,16.5h0m154.2-210.8h0m-47.9,82.7h0m-4.6,33.5h0m-22.2,34.6h0m16.9-83.2h0m-56.9,90.4h0m37-80.8h0m-8.3,105h0m-22.9-29.8h0m20-88.5h0m-61.1,100.3h0m48.8-44.1h0m24.1-88h0m95.8-84.5h0m-141.4,155.5h0m127.1-161.4h0m-60.4,97.9h0m49.4-109.8h0m-93.6,91.3h0m21.4,139.4h0m49.2-132h0m-111.9,142.8h0m118.4-126.7h0m-21.6,53h0m-3.5-54.9h0m-86.6,99.5h0m129.2-108.9h0m-31.3-3.4h0m-105.6,155.8h0m109.9-97.1h0m3.5-124.2h0m-88.1,223.4h0m86.3-106.1h0m-103.2,85.3h0m102.9-124.5h0m7.6-21.8h0m-19.5,14.2h0m18.1-56.8h0m-171,227.4h0m90.7-101.9h0m-71.2,111h0m72.4-94.2h0m-13.2,67h0m-23-46.1h0m87.6-98.6h0m18.1,61.5h0m-7.5-45.2h0m-66.5,19.1h0m115.4-71.2h0m2.1,24.3h0m-21-7.3h0m-168.3,191.9h0m147.8-194.8h0m-21.1-26.8h0m-8.6,96.4h0m16.6-70.1h0m-169,178.4h0m63.2,1.4h0m160.8-193.7h0m-151.2,181.9h0m117.4-168.3h0m-75.3,103.7h0m-61.1,79.3h0m149.9-273.1h0m-94.8,242.5h0m-35.1-25.5h0m40.3,12.3h0m-69.8,38.7h0m140.5-197.3h0m-75.3,174.4h0m55-142.4h0m-22.5,130.7h0m38.3-130.6h0m-51.9,49.1h0m45.3,35.4h0m23.5-93h0m-103.1,128.9h0m116.9-88.8h0m-212.3,151.9h0m247.8-339.3h0m-75.7,149.3h0m-205.1,191.1h0m236.4-150.1h0m45.4-110.1h0m-139.3,185.7h0m129.1-223.3h0m-136.4,222.5h0m123.7-166.6h0m-12.4-68.2h0m-45.1,118.5h0m-80.6,143.8h0m-42.8,38.5h0m148-162.3h0m-7.3-69.1h0m-58.4,102.5h0m40.4,48.4h0m-107.9,55.4h0m83.1-173.1h0m7,112h0m-71.7,69.7h0m152-273.7h0m-86.1,197h0m-179.2,102h0m158.6-109.8h0m32.9-57.1h0m-6-20.9h0m-87.1,156.9h0m39.6-70.6h0m66.5-35.6h0m-35.3-57.9h0m-25.9,142.3h0m-65.5,27.4h0m169.6-167.4h0m-100.3,124.6h0m110.1-221.3h0m-54.3,108.7h0m11.6,33.9h0m-43.3-70.3h0m20.5,99.3h0m73.6-169.1h0m-142.3,221h0m95.5-104.2h0m-33.5,43.6h0m35.5-71.3h0m-112.8,189.1h0m68.5-101.8h0m34,21.3h0m55-174.5h0m-210.4,251h0m168.5-170.5h0m-60.8,65.4h0m-5.6-74.6h0m42.8-11.6h0m-56.6,142.6h0m77.1-212.5h0m-29.8,77.5h0m95-113.7h0m-153.9,260.4h0m130.6-264.8h0m-37.8,80.6h0m-10.5,86.7h0m-146.4,126.1h0m109.4-214.5h0m54.4-41.9h0m-36.4,171.9h0m-14.8-22.8h0m-46.1,102.7h0m108-175.2h0m-227,196.4h0m174.5-74.9h0m68.4-144.4h0m-43,15.5h0m-55.8,147.1h0m-6,21.8h0m78.3-204.3h0m15.2-10.7h0m-72.9,71h0m85.6-79.7h0m-116.1,229.9h0m38.1-136.3h0m-6.1,65.6h0m94.8-246.3h0m-21.8,147.1h0m-44.6,84.2h0m6.3-19h0m-73.8-10.7h0m-74.3,132.3h0m164.4-178.2h0m57.2-143.1h0m-114,239.9h0m-39,52.1h0m131.4-244.9h0m-14.5,111.5h0m-11.7,38.8h0m-92.3,80.9h0m111.6-172.7h0m-10.1-67h0m3.7-4.1h0m-30.3,157.2h0m-61.7,49.9h0m90.4-137.7h0m-87.7,179.7h0m38.1-180.2h0m-15.2,80.3h0m-11.2,58.1h0m2.8,32.4h0m106.2-286.9h0m-97.2,198.5h0m35.5-38.9h0m-40.3-22.3h0m39,43.5h0m46.8-30.6h0m-25.4,28.8h0m-30.3,66.9h0m-24.8-12.4h0m-0.2,27.7h0m-18.1-53.6h0m16.2-102.5h0m-156.2,237.1h0m72.8-17.3h0m133.4-259.4h0m-91,216.4h0m-2.1,44.3h0m41.4-92.3h0m8.9,15h0m-174.4,99.5h0m115.1-63.9h0m34.6-102.3h0m-43.3,135.1h0m64-112.3h0m-6.8,35h0m-68.9,83.7h0m94.1-132.7h0m-2,21.8h0m-128.9,126.3h0m98.4-155h0m36.5-6.1h0m74.3-173.7h0m-112.9,170.4h0m-72.5,164.7h0m146.2-134.8h0m-63.1-87.1h0m39.3,115.4h0m-51.8-34h0m43.7,14.9h0m12.3-140.5h0m5.8,23h0m-130.8,230.6h0m88.8-97.5h0m59.1-53.8h0m-13.7-102.7h0m11.6,116.5h0m18.1-94.5h0m0.5-69h0m-61.7,99h0m-53.7,88.2h0m57.1,12.3h0m-101.6,103h0m166-144.7h0m-184.6,154.5h0m95.3-97.6h0m-2.2,17.5h0m34.8-41.9h0m-97.5,58.5h0m94.9-67.4h0m-196.3,141.9h0m125.6-48.7h0m96.1-85.1h0m-44.6-20.6h0m-110.8,140.5h0m120.2-104.1h0m-111.1,95.7h0m46.8-84.6h0m58.9,3.7h0m-58.8,75h0m-15.9-6.1h0m47.3-78.7h0m-13.8,67.2h0m25.9-99.4h0m8.7,49.7h0m60.7-213.3h0m-130.9,294.8h0m123.3-189.1h0m-111.6,139.3h0m18-32.8h0m76-156.7h0m-94.9,213.5h0m91-62.3h0m16.1-183.6h0m-106.3,180.1h0m28.2-87.1h0m3.6,91.7h0m35.4-55.4h0m-88,130h0m-36.9,19.2h0m150.2-169.2h0m-75.1,117.8h0m75-158h0m-14.3,84.1h0m-8.1,66.1h0m-10.6-104h0m-28.7,88.2h0m131.4-232.1h0m-89.5,151.3h0m-23.8,78.9h0m57.9-99.8h0m-22.8,6h0m28-103.4h0m-4.5,101.7h0m-33.8-24.8h0m73.8,14.6h0m-106.4,95.9h0m11.8-70.6h0m-94.5,153.3h0m18.1-0.1h0m147.2-308.8h0m-86.8,192.4h0m98.4-216h0m-55.3,225.4h0m-150.9,119.5h0m197.1-234.4h0m-108,161.7h0m28.2-96.9h0m-103.9,152.5h0m57.9-25h0m-37.1,14.9h0m108.2-117.9h0m29-57.8h0m-14.3-2.5h0m24.9-15.7h0m-3.3-60.9h0m21.2,129.1h0m-18.1-100.9h0m1.3,39.2h0m-64.6,120.5h0m15.2-77.1h0m-111.9,131.9h0m81.7-76.1h0m-18.8,60.8h0m107.3-208.7h0m-27.8-25.5h0m-18.1,160h0m-122.7,98.6h0m184.8-126.6h0m-22-41.1h0m-40.5-22.1h0m10,95.5h0m54-160.8h0m-83.4,179.8h0m-9.1-33.2h0m24.2-108h0m7,130.9h0m-48.4,78.3h0m61.1-206.3h0m84.5,19.5h0m-222.6,213.2h0m90.3-180.1h0m22.8,99.6h0m0.5-43.9h0m5.3-48h0m18.2-9.7h0m-99.9,162.2h0m56.7-30.8h0m13.7-68h0m-75.9,67.6h0m96.9-132.2h0m-24.5,30.3h0m66.9-29h0m-126.1,98.3h0m5.6,7.2h0m-33,48.2h0m162.9-217.2h0m-135.9,214.7h0m23.7-24.6h0m38-147.4h0m64.7,5.1h0m-74.3,68h0m-107.4,132.8h0m-1.3-8.6h0m163.1-109.1h0m0.7-106.6h0m-66.9,148.9h0m-31.3,55.6h0m116.6-210.1h0m-37.6,63.2h0m-5.4,36.5h0m-44.1,62.6h0m-73.6,50.1h0m153.8-255.2h0m0.6,119.9h0m-196.7,146.6h0m166.2-89.7h0m-43-65.3h0m-38.8,117h0m72.2-95.2h0m-3-17.6h0m-55.6,88.7h0m-31.9,31.6h0m61.9-90.8h0m-80.3,99.9h0m140.4-179.8h0m-31.2,54.5h0m-5.4-19.1h0m26.3,6.4h0m29.6-173.9h0m-3.6,80h0m-9.2,89h0m-22.7-58.7h0m-158.6,223.4h0m115.7-125.3h0m26.4,3.2h0m66.2-119.7h0m-61.4,68.4h0m20.4,39.3h0m8.6-79.6h0m-124.5,208.7h0m12.4-30.4h0m129.7-276h0m-71.9,228.5h0m-2.9-40.9h0m-42.6,50.9h0m80.8-73h0m-136.5,116.4h0m82.4-176.1h0m6.5,78h0m87.8-80.3h0m-113.7,109.8h0m-130.5,112.3h0m186.6-204.9h0m-76.1,125.2h0m46.5-118.4h0m70.8-20.9h0m-142.4,212.8h0m127-282.2h0m34.4,57.2h0m-53.5,100.1h0m-26.6,19.6h0m61.4-130.5h0m-72,38.1h0m-20.2,52.3h0m47.4,43.9h0m28.5-102h0m12.2-88.4h0m-16.3,58.5h0m-75.8,157.2h0m-63.3,74.3h0m134.6-132.2h0m-28.8,0.3h0m-17.4,79.1h0m-8.2,4.4h0m-42.3,12.7h0m147.6-215.9h0m-227.7,255.6h0m78.1-45.4h0m41.3-109.8h0m-2.8,112.3h0m-55.2-17.9h0m-3.8,58.8h0m6.8-64.8h0m129.7-146.9h0m-11.5,25.4h0m-50.2,135.5h0m61.4-156.7h0m-83.5,123.5h0m91.7-214h0m-106.6,248.7h0m-5.7,15.3h0m107.2-240.9h0m-132.7,238.5h0m10,26.4h0m-15.9,9.6h0m-42.6-5.3h0m113.2-99.1h0m-67.8,99h0m115.2-121.4h0m-47.5,41.7h0m99.5-245h0m-40.1,180.9h0m-34.9-16.2h0m11.4-33.4h0m-125.3,196.8h0m141.8-230.1h0m-94.7,212.3h0m3.4-25.2h0m42.7-134.7h0m-71.2,167.7h0m133-121.1h0m23.2-79.3h0m-176.7,192.4h0m133.7-135.8h0m-58,86.7h0m55-138.1h0m0.9-34.4h0m40.3,1.2h0m-40.3-41.2h0m-68.3,238.1h0m9.2-51.1h0m32.1-25.1h0m55.3-174.3h0m-9.3,125.7h0m-54.9,61.2h0m24.7-58.2h0m-11.2-68.9h0m-57.4,108.6h0m-11.7,125h0m118.7-147.1h0m-193,144.5h0m134.7-117.4h0m66.1,5.2h0m-183.6,100.9h0m111.6-68.3h0m60.2-126.4h0m-39.7,89.9h0m-23,63.3h0m-29.5,28.8h0m60.6-99.1h0m-3.3,14.8h0m-69.7,33.1h0m48.8-42h0m-98.9,117.8h0m17.2-13.8h0m104.6-109.1h0m-65.8,32.3h0m70.1-55.4h0m-34.7,23.8h0m27.3-22.2h0m45.8-80.7h0m-66.2,23.7h0m-50.5,168.1h0m24.9-65h0m-45.9,84.9h0m130.3-250.8h0m4.7,61.1h0m-54.2-37.3h0m-10,125.6h0m63.4-58.5h0m-83.8,122.5h0m-39.6,2.6h0m73.8-75.4h0m20.2-144.6h0m-12.5,146.3h0m51.3-170.2h0m-33.9,214.8h0m-60.5-77.2h0m44-13.2h0m-67.6,152.5h0m59.2-219.2h0m-51.6,232.4h0m86.5-151.2h0m-2.1-35.2h0m-43.9,30.3h0m68.4-108.1h0m-35.8,44.7h0m-59.6,127.5h0m84.9-162.3h0m-34.2,53.4h0m32.3,81.3h0m-2.9-165.7h0m47.8-60h0m-94.6,228.3h0m59.8-76.9h0m-124,163.5h0m18.8-15.5h0m66.1-85.1h0m-74.2,70.1h0m83.5-44.7h0m-109.9,95.5h0m-37.1,14.1h0m127.7-174.8h0m10.8,8.9h0m69.4-120.4h0m-102,70h0m-14.8,89.2h0m44.1-129.2h0m5.1,94h0m10.8-2.4h0m-130.4,157.6h0m46.5-87.9h0m-0.4,18.7h0m20,27h0m68.5-32.2h0m42.4-162.7h0m-37.9,24.8h0m-23.1,70.8h0m-0.4-48.3h0m-77.3,131.1h0m-2.4-30.3h0m71.9-55h0m-28.9-24.8h0m-13.8,8.9h0m-50.6,147.4h0m125.1-256.9h0m-94.1,171.1h0m85.9-84h0m30.7-55.8h0m21.4,23.7h0m-180.9,208.2h0m67.4-48.6h0m84.5-53.1h0m-87.6-60.3h0m-42.1,156h0m108.7-124.8h0m-23.3-62.1h0m-29.7,62.5h0m-75.7,136.6h0m-65.4,9.6h0m182.2-192.1h0m-92.9,113.2h0m99.1-52.2h0m-36.8,65.1h0m24.6-76.1h0m2.1-39.9h0m-53.7,56.9h0m-41.5,92.7h0m124.9-164.5h0m-51.1,1.5h0m67.8-63.9h0m-49.3,128.9h0m42.9-55.6h0m-48.5,104.8h0m84.4-222h0m-32.4,120.8h0m-92.1,5.4h0m54.4,6.6h0m-87.6,132.5h0m82-190.4h0m-0.1,125.2h0m-70.2,80.9h0m34.7-87h0m23.2-65.9h0m56.3-130h0m-92.8,226.5h0m78.8-191.3h0m-108.1,190.4h0m54.4-162.4h0m45.8-25.7h0m-112,239.3h0m91.5-173.9h0m-111.2,176.3h0m45.2-71.1h0m9.9-7.4h0m31.3-121.3h0m19.3,35h0m-17,85.3h0m-5.6,53.6h0m-82.4,35.1h0m114.5-237.8h0m-57,182h0m95.9-147.1h0m-24.7,16.2h0m-41.1-17.4h0m95.1-52.6h0m-73.2,158.8h0m-5.3-23.1h0m3.1,28.8h0m-22.6-113.4h0m-25.7,77.7h0m-70.9,143.5h0m172.6-227.9h0m-157.6,226.2h0m111-215.3h0m54.2-117.8h0m-145,271.2h0m-1.3,29.2h0m21-27.9h0m68.8-68.6h0m28.8-113.3h0m-66.8,98.5h0m33.6-5.6h0m8.8-34.7h0m-20.6,121.9h0m23.7-122.8h0m-78.1,137.6h0m102.9-241.4h0m-56.9,137.9h0m31.2,39.4h0m-8-50.6h0m-17,0.7h0m-45.4,80.6h0m83.5-157.6h0m11.8,35.6h0m-171.4,204.5h0m100.9-192.3h0m5.7,122h0m1.9-78.5h0m21.5,34.2h0m5.9-44.5h0m19.9-80.9h0m-9.6,22.4h0m-65.7,117.1h0m-40.1,68.5h0m-10,11.3h0m125.8-175.5h0m-61,18.5h0m52.2-36.3h0m-70.5,77.6h0m51.8-33.8h0m-16.3,35.9h0m40-24.3h0m-72.2,60.9h0m39.3-6.5h0m-9.3-38.6h0m6-33h0m39.1,78.6h0m-84.1,25.2h0m71.2-76h0m8.8-24.4h0m-46.5,51h0m51.5,1.8h0m-134,83.2h0m95.7-58.7h0m9.8,17.8h0m23.5-110.9h0m-5.5,9.9h0m-83.3,89h0m58.8-39.1h0m26.8,10.2h0m-13.5-139h0m38.9,35.2h0m-43.5-21.8h0m17.6-45.7h0m-48.6,147.9h0m75.8-189.8h0m-48.6,170.4h0m54.4-51.1h0m-54.3,17.9h0m0.7,40h0m22.8-34.6h0m-9.2,50.8h0m-47.5,5.9h0m-5,84.4h0m62.7-52.1h0m-77.6,17h0m64.2-126.6h0m-27.1,6.5h0m7,77.8h0m29.2-80.7h0m36.7,46.9h0m-87.5,73.5h0m-135.6,80.4h0m208.6-161.2h0m-154.6,152.9h0m86.8-61.3h0m18.7-117h0m27,59.2h0m-58.7-29.9h0m-7.6,121.2h0m-135.8,43.7h0m203.4-210.3h0m-16.3,16.7h0m-105.3,145.6h0m69.7-112.8h0m9.5-16.6h0m-40.1,125.9h0m79.7-154.5h0m-52.7,26.4h0m-69.6,169.7h0m159.8-288.6h0m-25.8,101.4h0m-123.7,170.4h0m107.7-122.8h0m-60.7,39.5h0m-37.5,86.2h0m12.2-2.3h0m123.8-179.3h0m-0.5-38.3h0m-32.7-12.3h0m-37.9,148.7h0m-3.4,2.8h0m-148.5,105.5h0m228.2-209.9h0m-109.1,118.6h0m29.7-90.9h0m-29.4,92h0m-42.1,61.2h0m69.8-77.5h0m-9-9.3h0m-80.3,97.2h0m123.4-138.7h0m-42.6,104.6h0m-64.6,25.1h0m123.9-56.9h0m-88.7,36.1h0m139.1-279.8h0m-44.2,163.8h0m-174.4,155.2h0m214.1-341.9h0m-38.2,196h0m42.4-151.9h0m-70.5,114.3h0m-75.5,142.8h0m97.1-128.1h0m13.6-10.8h0m-136.2,169.4h0m141.6-146.8h0m-149.7,142.7h0m130-119.3h0m-42.1-46.3h0m66.5,12.5h0m-71.1,46.6h0m28.5-20.2h0m36.9-134.8h0m-137.4,228.9h0m31.6,14h0m11-54.4h0m32.3,27.6h0m-3.4-74.5h0m-25.6,63.7h0m-37.5-6.4h0m134-161.3h0m-125.9,215.4h0m56.8-19.1h0m-69.9,29.8h0m87.2-155.5h0m43.4-70.1h0m5.9-3.1h0m-141.7,219h0m79.4-120.4h0m-60,98.1h0m102.3-117.2h0m-37.4,92h0m-13.2-75.3h0m-67.3,152.5h0m163.6-240.6h0m-172.6,221h0m133.3-142h0m-66.9,128.3h0m52.6-222.8h0m-137.9,245.2h0m76.6-47.2h0m32.1-103.1h0m-15.2,84.7h0m45.5-188.8h0m16.6,38.9h0m-7.5-25.1h0m27.2,77.2h0m5.5-151.3h0m-23,98.6h0m-103,185.4h0m-31.1,21.5h0m152.5-259h0m-144.5,248.6h0m59.1-46.9h0m81.7-142.5h0m-26.8,12h0m53.5-143.1h0m-159.8,338.5h0m81-108.4h0m-3.6,27.4h0m-15.6-71.7h0m-6.4,20h0m-83.1,139.3h0m136.1-216.4h0m-70,113.2h0m56.1-1.1h0m-10.5-65.6h0m20.5-12.5h0m-93.6,112.2h0m55.7-69.7h0m32.7-71.1h0m-45.3,109.1h0m-67.5,103.4h0m140.9-195.8h0m-107,171h0m62.4-36.5h0m-19.3-181.3h0m22.2,38.9h0m82.5-93.1h0m-30.6,33.5h0m-58.9,127.3h0m36.6-28.9h0m-95.5,33h0m98.4-61.6h0m-63.3,77.2h0m-50.6,68.2h0m99.9-66.5h0m2.1-143.5h0m-14.9,20.5h0m-132.8,238.6h0m106.8-85.9h0m-59.1,23.2h0m102.1-191.1h0m-72,176.9h0m28.1-101.1h0m21.3,3.4h0m-22.1,56.9h0m15.5,42.6h0m-13.2-155.6h0m12.1,137.1h0m-29-113.7h0m38.5,94.8h0m65.5-78.6h0m-106,63.3h0m-23.7,75.3h0m12.7-75h0m-151.3,131.7h0m236.2-176.7h0m-40.6,77.6h0m-20.1,12.1h0m71.2-138.9h0m2.9,84.3h0m-22-24.3h0m-10,48.8h0m-81.1,34.7h0m68.7-165.5h0m-43.2,193.3h0m-0.8-12.1h0m50.7-197.7h0m-37.8,148.7h0m43.5-95.9h0m6.4-61.8h0m-72.8,119.2h0m28.5-22.6h0m33.9,42.6h0m-95.9,85.7h0m49.6-122.8h0m25.8,23.7h0m87.2-113h0m-166.6,239.6h0m136.7-317.1h0m-128.9,275h0m28.4-7.2h0m119.6-146h0m-77.9,105.6h0m5-118.9h0m24.3,78h0m-55.2-17.6h0m-59.9,163.7h0m-5,5.7h0m81.7-171.5h0m-95.1,150.4h0m12.3-16.6h0m149.5-263.3h0m-51.8,202.5h0m56.3-103.8h0m-61.4,77.5h0m17.3-98.4h0m-63.2,141h0m18.4-34.3h0m62.4-111.8h0m-193.4,221.4h0m188.6-215.2h0m-51.8,111.6h0m21.5,8.9h0m83.8-237.1h0m-70.6,175.9h0m-44.4,41h0m50-88.4h0m22.3,28.9h0m-229.4,183.1h0m244.8-321.5h0m-85,256.4h0m71.8-196.5h0m-44,171.8h0m23-126.4h0m-20,152.4h0m28.2-62.3h0m-37.9-23.1h0m-60.2,66.4h0m90.3-199.2h0m-119.8,223.4h0m67.6-119.2h0m-4,79.7h0m68.4-105.4h0m-69.7,137.5h0m59.7-82.8h0m-29.4,31.6h0m-29,8.2h0m51.2-72.3h0m-54.3,105.3h0m101.7-113.2h0m-46.8-17h0m-1.5,55.5h0m-20,39.7h0m-35,46.7h0m-20.8,12.6h0m-85.2,47.8h0m88-54.5h0m113.6-268h0m-51.1,205.5h0m-86.1,99.5h0m48.6-79.4h0m65.9-35.2h0m31.8-199.8h0m-81.6,136h0m60.7-37h0m-44.1,51h0m-95.1,155.5h0m7.2-51.1h0m-31.7,48.4h0m70.2-43.9h0m143.4-214.6h0m-93.6,55.2h0m-73.1,209.8h0m-80.3,22.3h0m210.3-236.1h0m-69.6-4h0m-5.6,129.4h0m40.9-143.7h0m24.4,49.5h0m-146.3,152h0m7.6,49.4h0m143.2-314.7h0m-51.3,185.6h0m-41.4-41.2h0m-8.7,100.1h0m29.2-63.5h0m6.5,2.1h0m57.2-149.6h0m-142.5,277.8h0m47.6-43h0m-69.9,35.2h0m118.4-140.9h0m-14,9.5h0m5.2-59.5h0m-98,186.1h0m93.4-125.1h0m39.7-85.3h0m-113.3,210.9h0m77.3-171.5h0m-37.1,101.9h0m25.5-18.2h0m-8.8,43.2h0m107.5-188.4h0m-17.5,68.3h0m-60.4-58.3h0m-10.3,86.1h0m-182.9,161.4h0m145.2-156.5h0m86.4,7h0m-1.6-53.1h0m-61.7-14.2h0m-110.3,206.9h0m207.2-234.8h0m-144.9,203.2h0m-38.1,23.2h0m157.6-188.1h0m-65.6,16.5h0m36.6,61.1h0m8.3-36.5h0m-20.8-0.2h0m-18.9,17.7h0m-42.6,84.4h0m31.2-171.5h0m64.3-50h0m-48.2,74.8h0m42.1-95.6h0m-55.5,190.9h0m36.7-57.2h0m-52.5,91.4h0m28.5-64.9h0m44.6-138.4h0m-111.5,225.9h0m58.6-8h0m7.3-159.4h0m67.4-32.1h0m16.6-34.5h0m-72.8,183.2h0m-70,23.7h0m52.2-96.6h0m-103.7,148.9h0m99.3-137.6h0m24.8,6.8h0m-34.5,66h0m11.4,9h0m31.1-7h0m-39.6,33.2h0m102.5-188.8h0m-106.4,178.5h0m-30.5-10.9h0m53.3-33.6h0m43.6-72.7h0m-120.8,144.6h0m135.8-160.3h0m-38.5-38.6h0m-91.9,183.7h0m26.9-4.6h0m46.3-105.8h0m42.9-81.7h0m-7.4,155.4h0m-86.4,37.4h0m95.8-248.1h0m-103.6,244.9h0m84.7-123.8h0m-141.2,183.2h0m131.2-64.8h0m15.1-187.6h0m-21.7,123.9h0m41.6-63.9h0m-55.1-19.5h0m79.7-83.9h0m-48.8,52.1h0m-60.3,171h0m-47,34h0m155.8-140.4h0m-105.7,101.8h0m66.7-133.1h0m23.1,5.1h0m-139.1,183.2h0m46.3-40.9h0m64.3-222h0m40.9,77.9h0m-109.3,160h0m6.3-90.6h0m-28.2,51h0m146.5-228.6h0m-59,78.2h0m22.9-5.5h0m-86.3,120.1h0m-29.1,78.4h0m91.3-160h0m50.8-6.5h0m-43.8,128h0m-118.3,8h0m100.4-88.2h0m-88.4,120.6h0m-47.4,28h0m106.4-146.8h0m40.5-37.9h0m5.1-38.8h0m12.9,115h0m9.3-153.7h0m-113.9,233.5h0m34.9-19.9h0m52.1-142.7h0m-115.6,186h0m104.3-139.1h0m-134.9,145.9h0m172.1-163.5h0m-98.8,83.1h0m-32.1,61.9h0m122.9-185.4h0m-84.7,77h0m94.3-116.5h0m-131.1,183h0m94.5-136.9h0m29.3,86.8h0m19.9-142.7h0m4.9,50.3h0m-43.4-40.3h0m-47.9,164.5h0m38.5-116.6h0m-49.8,3.3h0m117.7-105.4h0m-193.6,297.7h0m77-13.6h0m-104.6,13.7h0m110.2-45.6h0m6.2-51.4h0m52.2-29h0m-78.4,75.1h0m26.7-98.7h0m-29.8,120.8h0m92.8-87h0m-76,28.7h0m-8.4,61h0m20.3-8.6h0m106.5-229.4h0m-183.6,231.7h0m85.1-144.6h0m36.3-1.6h0m-21.7,114.7h0m40.7-100.6h0m-104.4,136.2h0m-9.6,1.8h0m72.5-153.3h0m-68.4,149.3h0m85.3-105.1h0m-23.7-4.8h0m35.3-87h0m46.9-20.1h0m-57.8,31.2h0m-35.5,152.5h0m85-182.7h0m-1.3,76.1h0m-96.2,124.8h0m-53.7,42.1h0m80.4-93.6h0m55-187.6h0m-21.5,151h0m-104.6,77.1h0m104.6-212.6h0m-104.5,240.5h0m5.9,6.8h0m0.4-23.9h0m40.9-77.7h0m57.7-77.5h0m20.8,56.1h0m-98.4,60.8h0m-43.5,72.3h0m-4.8,7.9h0m100-201.4h0m-73.3,180.4h0m-19.8-16.5h0m-3.1,30.2h0m138.5-175.4h0m-19.4,22h0m-108.6,113.2h0m116.1-62.8h0m-65.4,92.9h0m-14.6-73h0m74.5-7.7h0m-57.4-71.5h0m-22.4,113.2h0m-9.6,37h0m56.4-170.9h0m40,78.8h0m-81.4,86.3h0m114.8-182.4h0m-53.4-3.9h0m-47.3,192.4h0m17.4-83.1h0m-103,108.9h0m101.8-120.6h0m29.8-125.5h0m-18.1,145.3h0m-36.4-16.6h0m49.2-25.5h0m8.2-23.1h0m-3.1-82.4h0m-157.8,250.5h0m142.5-105.9h0m53.9-151.6h0m48-53.9h0m-95.3,220.1h0m-137.2,95h0m85.8-65.2h0m-21.7,2.2h0m-6.5,8.3h0m86.5-168.1h0m-33.7,17.7h0m16.4,34.7h0m18.1-49.5h0m-114.8,223.3h0m126.2-195.5h0m28.4-83.4h0m-133.3,231.7h0m85.4-75.8h0m-94.5,107h0m17.8-28.3h0m151.5-177.8h0m-6.5-89.3h0m-31.4,156h0m-51.4,23.7h0m14.2-22.7h0m20.2,35.1h0m-9.4,9.8h0m-32.8-16.6h0m-69.9,109h0m82.1-134.3h0m-17.5,82h0m67-162h0m-128.4,225.9h0m89.9-230.9h0m35.2,68.1h0m-20.5,8.6h0m-26.6-31.9h0m84.9-77.2h0m-37.6,43.1h0m-45.8,58.6h0m-15-63h0m-66.8,216.8h0m46.8-3.5h0m55.1-146.8h0m-80.3,130.3h0m30.1-10.8h0m52.8-195.7h0m29.1-12.5h0m-97.3,167.1h0m12.4,17.3h0m-75.8,65.6h0m90-45.9h0m15.4-43.4h0m-1.3-44.5h0m-44.9,72.5h0m31.9-117.5h0m-1.3,84h0m-23.3-5.1h0m6.8-43.8h0m92.3,36.1h0m-60.8,13.4h0m-6.2,34.6h0m51.9-58.5h0m-124.9,89.7h0m50-118.8h0m72.4-72.9h0m-14.8,89.4h0m-36.7,15.4h0m-38,56.3h0m81-70h0m-74.9,102.7h0m20.8-81.5h0m53.8,1.2h0m35.7-66.4h0m-60.5,46.6h0m17.4,0h0m-85.4,102.1h0m71.3-123.6h0m-39.5,36.9h0m57.9,5.1h0m15.2-58.1h0m-86.4,157.3h0m124.8-336.5h0m-54.8,136.1h0m-62.5,160h0m62.5-33.6h0m36.6-133.4h0m-3-92.9h0m-46.5,84.8h0m-15.9,113h0m27-52.4h0m-31.5,50.5h0m-0.8-110.8h0m19.2,108.9h0m-123,71.7h0m65.4-69.3h0m18.9,32.6h0m77.8-57.9h0m7-70.1h0m-34.7,111.1h0m0.3-41.4h0m-31.5-42.6h0m78,5.4h0m-104.9,75.6h0m17.7-4.6h0m80.4-170.4h0m-60.2,174.1h0m63.4-160.5h0m-12.3,0.6h0m-63,103.8h0m-34.5,112h0m95.9-76.7h0m11-133h0m-35,22.9h0m-88.9,173.9h0m90.2-25.8h0m-28.4-43.5h0m78.3-117.1h0m-85.5,200.1h0m51.6-191.5h0m-90.9,185.4h0m121.4-263.2h0m21.3-38.4h0m-165.2,290.6h0m129.7-162.6h0m-30.1,71.6h0m47.8-93.5h0m-14-7.7h0m-3.9-61.4h0m-113.7,251.2h0m91.2-97.9h0m69.7-104.6h0m-205.4,264.2h0m41.6-26.9h0m11.8-18.5h0m-10.2-10.4h0m43.1-126.7h0m95.9-51.2h0m-43.8,31.1h0m-68.1,131.8h0m84.9-105.9h0m-64.1,71.1h0m-21.9-81.8h0m-10.8,125.1h0m-71.8,54.7h0m173.5-168.9h0m-37.5,32.9h0m12.3-18.6h0m14.3-69.4h0m-109.6,156.5h0m-39,71.1h0m95.5-119.3h0m-179.3,120.3h0m245-319.9h0m-23.8,189.8h0m35.2-94.6h0m-148.7,223.6h0m-27.1-7.7h0m119.9-246.8h0m47.3-1.6h0m-57.2-2.6h0m-40.5,163.8h0m-2.6-49.4h0m9.2,36.3h0m40.3,33h0m-146.7,80.6h0m167.6-252.2h0m-19,43.2h0m-165.8,210h0m177.8-166.9h0m13.2-72.9h0m-80.1,106.4h0m24.9,73.7h0m-110.6,45.3h0m152.3-234.8h0m18.4-22.3h0m-26.9,129.8h0m-17.3,11.4h0m21.8,20.6h0m-50.7,40.4h0m56.4-141.5h0m-42.6,138.5h0m99.3-124.3h0m-50.4,75h0m-71.7,41h0m30.5-84.6h0m66.5-131.8h0m-46.7,118.2h0m35.1-38.5h0m-5,119.7h0m-19-106.3h0m-160.2,190.3h0m103.1-51.8h0m106.1-235.4h0m-70.9,139.7h0m-173.6,166.7h0m84.4-39.6h0m151.8-187.7h0m-82.8,35.6h0m-134.5,177h0m153.1-230h0m66.3-26.9h0m-61.9,140.2h0m-14.9-48.7h0m23.8-22h0m-62.8,81.6h0m77.7-136.8h0m-143,234.3h0m120.3-153.7h0m-15.1,61.8h0m-65.6,44.2h0m39.9-46.7h0m-1.9,16.9h0m106.7-70.8h0m-114.6,92h0m-8.3,32.3h0m15.6-77.8h0m-64.2,80.5h0m90.9-54.8h0m14.2,10h0m5.3-26.2h0m-18.4,12.2h0m-5.4-15.2h0m34.3-165.3h0m-101.8,230h0m132.7-211.5h0m-58.9,63.5h0m12.8-49.2h0m-32.1,110.6h0m13,98h0m-0.1-163.4h0m-3.2,119.3h0m-48.3,32.2h0m1.6-49.8h0m14.3,43.9h0m-26.2,19.3h0m87.6-177.9h0m-13.3,8.7h0m49.1-52.1h0m-65.3,137.2h0m7.8-87.1h0m2.3,98.1h0m-62.1,39.5h0m24.4-2.1h0m16.2,9.2h0m59-211.5h0m-61.7,185.2h0m-72.4,69.8h0m170.6-184.4h0m-37.8,73.2h0m-125,119h0m-17.1-8.5h0m180.7-311.8h0m-96.9,253.5h0m47-94.5h0m69.9-174.6h0m-80.7,238.7h0m-1.7-82.3h0m-43.3,123.1h0m3.9-104h0m46.2-168h0m110.6,65.4h0m-7.3,16.3h0m-310,259.1h0m159.7-13.4h0m-101.4-16.3h0" fill="none" stroke="#5ad6bd" stroke-width="6.9" stroke-linecap="round"/>
<path d="M1488.7,1410.4h0m10.5,13.7h0m4.8-37.8h0m-37.7,56.2h0m42.1-40.4h0m-37.2,24.5h0m31.1-17h0m-25.3,25.4h0m-2.8-24.6h0m19.8-1.6h0m-20.9,30.9h0m24.4-2.5h0m-12.9,4.6h0m15.2-11.2h0m-12.5-57.8h0m1.5,40.1h0m-19.3,19.1h0m18.9-73.8h0m-15.7,86.2h0m3.4-27.4h0m-5.4,0.5h0m11.8-18.5h0m-4.5,45.8h0m23.6-33.5h0m-11.7-21.6h0m22.1,27.8h0m-27.3-1h0m2.6,8.7h0m3.8-3.9h0m8.1,14.6h0m-2.4-69.3h0m-20.5,62.1h0m7-1.2h0m-0.6,3h0m-0.2-18.9h0m-12.7,19.3h0m16.5-33.6h0m0-31.3h0m-8.5,26.5h0m-8.3-50.9h0m-19.8,37.1h0m36.4-14.1h0m11.3-3.7h0m-2,10.4h0m4.6,3.7h0m-1.1,68h0m7.8-8.8h0m-16.5-41.9h0m-6.2,47.2h0m-0.9-27.8h0m-6.4-6.4h0m12.3,34.9h0m5.5-30.1h0m-0.6,9.2h0m9.2-59.1h0m-9.4,73.3h0m-8.6-22.6h0m9.6-10.9h0m-8.8,33.9h0m5.1,5.4h0m-4.1-5h0m9-14.7h0m-0.5,18.7h0m-10.7-40.7h0m-2.4,39.4h0m23.5-26.8h0m-5.4,25.9h0m2-7.7h0m-10-33.6h0m-3.7,34.5h0m15.1-7.7h0m-21.3,13.7h0m11-5.2h0m3.6,13.9h0m-21.8-16.4h0m-0.3,3.3h0m22.5,5.9h0m-18.4,4.1h0m0.9-5.6h0m23.3,1.7h0m6.5-2.5h0m-13.3-29.5h0m-6.5-14.8h0m-3.7-5h0m24.1,46.9h0m-5.1-42.6h0m-14.3,34.4h0m-9-63.7h0m16.4,82.1h0m-3.1-31.4h0m4.4,12.9h0m-6.8,4h0m-9.3-17h0m1.5-9.1h0m2,0.3h0m0.3,33.2h0m0.1-1.4h0m19.4-10.4h0m-14.3,21.1h0m9.5-40.2h0m-4.4,19.6h0m-0.5,7.3h0m-3.2-10.5h0m4-51.3h0m-15.8,36.2h0m9.3,13.8h0m3.2,20.5h0m-8.9-79.7h0m8.1,73.4h0m-2.6-45.8h0m-1.7,40.7h0m6.2-10.3h0m1.3-26.1h0m-6.3,52h0m9.5-7.1h0" fill="none" stroke="#fc9f76" stroke-width="6.9" stroke-linecap="round"/>
<path d="M1380.13,1074.4V1816.7" stroke="#4a4a4a" stroke-width="2" stroke-dasharray="16 10" fill="none"/>
<path d="M1036.4,1687.54H1698.7" stroke="#4a4a4a" stroke-width="2" stroke-dasharray="16 10" fill="none"/>
<g stroke="#262626" fill="none">
<rect x="1036.4" y="1074.4" width="662.3" height="742.3" stroke-width="3.8"/>
<path d="M1036.4,1074.4v-12.6M1036.4,1816.7v12.6M1168.86,1074.4v-12.6M1168.86,1816.7v12.6M1301.32,1074.4v-12.6M1301.32,1816.7v12.6M1433.78,1074.4v-12.6M1433.78,1816.7v12.6M1566.24,1074.4v-12.6M1566.24,1816.7v12.6M1698.7,1074.4v-12.6M1698.7,1816.7v12.6M1036.4,1816.7h-12.4M1698.7,1816.7h12.4M1036.4,1668.24h-12.4M1698.7,1668.24h12.4M1036.4,1519.78h-12.4M1698.7,1519.78h12.4M1036.4,1371.32h-12.4M1698.7,1371.32h12.4M1036.4,1222.86h-12.4M1698.7,1222.86h12.4M1036.4,1074.4h-12.4M1698.7,1074.4h12.4" stroke-width="3.8"/>
<path d="M1069.52,1074.4v-4.4M1069.52,1816.7v4.4M1102.63,1074.4v-4.4M1102.63,1816.7v4.4M1135.75,1074.4v-4.4M1135.75,1816.7v4.4M1201.98,1074.4v-4.4M1201.98,1816.7v4.4M1235.09,1074.4v-4.4M1235.09,1816.7v4.4M1268.21,1074.4v-4.4M1268.21,1816.7v4.4M1334.43,1074.4v-4.4M1334.43,1816.7v4.4M1367.55,1074.4v-4.4M1367.55,1816.7v4.4M1400.66,1074.4v-4.4M1400.66,1816.7v4.4M1466.89,1074.4v-4.4M1466.89,1816.7v4.4M1500.01,1074.4v-4.4M1500.01,1816.7v4.4M1533.12,1074.4v-4.4M1533.12,1816.7v4.4M1599.36,1074.4v-4.4M1599.36,1816.7v4.4M1632.47,1074.4v-4.4M1632.47,1816.7v4.4M1665.59,1074.4v-4.4M1665.59,1816.7v4.4M1036.4,1779.59h-4.4M1698.7,1779.59h4.4M1036.4,1742.47h-4.4M1698.7,1742.47h4.4M1036.4,1705.36h-4.4M1698.7,1705.36h4.4M1036.4,1631.12h-4.4M1698.7,1631.12h4.4M1036.4,1594.01h-4.4M1698.7,1594.01h4.4M1036.4,1556.89h-4.4M1698.7,1556.89h4.4M1036.4,1482.66h-4.4M1698.7,1482.66h4.4M1036.4,1445.55h-4.4M1698.7,1445.55h4.4M1036.4,1408.43h-4.4M1698.7,1408.43h4.4M1036.4,1334.2h-4.4M1698.7,1334.2h4.4M1036.4,1297.09h-4.4M1698.7,1297.09h4.4M1036.4,1259.97h-4.4M1698.7,1259.97h4.4M1036.4,1185.75h-4.4M1698.7,1185.75h4.4M1036.4,1148.63h-4.4M1698.7,1148.63h4.4M1036.4,1111.52h-4.4M1698.7,1111.52h4.4" stroke-width="2"/>
</g>
<text x="1025.1" y="1869.3" font-size="33.5" text-anchor="middle" fill="#262626">20</text>
<text x="1157.56" y="1869.3" font-size="33.5" text-anchor="middle" fill="#262626">22</text>
<text x="1290.02" y="1869.3" font-size="33.5" text-anchor="middle" fill="#262626">24</text>
<text x="1422.48" y="1869.3" font-size="33.5" text-anchor="middle" fill="#262626">26</text>
<text x="1554.94" y="1869.3" font-size="33.5" text-anchor="middle" fill="#262626">28</text>
<text x="1687.4" y="1869.3" font-size="33.5" text-anchor="middle" fill="#262626">30</text>
<text x="998.6" y="1828.5" font-size="33.5" text-anchor="end" fill="#262626">0</text>
<text x="998.6" y="1680.04" font-size="33.5" text-anchor="end" fill="#262626">2</text>
<text x="998.6" y="1531.58" font-size="33.5" text-anchor="end" fill="#262626">4</text>
<text x="998.6" y="1383.12" font-size="33.5" text-anchor="end" fill="#262626">6</text>
<text x="998.6" y="1234.66" font-size="33.5" text-anchor="end" fill="#262626">8</text>
<text x="998.6" y="1086.2" font-size="33.5" text-anchor="end" fill="#262626">10</text>
<text x="1371" y="1914.2" font-size="33" text-anchor="middle" fill="#262626">SST (°C)</text>
<text transform="translate(950.5 1438.7) rotate(-90)" font-size="33" text-anchor="middle" fill="#262626">Niño 3 precipitation (mm/day)</text>
<text x="1036" y="1052.8" font-size="40" text-anchor="start" fill="#000" font-weight="bold">f</text>
<text x="1689.5" y="1054.3" font-size="29" text-anchor="end" fill="#000">Slab ocean</text>
<text transform="translate(1362.8 1186) rotate(-90)" font-size="30" font-style="italic" text-anchor="middle">SST mean</text>
<text x="1097.1" y="1672.3" font-size="29.2" text-anchor="start" fill="#000" font-style="italic">precipitation mean</text>
</g>
</svg>
</body></html>
